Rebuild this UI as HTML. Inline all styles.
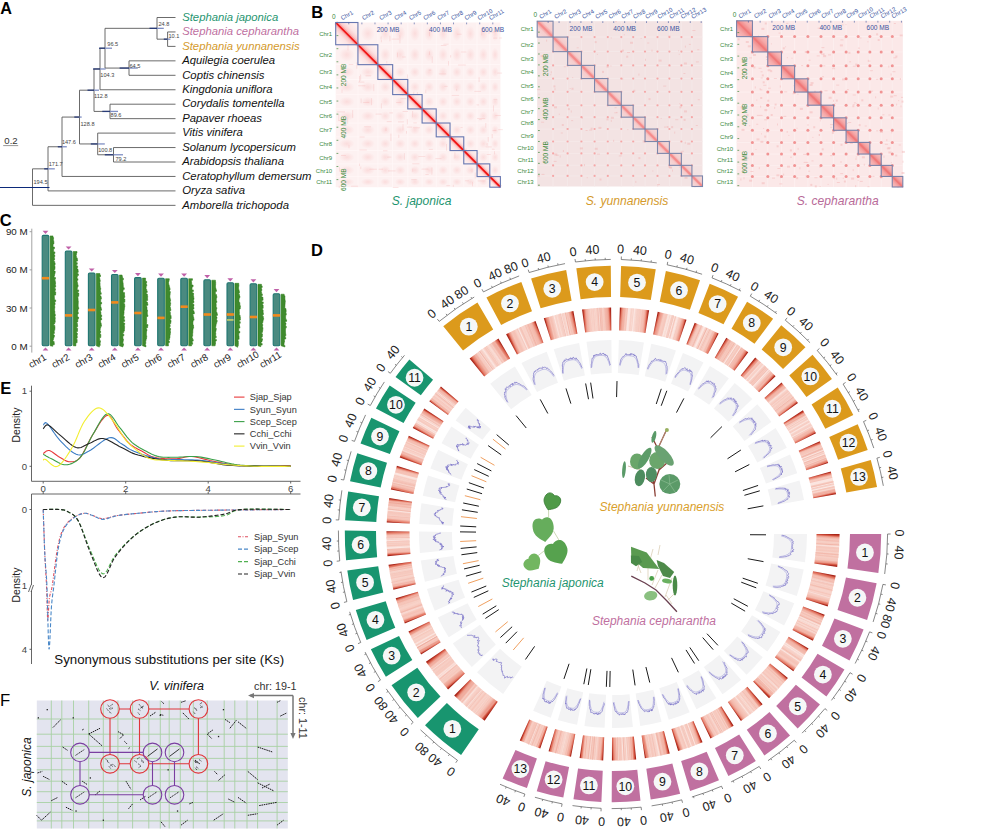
<!DOCTYPE html>
<html><head><meta charset="utf-8"><style>
html,body{margin:0;padding:0;background:#fff;}
body{width:1000px;height:830px;overflow:hidden;}
svg{display:block;font-family:"Liberation Sans", sans-serif;}
</style></head><body>
<svg width="1000" height="830" viewBox="0 0 1000 830">
<line x1="167.6" y1="31.95" x2="167.6" y2="46.40" stroke="#5a5a5a" stroke-width="0.9"/>
<line x1="167.6" y1="31.95" x2="175.5" y2="31.95" stroke="#5a5a5a" stroke-width="0.9"/>
<line x1="167.6" y1="46.40" x2="175.5" y2="46.40" stroke="#5a5a5a" stroke-width="0.9"/>
<line x1="157.0" y1="17.50" x2="157.0" y2="39.17" stroke="#5a5a5a" stroke-width="0.9"/>
<line x1="157.0" y1="17.50" x2="175.5" y2="17.50" stroke="#5a5a5a" stroke-width="0.9"/>
<line x1="157.0" y1="39.17" x2="167.6" y2="39.17" stroke="#5a5a5a" stroke-width="0.9"/>
<line x1="129.0" y1="60.85" x2="129.0" y2="75.30" stroke="#5a5a5a" stroke-width="0.9"/>
<line x1="129.0" y1="60.85" x2="175.5" y2="60.85" stroke="#5a5a5a" stroke-width="0.9"/>
<line x1="129.0" y1="75.30" x2="175.5" y2="75.30" stroke="#5a5a5a" stroke-width="0.9"/>
<line x1="105.0" y1="28.34" x2="105.0" y2="68.07" stroke="#5a5a5a" stroke-width="0.9"/>
<line x1="105.0" y1="28.34" x2="157.0" y2="28.34" stroke="#5a5a5a" stroke-width="0.9"/>
<line x1="105.0" y1="68.07" x2="129.0" y2="68.07" stroke="#5a5a5a" stroke-width="0.9"/>
<line x1="100.0" y1="48.21" x2="100.0" y2="89.75" stroke="#5a5a5a" stroke-width="0.9"/>
<line x1="100.0" y1="48.21" x2="105.0" y2="48.21" stroke="#5a5a5a" stroke-width="0.9"/>
<line x1="100.0" y1="89.75" x2="175.5" y2="89.75" stroke="#5a5a5a" stroke-width="0.9"/>
<line x1="110.0" y1="104.20" x2="110.0" y2="118.65" stroke="#5a5a5a" stroke-width="0.9"/>
<line x1="110.0" y1="104.20" x2="175.5" y2="104.20" stroke="#5a5a5a" stroke-width="0.9"/>
<line x1="110.0" y1="118.65" x2="175.5" y2="118.65" stroke="#5a5a5a" stroke-width="0.9"/>
<line x1="94.0" y1="68.98" x2="94.0" y2="111.42" stroke="#5a5a5a" stroke-width="0.9"/>
<line x1="94.0" y1="68.98" x2="100.0" y2="68.98" stroke="#5a5a5a" stroke-width="0.9"/>
<line x1="94.0" y1="111.42" x2="110.0" y2="111.42" stroke="#5a5a5a" stroke-width="0.9"/>
<line x1="113.5" y1="147.55" x2="113.5" y2="162.00" stroke="#5a5a5a" stroke-width="0.9"/>
<line x1="113.5" y1="147.55" x2="175.5" y2="147.55" stroke="#5a5a5a" stroke-width="0.9"/>
<line x1="113.5" y1="162.00" x2="175.5" y2="162.00" stroke="#5a5a5a" stroke-width="0.9"/>
<line x1="97.7" y1="133.10" x2="97.7" y2="154.77" stroke="#5a5a5a" stroke-width="0.9"/>
<line x1="97.7" y1="133.10" x2="175.5" y2="133.10" stroke="#5a5a5a" stroke-width="0.9"/>
<line x1="97.7" y1="154.77" x2="113.5" y2="154.77" stroke="#5a5a5a" stroke-width="0.9"/>
<line x1="79.5" y1="90.20" x2="79.5" y2="143.94" stroke="#5a5a5a" stroke-width="0.9"/>
<line x1="79.5" y1="90.20" x2="94.0" y2="90.20" stroke="#5a5a5a" stroke-width="0.9"/>
<line x1="79.5" y1="143.94" x2="97.7" y2="143.94" stroke="#5a5a5a" stroke-width="0.9"/>
<line x1="62.0" y1="117.07" x2="62.0" y2="176.45" stroke="#5a5a5a" stroke-width="0.9"/>
<line x1="62.0" y1="117.07" x2="79.5" y2="117.07" stroke="#5a5a5a" stroke-width="0.9"/>
<line x1="62.0" y1="176.45" x2="175.5" y2="176.45" stroke="#5a5a5a" stroke-width="0.9"/>
<line x1="48.0" y1="146.76" x2="48.0" y2="190.90" stroke="#5a5a5a" stroke-width="0.9"/>
<line x1="48.0" y1="146.76" x2="62.0" y2="146.76" stroke="#5a5a5a" stroke-width="0.9"/>
<line x1="48.0" y1="190.90" x2="175.5" y2="190.90" stroke="#5a5a5a" stroke-width="0.9"/>
<line x1="32.5" y1="168.83" x2="32.5" y2="205.35" stroke="#5a5a5a" stroke-width="0.9"/>
<line x1="32.5" y1="168.83" x2="48.0" y2="168.83" stroke="#5a5a5a" stroke-width="0.9"/>
<line x1="32.5" y1="205.35" x2="175.5" y2="205.35" stroke="#5a5a5a" stroke-width="0.9"/>
<line x1="149.5" y1="28.34" x2="157.0" y2="28.34" stroke="#2a3c78" stroke-width="1.3"/>
<line x1="157.0" y1="28.34" x2="163.8" y2="28.34" stroke="#7f8fc4" stroke-width="1.3"/>
<line x1="163.8" y1="39.17" x2="167.6" y2="39.17" stroke="#2a3c78" stroke-width="1.3"/>
<line x1="167.6" y1="39.17" x2="170.4" y2="39.17" stroke="#7f8fc4" stroke-width="1.3"/>
<line x1="99" y1="48.21" x2="105.0" y2="48.21" stroke="#2a3c78" stroke-width="1.3"/>
<line x1="105.0" y1="48.21" x2="112" y2="48.21" stroke="#7f8fc4" stroke-width="1.3"/>
<line x1="93" y1="68.98" x2="100.0" y2="68.98" stroke="#2a3c78" stroke-width="1.3"/>
<line x1="100.0" y1="68.98" x2="105.6" y2="68.98" stroke="#7f8fc4" stroke-width="1.3"/>
<line x1="119.6" y1="68.07" x2="129.0" y2="68.07" stroke="#2a3c78" stroke-width="1.3"/>
<line x1="129.0" y1="68.07" x2="137.8" y2="68.07" stroke="#7f8fc4" stroke-width="1.3"/>
<line x1="87.5" y1="90.20" x2="94.0" y2="90.20" stroke="#2a3c78" stroke-width="1.3"/>
<line x1="94.0" y1="90.20" x2="99" y2="90.20" stroke="#7f8fc4" stroke-width="1.3"/>
<line x1="102.3" y1="111.42" x2="110.0" y2="111.42" stroke="#2a3c78" stroke-width="1.3"/>
<line x1="110.0" y1="111.42" x2="118" y2="111.42" stroke="#7f8fc4" stroke-width="1.3"/>
<line x1="74.3" y1="117.07" x2="79.5" y2="117.07" stroke="#2a3c78" stroke-width="1.3"/>
<line x1="79.5" y1="117.07" x2="81.7" y2="117.07" stroke="#7f8fc4" stroke-width="1.3"/>
<line x1="90.8" y1="143.94" x2="97.7" y2="143.94" stroke="#2a3c78" stroke-width="1.3"/>
<line x1="97.7" y1="143.94" x2="104.8" y2="143.94" stroke="#7f8fc4" stroke-width="1.3"/>
<line x1="104.8" y1="154.77" x2="113.5" y2="154.77" stroke="#2a3c78" stroke-width="1.3"/>
<line x1="113.5" y1="154.77" x2="123" y2="154.77" stroke="#7f8fc4" stroke-width="1.3"/>
<line x1="57.8" y1="146.76" x2="62.0" y2="146.76" stroke="#2a3c78" stroke-width="1.3"/>
<line x1="62.0" y1="146.76" x2="66.8" y2="146.76" stroke="#7f8fc4" stroke-width="1.3"/>
<line x1="44.2" y1="168.83" x2="48.0" y2="168.83" stroke="#2a3c78" stroke-width="1.3"/>
<line x1="48.0" y1="168.83" x2="54.8" y2="168.83" stroke="#7f8fc4" stroke-width="1.3"/>
<line x1="0" y1="187.49" x2="49.5" y2="187.49" stroke="#0c2a7a" stroke-width="1.2"/>
<text x="158.4" y="25.5" font-size="5.6" fill="#444">24.8</text>
<text x="168.5" y="38.0" font-size="5.6" fill="#444">10.1</text>
<text x="107.3" y="46.0" font-size="5.6" fill="#444">96.5</text>
<text x="129.5" y="67.5" font-size="5.6" fill="#444">64.5</text>
<text x="100.3" y="77.3" font-size="5.6" fill="#444">104.3</text>
<text x="94" y="98.0" font-size="5.6" fill="#444">112.8</text>
<text x="110.6" y="117.2" font-size="5.6" fill="#444">89.6</text>
<text x="80.5" y="126.3" font-size="5.6" fill="#444">128.8</text>
<text x="61.9" y="143.9" font-size="5.6" fill="#444">147.6</text>
<text x="98.2" y="152.3" font-size="5.6" fill="#444">100.8</text>
<text x="115.5" y="160.9" font-size="5.6" fill="#444">79.2</text>
<text x="48.7" y="165.8" font-size="5.6" fill="#444">171.7</text>
<text x="33.5" y="184.0" font-size="5.6" fill="#444">194.5</text>
<text x="182.2" y="20.70" font-size="11.3" font-style="italic" fill="#1f9570">Stephania japonica</text>
<text x="182.2" y="35.15" font-size="11.3" font-style="italic" fill="#c0709f">Stephania cepharantha</text>
<text x="182.2" y="49.60" font-size="11.3" font-style="italic" fill="#d49a2c">Stephania yunnanensis</text>
<text x="182.2" y="64.05" font-size="11.3" font-style="italic" fill="#111">Aquilegia coerulea</text>
<text x="182.2" y="78.50" font-size="11.3" font-style="italic" fill="#111">Coptis chinensis</text>
<text x="182.2" y="92.95" font-size="11.3" font-style="italic" fill="#111">Kingdonia uniflora</text>
<text x="182.2" y="107.40" font-size="11.3" font-style="italic" fill="#111">Corydalis tomentella</text>
<text x="182.2" y="121.85" font-size="11.3" font-style="italic" fill="#111">Papaver rhoeas</text>
<text x="182.2" y="136.30" font-size="11.3" font-style="italic" fill="#111">Vitis vinifera</text>
<text x="182.2" y="150.75" font-size="11.3" font-style="italic" fill="#111">Solanum lycopersicum</text>
<text x="182.2" y="165.20" font-size="11.3" font-style="italic" fill="#111">Arabidopsis thaliana</text>
<text x="182.2" y="179.65" font-size="11.3" font-style="italic" fill="#111">Ceratophyllum demersum</text>
<text x="182.2" y="194.10" font-size="11.3" font-style="italic" fill="#111">Oryza sativa</text>
<text x="182.2" y="208.55" font-size="11.3" font-style="italic" fill="#111">Amborella trichopoda</text>
<text x="4.3" y="144" font-size="9.6" fill="#333">0.2</text>
<line x1="3.2" y1="145.6" x2="18.2" y2="145.6" stroke="#999" stroke-width="1"/>
<text x="0.2" y="14.4" font-size="16.2" font-weight="bold" fill="#000">A</text>
<text x="311.2" y="17.8" font-size="16.5" font-weight="bold" fill="#000">B</text>
<linearGradient id="hg_jap" x1="1" y1="0" x2="0" y2="1"><stop offset="0.1" stop-color="#fdf1f1"/><stop offset="0.3" stop-color="#fce4e4"/><stop offset="0.42" stop-color="#fac8c8"/><stop offset="0.5" stop-color="#f8a0a0"/><stop offset="0.58" stop-color="#fac8c8"/><stop offset="0.7" stop-color="#fce4e4"/><stop offset="0.9" stop-color="#fdf1f1"/></linearGradient>
<rect x="335.70" y="22.50" width="164.70" height="164.70" fill="#fdf1f1"/>
<line x1="357.93" y1="22.50" x2="357.93" y2="187.20" stroke="#fff8f8" stroke-width="0.8"/>
<line x1="335.70" y1="44.73" x2="500.40" y2="44.73" stroke="#fff8f8" stroke-width="0.8"/>
<line x1="377.85" y1="22.50" x2="377.85" y2="187.20" stroke="#fff8f8" stroke-width="0.8"/>
<line x1="335.70" y1="64.65" x2="500.40" y2="64.65" stroke="#fff8f8" stroke-width="0.8"/>
<line x1="392.67" y1="22.50" x2="392.67" y2="187.20" stroke="#fff8f8" stroke-width="0.8"/>
<line x1="335.70" y1="79.47" x2="500.40" y2="79.47" stroke="#fff8f8" stroke-width="0.8"/>
<line x1="407.79" y1="22.50" x2="407.79" y2="187.20" stroke="#fff8f8" stroke-width="0.8"/>
<line x1="335.70" y1="94.59" x2="500.40" y2="94.59" stroke="#fff8f8" stroke-width="0.8"/>
<line x1="422.10" y1="22.50" x2="422.10" y2="187.20" stroke="#fff8f8" stroke-width="0.8"/>
<line x1="335.70" y1="108.90" x2="500.40" y2="108.90" stroke="#fff8f8" stroke-width="0.8"/>
<line x1="436.22" y1="22.50" x2="436.22" y2="187.20" stroke="#fff8f8" stroke-width="0.8"/>
<line x1="335.70" y1="123.02" x2="500.40" y2="123.02" stroke="#fff8f8" stroke-width="0.8"/>
<line x1="450.04" y1="22.50" x2="450.04" y2="187.20" stroke="#fff8f8" stroke-width="0.8"/>
<line x1="335.70" y1="136.84" x2="500.40" y2="136.84" stroke="#fff8f8" stroke-width="0.8"/>
<line x1="463.76" y1="22.50" x2="463.76" y2="187.20" stroke="#fff8f8" stroke-width="0.8"/>
<line x1="335.70" y1="150.56" x2="500.40" y2="150.56" stroke="#fff8f8" stroke-width="0.8"/>
<line x1="477.07" y1="22.50" x2="477.07" y2="187.20" stroke="#fff8f8" stroke-width="0.8"/>
<line x1="335.70" y1="163.87" x2="500.40" y2="163.87" stroke="#fff8f8" stroke-width="0.8"/>
<line x1="489.79" y1="22.50" x2="489.79" y2="187.20" stroke="#fff8f8" stroke-width="0.8"/>
<line x1="335.70" y1="176.59" x2="500.40" y2="176.59" stroke="#fff8f8" stroke-width="0.8"/>
<radialGradient id="blob"><stop offset="0" stop-color="#f7b0b0" stop-opacity="0.32"/><stop offset="1" stop-color="#f7b0b0" stop-opacity="0"/></radialGradient>
<ellipse cx="346.8" cy="54.7" rx="7.8" ry="7.0" fill="url(#blob)"/>
<ellipse cx="346.8" cy="72.1" rx="7.8" ry="5.2" fill="url(#blob)"/>
<ellipse cx="346.8" cy="87.0" rx="7.8" ry="5.3" fill="url(#blob)"/>
<ellipse cx="346.8" cy="101.7" rx="7.8" ry="5.0" fill="url(#blob)"/>
<ellipse cx="346.8" cy="116.0" rx="7.8" ry="4.9" fill="url(#blob)"/>
<ellipse cx="346.8" cy="129.9" rx="7.8" ry="4.8" fill="url(#blob)"/>
<ellipse cx="346.8" cy="143.7" rx="7.8" ry="4.8" fill="url(#blob)"/>
<ellipse cx="346.8" cy="157.2" rx="7.8" ry="4.7" fill="url(#blob)"/>
<ellipse cx="346.8" cy="170.2" rx="7.8" ry="4.5" fill="url(#blob)"/>
<ellipse cx="346.8" cy="181.9" rx="7.8" ry="3.7" fill="url(#blob)"/>
<ellipse cx="367.9" cy="33.6" rx="7.0" ry="7.8" fill="url(#blob)"/>
<ellipse cx="367.9" cy="72.1" rx="7.0" ry="5.2" fill="url(#blob)"/>
<ellipse cx="367.9" cy="87.0" rx="7.0" ry="5.3" fill="url(#blob)"/>
<ellipse cx="367.9" cy="101.7" rx="7.0" ry="5.0" fill="url(#blob)"/>
<ellipse cx="367.9" cy="116.0" rx="7.0" ry="4.9" fill="url(#blob)"/>
<ellipse cx="367.9" cy="129.9" rx="7.0" ry="4.8" fill="url(#blob)"/>
<ellipse cx="367.9" cy="143.7" rx="7.0" ry="4.8" fill="url(#blob)"/>
<ellipse cx="367.9" cy="157.2" rx="7.0" ry="4.7" fill="url(#blob)"/>
<ellipse cx="367.9" cy="170.2" rx="7.0" ry="4.5" fill="url(#blob)"/>
<ellipse cx="367.9" cy="181.9" rx="7.0" ry="3.7" fill="url(#blob)"/>
<ellipse cx="385.3" cy="33.6" rx="5.2" ry="7.8" fill="url(#blob)"/>
<ellipse cx="385.3" cy="54.7" rx="5.2" ry="7.0" fill="url(#blob)"/>
<ellipse cx="385.3" cy="87.0" rx="5.2" ry="5.3" fill="url(#blob)"/>
<ellipse cx="385.3" cy="101.7" rx="5.2" ry="5.0" fill="url(#blob)"/>
<ellipse cx="385.3" cy="116.0" rx="5.2" ry="4.9" fill="url(#blob)"/>
<ellipse cx="385.3" cy="129.9" rx="5.2" ry="4.8" fill="url(#blob)"/>
<ellipse cx="385.3" cy="143.7" rx="5.2" ry="4.8" fill="url(#blob)"/>
<ellipse cx="385.3" cy="157.2" rx="5.2" ry="4.7" fill="url(#blob)"/>
<ellipse cx="385.3" cy="170.2" rx="5.2" ry="4.5" fill="url(#blob)"/>
<ellipse cx="385.3" cy="181.9" rx="5.2" ry="3.7" fill="url(#blob)"/>
<ellipse cx="400.2" cy="33.6" rx="5.3" ry="7.8" fill="url(#blob)"/>
<ellipse cx="400.2" cy="54.7" rx="5.3" ry="7.0" fill="url(#blob)"/>
<ellipse cx="400.2" cy="72.1" rx="5.3" ry="5.2" fill="url(#blob)"/>
<ellipse cx="400.2" cy="101.7" rx="5.3" ry="5.0" fill="url(#blob)"/>
<ellipse cx="400.2" cy="116.0" rx="5.3" ry="4.9" fill="url(#blob)"/>
<ellipse cx="400.2" cy="129.9" rx="5.3" ry="4.8" fill="url(#blob)"/>
<ellipse cx="400.2" cy="143.7" rx="5.3" ry="4.8" fill="url(#blob)"/>
<ellipse cx="400.2" cy="157.2" rx="5.3" ry="4.7" fill="url(#blob)"/>
<ellipse cx="400.2" cy="170.2" rx="5.3" ry="4.5" fill="url(#blob)"/>
<ellipse cx="400.2" cy="181.9" rx="5.3" ry="3.7" fill="url(#blob)"/>
<ellipse cx="414.9" cy="33.6" rx="5.0" ry="7.8" fill="url(#blob)"/>
<ellipse cx="414.9" cy="54.7" rx="5.0" ry="7.0" fill="url(#blob)"/>
<ellipse cx="414.9" cy="72.1" rx="5.0" ry="5.2" fill="url(#blob)"/>
<ellipse cx="414.9" cy="87.0" rx="5.0" ry="5.3" fill="url(#blob)"/>
<ellipse cx="414.9" cy="116.0" rx="5.0" ry="4.9" fill="url(#blob)"/>
<ellipse cx="414.9" cy="129.9" rx="5.0" ry="4.8" fill="url(#blob)"/>
<ellipse cx="414.9" cy="143.7" rx="5.0" ry="4.8" fill="url(#blob)"/>
<ellipse cx="414.9" cy="157.2" rx="5.0" ry="4.7" fill="url(#blob)"/>
<ellipse cx="414.9" cy="170.2" rx="5.0" ry="4.5" fill="url(#blob)"/>
<ellipse cx="414.9" cy="181.9" rx="5.0" ry="3.7" fill="url(#blob)"/>
<ellipse cx="429.2" cy="33.6" rx="4.9" ry="7.8" fill="url(#blob)"/>
<ellipse cx="429.2" cy="54.7" rx="4.9" ry="7.0" fill="url(#blob)"/>
<ellipse cx="429.2" cy="72.1" rx="4.9" ry="5.2" fill="url(#blob)"/>
<ellipse cx="429.2" cy="87.0" rx="4.9" ry="5.3" fill="url(#blob)"/>
<ellipse cx="429.2" cy="101.7" rx="4.9" ry="5.0" fill="url(#blob)"/>
<ellipse cx="429.2" cy="129.9" rx="4.9" ry="4.8" fill="url(#blob)"/>
<ellipse cx="429.2" cy="143.7" rx="4.9" ry="4.8" fill="url(#blob)"/>
<ellipse cx="429.2" cy="157.2" rx="4.9" ry="4.7" fill="url(#blob)"/>
<ellipse cx="429.2" cy="170.2" rx="4.9" ry="4.5" fill="url(#blob)"/>
<ellipse cx="429.2" cy="181.9" rx="4.9" ry="3.7" fill="url(#blob)"/>
<ellipse cx="443.1" cy="33.6" rx="4.8" ry="7.8" fill="url(#blob)"/>
<ellipse cx="443.1" cy="54.7" rx="4.8" ry="7.0" fill="url(#blob)"/>
<ellipse cx="443.1" cy="72.1" rx="4.8" ry="5.2" fill="url(#blob)"/>
<ellipse cx="443.1" cy="87.0" rx="4.8" ry="5.3" fill="url(#blob)"/>
<ellipse cx="443.1" cy="101.7" rx="4.8" ry="5.0" fill="url(#blob)"/>
<ellipse cx="443.1" cy="116.0" rx="4.8" ry="4.9" fill="url(#blob)"/>
<ellipse cx="443.1" cy="143.7" rx="4.8" ry="4.8" fill="url(#blob)"/>
<ellipse cx="443.1" cy="157.2" rx="4.8" ry="4.7" fill="url(#blob)"/>
<ellipse cx="443.1" cy="170.2" rx="4.8" ry="4.5" fill="url(#blob)"/>
<ellipse cx="443.1" cy="181.9" rx="4.8" ry="3.7" fill="url(#blob)"/>
<ellipse cx="456.9" cy="33.6" rx="4.8" ry="7.8" fill="url(#blob)"/>
<ellipse cx="456.9" cy="54.7" rx="4.8" ry="7.0" fill="url(#blob)"/>
<ellipse cx="456.9" cy="72.1" rx="4.8" ry="5.2" fill="url(#blob)"/>
<ellipse cx="456.9" cy="87.0" rx="4.8" ry="5.3" fill="url(#blob)"/>
<ellipse cx="456.9" cy="101.7" rx="4.8" ry="5.0" fill="url(#blob)"/>
<ellipse cx="456.9" cy="116.0" rx="4.8" ry="4.9" fill="url(#blob)"/>
<ellipse cx="456.9" cy="129.9" rx="4.8" ry="4.8" fill="url(#blob)"/>
<ellipse cx="456.9" cy="157.2" rx="4.8" ry="4.7" fill="url(#blob)"/>
<ellipse cx="456.9" cy="170.2" rx="4.8" ry="4.5" fill="url(#blob)"/>
<ellipse cx="456.9" cy="181.9" rx="4.8" ry="3.7" fill="url(#blob)"/>
<ellipse cx="470.4" cy="33.6" rx="4.7" ry="7.8" fill="url(#blob)"/>
<ellipse cx="470.4" cy="54.7" rx="4.7" ry="7.0" fill="url(#blob)"/>
<ellipse cx="470.4" cy="72.1" rx="4.7" ry="5.2" fill="url(#blob)"/>
<ellipse cx="470.4" cy="87.0" rx="4.7" ry="5.3" fill="url(#blob)"/>
<ellipse cx="470.4" cy="101.7" rx="4.7" ry="5.0" fill="url(#blob)"/>
<ellipse cx="470.4" cy="116.0" rx="4.7" ry="4.9" fill="url(#blob)"/>
<ellipse cx="470.4" cy="129.9" rx="4.7" ry="4.8" fill="url(#blob)"/>
<ellipse cx="470.4" cy="143.7" rx="4.7" ry="4.8" fill="url(#blob)"/>
<ellipse cx="470.4" cy="170.2" rx="4.7" ry="4.5" fill="url(#blob)"/>
<ellipse cx="470.4" cy="181.9" rx="4.7" ry="3.7" fill="url(#blob)"/>
<ellipse cx="483.4" cy="33.6" rx="4.5" ry="7.8" fill="url(#blob)"/>
<ellipse cx="483.4" cy="54.7" rx="4.5" ry="7.0" fill="url(#blob)"/>
<ellipse cx="483.4" cy="72.1" rx="4.5" ry="5.2" fill="url(#blob)"/>
<ellipse cx="483.4" cy="87.0" rx="4.5" ry="5.3" fill="url(#blob)"/>
<ellipse cx="483.4" cy="101.7" rx="4.5" ry="5.0" fill="url(#blob)"/>
<ellipse cx="483.4" cy="116.0" rx="4.5" ry="4.9" fill="url(#blob)"/>
<ellipse cx="483.4" cy="129.9" rx="4.5" ry="4.8" fill="url(#blob)"/>
<ellipse cx="483.4" cy="143.7" rx="4.5" ry="4.8" fill="url(#blob)"/>
<ellipse cx="483.4" cy="157.2" rx="4.5" ry="4.7" fill="url(#blob)"/>
<ellipse cx="483.4" cy="181.9" rx="4.5" ry="3.7" fill="url(#blob)"/>
<ellipse cx="495.1" cy="33.6" rx="3.7" ry="7.8" fill="url(#blob)"/>
<ellipse cx="495.1" cy="54.7" rx="3.7" ry="7.0" fill="url(#blob)"/>
<ellipse cx="495.1" cy="72.1" rx="3.7" ry="5.2" fill="url(#blob)"/>
<ellipse cx="495.1" cy="87.0" rx="3.7" ry="5.3" fill="url(#blob)"/>
<ellipse cx="495.1" cy="101.7" rx="3.7" ry="5.0" fill="url(#blob)"/>
<ellipse cx="495.1" cy="116.0" rx="3.7" ry="4.9" fill="url(#blob)"/>
<ellipse cx="495.1" cy="129.9" rx="3.7" ry="4.8" fill="url(#blob)"/>
<ellipse cx="495.1" cy="143.7" rx="3.7" ry="4.8" fill="url(#blob)"/>
<ellipse cx="495.1" cy="157.2" rx="3.7" ry="4.7" fill="url(#blob)"/>
<ellipse cx="495.1" cy="170.2" rx="3.7" ry="4.5" fill="url(#blob)"/>
<rect x="359.5" y="149.6" width="7.2" height="0.8" fill="#f4a8a8" opacity="0.35"/>
<rect x="460.5" y="127.0" width="2.1" height="0.8" fill="#f4a8a8" opacity="0.35"/>
<rect x="416.9" y="92.0" width="0.8" height="4.1" fill="#f4a8a8" opacity="0.35"/>
<rect x="413.4" y="122.5" width="3.4" height="0.8" fill="#f4a8a8" opacity="0.35"/>
<rect x="360.7" y="98.5" width="0.8" height="4.7" fill="#f4a8a8" opacity="0.35"/>
<rect x="380.9" y="39.8" width="0.8" height="2.5" fill="#f4a8a8" opacity="0.35"/>
<rect x="390.5" y="133.7" width="0.8" height="7.4" fill="#f4a8a8" opacity="0.35"/>
<rect x="360.3" y="74.5" width="0.8" height="6.2" fill="#f4a8a8" opacity="0.35"/>
<rect x="380.9" y="103.3" width="0.8" height="5.2" fill="#f4a8a8" opacity="0.35"/>
<rect x="411.2" y="179.3" width="5.5" height="0.8" fill="#f4a8a8" opacity="0.35"/>
<rect x="358.3" y="81.7" width="6.1" height="0.8" fill="#f4a8a8" opacity="0.35"/>
<rect x="498.2" y="129.3" width="4.6" height="0.8" fill="#f4a8a8" opacity="0.35"/>
<rect x="402.2" y="56.6" width="3.5" height="0.8" fill="#f4a8a8" opacity="0.35"/>
<rect x="431.5" y="167.5" width="0.8" height="7.2" fill="#f4a8a8" opacity="0.35"/>
<rect x="392.0" y="81.5" width="0.8" height="5.4" fill="#f4a8a8" opacity="0.35"/>
<rect x="351.1" y="185.8" width="7.1" height="0.8" fill="#f4a8a8" opacity="0.35"/>
<rect x="339.0" y="167.3" width="0.8" height="4.4" fill="#f4a8a8" opacity="0.35"/>
<rect x="446.3" y="185.3" width="3.9" height="0.8" fill="#f4a8a8" opacity="0.35"/>
<rect x="399.9" y="94.8" width="8.0" height="0.8" fill="#f4a8a8" opacity="0.35"/>
<rect x="413.4" y="91.7" width="0.8" height="7.4" fill="#f4a8a8" opacity="0.35"/>
<rect x="371.1" y="98.2" width="0.8" height="6.9" fill="#f4a8a8" opacity="0.35"/>
<rect x="428.8" y="148.9" width="4.0" height="0.8" fill="#f4a8a8" opacity="0.35"/>
<rect x="359.6" y="136.6" width="4.9" height="0.8" fill="#f4a8a8" opacity="0.35"/>
<rect x="457.2" y="33.8" width="4.4" height="0.8" fill="#f4a8a8" opacity="0.35"/>
<rect x="472.2" y="181.9" width="0.8" height="4.4" fill="#f4a8a8" opacity="0.35"/>
<rect x="386.4" y="61.0" width="0.8" height="2.3" fill="#f4a8a8" opacity="0.35"/>
<rect x="341.0" y="155.0" width="4.9" height="0.8" fill="#f4a8a8" opacity="0.35"/>
<rect x="387.1" y="156.7" width="4.2" height="0.8" fill="#f4a8a8" opacity="0.35"/>
<rect x="380.7" y="36.3" width="0.8" height="3.0" fill="#f4a8a8" opacity="0.35"/>
<rect x="485.6" y="146.5" width="6.0" height="0.8" fill="#f4a8a8" opacity="0.35"/>
<rect x="477.1" y="118.2" width="8.0" height="0.8" fill="#f4a8a8" opacity="0.35"/>
<rect x="493.2" y="105.4" width="0.8" height="6.1" fill="#f4a8a8" opacity="0.35"/>
<rect x="441.4" y="138.6" width="4.4" height="0.8" fill="#f4a8a8" opacity="0.35"/>
<rect x="425.4" y="89.6" width="0.8" height="3.6" fill="#f4a8a8" opacity="0.35"/>
<rect x="359.0" y="76.0" width="0.8" height="5.9" fill="#f4a8a8" opacity="0.35"/>
<rect x="347.6" y="42.5" width="0.8" height="7.9" fill="#f4a8a8" opacity="0.35"/>
<rect x="460.9" y="51.6" width="5.4" height="0.8" fill="#f4a8a8" opacity="0.35"/>
<rect x="402.6" y="111.0" width="5.4" height="0.8" fill="#f4a8a8" opacity="0.35"/>
<rect x="343.1" y="41.6" width="7.5" height="0.8" fill="#f4a8a8" opacity="0.35"/>
<rect x="418.5" y="156.1" width="6.8" height="0.8" fill="#f4a8a8" opacity="0.35"/>
<rect x="378.7" y="168.8" width="4.5" height="0.8" fill="#f4a8a8" opacity="0.35"/>
<rect x="382.1" y="73.1" width="5.6" height="0.8" fill="#f4a8a8" opacity="0.35"/>
<rect x="487.8" y="137.0" width="0.8" height="4.7" fill="#f4a8a8" opacity="0.35"/>
<rect x="429.2" y="31.8" width="0.8" height="4.3" fill="#f4a8a8" opacity="0.35"/>
<rect x="488.6" y="31.3" width="0.8" height="2.8" fill="#f4a8a8" opacity="0.35"/>
<rect x="398.4" y="134.7" width="0.8" height="3.2" fill="#f4a8a8" opacity="0.35"/>
<rect x="486.7" y="154.0" width="4.0" height="0.8" fill="#f4a8a8" opacity="0.35"/>
<rect x="452.9" y="184.7" width="0.8" height="2.1" fill="#f4a8a8" opacity="0.35"/>
<rect x="388.0" y="170.5" width="7.5" height="0.8" fill="#f4a8a8" opacity="0.35"/>
<rect x="491.8" y="134.0" width="0.8" height="4.2" fill="#f4a8a8" opacity="0.35"/>
<rect x="478.9" y="119.3" width="3.0" height="0.8" fill="#f4a8a8" opacity="0.35"/>
<rect x="406.2" y="131.0" width="0.8" height="2.6" fill="#f4a8a8" opacity="0.35"/>
<rect x="413.1" y="127.4" width="6.8" height="0.8" fill="#f4a8a8" opacity="0.35"/>
<rect x="454.5" y="152.4" width="0.8" height="6.0" fill="#f4a8a8" opacity="0.35"/>
<rect x="478.7" y="77.2" width="0.8" height="4.8" fill="#f4a8a8" opacity="0.35"/>
<rect x="345.2" y="81.5" width="2.4" height="0.8" fill="#f4a8a8" opacity="0.35"/>
<rect x="383.0" y="150.4" width="4.4" height="0.8" fill="#f4a8a8" opacity="0.35"/>
<rect x="392.2" y="29.2" width="4.5" height="0.8" fill="#f4a8a8" opacity="0.35"/>
<rect x="426.3" y="116.6" width="2.7" height="0.8" fill="#f4a8a8" opacity="0.35"/>
<rect x="398.0" y="121.5" width="5.9" height="0.8" fill="#f4a8a8" opacity="0.35"/>
<rect x="480.1" y="167.1" width="5.7" height="0.8" fill="#f4a8a8" opacity="0.35"/>
<rect x="371.9" y="56.7" width="0.8" height="6.2" fill="#f4a8a8" opacity="0.35"/>
<rect x="400.4" y="98.3" width="5.9" height="0.8" fill="#f4a8a8" opacity="0.35"/>
<rect x="358.1" y="85.4" width="7.2" height="0.8" fill="#f4a8a8" opacity="0.35"/>
<rect x="470.5" y="152.8" width="7.9" height="0.8" fill="#f4a8a8" opacity="0.35"/>
<rect x="485.2" y="178.6" width="5.9" height="0.8" fill="#f4a8a8" opacity="0.35"/>
<rect x="389.5" y="35.8" width="0.8" height="5.4" fill="#f4a8a8" opacity="0.35"/>
<rect x="402.3" y="88.4" width="0.8" height="7.3" fill="#f4a8a8" opacity="0.35"/>
<rect x="397.0" y="52.5" width="0.8" height="4.8" fill="#f4a8a8" opacity="0.35"/>
<rect x="360.4" y="166.6" width="0.8" height="2.6" fill="#f4a8a8" opacity="0.35"/>
<rect x="338.7" y="120.2" width="6.4" height="0.8" fill="#f4a8a8" opacity="0.35"/>
<rect x="465.7" y="148.5" width="0.8" height="5.4" fill="#f4a8a8" opacity="0.35"/>
<rect x="407.1" y="74.5" width="0.8" height="3.7" fill="#f4a8a8" opacity="0.35"/>
<rect x="459.8" y="138.0" width="0.8" height="3.2" fill="#f4a8a8" opacity="0.35"/>
<rect x="451.7" y="94.9" width="7.4" height="0.8" fill="#f4a8a8" opacity="0.35"/>
<rect x="474.8" y="172.6" width="0.8" height="5.8" fill="#f4a8a8" opacity="0.35"/>
<rect x="485.4" y="123.0" width="0.8" height="4.5" fill="#f4a8a8" opacity="0.35"/>
<rect x="450.3" y="55.1" width="0.8" height="2.4" fill="#f4a8a8" opacity="0.35"/>
<rect x="406.9" y="119.1" width="0.8" height="5.3" fill="#f4a8a8" opacity="0.35"/>
<rect x="464.9" y="180.4" width="3.9" height="0.8" fill="#f4a8a8" opacity="0.35"/>
<rect x="352.3" y="110.2" width="0.8" height="7.6" fill="#f4a8a8" opacity="0.35"/>
<rect x="458.0" y="64.6" width="7.8" height="0.8" fill="#f4a8a8" opacity="0.35"/>
<rect x="412.4" y="168.6" width="0.8" height="3.1" fill="#f4a8a8" opacity="0.35"/>
<rect x="492.0" y="148.8" width="2.6" height="0.8" fill="#f4a8a8" opacity="0.35"/>
<rect x="363.2" y="102.2" width="6.1" height="0.8" fill="#f4a8a8" opacity="0.35"/>
<rect x="495.4" y="115.0" width="5.5" height="0.8" fill="#f4a8a8" opacity="0.35"/>
<rect x="373.4" y="84.0" width="0.8" height="7.2" fill="#f4a8a8" opacity="0.35"/>
<rect x="338.4" y="114.0" width="0.8" height="6.9" fill="#f4a8a8" opacity="0.35"/>
<rect x="493.2" y="37.7" width="4.1" height="0.8" fill="#f4a8a8" opacity="0.35"/>
<rect x="448.1" y="61.1" width="0.8" height="4.4" fill="#f4a8a8" opacity="0.35"/>
<rect x="471.6" y="168.8" width="0.8" height="3.6" fill="#f4a8a8" opacity="0.35"/>
<rect x="386.7" y="121.3" width="5.0" height="0.8" fill="#f4a8a8" opacity="0.35"/>
<rect x="421.6" y="168.7" width="6.8" height="0.8" fill="#f4a8a8" opacity="0.35"/>
<rect x="444.4" y="85.9" width="3.3" height="0.8" fill="#f4a8a8" opacity="0.35"/>
<rect x="481.4" y="27.9" width="0.8" height="7.5" fill="#f4a8a8" opacity="0.35"/>
<rect x="338.8" y="185.8" width="0.8" height="2.3" fill="#f4a8a8" opacity="0.35"/>
<rect x="499.2" y="37.6" width="2.9" height="0.8" fill="#f4a8a8" opacity="0.35"/>
<rect x="425.4" y="174.2" width="3.3" height="0.8" fill="#f4a8a8" opacity="0.35"/>
<rect x="389.2" y="112.5" width="3.8" height="0.8" fill="#f4a8a8" opacity="0.35"/>
<rect x="464.1" y="157.3" width="0.8" height="3.4" fill="#f4a8a8" opacity="0.35"/>
<rect x="456.3" y="88.8" width="0.8" height="2.0" fill="#f4a8a8" opacity="0.35"/>
<rect x="399.5" y="35.3" width="0.8" height="8.0" fill="#f4a8a8" opacity="0.35"/>
<rect x="347.3" y="117.6" width="0.8" height="6.2" fill="#f4a8a8" opacity="0.35"/>
<rect x="446.0" y="144.0" width="0.8" height="6.6" fill="#f4a8a8" opacity="0.35"/>
<rect x="497.3" y="72.7" width="4.8" height="0.8" fill="#f4a8a8" opacity="0.35"/>
<rect x="337.0" y="111.5" width="8.0" height="0.8" fill="#f4a8a8" opacity="0.35"/>
<rect x="494.2" y="151.2" width="0.8" height="3.1" fill="#f4a8a8" opacity="0.35"/>
<rect x="396.1" y="102.2" width="5.2" height="0.8" fill="#f4a8a8" opacity="0.35"/>
<rect x="435.4" y="158.3" width="6.1" height="0.8" fill="#f4a8a8" opacity="0.35"/>
<rect x="412.3" y="111.0" width="0.8" height="6.3" fill="#f4a8a8" opacity="0.35"/>
<rect x="492.6" y="130.2" width="3.8" height="0.8" fill="#f4a8a8" opacity="0.35"/>
<rect x="375.6" y="113.7" width="6.0" height="0.8" fill="#f4a8a8" opacity="0.35"/>
<rect x="438.8" y="73.5" width="7.3" height="0.8" fill="#f4a8a8" opacity="0.35"/>
<rect x="493.6" y="99.3" width="3.6" height="0.8" fill="#f4a8a8" opacity="0.35"/>
<rect x="429.2" y="51.4" width="0.8" height="3.4" fill="#f4a8a8" opacity="0.35"/>
<rect x="348.6" y="144.7" width="0.8" height="3.5" fill="#f4a8a8" opacity="0.35"/>
<rect x="440.9" y="45.0" width="5.6" height="0.8" fill="#f4a8a8" opacity="0.35"/>
<rect x="412.3" y="163.4" width="7.1" height="0.8" fill="#f4a8a8" opacity="0.35"/>
<rect x="476.6" y="104.5" width="2.5" height="0.8" fill="#f4a8a8" opacity="0.35"/>
<rect x="391.8" y="38.7" width="7.2" height="0.8" fill="#f4a8a8" opacity="0.35"/>
<rect x="443.4" y="43.8" width="5.1" height="0.8" fill="#f4a8a8" opacity="0.35"/>
<rect x="402.6" y="124.3" width="0.8" height="6.1" fill="#f4a8a8" opacity="0.35"/>
<rect x="341.6" y="89.6" width="0.8" height="3.3" fill="#f4a8a8" opacity="0.35"/>
<rect x="486.7" y="143.1" width="0.8" height="2.8" fill="#f4a8a8" opacity="0.35"/>
<rect x="428.7" y="69.7" width="2.5" height="0.8" fill="#f4a8a8" opacity="0.35"/>
<rect x="356.4" y="62.4" width="0.8" height="6.3" fill="#f4a8a8" opacity="0.35"/>
<rect x="406.9" y="126.7" width="5.2" height="0.8" fill="#f4a8a8" opacity="0.35"/>
<rect x="494.7" y="184.1" width="0.8" height="3.7" fill="#f4a8a8" opacity="0.35"/>
<rect x="385.6" y="127.6" width="0.8" height="3.4" fill="#f4a8a8" opacity="0.35"/>
<rect x="348.7" y="64.0" width="4.6" height="0.8" fill="#f4a8a8" opacity="0.35"/>
<rect x="431.8" y="56.5" width="0.8" height="6.3" fill="#f4a8a8" opacity="0.35"/>
<rect x="403.9" y="153.2" width="0.8" height="6.5" fill="#f4a8a8" opacity="0.35"/>
<rect x="364.2" y="126.4" width="6.8" height="0.8" fill="#f4a8a8" opacity="0.35"/>
<rect x="489.9" y="31.5" width="5.9" height="0.8" fill="#f4a8a8" opacity="0.35"/>
<rect x="365.6" y="75.4" width="5.6" height="0.8" fill="#f4a8a8" opacity="0.35"/>
<rect x="392.9" y="187.2" width="5.6" height="0.8" fill="#f4a8a8" opacity="0.35"/>
<rect x="477.7" y="180.5" width="7.8" height="0.8" fill="#f4a8a8" opacity="0.35"/>
<rect x="359.1" y="163.6" width="0.8" height="2.4" fill="#f4a8a8" opacity="0.35"/>
<rect x="369.3" y="168.8" width="7.5" height="0.8" fill="#f4a8a8" opacity="0.35"/>
<rect x="474.3" y="90.9" width="6.8" height="0.8" fill="#f4a8a8" opacity="0.35"/>
<rect x="335.70" y="22.50" width="22.23" height="22.23" fill="url(#hg_jap)"/>
<line x1="335.70" y1="22.50" x2="357.93" y2="44.73" stroke="#f66" stroke-width="4" opacity="0.25"/>
<line x1="335.70" y1="22.50" x2="357.93" y2="44.73" stroke="#f01010" stroke-width="1.7"/>
<rect x="357.93" y="44.73" width="19.92" height="19.92" fill="url(#hg_jap)"/>
<line x1="357.93" y1="44.73" x2="377.85" y2="64.65" stroke="#f66" stroke-width="4" opacity="0.25"/>
<line x1="357.93" y1="44.73" x2="377.85" y2="64.65" stroke="#f01010" stroke-width="1.7"/>
<rect x="377.85" y="64.65" width="14.82" height="14.82" fill="url(#hg_jap)"/>
<line x1="377.85" y1="64.65" x2="392.67" y2="79.47" stroke="#f66" stroke-width="4" opacity="0.25"/>
<line x1="377.85" y1="64.65" x2="392.67" y2="79.47" stroke="#f01010" stroke-width="1.7"/>
<rect x="392.67" y="79.47" width="15.12" height="15.12" fill="url(#hg_jap)"/>
<line x1="392.67" y1="79.47" x2="407.79" y2="94.59" stroke="#f66" stroke-width="4" opacity="0.25"/>
<line x1="392.67" y1="79.47" x2="407.79" y2="94.59" stroke="#f01010" stroke-width="1.7"/>
<rect x="407.79" y="94.59" width="14.32" height="14.32" fill="url(#hg_jap)"/>
<line x1="407.79" y1="94.59" x2="422.10" y2="108.90" stroke="#f66" stroke-width="4" opacity="0.25"/>
<line x1="407.79" y1="94.59" x2="422.10" y2="108.90" stroke="#f01010" stroke-width="1.7"/>
<rect x="422.10" y="108.90" width="14.12" height="14.12" fill="url(#hg_jap)"/>
<line x1="422.10" y1="108.90" x2="436.22" y2="123.02" stroke="#f66" stroke-width="4" opacity="0.25"/>
<line x1="422.10" y1="108.90" x2="436.22" y2="123.02" stroke="#f01010" stroke-width="1.7"/>
<rect x="436.22" y="123.02" width="13.82" height="13.82" fill="url(#hg_jap)"/>
<line x1="436.22" y1="123.02" x2="450.04" y2="136.84" stroke="#f66" stroke-width="4" opacity="0.25"/>
<line x1="436.22" y1="123.02" x2="450.04" y2="136.84" stroke="#f01010" stroke-width="1.7"/>
<rect x="450.04" y="136.84" width="13.72" height="13.72" fill="url(#hg_jap)"/>
<line x1="450.04" y1="136.84" x2="463.76" y2="150.56" stroke="#f66" stroke-width="4" opacity="0.25"/>
<line x1="450.04" y1="136.84" x2="463.76" y2="150.56" stroke="#f01010" stroke-width="1.7"/>
<rect x="463.76" y="150.56" width="13.32" height="13.32" fill="url(#hg_jap)"/>
<line x1="463.76" y1="150.56" x2="477.07" y2="163.87" stroke="#f66" stroke-width="4" opacity="0.25"/>
<line x1="463.76" y1="150.56" x2="477.07" y2="163.87" stroke="#f01010" stroke-width="1.7"/>
<rect x="477.07" y="163.87" width="12.72" height="12.72" fill="url(#hg_jap)"/>
<line x1="477.07" y1="163.87" x2="489.79" y2="176.59" stroke="#f66" stroke-width="4" opacity="0.25"/>
<line x1="477.07" y1="163.87" x2="489.79" y2="176.59" stroke="#f01010" stroke-width="1.7"/>
<rect x="489.79" y="176.59" width="10.61" height="10.61" fill="url(#hg_jap)"/>
<line x1="489.79" y1="176.59" x2="500.40" y2="187.20" stroke="#f66" stroke-width="4" opacity="0.25"/>
<line x1="489.79" y1="176.59" x2="500.40" y2="187.20" stroke="#f01010" stroke-width="1.7"/>
<rect x="335.70" y="22.50" width="22.23" height="22.23" fill="none" stroke="#6676b0" stroke-width="1.1"/>
<rect x="357.93" y="44.73" width="19.92" height="19.92" fill="none" stroke="#6676b0" stroke-width="1.1"/>
<rect x="377.85" y="64.65" width="14.82" height="14.82" fill="none" stroke="#6676b0" stroke-width="1.1"/>
<rect x="392.67" y="79.47" width="15.12" height="15.12" fill="none" stroke="#6676b0" stroke-width="1.1"/>
<rect x="407.79" y="94.59" width="14.32" height="14.32" fill="none" stroke="#6676b0" stroke-width="1.1"/>
<rect x="422.10" y="108.90" width="14.12" height="14.12" fill="none" stroke="#6676b0" stroke-width="1.1"/>
<rect x="436.22" y="123.02" width="13.82" height="13.82" fill="none" stroke="#6676b0" stroke-width="1.1"/>
<rect x="450.04" y="136.84" width="13.72" height="13.72" fill="none" stroke="#6676b0" stroke-width="1.1"/>
<rect x="463.76" y="150.56" width="13.32" height="13.32" fill="none" stroke="#6676b0" stroke-width="1.1"/>
<rect x="477.07" y="163.87" width="12.72" height="12.72" fill="none" stroke="#6676b0" stroke-width="1.1"/>
<rect x="489.79" y="176.59" width="10.61" height="10.61" fill="none" stroke="#6676b0" stroke-width="1.1"/>
<line x1="348.79" y1="22.50" x2="348.79" y2="24.30" stroke="#3b55a0" stroke-width="0.6"/>
<line x1="336.50" y1="35.59" x2="338.30" y2="35.59" stroke="#3a8a3a" stroke-width="0.7"/>
<line x1="361.88" y1="22.50" x2="361.88" y2="24.30" stroke="#3b55a0" stroke-width="0.6"/>
<line x1="336.50" y1="48.68" x2="338.30" y2="48.68" stroke="#3a8a3a" stroke-width="0.7"/>
<line x1="374.97" y1="22.50" x2="374.97" y2="24.30" stroke="#3b55a0" stroke-width="0.6"/>
<line x1="336.50" y1="61.77" x2="338.30" y2="61.77" stroke="#3a8a3a" stroke-width="0.7"/>
<line x1="388.07" y1="22.50" x2="388.07" y2="24.30" stroke="#3b55a0" stroke-width="0.6"/>
<line x1="336.50" y1="74.87" x2="338.30" y2="74.87" stroke="#3a8a3a" stroke-width="0.7"/>
<line x1="401.16" y1="22.50" x2="401.16" y2="24.30" stroke="#3b55a0" stroke-width="0.6"/>
<line x1="336.50" y1="87.96" x2="338.30" y2="87.96" stroke="#3a8a3a" stroke-width="0.7"/>
<line x1="414.25" y1="22.50" x2="414.25" y2="24.30" stroke="#3b55a0" stroke-width="0.6"/>
<line x1="336.50" y1="101.05" x2="338.30" y2="101.05" stroke="#3a8a3a" stroke-width="0.7"/>
<line x1="427.34" y1="22.50" x2="427.34" y2="24.30" stroke="#3b55a0" stroke-width="0.6"/>
<line x1="336.50" y1="114.14" x2="338.30" y2="114.14" stroke="#3a8a3a" stroke-width="0.7"/>
<line x1="440.43" y1="22.50" x2="440.43" y2="24.30" stroke="#3b55a0" stroke-width="0.6"/>
<line x1="336.50" y1="127.23" x2="338.30" y2="127.23" stroke="#3a8a3a" stroke-width="0.7"/>
<line x1="453.52" y1="22.50" x2="453.52" y2="24.30" stroke="#3b55a0" stroke-width="0.6"/>
<line x1="336.50" y1="140.32" x2="338.30" y2="140.32" stroke="#3a8a3a" stroke-width="0.7"/>
<line x1="466.62" y1="22.50" x2="466.62" y2="24.30" stroke="#3b55a0" stroke-width="0.6"/>
<line x1="336.50" y1="153.42" x2="338.30" y2="153.42" stroke="#3a8a3a" stroke-width="0.7"/>
<line x1="479.71" y1="22.50" x2="479.71" y2="24.30" stroke="#3b55a0" stroke-width="0.6"/>
<line x1="336.50" y1="166.51" x2="338.30" y2="166.51" stroke="#3a8a3a" stroke-width="0.7"/>
<line x1="492.80" y1="22.50" x2="492.80" y2="24.30" stroke="#3b55a0" stroke-width="0.6"/>
<line x1="336.50" y1="179.60" x2="338.30" y2="179.60" stroke="#3a8a3a" stroke-width="0.7"/>
<text x="388.07" y="32.00" font-size="6.6" fill="#3b55a0" text-anchor="middle">200 MB</text>
<text transform="translate(346.20,74.87) rotate(-90)" font-size="6.6" fill="#3a8a3a" text-anchor="middle">200 MB</text>
<text x="440.43" y="32.00" font-size="6.6" fill="#3b55a0" text-anchor="middle">400 MB</text>
<text transform="translate(346.20,127.23) rotate(-90)" font-size="6.6" fill="#3a8a3a" text-anchor="middle">400 MB</text>
<text x="492.80" y="32.00" font-size="6.6" fill="#3b55a0" text-anchor="middle">600 MB</text>
<text transform="translate(346.20,179.60) rotate(-90)" font-size="6.6" fill="#3a8a3a" text-anchor="middle">600 MB</text>
<text x="333.70" y="18.50" font-size="6.5" fill="#3a8a3a" text-anchor="middle">0</text>
<text transform="translate(342.31,20.30) rotate(-30)" font-size="6.0" fill="#3b55a0">Chr1</text>
<text x="332.20" y="35.91" font-size="6.0" fill="#3a8a3a" text-anchor="end">Chr1</text>
<text transform="translate(363.39,20.30) rotate(-30)" font-size="6.0" fill="#3b55a0">Chr2</text>
<text x="332.20" y="56.99" font-size="6.0" fill="#3a8a3a" text-anchor="end">Chr2</text>
<text transform="translate(380.76,20.30) rotate(-30)" font-size="6.0" fill="#3b55a0">Chr3</text>
<text x="332.20" y="74.36" font-size="6.0" fill="#3a8a3a" text-anchor="end">Chr3</text>
<text transform="translate(395.73,20.30) rotate(-30)" font-size="6.0" fill="#3b55a0">Chr4</text>
<text x="332.20" y="89.33" font-size="6.0" fill="#3a8a3a" text-anchor="end">Chr4</text>
<text transform="translate(410.45,20.30) rotate(-30)" font-size="6.0" fill="#3b55a0">Chr5</text>
<text x="332.20" y="104.05" font-size="6.0" fill="#3a8a3a" text-anchor="end">Chr5</text>
<text transform="translate(424.66,20.30) rotate(-30)" font-size="6.0" fill="#3b55a0">Chr6</text>
<text x="332.20" y="118.26" font-size="6.0" fill="#3a8a3a" text-anchor="end">Chr6</text>
<text transform="translate(438.63,20.30) rotate(-30)" font-size="6.0" fill="#3b55a0">Chr7</text>
<text x="332.20" y="132.23" font-size="6.0" fill="#3a8a3a" text-anchor="end">Chr7</text>
<text transform="translate(452.40,20.30) rotate(-30)" font-size="6.0" fill="#3b55a0">Chr8</text>
<text x="332.20" y="146.00" font-size="6.0" fill="#3a8a3a" text-anchor="end">Chr8</text>
<text transform="translate(465.91,20.30) rotate(-30)" font-size="6.0" fill="#3b55a0">Chr9</text>
<text x="332.20" y="159.51" font-size="6.0" fill="#3a8a3a" text-anchor="end">Chr9</text>
<text transform="translate(478.93,20.30) rotate(-30)" font-size="6.0" fill="#3b55a0">Chr10</text>
<text x="332.20" y="172.53" font-size="6.0" fill="#3a8a3a" text-anchor="end">Chr10</text>
<text transform="translate(490.59,20.30) rotate(-30)" font-size="6.0" fill="#3b55a0">Chr11</text>
<text x="332.20" y="184.19" font-size="6.0" fill="#3a8a3a" text-anchor="end">Chr11</text>
<text x="421.6" y="204.5" font-size="12.1" font-style="italic" fill="#1f9570" text-anchor="middle">S. japonica</text>
<linearGradient id="hg_yun" x1="1" y1="0" x2="0" y2="1"><stop offset="0" stop-color="#f4dcdc"/><stop offset="0.35" stop-color="#f5cccc"/><stop offset="0.5" stop-color="#f59090"/><stop offset="0.65" stop-color="#f5cccc"/><stop offset="1" stop-color="#f4dcdc"/></linearGradient>
<rect x="537.20" y="21.20" width="165.30" height="165.30" fill="#f3e3e3"/>
<line x1="553.06" y1="21.20" x2="553.06" y2="186.50" stroke="#f5eaea" stroke-width="0.8"/>
<line x1="537.20" y1="37.06" x2="702.50" y2="37.06" stroke="#f5eaea" stroke-width="0.8"/>
<line x1="567.63" y1="21.20" x2="567.63" y2="186.50" stroke="#f5eaea" stroke-width="0.8"/>
<line x1="537.20" y1="51.63" x2="702.50" y2="51.63" stroke="#f5eaea" stroke-width="0.8"/>
<line x1="581.39" y1="21.20" x2="581.39" y2="186.50" stroke="#f5eaea" stroke-width="0.8"/>
<line x1="537.20" y1="65.39" x2="702.50" y2="65.39" stroke="#f5eaea" stroke-width="0.8"/>
<line x1="594.56" y1="21.20" x2="594.56" y2="186.50" stroke="#f5eaea" stroke-width="0.8"/>
<line x1="537.20" y1="78.56" x2="702.50" y2="78.56" stroke="#f5eaea" stroke-width="0.8"/>
<line x1="607.83" y1="21.20" x2="607.83" y2="186.50" stroke="#f5eaea" stroke-width="0.8"/>
<line x1="537.20" y1="91.83" x2="702.50" y2="91.83" stroke="#f5eaea" stroke-width="0.8"/>
<line x1="621.30" y1="21.20" x2="621.30" y2="186.50" stroke="#f5eaea" stroke-width="0.8"/>
<line x1="537.20" y1="105.30" x2="702.50" y2="105.30" stroke="#f5eaea" stroke-width="0.8"/>
<line x1="633.17" y1="21.20" x2="633.17" y2="186.50" stroke="#f5eaea" stroke-width="0.8"/>
<line x1="537.20" y1="117.17" x2="702.50" y2="117.17" stroke="#f5eaea" stroke-width="0.8"/>
<line x1="645.04" y1="21.20" x2="645.04" y2="186.50" stroke="#f5eaea" stroke-width="0.8"/>
<line x1="537.20" y1="129.04" x2="702.50" y2="129.04" stroke="#f5eaea" stroke-width="0.8"/>
<line x1="657.51" y1="21.20" x2="657.51" y2="186.50" stroke="#f5eaea" stroke-width="0.8"/>
<line x1="537.20" y1="141.51" x2="702.50" y2="141.51" stroke="#f5eaea" stroke-width="0.8"/>
<line x1="669.38" y1="21.20" x2="669.38" y2="186.50" stroke="#f5eaea" stroke-width="0.8"/>
<line x1="537.20" y1="153.38" x2="702.50" y2="153.38" stroke="#f5eaea" stroke-width="0.8"/>
<line x1="681.35" y1="21.20" x2="681.35" y2="186.50" stroke="#f5eaea" stroke-width="0.8"/>
<line x1="537.20" y1="165.35" x2="702.50" y2="165.35" stroke="#f5eaea" stroke-width="0.8"/>
<line x1="691.93" y1="21.20" x2="691.93" y2="186.50" stroke="#f5eaea" stroke-width="0.8"/>
<line x1="537.20" y1="175.93" x2="702.50" y2="175.93" stroke="#f5eaea" stroke-width="0.8"/>
<circle cx="553.1" cy="51.6" r="1.1" fill="#f5a0a0" opacity="0.9"/>
<circle cx="553.1" cy="65.4" r="1.1" fill="#f5a0a0" opacity="0.9"/>
<circle cx="553.1" cy="78.6" r="1.1" fill="#f5a0a0" opacity="0.9"/>
<circle cx="553.1" cy="91.8" r="1.1" fill="#f5a0a0" opacity="0.9"/>
<circle cx="553.1" cy="105.3" r="1.1" fill="#f5a0a0" opacity="0.9"/>
<circle cx="553.1" cy="117.2" r="1.1" fill="#f5a0a0" opacity="0.9"/>
<circle cx="553.1" cy="129.0" r="1.1" fill="#f5a0a0" opacity="0.9"/>
<circle cx="553.1" cy="141.5" r="1.1" fill="#f5a0a0" opacity="0.9"/>
<circle cx="553.1" cy="153.4" r="1.1" fill="#f5a0a0" opacity="0.9"/>
<circle cx="553.1" cy="165.4" r="1.1" fill="#f5a0a0" opacity="0.9"/>
<circle cx="553.1" cy="175.9" r="1.1" fill="#f5a0a0" opacity="0.9"/>
<circle cx="567.6" cy="37.1" r="1.1" fill="#f5a0a0" opacity="0.9"/>
<circle cx="567.6" cy="65.4" r="1.1" fill="#f5a0a0" opacity="0.9"/>
<circle cx="567.6" cy="78.6" r="1.1" fill="#f5a0a0" opacity="0.9"/>
<circle cx="567.6" cy="91.8" r="1.1" fill="#f5a0a0" opacity="0.9"/>
<circle cx="567.6" cy="105.3" r="1.1" fill="#f5a0a0" opacity="0.9"/>
<circle cx="567.6" cy="117.2" r="1.1" fill="#f5a0a0" opacity="0.9"/>
<circle cx="567.6" cy="129.0" r="1.1" fill="#f5a0a0" opacity="0.9"/>
<circle cx="567.6" cy="141.5" r="1.1" fill="#f5a0a0" opacity="0.9"/>
<circle cx="567.6" cy="153.4" r="1.1" fill="#f5a0a0" opacity="0.9"/>
<circle cx="567.6" cy="165.4" r="1.1" fill="#f5a0a0" opacity="0.9"/>
<circle cx="567.6" cy="175.9" r="1.1" fill="#f5a0a0" opacity="0.9"/>
<circle cx="581.4" cy="37.1" r="1.1" fill="#f5a0a0" opacity="0.9"/>
<circle cx="581.4" cy="51.6" r="1.1" fill="#f5a0a0" opacity="0.9"/>
<circle cx="581.4" cy="78.6" r="1.1" fill="#f5a0a0" opacity="0.9"/>
<circle cx="581.4" cy="91.8" r="1.1" fill="#f5a0a0" opacity="0.9"/>
<circle cx="581.4" cy="105.3" r="1.1" fill="#f5a0a0" opacity="0.9"/>
<circle cx="581.4" cy="117.2" r="1.1" fill="#f5a0a0" opacity="0.9"/>
<circle cx="581.4" cy="129.0" r="1.1" fill="#f5a0a0" opacity="0.9"/>
<circle cx="581.4" cy="141.5" r="1.1" fill="#f5a0a0" opacity="0.9"/>
<circle cx="581.4" cy="153.4" r="1.1" fill="#f5a0a0" opacity="0.9"/>
<circle cx="581.4" cy="165.4" r="1.1" fill="#f5a0a0" opacity="0.9"/>
<circle cx="581.4" cy="175.9" r="1.1" fill="#f5a0a0" opacity="0.9"/>
<circle cx="594.6" cy="37.1" r="1.1" fill="#f5a0a0" opacity="0.9"/>
<circle cx="594.6" cy="51.6" r="1.1" fill="#f5a0a0" opacity="0.9"/>
<circle cx="594.6" cy="65.4" r="1.1" fill="#f5a0a0" opacity="0.9"/>
<circle cx="594.6" cy="91.8" r="1.1" fill="#f5a0a0" opacity="0.9"/>
<circle cx="594.6" cy="105.3" r="1.1" fill="#f5a0a0" opacity="0.9"/>
<circle cx="594.6" cy="117.2" r="1.1" fill="#f5a0a0" opacity="0.9"/>
<circle cx="594.6" cy="129.0" r="1.1" fill="#f5a0a0" opacity="0.9"/>
<circle cx="594.6" cy="141.5" r="1.1" fill="#f5a0a0" opacity="0.9"/>
<circle cx="594.6" cy="153.4" r="1.1" fill="#f5a0a0" opacity="0.9"/>
<circle cx="594.6" cy="165.4" r="1.1" fill="#f5a0a0" opacity="0.9"/>
<circle cx="594.6" cy="175.9" r="1.1" fill="#f5a0a0" opacity="0.9"/>
<circle cx="607.8" cy="37.1" r="1.1" fill="#f5a0a0" opacity="0.9"/>
<circle cx="607.8" cy="51.6" r="1.1" fill="#f5a0a0" opacity="0.9"/>
<circle cx="607.8" cy="65.4" r="1.1" fill="#f5a0a0" opacity="0.9"/>
<circle cx="607.8" cy="78.6" r="1.1" fill="#f5a0a0" opacity="0.9"/>
<circle cx="607.8" cy="105.3" r="1.1" fill="#f5a0a0" opacity="0.9"/>
<circle cx="607.8" cy="117.2" r="1.1" fill="#f5a0a0" opacity="0.9"/>
<circle cx="607.8" cy="129.0" r="1.1" fill="#f5a0a0" opacity="0.9"/>
<circle cx="607.8" cy="141.5" r="1.1" fill="#f5a0a0" opacity="0.9"/>
<circle cx="607.8" cy="153.4" r="1.1" fill="#f5a0a0" opacity="0.9"/>
<circle cx="607.8" cy="165.4" r="1.1" fill="#f5a0a0" opacity="0.9"/>
<circle cx="607.8" cy="175.9" r="1.1" fill="#f5a0a0" opacity="0.9"/>
<circle cx="621.3" cy="37.1" r="1.1" fill="#f5a0a0" opacity="0.9"/>
<circle cx="621.3" cy="51.6" r="1.1" fill="#f5a0a0" opacity="0.9"/>
<circle cx="621.3" cy="65.4" r="1.1" fill="#f5a0a0" opacity="0.9"/>
<circle cx="621.3" cy="78.6" r="1.1" fill="#f5a0a0" opacity="0.9"/>
<circle cx="621.3" cy="91.8" r="1.1" fill="#f5a0a0" opacity="0.9"/>
<circle cx="621.3" cy="117.2" r="1.1" fill="#f5a0a0" opacity="0.9"/>
<circle cx="621.3" cy="129.0" r="1.1" fill="#f5a0a0" opacity="0.9"/>
<circle cx="621.3" cy="141.5" r="1.1" fill="#f5a0a0" opacity="0.9"/>
<circle cx="621.3" cy="153.4" r="1.1" fill="#f5a0a0" opacity="0.9"/>
<circle cx="621.3" cy="165.4" r="1.1" fill="#f5a0a0" opacity="0.9"/>
<circle cx="621.3" cy="175.9" r="1.1" fill="#f5a0a0" opacity="0.9"/>
<circle cx="633.2" cy="37.1" r="1.1" fill="#f5a0a0" opacity="0.9"/>
<circle cx="633.2" cy="51.6" r="1.1" fill="#f5a0a0" opacity="0.9"/>
<circle cx="633.2" cy="65.4" r="1.1" fill="#f5a0a0" opacity="0.9"/>
<circle cx="633.2" cy="78.6" r="1.1" fill="#f5a0a0" opacity="0.9"/>
<circle cx="633.2" cy="91.8" r="1.1" fill="#f5a0a0" opacity="0.9"/>
<circle cx="633.2" cy="105.3" r="1.1" fill="#f5a0a0" opacity="0.9"/>
<circle cx="633.2" cy="129.0" r="1.1" fill="#f5a0a0" opacity="0.9"/>
<circle cx="633.2" cy="141.5" r="1.1" fill="#f5a0a0" opacity="0.9"/>
<circle cx="633.2" cy="153.4" r="1.1" fill="#f5a0a0" opacity="0.9"/>
<circle cx="633.2" cy="165.4" r="1.1" fill="#f5a0a0" opacity="0.9"/>
<circle cx="633.2" cy="175.9" r="1.1" fill="#f5a0a0" opacity="0.9"/>
<circle cx="645.0" cy="37.1" r="1.1" fill="#f5a0a0" opacity="0.9"/>
<circle cx="645.0" cy="51.6" r="1.1" fill="#f5a0a0" opacity="0.9"/>
<circle cx="645.0" cy="65.4" r="1.1" fill="#f5a0a0" opacity="0.9"/>
<circle cx="645.0" cy="78.6" r="1.1" fill="#f5a0a0" opacity="0.9"/>
<circle cx="645.0" cy="91.8" r="1.1" fill="#f5a0a0" opacity="0.9"/>
<circle cx="645.0" cy="105.3" r="1.1" fill="#f5a0a0" opacity="0.9"/>
<circle cx="645.0" cy="117.2" r="1.1" fill="#f5a0a0" opacity="0.9"/>
<circle cx="645.0" cy="141.5" r="1.1" fill="#f5a0a0" opacity="0.9"/>
<circle cx="645.0" cy="153.4" r="1.1" fill="#f5a0a0" opacity="0.9"/>
<circle cx="645.0" cy="165.4" r="1.1" fill="#f5a0a0" opacity="0.9"/>
<circle cx="645.0" cy="175.9" r="1.1" fill="#f5a0a0" opacity="0.9"/>
<circle cx="657.5" cy="37.1" r="1.1" fill="#f5a0a0" opacity="0.9"/>
<circle cx="657.5" cy="51.6" r="1.1" fill="#f5a0a0" opacity="0.9"/>
<circle cx="657.5" cy="65.4" r="1.1" fill="#f5a0a0" opacity="0.9"/>
<circle cx="657.5" cy="78.6" r="1.1" fill="#f5a0a0" opacity="0.9"/>
<circle cx="657.5" cy="91.8" r="1.1" fill="#f5a0a0" opacity="0.9"/>
<circle cx="657.5" cy="105.3" r="1.1" fill="#f5a0a0" opacity="0.9"/>
<circle cx="657.5" cy="117.2" r="1.1" fill="#f5a0a0" opacity="0.9"/>
<circle cx="657.5" cy="129.0" r="1.1" fill="#f5a0a0" opacity="0.9"/>
<circle cx="657.5" cy="153.4" r="1.1" fill="#f5a0a0" opacity="0.9"/>
<circle cx="657.5" cy="165.4" r="1.1" fill="#f5a0a0" opacity="0.9"/>
<circle cx="657.5" cy="175.9" r="1.1" fill="#f5a0a0" opacity="0.9"/>
<circle cx="669.4" cy="37.1" r="1.1" fill="#f5a0a0" opacity="0.9"/>
<circle cx="669.4" cy="51.6" r="1.1" fill="#f5a0a0" opacity="0.9"/>
<circle cx="669.4" cy="65.4" r="1.1" fill="#f5a0a0" opacity="0.9"/>
<circle cx="669.4" cy="78.6" r="1.1" fill="#f5a0a0" opacity="0.9"/>
<circle cx="669.4" cy="91.8" r="1.1" fill="#f5a0a0" opacity="0.9"/>
<circle cx="669.4" cy="105.3" r="1.1" fill="#f5a0a0" opacity="0.9"/>
<circle cx="669.4" cy="117.2" r="1.1" fill="#f5a0a0" opacity="0.9"/>
<circle cx="669.4" cy="129.0" r="1.1" fill="#f5a0a0" opacity="0.9"/>
<circle cx="669.4" cy="141.5" r="1.1" fill="#f5a0a0" opacity="0.9"/>
<circle cx="669.4" cy="165.4" r="1.1" fill="#f5a0a0" opacity="0.9"/>
<circle cx="669.4" cy="175.9" r="1.1" fill="#f5a0a0" opacity="0.9"/>
<circle cx="681.4" cy="37.1" r="1.1" fill="#f5a0a0" opacity="0.9"/>
<circle cx="681.4" cy="51.6" r="1.1" fill="#f5a0a0" opacity="0.9"/>
<circle cx="681.4" cy="65.4" r="1.1" fill="#f5a0a0" opacity="0.9"/>
<circle cx="681.4" cy="78.6" r="1.1" fill="#f5a0a0" opacity="0.9"/>
<circle cx="681.4" cy="91.8" r="1.1" fill="#f5a0a0" opacity="0.9"/>
<circle cx="681.4" cy="105.3" r="1.1" fill="#f5a0a0" opacity="0.9"/>
<circle cx="681.4" cy="117.2" r="1.1" fill="#f5a0a0" opacity="0.9"/>
<circle cx="681.4" cy="129.0" r="1.1" fill="#f5a0a0" opacity="0.9"/>
<circle cx="681.4" cy="141.5" r="1.1" fill="#f5a0a0" opacity="0.9"/>
<circle cx="681.4" cy="153.4" r="1.1" fill="#f5a0a0" opacity="0.9"/>
<circle cx="681.4" cy="175.9" r="1.1" fill="#f5a0a0" opacity="0.9"/>
<circle cx="691.9" cy="37.1" r="1.1" fill="#f5a0a0" opacity="0.9"/>
<circle cx="691.9" cy="51.6" r="1.1" fill="#f5a0a0" opacity="0.9"/>
<circle cx="691.9" cy="65.4" r="1.1" fill="#f5a0a0" opacity="0.9"/>
<circle cx="691.9" cy="78.6" r="1.1" fill="#f5a0a0" opacity="0.9"/>
<circle cx="691.9" cy="91.8" r="1.1" fill="#f5a0a0" opacity="0.9"/>
<circle cx="691.9" cy="105.3" r="1.1" fill="#f5a0a0" opacity="0.9"/>
<circle cx="691.9" cy="117.2" r="1.1" fill="#f5a0a0" opacity="0.9"/>
<circle cx="691.9" cy="129.0" r="1.1" fill="#f5a0a0" opacity="0.9"/>
<circle cx="691.9" cy="141.5" r="1.1" fill="#f5a0a0" opacity="0.9"/>
<circle cx="691.9" cy="153.4" r="1.1" fill="#f5a0a0" opacity="0.9"/>
<circle cx="691.9" cy="165.4" r="1.1" fill="#f5a0a0" opacity="0.9"/>
<rect x="657.3" y="185.2" width="1" height="1" fill="#f0a0a0" opacity="0.35"/>
<rect x="613.1" y="139.9" width="1" height="2" fill="#f0a0a0" opacity="0.35"/>
<rect x="589.2" y="129.6" width="3" height="1" fill="#f0a0a0" opacity="0.35"/>
<rect x="633.3" y="89.8" width="2" height="2" fill="#f0a0a0" opacity="0.35"/>
<rect x="640.6" y="37.9" width="1" height="1" fill="#f0a0a0" opacity="0.35"/>
<rect x="560.8" y="132.5" width="2" height="1" fill="#f0a0a0" opacity="0.35"/>
<rect x="571.5" y="87.8" width="2" height="2" fill="#f0a0a0" opacity="0.35"/>
<rect x="572.2" y="77.1" width="1" height="1" fill="#f0a0a0" opacity="0.35"/>
<rect x="585.6" y="130.0" width="2" height="1" fill="#f0a0a0" opacity="0.35"/>
<rect x="544.2" y="149.3" width="2" height="1" fill="#f0a0a0" opacity="0.35"/>
<rect x="597.0" y="153.6" width="3" height="1" fill="#f0a0a0" opacity="0.35"/>
<rect x="555.7" y="154.8" width="3" height="1" fill="#f0a0a0" opacity="0.35"/>
<rect x="675.3" y="119.2" width="3" height="1" fill="#f0a0a0" opacity="0.35"/>
<rect x="645.0" y="58.8" width="1" height="2" fill="#f0a0a0" opacity="0.35"/>
<rect x="541.1" y="121.7" width="3" height="1" fill="#f0a0a0" opacity="0.35"/>
<rect x="581.9" y="116.8" width="1" height="2" fill="#f0a0a0" opacity="0.35"/>
<rect x="576.7" y="47.3" width="2" height="1" fill="#f0a0a0" opacity="0.35"/>
<rect x="628.5" y="115.9" width="2" height="1" fill="#f0a0a0" opacity="0.35"/>
<rect x="540.6" y="55.1" width="3" height="2" fill="#f0a0a0" opacity="0.35"/>
<rect x="658.6" y="59.6" width="3" height="2" fill="#f0a0a0" opacity="0.35"/>
<rect x="652.3" y="170.5" width="1" height="1" fill="#f0a0a0" opacity="0.35"/>
<rect x="557.8" y="37.8" width="3" height="2" fill="#f0a0a0" opacity="0.35"/>
<rect x="668.5" y="166.8" width="3" height="1" fill="#f0a0a0" opacity="0.35"/>
<rect x="599.5" y="178.5" width="2" height="2" fill="#f0a0a0" opacity="0.35"/>
<rect x="538.6" y="93.8" width="1" height="1" fill="#f0a0a0" opacity="0.35"/>
<rect x="679.5" y="106.3" width="2" height="2" fill="#f0a0a0" opacity="0.35"/>
<rect x="680.8" y="150.8" width="3" height="1" fill="#f0a0a0" opacity="0.35"/>
<rect x="683.9" y="62.5" width="3" height="2" fill="#f0a0a0" opacity="0.35"/>
<rect x="627.3" y="129.1" width="1" height="1" fill="#f0a0a0" opacity="0.35"/>
<rect x="657.0" y="184.0" width="3" height="1" fill="#f0a0a0" opacity="0.35"/>
<rect x="610.9" y="116.8" width="3" height="2" fill="#f0a0a0" opacity="0.35"/>
<rect x="684.5" y="176.8" width="3" height="2" fill="#f0a0a0" opacity="0.35"/>
<rect x="594.5" y="89.3" width="2" height="2" fill="#f0a0a0" opacity="0.35"/>
<rect x="669.1" y="166.7" width="3" height="2" fill="#f0a0a0" opacity="0.35"/>
<rect x="638.4" y="73.6" width="1" height="2" fill="#f0a0a0" opacity="0.35"/>
<rect x="692.4" y="30.0" width="3" height="1" fill="#f0a0a0" opacity="0.35"/>
<rect x="571.1" y="120.1" width="2" height="1" fill="#f0a0a0" opacity="0.35"/>
<rect x="649.0" y="129.1" width="3" height="2" fill="#f0a0a0" opacity="0.35"/>
<rect x="683.6" y="118.9" width="2" height="2" fill="#f0a0a0" opacity="0.35"/>
<rect x="694.4" y="185.4" width="1" height="2" fill="#f0a0a0" opacity="0.35"/>
<rect x="545.8" y="56.2" width="1" height="1" fill="#f0a0a0" opacity="0.35"/>
<rect x="596.9" y="53.9" width="1" height="1" fill="#f0a0a0" opacity="0.35"/>
<rect x="630.0" y="41.8" width="3" height="2" fill="#f0a0a0" opacity="0.35"/>
<rect x="614.6" y="107.2" width="2" height="1" fill="#f0a0a0" opacity="0.35"/>
<rect x="638.4" y="157.1" width="2" height="2" fill="#f0a0a0" opacity="0.35"/>
<rect x="554.0" y="106.3" width="3" height="2" fill="#f0a0a0" opacity="0.35"/>
<rect x="579.9" y="147.4" width="3" height="2" fill="#f0a0a0" opacity="0.35"/>
<rect x="668.4" y="35.5" width="2" height="1" fill="#f0a0a0" opacity="0.35"/>
<rect x="651.5" y="49.7" width="1" height="2" fill="#f0a0a0" opacity="0.35"/>
<rect x="679.3" y="103.2" width="1" height="1" fill="#f0a0a0" opacity="0.35"/>
<rect x="563.8" y="66.2" width="2" height="1" fill="#f0a0a0" opacity="0.35"/>
<rect x="554.5" y="88.2" width="1" height="2" fill="#f0a0a0" opacity="0.35"/>
<rect x="562.9" y="150.0" width="1" height="2" fill="#f0a0a0" opacity="0.35"/>
<rect x="622.1" y="77.8" width="1" height="2" fill="#f0a0a0" opacity="0.35"/>
<rect x="647.2" y="42.5" width="2" height="1" fill="#f0a0a0" opacity="0.35"/>
<rect x="606.9" y="90.0" width="2" height="2" fill="#f0a0a0" opacity="0.35"/>
<rect x="541.5" y="173.9" width="3" height="1" fill="#f0a0a0" opacity="0.35"/>
<rect x="610.4" y="65.4" width="1" height="1" fill="#f0a0a0" opacity="0.35"/>
<rect x="610.7" y="37.4" width="1" height="1" fill="#f0a0a0" opacity="0.35"/>
<rect x="537.9" y="174.9" width="2" height="2" fill="#f0a0a0" opacity="0.35"/>
<rect x="553.6" y="160.9" width="3" height="1" fill="#f0a0a0" opacity="0.35"/>
<rect x="616.4" y="111.9" width="1" height="1" fill="#f0a0a0" opacity="0.35"/>
<rect x="671.1" y="126.1" width="2" height="2" fill="#f0a0a0" opacity="0.35"/>
<rect x="546.1" y="39.6" width="1" height="2" fill="#f0a0a0" opacity="0.35"/>
<rect x="594.7" y="41.1" width="2" height="2" fill="#f0a0a0" opacity="0.35"/>
<rect x="594.7" y="147.8" width="3" height="2" fill="#f0a0a0" opacity="0.35"/>
<rect x="558.8" y="113.7" width="1" height="1" fill="#f0a0a0" opacity="0.35"/>
<rect x="684.8" y="141.7" width="1" height="2" fill="#f0a0a0" opacity="0.35"/>
<rect x="586.7" y="177.2" width="1" height="1" fill="#f0a0a0" opacity="0.35"/>
<rect x="626.2" y="55.7" width="2" height="2" fill="#f0a0a0" opacity="0.35"/>
<rect x="606.5" y="118.4" width="2" height="2" fill="#f0a0a0" opacity="0.35"/>
<rect x="601.7" y="77.6" width="1" height="1" fill="#f0a0a0" opacity="0.35"/>
<rect x="684.0" y="110.4" width="3" height="2" fill="#f0a0a0" opacity="0.35"/>
<rect x="569.7" y="88.0" width="1" height="1" fill="#f0a0a0" opacity="0.35"/>
<rect x="615.0" y="21.2" width="2" height="1" fill="#f0a0a0" opacity="0.35"/>
<rect x="666.5" y="126.0" width="2" height="2" fill="#f0a0a0" opacity="0.35"/>
<rect x="567.9" y="108.1" width="2" height="2" fill="#f0a0a0" opacity="0.35"/>
<rect x="697.8" y="99.2" width="2" height="1" fill="#f0a0a0" opacity="0.35"/>
<rect x="590.6" y="127.7" width="2" height="2" fill="#f0a0a0" opacity="0.35"/>
<rect x="550.2" y="74.2" width="1" height="1" fill="#f0a0a0" opacity="0.35"/>
<rect x="570.8" y="110.5" width="1" height="2" fill="#f0a0a0" opacity="0.35"/>
<rect x="687.3" y="142.8" width="3" height="2" fill="#f0a0a0" opacity="0.35"/>
<rect x="651.2" y="130.0" width="1" height="2" fill="#f0a0a0" opacity="0.35"/>
<rect x="669.7" y="65.4" width="1" height="1" fill="#f0a0a0" opacity="0.35"/>
<rect x="610.4" y="95.4" width="1" height="2" fill="#f0a0a0" opacity="0.35"/>
<rect x="664.0" y="126.6" width="2" height="1" fill="#f0a0a0" opacity="0.35"/>
<rect x="561.8" y="124.0" width="2" height="2" fill="#f0a0a0" opacity="0.35"/>
<rect x="614.3" y="112.3" width="3" height="1" fill="#f0a0a0" opacity="0.35"/>
<rect x="621.9" y="49.6" width="2" height="2" fill="#f0a0a0" opacity="0.35"/>
<rect x="683.4" y="73.0" width="2" height="1" fill="#f0a0a0" opacity="0.35"/>
<rect x="663.2" y="85.6" width="3" height="1" fill="#f0a0a0" opacity="0.35"/>
<rect x="648.5" y="98.1" width="2" height="2" fill="#f0a0a0" opacity="0.35"/>
<rect x="602.0" y="70.9" width="2" height="2" fill="#f0a0a0" opacity="0.35"/>
<rect x="678.9" y="166.5" width="3" height="1" fill="#f0a0a0" opacity="0.35"/>
<rect x="554.3" y="153.4" width="3" height="2" fill="#f0a0a0" opacity="0.35"/>
<rect x="627.0" y="52.0" width="3" height="1" fill="#f0a0a0" opacity="0.35"/>
<rect x="618.8" y="155.4" width="3" height="1" fill="#f0a0a0" opacity="0.35"/>
<rect x="688.9" y="43.9" width="2" height="1" fill="#f0a0a0" opacity="0.35"/>
<rect x="584.0" y="164.1" width="1" height="2" fill="#f0a0a0" opacity="0.35"/>
<rect x="672.0" y="169.6" width="1" height="2" fill="#f0a0a0" opacity="0.35"/>
<rect x="559.7" y="155.5" width="1" height="2" fill="#f0a0a0" opacity="0.35"/>
<rect x="586.9" y="70.5" width="3" height="1" fill="#f0a0a0" opacity="0.35"/>
<rect x="678.7" y="53.8" width="1" height="1" fill="#f0a0a0" opacity="0.35"/>
<rect x="566.7" y="128.3" width="2" height="1" fill="#f0a0a0" opacity="0.35"/>
<rect x="537.2" y="89.1" width="3" height="1" fill="#f0a0a0" opacity="0.35"/>
<rect x="606.6" y="65.8" width="2" height="2" fill="#f0a0a0" opacity="0.35"/>
<rect x="697.3" y="49.2" width="2" height="1" fill="#f0a0a0" opacity="0.35"/>
<rect x="610.8" y="119.9" width="1" height="2" fill="#f0a0a0" opacity="0.35"/>
<rect x="553.4" y="85.4" width="2" height="2" fill="#f0a0a0" opacity="0.35"/>
<rect x="660.7" y="117.9" width="1" height="1" fill="#f0a0a0" opacity="0.35"/>
<rect x="550.8" y="71.3" width="1" height="2" fill="#f0a0a0" opacity="0.35"/>
<rect x="635.3" y="180.9" width="1" height="2" fill="#f0a0a0" opacity="0.35"/>
<rect x="598.4" y="126.9" width="3" height="2" fill="#f0a0a0" opacity="0.35"/>
<rect x="678.1" y="50.4" width="1" height="1" fill="#f0a0a0" opacity="0.35"/>
<rect x="674.2" y="131.6" width="1" height="2" fill="#f0a0a0" opacity="0.35"/>
<rect x="623.8" y="34.3" width="1" height="1" fill="#f0a0a0" opacity="0.35"/>
<rect x="684.9" y="45.6" width="1" height="2" fill="#f0a0a0" opacity="0.35"/>
<rect x="695.9" y="61.4" width="3" height="1" fill="#f0a0a0" opacity="0.35"/>
<rect x="642.6" y="140.4" width="2" height="2" fill="#f0a0a0" opacity="0.35"/>
<rect x="695.8" y="125.0" width="2" height="1" fill="#f0a0a0" opacity="0.35"/>
<rect x="537.20" y="21.20" width="15.86" height="15.86" fill="url(#hg_yun)"/>
<line x1="537.20" y1="21.20" x2="553.06" y2="37.06" stroke="#f58a8a" stroke-width="1.6"/>
<rect x="553.06" y="37.06" width="14.56" height="14.56" fill="url(#hg_yun)"/>
<line x1="553.06" y1="37.06" x2="567.63" y2="51.63" stroke="#f58a8a" stroke-width="1.6"/>
<rect x="567.63" y="51.63" width="13.77" height="13.77" fill="url(#hg_yun)"/>
<line x1="567.63" y1="51.63" x2="581.39" y2="65.39" stroke="#f58a8a" stroke-width="1.6"/>
<rect x="581.39" y="65.39" width="13.17" height="13.17" fill="url(#hg_yun)"/>
<line x1="581.39" y1="65.39" x2="594.56" y2="78.56" stroke="#f58a8a" stroke-width="1.6"/>
<rect x="594.56" y="78.56" width="13.27" height="13.27" fill="url(#hg_yun)"/>
<line x1="594.56" y1="78.56" x2="607.83" y2="91.83" stroke="#f58a8a" stroke-width="1.6"/>
<rect x="607.83" y="91.83" width="13.47" height="13.47" fill="url(#hg_yun)"/>
<line x1="607.83" y1="91.83" x2="621.30" y2="105.30" stroke="#f58a8a" stroke-width="1.6"/>
<rect x="621.30" y="105.30" width="11.87" height="11.87" fill="url(#hg_yun)"/>
<line x1="621.30" y1="105.30" x2="633.17" y2="117.17" stroke="#f58a8a" stroke-width="1.6"/>
<rect x="633.17" y="117.17" width="11.87" height="11.87" fill="url(#hg_yun)"/>
<line x1="633.17" y1="117.17" x2="645.04" y2="129.04" stroke="#f58a8a" stroke-width="1.6"/>
<rect x="645.04" y="129.04" width="12.47" height="12.47" fill="url(#hg_yun)"/>
<line x1="645.04" y1="129.04" x2="657.51" y2="141.51" stroke="#f58a8a" stroke-width="1.6"/>
<rect x="657.51" y="141.51" width="11.87" height="11.87" fill="url(#hg_yun)"/>
<line x1="657.51" y1="141.51" x2="669.38" y2="153.38" stroke="#f58a8a" stroke-width="1.6"/>
<rect x="669.38" y="153.38" width="11.97" height="11.97" fill="url(#hg_yun)"/>
<line x1="669.38" y1="153.38" x2="681.35" y2="165.35" stroke="#f58a8a" stroke-width="1.6"/>
<rect x="681.35" y="165.35" width="10.57" height="10.57" fill="url(#hg_yun)"/>
<line x1="681.35" y1="165.35" x2="691.93" y2="175.93" stroke="#f58a8a" stroke-width="1.6"/>
<rect x="691.93" y="175.93" width="10.57" height="10.57" fill="url(#hg_yun)"/>
<line x1="691.93" y1="175.93" x2="702.50" y2="186.50" stroke="#f58a8a" stroke-width="1.6"/>
<rect x="537.20" y="21.20" width="15.86" height="15.86" fill="none" stroke="#7d86aa" stroke-width="1.1"/>
<rect x="553.06" y="37.06" width="14.56" height="14.56" fill="none" stroke="#7d86aa" stroke-width="1.1"/>
<rect x="567.63" y="51.63" width="13.77" height="13.77" fill="none" stroke="#7d86aa" stroke-width="1.1"/>
<rect x="581.39" y="65.39" width="13.17" height="13.17" fill="none" stroke="#7d86aa" stroke-width="1.1"/>
<rect x="594.56" y="78.56" width="13.27" height="13.27" fill="none" stroke="#7d86aa" stroke-width="1.1"/>
<rect x="607.83" y="91.83" width="13.47" height="13.47" fill="none" stroke="#7d86aa" stroke-width="1.1"/>
<rect x="621.30" y="105.30" width="11.87" height="11.87" fill="none" stroke="#7d86aa" stroke-width="1.1"/>
<rect x="633.17" y="117.17" width="11.87" height="11.87" fill="none" stroke="#7d86aa" stroke-width="1.1"/>
<rect x="645.04" y="129.04" width="12.47" height="12.47" fill="none" stroke="#7d86aa" stroke-width="1.1"/>
<rect x="657.51" y="141.51" width="11.87" height="11.87" fill="none" stroke="#7d86aa" stroke-width="1.1"/>
<rect x="669.38" y="153.38" width="11.97" height="11.97" fill="none" stroke="#7d86aa" stroke-width="1.1"/>
<rect x="681.35" y="165.35" width="10.57" height="10.57" fill="none" stroke="#7d86aa" stroke-width="1.1"/>
<rect x="691.93" y="175.93" width="10.57" height="10.57" fill="none" stroke="#7d86aa" stroke-width="1.1"/>
<line x1="548.13" y1="21.20" x2="548.13" y2="23.00" stroke="#3b55a0" stroke-width="0.6"/>
<line x1="538.00" y1="32.13" x2="539.80" y2="32.13" stroke="#3a8a3a" stroke-width="0.7"/>
<line x1="559.07" y1="21.20" x2="559.07" y2="23.00" stroke="#3b55a0" stroke-width="0.6"/>
<line x1="538.00" y1="43.07" x2="539.80" y2="43.07" stroke="#3a8a3a" stroke-width="0.7"/>
<line x1="570.00" y1="21.20" x2="570.00" y2="23.00" stroke="#3b55a0" stroke-width="0.6"/>
<line x1="538.00" y1="54.00" x2="539.80" y2="54.00" stroke="#3a8a3a" stroke-width="0.7"/>
<line x1="580.93" y1="21.20" x2="580.93" y2="23.00" stroke="#3b55a0" stroke-width="0.6"/>
<line x1="538.00" y1="64.93" x2="539.80" y2="64.93" stroke="#3a8a3a" stroke-width="0.7"/>
<line x1="591.87" y1="21.20" x2="591.87" y2="23.00" stroke="#3b55a0" stroke-width="0.6"/>
<line x1="538.00" y1="75.87" x2="539.80" y2="75.87" stroke="#3a8a3a" stroke-width="0.7"/>
<line x1="602.80" y1="21.20" x2="602.80" y2="23.00" stroke="#3b55a0" stroke-width="0.6"/>
<line x1="538.00" y1="86.80" x2="539.80" y2="86.80" stroke="#3a8a3a" stroke-width="0.7"/>
<line x1="613.73" y1="21.20" x2="613.73" y2="23.00" stroke="#3b55a0" stroke-width="0.6"/>
<line x1="538.00" y1="97.73" x2="539.80" y2="97.73" stroke="#3a8a3a" stroke-width="0.7"/>
<line x1="624.67" y1="21.20" x2="624.67" y2="23.00" stroke="#3b55a0" stroke-width="0.6"/>
<line x1="538.00" y1="108.67" x2="539.80" y2="108.67" stroke="#3a8a3a" stroke-width="0.7"/>
<line x1="635.60" y1="21.20" x2="635.60" y2="23.00" stroke="#3b55a0" stroke-width="0.6"/>
<line x1="538.00" y1="119.60" x2="539.80" y2="119.60" stroke="#3a8a3a" stroke-width="0.7"/>
<line x1="646.53" y1="21.20" x2="646.53" y2="23.00" stroke="#3b55a0" stroke-width="0.6"/>
<line x1="538.00" y1="130.53" x2="539.80" y2="130.53" stroke="#3a8a3a" stroke-width="0.7"/>
<line x1="657.47" y1="21.20" x2="657.47" y2="23.00" stroke="#3b55a0" stroke-width="0.6"/>
<line x1="538.00" y1="141.47" x2="539.80" y2="141.47" stroke="#3a8a3a" stroke-width="0.7"/>
<line x1="668.40" y1="21.20" x2="668.40" y2="23.00" stroke="#3b55a0" stroke-width="0.6"/>
<line x1="538.00" y1="152.40" x2="539.80" y2="152.40" stroke="#3a8a3a" stroke-width="0.7"/>
<line x1="679.33" y1="21.20" x2="679.33" y2="23.00" stroke="#3b55a0" stroke-width="0.6"/>
<line x1="538.00" y1="163.33" x2="539.80" y2="163.33" stroke="#3a8a3a" stroke-width="0.7"/>
<line x1="690.27" y1="21.20" x2="690.27" y2="23.00" stroke="#3b55a0" stroke-width="0.6"/>
<line x1="538.00" y1="174.27" x2="539.80" y2="174.27" stroke="#3a8a3a" stroke-width="0.7"/>
<line x1="701.20" y1="21.20" x2="701.20" y2="23.00" stroke="#3b55a0" stroke-width="0.6"/>
<line x1="538.00" y1="185.20" x2="539.80" y2="185.20" stroke="#3a8a3a" stroke-width="0.7"/>
<text x="580.93" y="30.70" font-size="6.6" fill="#3b55a0" text-anchor="middle">200 MB</text>
<text transform="translate(547.70,64.93) rotate(-90)" font-size="6.6" fill="#3a8a3a" text-anchor="middle">200 MB</text>
<text x="624.67" y="30.70" font-size="6.6" fill="#3b55a0" text-anchor="middle">400 MB</text>
<text transform="translate(547.70,108.67) rotate(-90)" font-size="6.6" fill="#3a8a3a" text-anchor="middle">400 MB</text>
<text x="668.40" y="30.70" font-size="6.6" fill="#3b55a0" text-anchor="middle">600 MB</text>
<text transform="translate(547.70,152.40) rotate(-90)" font-size="6.6" fill="#3a8a3a" text-anchor="middle">600 MB</text>
<text x="535.20" y="17.20" font-size="6.5" fill="#3a8a3a" text-anchor="middle">0</text>
<text transform="translate(540.63,19.00) rotate(-30)" font-size="6.0" fill="#3b55a0">Chr1</text>
<text x="533.70" y="31.43" font-size="6.0" fill="#3a8a3a" text-anchor="end">Chr1</text>
<text transform="translate(555.84,19.00) rotate(-30)" font-size="6.0" fill="#3b55a0">Chr2</text>
<text x="533.70" y="46.64" font-size="6.0" fill="#3a8a3a" text-anchor="end">Chr2</text>
<text transform="translate(570.01,19.00) rotate(-30)" font-size="6.0" fill="#3b55a0">Chr3</text>
<text x="533.70" y="60.81" font-size="6.0" fill="#3a8a3a" text-anchor="end">Chr3</text>
<text transform="translate(583.48,19.00) rotate(-30)" font-size="6.0" fill="#3b55a0">Chr4</text>
<text x="533.70" y="74.28" font-size="6.0" fill="#3a8a3a" text-anchor="end">Chr4</text>
<text transform="translate(596.70,19.00) rotate(-30)" font-size="6.0" fill="#3b55a0">Chr5</text>
<text x="533.70" y="87.50" font-size="6.0" fill="#3a8a3a" text-anchor="end">Chr5</text>
<text transform="translate(610.06,19.00) rotate(-30)" font-size="6.0" fill="#3b55a0">Chr6</text>
<text x="533.70" y="100.86" font-size="6.0" fill="#3a8a3a" text-anchor="end">Chr6</text>
<text transform="translate(622.73,19.00) rotate(-30)" font-size="6.0" fill="#3b55a0">Chr7</text>
<text x="533.70" y="113.53" font-size="6.0" fill="#3a8a3a" text-anchor="end">Chr7</text>
<text transform="translate(634.60,19.00) rotate(-30)" font-size="6.0" fill="#3b55a0">Chr8</text>
<text x="533.70" y="125.40" font-size="6.0" fill="#3a8a3a" text-anchor="end">Chr8</text>
<text transform="translate(646.77,19.00) rotate(-30)" font-size="6.0" fill="#3b55a0">Chr9</text>
<text x="533.70" y="137.57" font-size="6.0" fill="#3a8a3a" text-anchor="end">Chr9</text>
<text transform="translate(658.94,19.00) rotate(-30)" font-size="6.0" fill="#3b55a0">Chr10</text>
<text x="533.70" y="149.74" font-size="6.0" fill="#3a8a3a" text-anchor="end">Chr10</text>
<text transform="translate(670.87,19.00) rotate(-30)" font-size="6.0" fill="#3b55a0">Chr11</text>
<text x="533.70" y="161.67" font-size="6.0" fill="#3a8a3a" text-anchor="end">Chr11</text>
<text transform="translate(682.14,19.00) rotate(-30)" font-size="6.0" fill="#3b55a0">Chr12</text>
<text x="533.70" y="172.94" font-size="6.0" fill="#3a8a3a" text-anchor="end">Chr12</text>
<text transform="translate(692.71,19.00) rotate(-30)" font-size="6.0" fill="#3b55a0">Chr13</text>
<text x="533.70" y="183.51" font-size="6.0" fill="#3a8a3a" text-anchor="end">Chr13</text>
<text x="627.0" y="204.5" font-size="12.1" font-style="italic" fill="#d49a2c" text-anchor="middle">S. yunnanensis</text>
<linearGradient id="hg_cep" x1="1" y1="0" x2="0" y2="1"><stop offset="0" stop-color="#f8c4c4"/><stop offset="0.3" stop-color="#f5a8a8"/><stop offset="0.5" stop-color="#f08080"/><stop offset="0.7" stop-color="#f5a8a8"/><stop offset="1" stop-color="#f8c4c4"/></linearGradient>
<rect x="736.60" y="20.80" width="166.20" height="166.20" fill="#fbe8e8"/>
<line x1="752.42" y1="20.80" x2="752.42" y2="187.00" stroke="#fdf0f0" stroke-width="0.8"/>
<line x1="736.60" y1="36.62" x2="902.80" y2="36.62" stroke="#fdf0f0" stroke-width="0.8"/>
<line x1="767.75" y1="20.80" x2="767.75" y2="187.00" stroke="#fdf0f0" stroke-width="0.8"/>
<line x1="736.60" y1="51.95" x2="902.80" y2="51.95" stroke="#fdf0f0" stroke-width="0.8"/>
<line x1="781.48" y1="20.80" x2="781.48" y2="187.00" stroke="#fdf0f0" stroke-width="0.8"/>
<line x1="736.60" y1="65.68" x2="902.80" y2="65.68" stroke="#fdf0f0" stroke-width="0.8"/>
<line x1="794.62" y1="20.80" x2="794.62" y2="187.00" stroke="#fdf0f0" stroke-width="0.8"/>
<line x1="736.60" y1="78.82" x2="902.80" y2="78.82" stroke="#fdf0f0" stroke-width="0.8"/>
<line x1="807.86" y1="20.80" x2="807.86" y2="187.00" stroke="#fdf0f0" stroke-width="0.8"/>
<line x1="736.60" y1="92.06" x2="902.80" y2="92.06" stroke="#fdf0f0" stroke-width="0.8"/>
<line x1="820.99" y1="20.80" x2="820.99" y2="187.00" stroke="#fdf0f0" stroke-width="0.8"/>
<line x1="736.60" y1="105.19" x2="902.80" y2="105.19" stroke="#fdf0f0" stroke-width="0.8"/>
<line x1="833.63" y1="20.80" x2="833.63" y2="187.00" stroke="#fdf0f0" stroke-width="0.8"/>
<line x1="736.60" y1="117.83" x2="902.80" y2="117.83" stroke="#fdf0f0" stroke-width="0.8"/>
<line x1="846.07" y1="20.80" x2="846.07" y2="187.00" stroke="#fdf0f0" stroke-width="0.8"/>
<line x1="736.60" y1="130.27" x2="902.80" y2="130.27" stroke="#fdf0f0" stroke-width="0.8"/>
<line x1="858.21" y1="20.80" x2="858.21" y2="187.00" stroke="#fdf0f0" stroke-width="0.8"/>
<line x1="736.60" y1="142.41" x2="902.80" y2="142.41" stroke="#fdf0f0" stroke-width="0.8"/>
<line x1="869.86" y1="20.80" x2="869.86" y2="187.00" stroke="#fdf0f0" stroke-width="0.8"/>
<line x1="736.60" y1="154.06" x2="902.80" y2="154.06" stroke="#fdf0f0" stroke-width="0.8"/>
<line x1="881.20" y1="20.80" x2="881.20" y2="187.00" stroke="#fdf0f0" stroke-width="0.8"/>
<line x1="736.60" y1="165.40" x2="902.80" y2="165.40" stroke="#fdf0f0" stroke-width="0.8"/>
<line x1="892.25" y1="20.80" x2="892.25" y2="187.00" stroke="#fdf0f0" stroke-width="0.8"/>
<line x1="736.60" y1="176.45" x2="902.80" y2="176.45" stroke="#fdf0f0" stroke-width="0.8"/>
<circle cx="752.4" cy="52.0" r="1.5" fill="#f08a8a" opacity="0.9"/>
<circle cx="752.4" cy="65.7" r="1.5" fill="#f08a8a" opacity="0.9"/>
<circle cx="752.4" cy="78.8" r="1.5" fill="#f08a8a" opacity="0.9"/>
<circle cx="752.4" cy="92.1" r="1.5" fill="#f08a8a" opacity="0.9"/>
<circle cx="752.4" cy="105.2" r="1.5" fill="#f08a8a" opacity="0.9"/>
<circle cx="752.4" cy="117.8" r="1.5" fill="#f08a8a" opacity="0.9"/>
<circle cx="752.4" cy="130.3" r="1.5" fill="#f08a8a" opacity="0.9"/>
<circle cx="752.4" cy="142.4" r="1.5" fill="#f08a8a" opacity="0.9"/>
<circle cx="752.4" cy="154.1" r="1.5" fill="#f08a8a" opacity="0.9"/>
<circle cx="752.4" cy="165.4" r="1.5" fill="#f08a8a" opacity="0.9"/>
<circle cx="752.4" cy="176.5" r="1.5" fill="#f08a8a" opacity="0.9"/>
<circle cx="767.8" cy="36.6" r="1.5" fill="#f08a8a" opacity="0.9"/>
<circle cx="767.8" cy="65.7" r="1.5" fill="#f08a8a" opacity="0.9"/>
<circle cx="767.8" cy="78.8" r="1.5" fill="#f08a8a" opacity="0.9"/>
<circle cx="767.8" cy="92.1" r="1.5" fill="#f08a8a" opacity="0.9"/>
<circle cx="767.8" cy="105.2" r="1.5" fill="#f08a8a" opacity="0.9"/>
<circle cx="767.8" cy="117.8" r="1.5" fill="#f08a8a" opacity="0.9"/>
<circle cx="767.8" cy="130.3" r="1.5" fill="#f08a8a" opacity="0.9"/>
<circle cx="767.8" cy="142.4" r="1.5" fill="#f08a8a" opacity="0.9"/>
<circle cx="767.8" cy="154.1" r="1.5" fill="#f08a8a" opacity="0.9"/>
<circle cx="767.8" cy="165.4" r="1.5" fill="#f08a8a" opacity="0.9"/>
<circle cx="767.8" cy="176.5" r="1.5" fill="#f08a8a" opacity="0.9"/>
<circle cx="781.5" cy="36.6" r="1.5" fill="#f08a8a" opacity="0.9"/>
<circle cx="781.5" cy="52.0" r="1.5" fill="#f08a8a" opacity="0.9"/>
<circle cx="781.5" cy="78.8" r="1.5" fill="#f08a8a" opacity="0.9"/>
<circle cx="781.5" cy="92.1" r="1.5" fill="#f08a8a" opacity="0.9"/>
<circle cx="781.5" cy="105.2" r="1.5" fill="#f08a8a" opacity="0.9"/>
<circle cx="781.5" cy="117.8" r="1.5" fill="#f08a8a" opacity="0.9"/>
<circle cx="781.5" cy="130.3" r="1.5" fill="#f08a8a" opacity="0.9"/>
<circle cx="781.5" cy="142.4" r="1.5" fill="#f08a8a" opacity="0.9"/>
<circle cx="781.5" cy="154.1" r="1.5" fill="#f08a8a" opacity="0.9"/>
<circle cx="781.5" cy="165.4" r="1.5" fill="#f08a8a" opacity="0.9"/>
<circle cx="781.5" cy="176.5" r="1.5" fill="#f08a8a" opacity="0.9"/>
<circle cx="794.6" cy="36.6" r="1.5" fill="#f08a8a" opacity="0.9"/>
<circle cx="794.6" cy="52.0" r="1.5" fill="#f08a8a" opacity="0.9"/>
<circle cx="794.6" cy="65.7" r="1.5" fill="#f08a8a" opacity="0.9"/>
<circle cx="794.6" cy="92.1" r="1.5" fill="#f08a8a" opacity="0.9"/>
<circle cx="794.6" cy="105.2" r="1.5" fill="#f08a8a" opacity="0.9"/>
<circle cx="794.6" cy="117.8" r="1.5" fill="#f08a8a" opacity="0.9"/>
<circle cx="794.6" cy="130.3" r="1.5" fill="#f08a8a" opacity="0.9"/>
<circle cx="794.6" cy="142.4" r="1.5" fill="#f08a8a" opacity="0.9"/>
<circle cx="794.6" cy="154.1" r="1.5" fill="#f08a8a" opacity="0.9"/>
<circle cx="794.6" cy="165.4" r="1.5" fill="#f08a8a" opacity="0.9"/>
<circle cx="794.6" cy="176.5" r="1.5" fill="#f08a8a" opacity="0.9"/>
<circle cx="807.9" cy="36.6" r="1.5" fill="#f08a8a" opacity="0.9"/>
<circle cx="807.9" cy="52.0" r="1.5" fill="#f08a8a" opacity="0.9"/>
<circle cx="807.9" cy="65.7" r="1.5" fill="#f08a8a" opacity="0.9"/>
<circle cx="807.9" cy="78.8" r="1.5" fill="#f08a8a" opacity="0.9"/>
<circle cx="807.9" cy="105.2" r="1.5" fill="#f08a8a" opacity="0.9"/>
<circle cx="807.9" cy="117.8" r="1.5" fill="#f08a8a" opacity="0.9"/>
<circle cx="807.9" cy="130.3" r="1.5" fill="#f08a8a" opacity="0.9"/>
<circle cx="807.9" cy="142.4" r="1.5" fill="#f08a8a" opacity="0.9"/>
<circle cx="807.9" cy="154.1" r="1.5" fill="#f08a8a" opacity="0.9"/>
<circle cx="807.9" cy="165.4" r="1.5" fill="#f08a8a" opacity="0.9"/>
<circle cx="807.9" cy="176.5" r="1.5" fill="#f08a8a" opacity="0.9"/>
<circle cx="821.0" cy="36.6" r="1.5" fill="#f08a8a" opacity="0.9"/>
<circle cx="821.0" cy="52.0" r="1.5" fill="#f08a8a" opacity="0.9"/>
<circle cx="821.0" cy="65.7" r="1.5" fill="#f08a8a" opacity="0.9"/>
<circle cx="821.0" cy="78.8" r="1.5" fill="#f08a8a" opacity="0.9"/>
<circle cx="821.0" cy="92.1" r="1.5" fill="#f08a8a" opacity="0.9"/>
<circle cx="821.0" cy="117.8" r="1.5" fill="#f08a8a" opacity="0.9"/>
<circle cx="821.0" cy="130.3" r="1.5" fill="#f08a8a" opacity="0.9"/>
<circle cx="821.0" cy="142.4" r="1.5" fill="#f08a8a" opacity="0.9"/>
<circle cx="821.0" cy="154.1" r="1.5" fill="#f08a8a" opacity="0.9"/>
<circle cx="821.0" cy="165.4" r="1.5" fill="#f08a8a" opacity="0.9"/>
<circle cx="821.0" cy="176.5" r="1.5" fill="#f08a8a" opacity="0.9"/>
<circle cx="833.6" cy="36.6" r="1.5" fill="#f08a8a" opacity="0.9"/>
<circle cx="833.6" cy="52.0" r="1.5" fill="#f08a8a" opacity="0.9"/>
<circle cx="833.6" cy="65.7" r="1.5" fill="#f08a8a" opacity="0.9"/>
<circle cx="833.6" cy="78.8" r="1.5" fill="#f08a8a" opacity="0.9"/>
<circle cx="833.6" cy="92.1" r="1.5" fill="#f08a8a" opacity="0.9"/>
<circle cx="833.6" cy="105.2" r="1.5" fill="#f08a8a" opacity="0.9"/>
<circle cx="833.6" cy="130.3" r="1.5" fill="#f08a8a" opacity="0.9"/>
<circle cx="833.6" cy="142.4" r="1.5" fill="#f08a8a" opacity="0.9"/>
<circle cx="833.6" cy="154.1" r="1.5" fill="#f08a8a" opacity="0.9"/>
<circle cx="833.6" cy="165.4" r="1.5" fill="#f08a8a" opacity="0.9"/>
<circle cx="833.6" cy="176.5" r="1.5" fill="#f08a8a" opacity="0.9"/>
<circle cx="846.1" cy="36.6" r="1.5" fill="#f08a8a" opacity="0.9"/>
<circle cx="846.1" cy="52.0" r="1.5" fill="#f08a8a" opacity="0.9"/>
<circle cx="846.1" cy="65.7" r="1.5" fill="#f08a8a" opacity="0.9"/>
<circle cx="846.1" cy="78.8" r="1.5" fill="#f08a8a" opacity="0.9"/>
<circle cx="846.1" cy="92.1" r="1.5" fill="#f08a8a" opacity="0.9"/>
<circle cx="846.1" cy="105.2" r="1.5" fill="#f08a8a" opacity="0.9"/>
<circle cx="846.1" cy="117.8" r="1.5" fill="#f08a8a" opacity="0.9"/>
<circle cx="846.1" cy="142.4" r="1.5" fill="#f08a8a" opacity="0.9"/>
<circle cx="846.1" cy="154.1" r="1.5" fill="#f08a8a" opacity="0.9"/>
<circle cx="846.1" cy="165.4" r="1.5" fill="#f08a8a" opacity="0.9"/>
<circle cx="846.1" cy="176.5" r="1.5" fill="#f08a8a" opacity="0.9"/>
<circle cx="858.2" cy="36.6" r="1.5" fill="#f08a8a" opacity="0.9"/>
<circle cx="858.2" cy="52.0" r="1.5" fill="#f08a8a" opacity="0.9"/>
<circle cx="858.2" cy="65.7" r="1.5" fill="#f08a8a" opacity="0.9"/>
<circle cx="858.2" cy="78.8" r="1.5" fill="#f08a8a" opacity="0.9"/>
<circle cx="858.2" cy="92.1" r="1.5" fill="#f08a8a" opacity="0.9"/>
<circle cx="858.2" cy="105.2" r="1.5" fill="#f08a8a" opacity="0.9"/>
<circle cx="858.2" cy="117.8" r="1.5" fill="#f08a8a" opacity="0.9"/>
<circle cx="858.2" cy="130.3" r="1.5" fill="#f08a8a" opacity="0.9"/>
<circle cx="858.2" cy="154.1" r="1.5" fill="#f08a8a" opacity="0.9"/>
<circle cx="858.2" cy="165.4" r="1.5" fill="#f08a8a" opacity="0.9"/>
<circle cx="858.2" cy="176.5" r="1.5" fill="#f08a8a" opacity="0.9"/>
<circle cx="869.9" cy="36.6" r="1.5" fill="#f08a8a" opacity="0.9"/>
<circle cx="869.9" cy="52.0" r="1.5" fill="#f08a8a" opacity="0.9"/>
<circle cx="869.9" cy="65.7" r="1.5" fill="#f08a8a" opacity="0.9"/>
<circle cx="869.9" cy="78.8" r="1.5" fill="#f08a8a" opacity="0.9"/>
<circle cx="869.9" cy="92.1" r="1.5" fill="#f08a8a" opacity="0.9"/>
<circle cx="869.9" cy="105.2" r="1.5" fill="#f08a8a" opacity="0.9"/>
<circle cx="869.9" cy="117.8" r="1.5" fill="#f08a8a" opacity="0.9"/>
<circle cx="869.9" cy="130.3" r="1.5" fill="#f08a8a" opacity="0.9"/>
<circle cx="869.9" cy="142.4" r="1.5" fill="#f08a8a" opacity="0.9"/>
<circle cx="869.9" cy="165.4" r="1.5" fill="#f08a8a" opacity="0.9"/>
<circle cx="869.9" cy="176.5" r="1.5" fill="#f08a8a" opacity="0.9"/>
<circle cx="881.2" cy="36.6" r="1.5" fill="#f08a8a" opacity="0.9"/>
<circle cx="881.2" cy="52.0" r="1.5" fill="#f08a8a" opacity="0.9"/>
<circle cx="881.2" cy="65.7" r="1.5" fill="#f08a8a" opacity="0.9"/>
<circle cx="881.2" cy="78.8" r="1.5" fill="#f08a8a" opacity="0.9"/>
<circle cx="881.2" cy="92.1" r="1.5" fill="#f08a8a" opacity="0.9"/>
<circle cx="881.2" cy="105.2" r="1.5" fill="#f08a8a" opacity="0.9"/>
<circle cx="881.2" cy="117.8" r="1.5" fill="#f08a8a" opacity="0.9"/>
<circle cx="881.2" cy="130.3" r="1.5" fill="#f08a8a" opacity="0.9"/>
<circle cx="881.2" cy="142.4" r="1.5" fill="#f08a8a" opacity="0.9"/>
<circle cx="881.2" cy="154.1" r="1.5" fill="#f08a8a" opacity="0.9"/>
<circle cx="881.2" cy="176.5" r="1.5" fill="#f08a8a" opacity="0.9"/>
<circle cx="892.3" cy="36.6" r="1.5" fill="#f08a8a" opacity="0.9"/>
<circle cx="892.3" cy="52.0" r="1.5" fill="#f08a8a" opacity="0.9"/>
<circle cx="892.3" cy="65.7" r="1.5" fill="#f08a8a" opacity="0.9"/>
<circle cx="892.3" cy="78.8" r="1.5" fill="#f08a8a" opacity="0.9"/>
<circle cx="892.3" cy="92.1" r="1.5" fill="#f08a8a" opacity="0.9"/>
<circle cx="892.3" cy="105.2" r="1.5" fill="#f08a8a" opacity="0.9"/>
<circle cx="892.3" cy="117.8" r="1.5" fill="#f08a8a" opacity="0.9"/>
<circle cx="892.3" cy="130.3" r="1.5" fill="#f08a8a" opacity="0.9"/>
<circle cx="892.3" cy="142.4" r="1.5" fill="#f08a8a" opacity="0.9"/>
<circle cx="892.3" cy="154.1" r="1.5" fill="#f08a8a" opacity="0.9"/>
<circle cx="892.3" cy="165.4" r="1.5" fill="#f08a8a" opacity="0.9"/>
<rect x="778.6" y="32.6" width="2" height="1" fill="#f0a0a0" opacity="0.35"/>
<rect x="799.9" y="107.9" width="3" height="2" fill="#f0a0a0" opacity="0.35"/>
<rect x="760.6" y="71.3" width="2" height="1" fill="#f0a0a0" opacity="0.35"/>
<rect x="852.8" y="94.5" width="3" height="1" fill="#f0a0a0" opacity="0.35"/>
<rect x="819.9" y="120.3" width="1" height="1" fill="#f0a0a0" opacity="0.35"/>
<rect x="818.6" y="134.4" width="1" height="1" fill="#f0a0a0" opacity="0.35"/>
<rect x="818.9" y="134.0" width="1" height="2" fill="#f0a0a0" opacity="0.35"/>
<rect x="891.2" y="132.3" width="1" height="1" fill="#f0a0a0" opacity="0.35"/>
<rect x="788.3" y="26.4" width="2" height="1" fill="#f0a0a0" opacity="0.35"/>
<rect x="852.8" y="65.7" width="3" height="1" fill="#f0a0a0" opacity="0.35"/>
<rect x="788.4" y="134.9" width="1" height="1" fill="#f0a0a0" opacity="0.35"/>
<rect x="767.5" y="69.2" width="3" height="2" fill="#f0a0a0" opacity="0.35"/>
<rect x="857.7" y="179.8" width="1" height="1" fill="#f0a0a0" opacity="0.35"/>
<rect x="760.3" y="89.3" width="2" height="1" fill="#f0a0a0" opacity="0.35"/>
<rect x="876.1" y="78.8" width="2" height="1" fill="#f0a0a0" opacity="0.35"/>
<rect x="755.5" y="149.0" width="1" height="1" fill="#f0a0a0" opacity="0.35"/>
<rect x="809.6" y="84.0" width="3" height="2" fill="#f0a0a0" opacity="0.35"/>
<rect x="852.7" y="104.2" width="2" height="1" fill="#f0a0a0" opacity="0.35"/>
<rect x="741.5" y="128.9" width="3" height="2" fill="#f0a0a0" opacity="0.35"/>
<rect x="858.6" y="124.1" width="2" height="2" fill="#f0a0a0" opacity="0.35"/>
<rect x="767.9" y="87.7" width="3" height="1" fill="#f0a0a0" opacity="0.35"/>
<rect x="868.5" y="60.6" width="2" height="1" fill="#f0a0a0" opacity="0.35"/>
<rect x="806.9" y="124.5" width="2" height="1" fill="#f0a0a0" opacity="0.35"/>
<rect x="876.1" y="25.1" width="1" height="2" fill="#f0a0a0" opacity="0.35"/>
<rect x="789.3" y="72.3" width="1" height="1" fill="#f0a0a0" opacity="0.35"/>
<rect x="761.4" y="27.9" width="3" height="2" fill="#f0a0a0" opacity="0.35"/>
<rect x="840.2" y="173.1" width="3" height="1" fill="#f0a0a0" opacity="0.35"/>
<rect x="770.2" y="70.1" width="2" height="2" fill="#f0a0a0" opacity="0.35"/>
<rect x="749.2" y="125.2" width="1" height="1" fill="#f0a0a0" opacity="0.35"/>
<rect x="895.4" y="55.5" width="2" height="2" fill="#f0a0a0" opacity="0.35"/>
<rect x="797.4" y="93.7" width="1" height="1" fill="#f0a0a0" opacity="0.35"/>
<rect x="859.5" y="37.5" width="2" height="1" fill="#f0a0a0" opacity="0.35"/>
<rect x="819.6" y="186.0" width="1" height="1" fill="#f0a0a0" opacity="0.35"/>
<rect x="746.5" y="114.2" width="2" height="2" fill="#f0a0a0" opacity="0.35"/>
<rect x="739.3" y="28.3" width="2" height="2" fill="#f0a0a0" opacity="0.35"/>
<rect x="770.9" y="43.4" width="1" height="1" fill="#f0a0a0" opacity="0.35"/>
<rect x="834.9" y="125.2" width="1" height="1" fill="#f0a0a0" opacity="0.35"/>
<rect x="757.9" y="35.5" width="1" height="1" fill="#f0a0a0" opacity="0.35"/>
<rect x="864.8" y="125.5" width="2" height="1" fill="#f0a0a0" opacity="0.35"/>
<rect x="836.8" y="182.0" width="3" height="1" fill="#f0a0a0" opacity="0.35"/>
<rect x="817.7" y="27.7" width="2" height="1" fill="#f0a0a0" opacity="0.35"/>
<rect x="749.1" y="179.7" width="3" height="2" fill="#f0a0a0" opacity="0.35"/>
<rect x="883.5" y="155.8" width="1" height="2" fill="#f0a0a0" opacity="0.35"/>
<rect x="750.4" y="171.0" width="3" height="1" fill="#f0a0a0" opacity="0.35"/>
<rect x="901.9" y="150.9" width="3" height="2" fill="#f0a0a0" opacity="0.35"/>
<rect x="857.9" y="47.6" width="2" height="1" fill="#f0a0a0" opacity="0.35"/>
<rect x="811.5" y="160.4" width="2" height="1" fill="#f0a0a0" opacity="0.35"/>
<rect x="756.2" y="123.8" width="2" height="1" fill="#f0a0a0" opacity="0.35"/>
<rect x="741.7" y="158.2" width="3" height="2" fill="#f0a0a0" opacity="0.35"/>
<rect x="888.0" y="165.3" width="3" height="1" fill="#f0a0a0" opacity="0.35"/>
<rect x="876.1" y="33.3" width="2" height="2" fill="#f0a0a0" opacity="0.35"/>
<rect x="899.9" y="78.0" width="1" height="2" fill="#f0a0a0" opacity="0.35"/>
<rect x="760.4" y="140.9" width="3" height="2" fill="#f0a0a0" opacity="0.35"/>
<rect x="840.5" y="143.8" width="2" height="2" fill="#f0a0a0" opacity="0.35"/>
<rect x="827.6" y="183.9" width="1" height="1" fill="#f0a0a0" opacity="0.35"/>
<rect x="897.0" y="185.6" width="2" height="2" fill="#f0a0a0" opacity="0.35"/>
<rect x="766.0" y="59.0" width="2" height="1" fill="#f0a0a0" opacity="0.35"/>
<rect x="833.0" y="92.5" width="3" height="1" fill="#f0a0a0" opacity="0.35"/>
<rect x="742.3" y="103.7" width="1" height="1" fill="#f0a0a0" opacity="0.35"/>
<rect x="774.6" y="103.6" width="2" height="2" fill="#f0a0a0" opacity="0.35"/>
<rect x="877.7" y="107.5" width="1" height="2" fill="#f0a0a0" opacity="0.35"/>
<rect x="867.5" y="186.2" width="2" height="1" fill="#f0a0a0" opacity="0.35"/>
<rect x="783.4" y="27.5" width="1" height="2" fill="#f0a0a0" opacity="0.35"/>
<rect x="888.4" y="151.5" width="3" height="2" fill="#f0a0a0" opacity="0.35"/>
<rect x="834.8" y="129.4" width="2" height="2" fill="#f0a0a0" opacity="0.35"/>
<rect x="764.8" y="22.5" width="2" height="2" fill="#f0a0a0" opacity="0.35"/>
<rect x="880.7" y="23.3" width="1" height="1" fill="#f0a0a0" opacity="0.35"/>
<rect x="740.4" y="178.5" width="1" height="2" fill="#f0a0a0" opacity="0.35"/>
<rect x="770.7" y="114.0" width="2" height="2" fill="#f0a0a0" opacity="0.35"/>
<rect x="758.8" y="167.1" width="1" height="2" fill="#f0a0a0" opacity="0.35"/>
<rect x="833.0" y="99.8" width="1" height="2" fill="#f0a0a0" opacity="0.35"/>
<rect x="877.7" y="39.0" width="2" height="2" fill="#f0a0a0" opacity="0.35"/>
<rect x="849.0" y="140.6" width="2" height="1" fill="#f0a0a0" opacity="0.35"/>
<rect x="806.3" y="161.9" width="2" height="1" fill="#f0a0a0" opacity="0.35"/>
<rect x="901.5" y="100.6" width="2" height="2" fill="#f0a0a0" opacity="0.35"/>
<rect x="808.1" y="170.7" width="2" height="1" fill="#f0a0a0" opacity="0.35"/>
<rect x="882.4" y="114.3" width="2" height="1" fill="#f0a0a0" opacity="0.35"/>
<rect x="814.4" y="177.2" width="3" height="1" fill="#f0a0a0" opacity="0.35"/>
<rect x="843.9" y="180.5" width="2" height="2" fill="#f0a0a0" opacity="0.35"/>
<rect x="840.4" y="39.4" width="3" height="1" fill="#f0a0a0" opacity="0.35"/>
<rect x="760.1" y="105.7" width="1" height="2" fill="#f0a0a0" opacity="0.35"/>
<rect x="749.1" y="57.4" width="3" height="1" fill="#f0a0a0" opacity="0.35"/>
<rect x="759.7" y="114.9" width="3" height="1" fill="#f0a0a0" opacity="0.35"/>
<rect x="893.9" y="23.0" width="2" height="1" fill="#f0a0a0" opacity="0.35"/>
<rect x="880.2" y="162.6" width="2" height="1" fill="#f0a0a0" opacity="0.35"/>
<rect x="849.9" y="143.0" width="3" height="1" fill="#f0a0a0" opacity="0.35"/>
<rect x="858.3" y="65.3" width="1" height="1" fill="#f0a0a0" opacity="0.35"/>
<rect x="881.5" y="165.5" width="1" height="2" fill="#f0a0a0" opacity="0.35"/>
<rect x="849.1" y="61.3" width="2" height="1" fill="#f0a0a0" opacity="0.35"/>
<rect x="797.6" y="147.9" width="1" height="2" fill="#f0a0a0" opacity="0.35"/>
<rect x="758.6" y="67.8" width="3" height="1" fill="#f0a0a0" opacity="0.35"/>
<rect x="809.6" y="111.3" width="3" height="2" fill="#f0a0a0" opacity="0.35"/>
<rect x="760.7" y="77.5" width="2" height="1" fill="#f0a0a0" opacity="0.35"/>
<rect x="752.9" y="54.0" width="3" height="2" fill="#f0a0a0" opacity="0.35"/>
<rect x="880.1" y="176.4" width="2" height="2" fill="#f0a0a0" opacity="0.35"/>
<rect x="898.8" y="144.5" width="2" height="1" fill="#f0a0a0" opacity="0.35"/>
<rect x="831.9" y="131.9" width="2" height="2" fill="#f0a0a0" opacity="0.35"/>
<rect x="816.7" y="55.4" width="3" height="1" fill="#f0a0a0" opacity="0.35"/>
<rect x="891.6" y="128.6" width="1" height="1" fill="#f0a0a0" opacity="0.35"/>
<rect x="792.5" y="93.2" width="2" height="1" fill="#f0a0a0" opacity="0.35"/>
<rect x="832.1" y="68.2" width="3" height="1" fill="#f0a0a0" opacity="0.35"/>
<rect x="786.9" y="57.2" width="1" height="1" fill="#f0a0a0" opacity="0.35"/>
<rect x="790.0" y="156.7" width="2" height="1" fill="#f0a0a0" opacity="0.35"/>
<rect x="823.1" y="55.1" width="3" height="2" fill="#f0a0a0" opacity="0.35"/>
<rect x="816.9" y="92.6" width="3" height="1" fill="#f0a0a0" opacity="0.35"/>
<rect x="763.3" y="84.8" width="3" height="1" fill="#f0a0a0" opacity="0.35"/>
<rect x="859.8" y="180.9" width="3" height="1" fill="#f0a0a0" opacity="0.35"/>
<rect x="754.8" y="86.4" width="1" height="2" fill="#f0a0a0" opacity="0.35"/>
<rect x="828.6" y="96.8" width="3" height="2" fill="#f0a0a0" opacity="0.35"/>
<rect x="749.8" y="35.8" width="2" height="2" fill="#f0a0a0" opacity="0.35"/>
<rect x="899.7" y="34.5" width="3" height="2" fill="#f0a0a0" opacity="0.35"/>
<rect x="870.1" y="90.7" width="3" height="1" fill="#f0a0a0" opacity="0.35"/>
<rect x="776.4" y="174.4" width="3" height="2" fill="#f0a0a0" opacity="0.35"/>
<rect x="779.8" y="85.5" width="1" height="2" fill="#f0a0a0" opacity="0.35"/>
<rect x="821.7" y="148.3" width="2" height="2" fill="#f0a0a0" opacity="0.35"/>
<rect x="762.7" y="81.3" width="2" height="2" fill="#f0a0a0" opacity="0.35"/>
<rect x="822.0" y="76.2" width="2" height="1" fill="#f0a0a0" opacity="0.35"/>
<rect x="890.6" y="73.5" width="1" height="2" fill="#f0a0a0" opacity="0.35"/>
<rect x="900.5" y="105.3" width="1" height="2" fill="#f0a0a0" opacity="0.35"/>
<rect x="777.0" y="123.5" width="1" height="2" fill="#f0a0a0" opacity="0.35"/>
<rect x="796.1" y="177.1" width="2" height="2" fill="#f0a0a0" opacity="0.35"/>
<rect x="759.6" y="88.1" width="1" height="2" fill="#f0a0a0" opacity="0.35"/>
<rect x="756.8" y="114.9" width="3" height="1" fill="#f0a0a0" opacity="0.35"/>
<rect x="887.4" y="171.7" width="3" height="2" fill="#f0a0a0" opacity="0.35"/>
<rect x="830.2" y="126.8" width="2" height="1" fill="#f0a0a0" opacity="0.35"/>
<rect x="855.1" y="185.1" width="1" height="2" fill="#f0a0a0" opacity="0.35"/>
<rect x="823.5" y="53.4" width="1" height="2" fill="#f0a0a0" opacity="0.35"/>
<rect x="805.7" y="175.3" width="3" height="2" fill="#f0a0a0" opacity="0.35"/>
<rect x="901.5" y="172.0" width="3" height="2" fill="#f0a0a0" opacity="0.35"/>
<rect x="765.9" y="56.0" width="3" height="2" fill="#f0a0a0" opacity="0.35"/>
<rect x="808.5" y="59.7" width="2" height="1" fill="#f0a0a0" opacity="0.35"/>
<rect x="842.8" y="177.8" width="1" height="1" fill="#f0a0a0" opacity="0.35"/>
<rect x="863.8" y="163.8" width="1" height="2" fill="#f0a0a0" opacity="0.35"/>
<rect x="867.4" y="41.3" width="1" height="1" fill="#f0a0a0" opacity="0.35"/>
<rect x="869.9" y="70.2" width="3" height="1" fill="#f0a0a0" opacity="0.35"/>
<rect x="769.4" y="51.5" width="2" height="2" fill="#f0a0a0" opacity="0.35"/>
<rect x="830.0" y="124.1" width="3" height="1" fill="#f0a0a0" opacity="0.35"/>
<rect x="784.2" y="91.4" width="3" height="1" fill="#f0a0a0" opacity="0.35"/>
<rect x="777.4" y="168.0" width="3" height="1" fill="#f0a0a0" opacity="0.35"/>
<rect x="743.5" y="177.3" width="1" height="2" fill="#f0a0a0" opacity="0.35"/>
<rect x="873.2" y="156.1" width="1" height="2" fill="#f0a0a0" opacity="0.35"/>
<rect x="766.1" y="104.0" width="3" height="2" fill="#f0a0a0" opacity="0.35"/>
<rect x="890.2" y="95.6" width="3" height="2" fill="#f0a0a0" opacity="0.35"/>
<rect x="875.1" y="96.3" width="1" height="2" fill="#f0a0a0" opacity="0.35"/>
<rect x="861.9" y="156.3" width="3" height="2" fill="#f0a0a0" opacity="0.35"/>
<rect x="810.3" y="183.9" width="2" height="2" fill="#f0a0a0" opacity="0.35"/>
<rect x="852.3" y="105.2" width="2" height="2" fill="#f0a0a0" opacity="0.35"/>
<rect x="833.2" y="178.1" width="2" height="1" fill="#f0a0a0" opacity="0.35"/>
<rect x="779.3" y="183.4" width="3" height="1" fill="#f0a0a0" opacity="0.35"/>
<rect x="828.0" y="54.4" width="3" height="1" fill="#f0a0a0" opacity="0.35"/>
<rect x="841.5" y="24.4" width="2" height="1" fill="#f0a0a0" opacity="0.35"/>
<rect x="840.5" y="161.0" width="1" height="2" fill="#f0a0a0" opacity="0.35"/>
<rect x="740.7" y="106.4" width="3" height="2" fill="#f0a0a0" opacity="0.35"/>
<rect x="855.8" y="156.5" width="1" height="1" fill="#f0a0a0" opacity="0.35"/>
<rect x="764.4" y="109.1" width="3" height="2" fill="#f0a0a0" opacity="0.35"/>
<rect x="737.6" y="38.3" width="2" height="2" fill="#f0a0a0" opacity="0.35"/>
<rect x="822.4" y="26.7" width="2" height="1" fill="#f0a0a0" opacity="0.35"/>
<rect x="824.5" y="90.3" width="3" height="1" fill="#f0a0a0" opacity="0.35"/>
<rect x="835.8" y="99.6" width="2" height="2" fill="#f0a0a0" opacity="0.35"/>
<rect x="836.2" y="84.6" width="3" height="1" fill="#f0a0a0" opacity="0.35"/>
<rect x="785.1" y="46.3" width="1" height="1" fill="#f0a0a0" opacity="0.35"/>
<rect x="792.5" y="74.5" width="1" height="1" fill="#f0a0a0" opacity="0.35"/>
<rect x="793.4" y="85.2" width="1" height="1" fill="#f0a0a0" opacity="0.35"/>
<rect x="801.1" y="65.1" width="2" height="1" fill="#f0a0a0" opacity="0.35"/>
<rect x="836.2" y="177.7" width="1" height="2" fill="#f0a0a0" opacity="0.35"/>
<rect x="867.8" y="105.5" width="1" height="1" fill="#f0a0a0" opacity="0.35"/>
<rect x="812.6" y="98.7" width="1" height="2" fill="#f0a0a0" opacity="0.35"/>
<rect x="761.0" y="133.4" width="1" height="1" fill="#f0a0a0" opacity="0.35"/>
<rect x="856.2" y="103.3" width="1" height="1" fill="#f0a0a0" opacity="0.35"/>
<rect x="893.4" y="57.3" width="3" height="1" fill="#f0a0a0" opacity="0.35"/>
<rect x="888.3" y="65.5" width="1" height="2" fill="#f0a0a0" opacity="0.35"/>
<rect x="844.5" y="37.3" width="2" height="1" fill="#f0a0a0" opacity="0.35"/>
<rect x="764.2" y="135.6" width="2" height="2" fill="#f0a0a0" opacity="0.35"/>
<rect x="821.4" y="47.1" width="3" height="1" fill="#f0a0a0" opacity="0.35"/>
<rect x="893.8" y="95.2" width="3" height="1" fill="#f0a0a0" opacity="0.35"/>
<rect x="887.7" y="27.8" width="1" height="2" fill="#f0a0a0" opacity="0.35"/>
<rect x="803.6" y="161.9" width="3" height="1" fill="#f0a0a0" opacity="0.35"/>
<rect x="846.9" y="122.9" width="1" height="1" fill="#f0a0a0" opacity="0.35"/>
<rect x="791.5" y="57.7" width="1" height="1" fill="#f0a0a0" opacity="0.35"/>
<rect x="867.8" y="59.8" width="1" height="2" fill="#f0a0a0" opacity="0.35"/>
<rect x="884.9" y="143.8" width="3" height="1" fill="#f0a0a0" opacity="0.35"/>
<rect x="764.2" y="119.3" width="3" height="1" fill="#f0a0a0" opacity="0.35"/>
<rect x="830.1" y="155.1" width="2" height="1" fill="#f0a0a0" opacity="0.35"/>
<rect x="861.3" y="99.3" width="2" height="2" fill="#f0a0a0" opacity="0.35"/>
<rect x="767.2" y="99.7" width="2" height="2" fill="#f0a0a0" opacity="0.35"/>
<rect x="776.6" y="145.3" width="2" height="2" fill="#f0a0a0" opacity="0.35"/>
<rect x="872.5" y="175.9" width="2" height="1" fill="#f0a0a0" opacity="0.35"/>
<rect x="772.0" y="177.6" width="3" height="1" fill="#f0a0a0" opacity="0.35"/>
<rect x="744.2" y="167.3" width="2" height="2" fill="#f0a0a0" opacity="0.35"/>
<rect x="812.4" y="136.9" width="1" height="1" fill="#f0a0a0" opacity="0.35"/>
<rect x="773.9" y="78.0" width="3" height="1" fill="#f0a0a0" opacity="0.35"/>
<rect x="799.4" y="167.2" width="1" height="2" fill="#f0a0a0" opacity="0.35"/>
<rect x="761.7" y="182.2" width="3" height="2" fill="#f0a0a0" opacity="0.35"/>
<rect x="879.9" y="130.9" width="3" height="2" fill="#f0a0a0" opacity="0.35"/>
<rect x="855.3" y="63.6" width="2" height="2" fill="#f0a0a0" opacity="0.35"/>
<rect x="848.2" y="122.0" width="3" height="1" fill="#f0a0a0" opacity="0.35"/>
<rect x="839.9" y="44.4" width="3" height="2" fill="#f0a0a0" opacity="0.35"/>
<rect x="783.1" y="173.6" width="1" height="2" fill="#f0a0a0" opacity="0.35"/>
<rect x="898.2" y="100.1" width="1" height="1" fill="#f0a0a0" opacity="0.35"/>
<rect x="810.5" y="82.1" width="3" height="2" fill="#f0a0a0" opacity="0.35"/>
<rect x="814.8" y="185.4" width="2" height="2" fill="#f0a0a0" opacity="0.35"/>
<rect x="887.9" y="147.5" width="3" height="1" fill="#f0a0a0" opacity="0.35"/>
<rect x="753.4" y="66.4" width="2" height="2" fill="#f0a0a0" opacity="0.35"/>
<rect x="803.1" y="153.9" width="3" height="1" fill="#f0a0a0" opacity="0.35"/>
<rect x="756.3" y="99.6" width="1" height="1" fill="#f0a0a0" opacity="0.35"/>
<rect x="876.2" y="130.3" width="2" height="1" fill="#f0a0a0" opacity="0.35"/>
<rect x="745.7" y="157.7" width="3" height="1" fill="#f0a0a0" opacity="0.35"/>
<rect x="855.5" y="158.0" width="1" height="2" fill="#f0a0a0" opacity="0.35"/>
<rect x="886.9" y="147.4" width="3" height="2" fill="#f0a0a0" opacity="0.35"/>
<rect x="821.1" y="53.7" width="3" height="1" fill="#f0a0a0" opacity="0.35"/>
<rect x="796.5" y="127.8" width="1" height="1" fill="#f0a0a0" opacity="0.35"/>
<rect x="787.0" y="165.6" width="3" height="2" fill="#f0a0a0" opacity="0.35"/>
<rect x="789.9" y="149.4" width="2" height="2" fill="#f0a0a0" opacity="0.35"/>
<rect x="892.4" y="71.2" width="3" height="1" fill="#f0a0a0" opacity="0.35"/>
<rect x="901.0" y="96.9" width="2" height="1" fill="#f0a0a0" opacity="0.35"/>
<rect x="761.8" y="74.4" width="2" height="2" fill="#f0a0a0" opacity="0.35"/>
<rect x="756.5" y="138.4" width="3" height="2" fill="#f0a0a0" opacity="0.35"/>
<rect x="766.1" y="131.4" width="3" height="1" fill="#f0a0a0" opacity="0.35"/>
<rect x="886.3" y="139.1" width="1" height="2" fill="#f0a0a0" opacity="0.35"/>
<rect x="760.2" y="97.0" width="2" height="2" fill="#f0a0a0" opacity="0.35"/>
<rect x="747.8" y="45.3" width="3" height="2" fill="#f0a0a0" opacity="0.35"/>
<rect x="895.2" y="154.5" width="2" height="2" fill="#f0a0a0" opacity="0.35"/>
<rect x="814.0" y="90.8" width="2" height="2" fill="#f0a0a0" opacity="0.35"/>
<rect x="888.4" y="114.5" width="2" height="1" fill="#f0a0a0" opacity="0.35"/>
<rect x="774.2" y="106.9" width="1" height="2" fill="#f0a0a0" opacity="0.35"/>
<rect x="852.7" y="169.1" width="1" height="2" fill="#f0a0a0" opacity="0.35"/>
<rect x="745.8" y="41.0" width="3" height="2" fill="#f0a0a0" opacity="0.35"/>
<rect x="782.8" y="47.3" width="2" height="2" fill="#f0a0a0" opacity="0.35"/>
<rect x="851.1" y="177.6" width="3" height="2" fill="#f0a0a0" opacity="0.35"/>
<rect x="777.2" y="63.2" width="1" height="2" fill="#f0a0a0" opacity="0.35"/>
<rect x="763.1" y="128.0" width="1" height="1" fill="#f0a0a0" opacity="0.35"/>
<rect x="853.9" y="102.4" width="2" height="1" fill="#f0a0a0" opacity="0.35"/>
<rect x="804.8" y="51.0" width="2" height="2" fill="#f0a0a0" opacity="0.35"/>
<rect x="823.3" y="65.3" width="2" height="1" fill="#f0a0a0" opacity="0.35"/>
<rect x="896.1" y="103.7" width="1" height="2" fill="#f0a0a0" opacity="0.35"/>
<rect x="902.5" y="160.7" width="1" height="2" fill="#f0a0a0" opacity="0.35"/>
<rect x="813.2" y="126.2" width="2" height="2" fill="#f0a0a0" opacity="0.35"/>
<rect x="786.7" y="130.9" width="1" height="2" fill="#f0a0a0" opacity="0.35"/>
<rect x="786.3" y="22.9" width="2" height="1" fill="#f0a0a0" opacity="0.35"/>
<rect x="739.6" y="20.9" width="1" height="1" fill="#f0a0a0" opacity="0.35"/>
<rect x="783.3" y="115.9" width="3" height="1" fill="#f0a0a0" opacity="0.35"/>
<rect x="890.8" y="162.1" width="1" height="1" fill="#f0a0a0" opacity="0.35"/>
<rect x="846.8" y="89.1" width="2" height="1" fill="#f0a0a0" opacity="0.35"/>
<rect x="745.0" y="69.6" width="2" height="2" fill="#f0a0a0" opacity="0.35"/>
<rect x="842.0" y="78.4" width="3" height="2" fill="#f0a0a0" opacity="0.35"/>
<rect x="819.5" y="166.0" width="1" height="2" fill="#f0a0a0" opacity="0.35"/>
<rect x="834.6" y="103.1" width="1" height="1" fill="#f0a0a0" opacity="0.35"/>
<rect x="845.5" y="24.1" width="1" height="1" fill="#f0a0a0" opacity="0.35"/>
<rect x="780.1" y="176.1" width="1" height="2" fill="#f0a0a0" opacity="0.35"/>
<rect x="848.4" y="51.8" width="2" height="2" fill="#f0a0a0" opacity="0.35"/>
<rect x="736.60" y="20.80" width="15.82" height="15.82" fill="url(#hg_cep)"/>
<line x1="736.60" y1="20.80" x2="752.42" y2="36.62" stroke="#f07878" stroke-width="1.6"/>
<rect x="752.42" y="36.62" width="15.33" height="15.33" fill="url(#hg_cep)"/>
<line x1="752.42" y1="36.62" x2="767.75" y2="51.95" stroke="#f07878" stroke-width="1.6"/>
<rect x="767.75" y="51.95" width="13.73" height="13.73" fill="url(#hg_cep)"/>
<line x1="767.75" y1="51.95" x2="781.48" y2="65.68" stroke="#f07878" stroke-width="1.6"/>
<rect x="781.48" y="65.68" width="13.14" height="13.14" fill="url(#hg_cep)"/>
<line x1="781.48" y1="65.68" x2="794.62" y2="78.82" stroke="#f07878" stroke-width="1.6"/>
<rect x="794.62" y="78.82" width="13.24" height="13.24" fill="url(#hg_cep)"/>
<line x1="794.62" y1="78.82" x2="807.86" y2="92.06" stroke="#f07878" stroke-width="1.6"/>
<rect x="807.86" y="92.06" width="13.14" height="13.14" fill="url(#hg_cep)"/>
<line x1="807.86" y1="92.06" x2="820.99" y2="105.19" stroke="#f07878" stroke-width="1.6"/>
<rect x="820.99" y="105.19" width="12.64" height="12.64" fill="url(#hg_cep)"/>
<line x1="820.99" y1="105.19" x2="833.63" y2="117.83" stroke="#f07878" stroke-width="1.6"/>
<rect x="833.63" y="117.83" width="12.44" height="12.44" fill="url(#hg_cep)"/>
<line x1="833.63" y1="117.83" x2="846.07" y2="130.27" stroke="#f07878" stroke-width="1.6"/>
<rect x="846.07" y="130.27" width="12.14" height="12.14" fill="url(#hg_cep)"/>
<line x1="846.07" y1="130.27" x2="858.21" y2="142.41" stroke="#f07878" stroke-width="1.6"/>
<rect x="858.21" y="142.41" width="11.64" height="11.64" fill="url(#hg_cep)"/>
<line x1="858.21" y1="142.41" x2="869.86" y2="154.06" stroke="#f07878" stroke-width="1.6"/>
<rect x="869.86" y="154.06" width="11.35" height="11.35" fill="url(#hg_cep)"/>
<line x1="869.86" y1="154.06" x2="881.20" y2="165.40" stroke="#f07878" stroke-width="1.6"/>
<rect x="881.20" y="165.40" width="11.05" height="11.05" fill="url(#hg_cep)"/>
<line x1="881.20" y1="165.40" x2="892.25" y2="176.45" stroke="#f07878" stroke-width="1.6"/>
<rect x="892.25" y="176.45" width="10.55" height="10.55" fill="url(#hg_cep)"/>
<line x1="892.25" y1="176.45" x2="902.80" y2="187.00" stroke="#f07878" stroke-width="1.6"/>
<rect x="736.60" y="20.80" width="15.82" height="15.82" fill="none" stroke="#7a80a8" stroke-width="1.1"/>
<rect x="752.42" y="36.62" width="15.33" height="15.33" fill="none" stroke="#7a80a8" stroke-width="1.1"/>
<rect x="767.75" y="51.95" width="13.73" height="13.73" fill="none" stroke="#7a80a8" stroke-width="1.1"/>
<rect x="781.48" y="65.68" width="13.14" height="13.14" fill="none" stroke="#7a80a8" stroke-width="1.1"/>
<rect x="794.62" y="78.82" width="13.24" height="13.24" fill="none" stroke="#7a80a8" stroke-width="1.1"/>
<rect x="807.86" y="92.06" width="13.14" height="13.14" fill="none" stroke="#7a80a8" stroke-width="1.1"/>
<rect x="820.99" y="105.19" width="12.64" height="12.64" fill="none" stroke="#7a80a8" stroke-width="1.1"/>
<rect x="833.63" y="117.83" width="12.44" height="12.44" fill="none" stroke="#7a80a8" stroke-width="1.1"/>
<rect x="846.07" y="130.27" width="12.14" height="12.14" fill="none" stroke="#7a80a8" stroke-width="1.1"/>
<rect x="858.21" y="142.41" width="11.64" height="11.64" fill="none" stroke="#7a80a8" stroke-width="1.1"/>
<rect x="869.86" y="154.06" width="11.35" height="11.35" fill="none" stroke="#7a80a8" stroke-width="1.1"/>
<rect x="881.20" y="165.40" width="11.05" height="11.05" fill="none" stroke="#7a80a8" stroke-width="1.1"/>
<rect x="892.25" y="176.45" width="10.55" height="10.55" fill="none" stroke="#7a80a8" stroke-width="1.1"/>
<line x1="748.38" y1="20.80" x2="748.38" y2="22.60" stroke="#3b55a0" stroke-width="0.6"/>
<line x1="737.40" y1="32.58" x2="739.20" y2="32.58" stroke="#3a8a3a" stroke-width="0.7"/>
<line x1="760.15" y1="20.80" x2="760.15" y2="22.60" stroke="#3b55a0" stroke-width="0.6"/>
<line x1="737.40" y1="44.35" x2="739.20" y2="44.35" stroke="#3a8a3a" stroke-width="0.7"/>
<line x1="771.93" y1="20.80" x2="771.93" y2="22.60" stroke="#3b55a0" stroke-width="0.6"/>
<line x1="737.40" y1="56.12" x2="739.20" y2="56.12" stroke="#3a8a3a" stroke-width="0.7"/>
<line x1="783.70" y1="20.80" x2="783.70" y2="22.60" stroke="#3b55a0" stroke-width="0.6"/>
<line x1="737.40" y1="67.90" x2="739.20" y2="67.90" stroke="#3a8a3a" stroke-width="0.7"/>
<line x1="795.48" y1="20.80" x2="795.48" y2="22.60" stroke="#3b55a0" stroke-width="0.6"/>
<line x1="737.40" y1="79.67" x2="739.20" y2="79.67" stroke="#3a8a3a" stroke-width="0.7"/>
<line x1="807.25" y1="20.80" x2="807.25" y2="22.60" stroke="#3b55a0" stroke-width="0.6"/>
<line x1="737.40" y1="91.45" x2="739.20" y2="91.45" stroke="#3a8a3a" stroke-width="0.7"/>
<line x1="819.02" y1="20.80" x2="819.02" y2="22.60" stroke="#3b55a0" stroke-width="0.6"/>
<line x1="737.40" y1="103.22" x2="739.20" y2="103.22" stroke="#3a8a3a" stroke-width="0.7"/>
<line x1="830.80" y1="20.80" x2="830.80" y2="22.60" stroke="#3b55a0" stroke-width="0.6"/>
<line x1="737.40" y1="115.00" x2="739.20" y2="115.00" stroke="#3a8a3a" stroke-width="0.7"/>
<line x1="842.58" y1="20.80" x2="842.58" y2="22.60" stroke="#3b55a0" stroke-width="0.6"/>
<line x1="737.40" y1="126.78" x2="739.20" y2="126.78" stroke="#3a8a3a" stroke-width="0.7"/>
<line x1="854.35" y1="20.80" x2="854.35" y2="22.60" stroke="#3b55a0" stroke-width="0.6"/>
<line x1="737.40" y1="138.55" x2="739.20" y2="138.55" stroke="#3a8a3a" stroke-width="0.7"/>
<line x1="866.12" y1="20.80" x2="866.12" y2="22.60" stroke="#3b55a0" stroke-width="0.6"/>
<line x1="737.40" y1="150.33" x2="739.20" y2="150.33" stroke="#3a8a3a" stroke-width="0.7"/>
<line x1="877.90" y1="20.80" x2="877.90" y2="22.60" stroke="#3b55a0" stroke-width="0.6"/>
<line x1="737.40" y1="162.10" x2="739.20" y2="162.10" stroke="#3a8a3a" stroke-width="0.7"/>
<line x1="889.68" y1="20.80" x2="889.68" y2="22.60" stroke="#3b55a0" stroke-width="0.6"/>
<line x1="737.40" y1="173.88" x2="739.20" y2="173.88" stroke="#3a8a3a" stroke-width="0.7"/>
<line x1="901.45" y1="20.80" x2="901.45" y2="22.60" stroke="#3b55a0" stroke-width="0.6"/>
<line x1="737.40" y1="185.65" x2="739.20" y2="185.65" stroke="#3a8a3a" stroke-width="0.7"/>
<text x="783.70" y="30.30" font-size="6.6" fill="#3b55a0" text-anchor="middle">200 MB</text>
<text transform="translate(747.10,67.90) rotate(-90)" font-size="6.6" fill="#3a8a3a" text-anchor="middle">200 MB</text>
<text x="830.80" y="30.30" font-size="6.6" fill="#3b55a0" text-anchor="middle">400 MB</text>
<text transform="translate(747.10,115.00) rotate(-90)" font-size="6.6" fill="#3a8a3a" text-anchor="middle">400 MB</text>
<text x="877.90" y="30.30" font-size="6.6" fill="#3b55a0" text-anchor="middle">600 MB</text>
<text transform="translate(747.10,162.10) rotate(-90)" font-size="6.6" fill="#3a8a3a" text-anchor="middle">600 MB</text>
<text x="734.60" y="16.80" font-size="6.5" fill="#3a8a3a" text-anchor="middle">0</text>
<text transform="translate(740.01,18.60) rotate(-30)" font-size="6.0" fill="#3b55a0">Chr1</text>
<text x="733.10" y="31.01" font-size="6.0" fill="#3a8a3a" text-anchor="end">Chr1</text>
<text transform="translate(755.59,18.60) rotate(-30)" font-size="6.0" fill="#3b55a0">Chr2</text>
<text x="733.10" y="46.59" font-size="6.0" fill="#3a8a3a" text-anchor="end">Chr2</text>
<text transform="translate(770.12,18.60) rotate(-30)" font-size="6.0" fill="#3b55a0">Chr3</text>
<text x="733.10" y="61.12" font-size="6.0" fill="#3a8a3a" text-anchor="end">Chr3</text>
<text transform="translate(783.55,18.60) rotate(-30)" font-size="6.0" fill="#3b55a0">Chr4</text>
<text x="733.10" y="74.55" font-size="6.0" fill="#3a8a3a" text-anchor="end">Chr4</text>
<text transform="translate(796.74,18.60) rotate(-30)" font-size="6.0" fill="#3b55a0">Chr5</text>
<text x="733.10" y="87.74" font-size="6.0" fill="#3a8a3a" text-anchor="end">Chr5</text>
<text transform="translate(809.93,18.60) rotate(-30)" font-size="6.0" fill="#3b55a0">Chr6</text>
<text x="733.10" y="100.93" font-size="6.0" fill="#3a8a3a" text-anchor="end">Chr6</text>
<text transform="translate(822.81,18.60) rotate(-30)" font-size="6.0" fill="#3b55a0">Chr7</text>
<text x="733.10" y="113.81" font-size="6.0" fill="#3a8a3a" text-anchor="end">Chr7</text>
<text transform="translate(835.35,18.60) rotate(-30)" font-size="6.0" fill="#3b55a0">Chr8</text>
<text x="733.10" y="126.35" font-size="6.0" fill="#3a8a3a" text-anchor="end">Chr8</text>
<text transform="translate(847.64,18.60) rotate(-30)" font-size="6.0" fill="#3b55a0">Chr9</text>
<text x="733.10" y="138.64" font-size="6.0" fill="#3a8a3a" text-anchor="end">Chr9</text>
<text transform="translate(859.54,18.60) rotate(-30)" font-size="6.0" fill="#3b55a0">Chr10</text>
<text x="733.10" y="150.54" font-size="6.0" fill="#3a8a3a" text-anchor="end">Chr10</text>
<text transform="translate(871.03,18.60) rotate(-30)" font-size="6.0" fill="#3b55a0">Chr11</text>
<text x="733.10" y="162.03" font-size="6.0" fill="#3a8a3a" text-anchor="end">Chr11</text>
<text transform="translate(882.23,18.60) rotate(-30)" font-size="6.0" fill="#3b55a0">Chr12</text>
<text x="733.10" y="173.23" font-size="6.0" fill="#3a8a3a" text-anchor="end">Chr12</text>
<text transform="translate(893.03,18.60) rotate(-30)" font-size="6.0" fill="#3b55a0">Chr13</text>
<text x="733.10" y="184.03" font-size="6.0" fill="#3a8a3a" text-anchor="end">Chr13</text>
<text x="837.8" y="204.5" font-size="12.1" font-style="italic" fill="#b86a98" text-anchor="middle">S. cepharantha</text>
<text x="-0.2" y="225.8" font-size="16.5" font-weight="bold" fill="#000">C</text>
<line x1="31.8" y1="228.7" x2="31.8" y2="352.6" stroke="#999" stroke-width="0.9"/>
<line x1="29.6" y1="346.20" x2="31.8" y2="346.20" stroke="#999" stroke-width="0.9"/>
<text x="27.7" y="349.70" font-size="9.8" fill="#222" text-anchor="end">0 M</text>
<line x1="29.6" y1="308.03" x2="31.8" y2="308.03" stroke="#999" stroke-width="0.9"/>
<text x="27.7" y="311.53" font-size="9.8" fill="#222" text-anchor="end">30 M</text>
<line x1="29.6" y1="269.86" x2="31.8" y2="269.86" stroke="#999" stroke-width="0.9"/>
<text x="27.7" y="273.36" font-size="9.8" fill="#222" text-anchor="end">60 M</text>
<line x1="29.6" y1="231.69" x2="31.8" y2="231.69" stroke="#999" stroke-width="0.9"/>
<text x="27.7" y="235.19" font-size="9.8" fill="#222" text-anchor="end">90 M</text>
<rect x="42.20" y="235.40" width="6.6" height="110.40" rx="1.2" fill="#4a8a80" stroke="#1f7570" stroke-width="1.1"/>
<rect x="41.90" y="276.90" width="7.2" height="2.6" fill="#f28a1c"/>
<path d="M50.10,235.90 L53.00,235.90 L53.00,237.50 L53.57,237.50 L53.57,239.10 L53.36,239.10 L53.36,240.70 L53.81,240.70 L53.81,242.30 L53.91,242.30 L53.91,243.90 L53.09,243.90 L53.09,245.50 L53.07,245.50 L53.07,247.10 L54.46,247.10 L54.46,248.70 L53.61,248.70 L53.61,250.30 L53.63,250.30 L53.63,251.90 L54.92,251.90 L54.92,253.50 L54.14,253.50 L54.14,255.10 L54.79,255.10 L54.79,256.70 L54.27,256.70 L54.27,258.30 L54.59,258.30 L54.59,259.90 L53.87,259.90 L53.87,261.50 L54.70,261.50 L54.70,263.10 L55.12,263.10 L55.12,264.70 L54.62,264.70 L54.62,266.30 L55.02,266.30 L55.02,267.90 L54.95,267.90 L54.95,269.50 L54.02,269.50 L54.02,271.10 L55.17,271.10 L55.17,272.70 L54.94,272.70 L54.94,274.30 L54.51,274.30 L54.51,275.90 L54.11,275.90 L54.11,277.50 L55.47,277.50 L55.47,279.10 L54.87,279.10 L54.87,280.70 L55.29,280.70 L55.29,282.30 L55.56,282.30 L55.56,283.90 L55.31,283.90 L55.31,285.50 L55.66,285.50 L55.66,287.10 L54.82,287.10 L54.82,288.70 L55.48,288.70 L55.48,290.30 L54.91,290.30 L54.91,291.90 L55.70,291.90 L55.70,293.50 L55.60,293.50 L55.60,295.10 L54.34,295.10 L54.34,296.70 L54.39,296.70 L54.39,298.30 L54.51,298.30 L54.51,299.90 L55.69,299.90 L55.69,301.50 L54.82,301.50 L54.82,303.10 L55.10,303.10 L55.10,304.70 L54.55,304.70 L54.55,306.30 L54.85,306.30 L54.85,307.90 L54.63,307.90 L54.63,309.50 L54.54,309.50 L54.54,311.10 L54.87,311.10 L54.87,312.70 L54.83,312.70 L54.83,314.30 L55.30,314.30 L55.30,315.90 L54.89,315.90 L54.89,317.50 L55.24,317.50 L55.24,319.10 L55.07,319.10 L55.07,320.70 L55.23,320.70 L55.23,322.30 L54.67,322.30 L54.67,323.90 L53.79,323.90 L53.79,325.50 L54.85,325.50 L54.85,327.10 L54.96,327.10 L54.96,328.70 L54.80,328.70 L54.80,330.30 L54.19,330.30 L54.19,331.90 L54.36,331.90 L54.36,333.50 L53.49,333.50 L53.49,335.10 L54.41,335.10 L54.41,336.70 L53.93,336.70 L53.93,338.30 L53.39,338.30 L53.39,339.90 L52.97,339.90 L52.97,341.50 L54.16,341.50 L54.16,343.10 L54.31,343.10 L54.31,344.70 L52.79,344.70 L52.79,346.30 L50.10,345.80Z" fill="#3f8a2e" stroke="#2a7a15" stroke-width="0.5"/>
<path d="M42.60,230.80 L48.40,230.80 L45.50,234.00Z" fill="#c060a8"/>
<path d="M42.60,350.60 L48.40,350.60 L45.50,347.40Z" fill="#c060a8"/>
<text transform="translate(31.00,368.30) rotate(-30)" font-size="9.6" fill="#222">chr1</text>
<rect x="65.30" y="251.00" width="6.6" height="94.80" rx="1.2" fill="#4a8a80" stroke="#1f7570" stroke-width="1.1"/>
<rect x="65.00" y="314.10" width="7.2" height="2.6" fill="#f28a1c"/>
<path d="M73.20,251.50 L77.01,251.50 L77.01,253.10 L76.47,253.10 L76.47,254.70 L76.14,254.70 L76.14,256.30 L76.45,256.30 L76.45,257.90 L77.29,257.90 L77.29,259.50 L77.54,259.50 L77.54,261.10 L76.30,261.10 L76.30,262.70 L77.29,262.70 L77.29,264.30 L76.45,264.30 L76.45,265.90 L77.61,265.90 L77.61,267.50 L77.06,267.50 L77.06,269.10 L78.01,269.10 L78.01,270.70 L78.24,270.70 L78.24,272.30 L77.55,272.30 L77.55,273.90 L78.40,273.90 L78.40,275.50 L77.36,275.50 L77.36,277.10 L77.04,277.10 L77.04,278.70 L77.93,278.70 L77.93,280.30 L77.07,280.30 L77.07,281.90 L77.38,281.90 L77.38,283.50 L77.76,283.50 L77.76,285.10 L78.12,285.10 L78.12,286.70 L77.43,286.70 L77.43,288.30 L77.28,288.30 L77.28,289.90 L78.63,289.90 L78.63,291.50 L77.76,291.50 L77.76,293.10 L78.81,293.10 L78.81,294.70 L78.72,294.70 L78.72,296.30 L77.90,296.30 L77.90,297.90 L78.04,297.90 L78.04,299.50 L78.13,299.50 L78.13,301.10 L78.32,301.10 L78.32,302.70 L78.24,302.70 L78.24,304.30 L78.16,304.30 L78.16,305.90 L78.24,305.90 L78.24,307.50 L78.73,307.50 L78.73,309.10 L78.01,309.10 L78.01,310.70 L77.86,310.70 L77.86,312.30 L78.29,312.30 L78.29,313.90 L77.47,313.90 L77.47,315.50 L77.53,315.50 L77.53,317.10 L78.57,317.10 L78.57,318.70 L77.79,318.70 L77.79,320.30 L77.77,320.30 L77.77,321.90 L76.86,321.90 L76.86,323.50 L77.44,323.50 L77.44,325.10 L77.64,325.10 L77.64,326.70 L76.68,326.70 L76.68,328.30 L77.56,328.30 L77.56,329.90 L77.52,329.90 L77.52,331.50 L76.53,331.50 L76.53,333.10 L77.36,333.10 L77.36,334.70 L77.02,334.70 L77.02,336.30 L77.28,336.30 L77.28,337.90 L76.68,337.90 L76.68,339.50 L77.16,339.50 L77.16,341.10 L77.13,341.10 L77.13,342.70 L75.90,342.70 L75.90,344.30 L75.88,344.30 L75.88,345.90 L73.20,345.80Z" fill="#3f8a2e" stroke="#2a7a15" stroke-width="0.5"/>
<path d="M65.70,246.40 L71.50,246.40 L68.60,249.60Z" fill="#c060a8"/>
<path d="M65.70,350.60 L71.50,350.60 L68.60,347.40Z" fill="#c060a8"/>
<text transform="translate(54.10,368.30) rotate(-30)" font-size="9.6" fill="#222">chr2</text>
<rect x="88.40" y="273.00" width="6.6" height="72.80" rx="1.2" fill="#4a8a80" stroke="#1f7570" stroke-width="1.1"/>
<rect x="88.10" y="308.70" width="7.2" height="2.6" fill="#f28a1c"/>
<path d="M96.30,273.50 L99.92,273.50 L99.92,275.10 L100.49,275.10 L100.49,276.70 L99.46,276.70 L99.46,278.30 L99.89,278.30 L99.89,279.90 L100.22,279.90 L100.22,281.50 L99.89,281.50 L99.89,283.10 L100.06,283.10 L100.06,284.70 L100.07,284.70 L100.07,286.30 L100.26,286.30 L100.26,287.90 L100.71,287.90 L100.71,289.50 L100.33,289.50 L100.33,291.10 L100.53,291.10 L100.53,292.70 L101.24,292.70 L101.24,294.30 L100.12,294.30 L100.12,295.90 L101.05,295.90 L101.05,297.50 L101.37,297.50 L101.37,299.10 L100.74,299.10 L100.74,300.70 L100.64,300.70 L100.64,302.30 L101.61,302.30 L101.61,303.90 L100.74,303.90 L100.74,305.50 L100.68,305.50 L100.68,307.10 L101.09,307.10 L101.09,308.70 L101.52,308.70 L101.52,310.30 L100.56,310.30 L100.56,311.90 L100.91,311.90 L100.91,313.50 L100.91,313.50 L100.91,315.10 L101.69,315.10 L101.69,316.70 L101.02,316.70 L101.02,318.30 L101.65,318.30 L101.65,319.90 L100.51,319.90 L100.51,321.50 L100.73,321.50 L100.73,323.10 L101.17,323.10 L101.17,324.70 L101.48,324.70 L101.48,326.30 L100.71,326.30 L100.71,327.90 L100.28,327.90 L100.28,329.50 L100.03,329.50 L100.03,331.10 L100.60,331.10 L100.60,332.70 L99.96,332.70 L99.96,334.30 L100.85,334.30 L100.85,335.90 L100.80,335.90 L100.80,337.50 L99.65,337.50 L99.65,339.10 L99.70,339.10 L99.70,340.70 L100.44,340.70 L100.44,342.30 L100.07,342.30 L100.07,343.90 L100.22,343.90 L100.22,345.50 L99.37,345.50 L99.37,347.10 L96.30,345.80Z" fill="#3f8a2e" stroke="#2a7a15" stroke-width="0.5"/>
<path d="M88.80,268.40 L94.60,268.40 L91.70,271.60Z" fill="#c060a8"/>
<path d="M88.80,350.60 L94.60,350.60 L91.70,347.40Z" fill="#c060a8"/>
<text transform="translate(77.20,368.30) rotate(-30)" font-size="9.6" fill="#222">chr3</text>
<rect x="111.50" y="274.50" width="6.6" height="71.30" rx="1.2" fill="#4a8a80" stroke="#1f7570" stroke-width="1.1"/>
<rect x="111.20" y="301.10" width="7.2" height="2.6" fill="#f28a1c"/>
<path d="M119.40,275.00 L122.14,275.00 L122.14,276.60 L122.51,276.60 L122.51,278.20 L123.43,278.20 L123.43,279.80 L122.70,279.80 L122.70,281.40 L122.93,281.40 L122.93,283.00 L123.15,283.00 L123.15,284.60 L123.26,284.60 L123.26,286.20 L123.34,286.20 L123.34,287.80 L124.26,287.80 L124.26,289.40 L123.13,289.40 L123.13,291.00 L122.97,291.00 L122.97,292.60 L124.55,292.60 L124.55,294.20 L124.53,294.20 L124.53,295.80 L124.77,295.80 L124.77,297.40 L123.95,297.40 L123.95,299.00 L124.83,299.00 L124.83,300.60 L124.84,300.60 L124.84,302.20 L123.76,302.20 L123.76,303.80 L124.63,303.80 L124.63,305.40 L124.80,305.40 L124.80,307.00 L124.55,307.00 L124.55,308.60 L124.33,308.60 L124.33,310.20 L123.96,310.20 L123.96,311.80 L124.04,311.80 L124.04,313.40 L123.85,313.40 L123.85,315.00 L123.57,315.00 L123.57,316.60 L124.38,316.60 L124.38,318.20 L123.86,318.20 L123.86,319.80 L124.65,319.80 L124.65,321.40 L123.38,321.40 L123.38,323.00 L124.70,323.00 L124.70,324.60 L124.30,324.60 L124.30,326.20 L124.59,326.20 L124.59,327.80 L124.47,327.80 L124.47,329.40 L124.40,329.40 L124.40,331.00 L123.79,331.00 L123.79,332.60 L122.80,332.60 L122.80,334.20 L123.88,334.20 L123.88,335.80 L122.86,335.80 L122.86,337.40 L122.96,337.40 L122.96,339.00 L123.43,339.00 L123.43,340.60 L123.10,340.60 L123.10,342.20 L122.81,342.20 L122.81,343.80 L123.54,343.80 L123.54,345.40 L122.91,345.40 L122.91,347.00 L119.40,345.80Z" fill="#3f8a2e" stroke="#2a7a15" stroke-width="0.5"/>
<path d="M111.90,269.90 L117.70,269.90 L114.80,273.10Z" fill="#c060a8"/>
<path d="M111.90,350.60 L117.70,350.60 L114.80,347.40Z" fill="#c060a8"/>
<text transform="translate(100.30,368.30) rotate(-30)" font-size="9.6" fill="#222">chr4</text>
<rect x="134.60" y="277.60" width="6.6" height="68.20" rx="1.2" fill="#4a8a80" stroke="#1f7570" stroke-width="1.1"/>
<rect x="134.30" y="311.70" width="7.2" height="2.6" fill="#f28a1c"/>
<path d="M142.50,278.10 L145.58,278.10 L145.58,279.70 L145.56,279.70 L145.56,281.30 L146.65,281.30 L146.65,282.90 L146.15,282.90 L146.15,284.50 L146.75,284.50 L146.75,286.10 L146.17,286.10 L146.17,287.70 L146.03,287.70 L146.03,289.30 L146.68,289.30 L146.68,290.90 L147.23,290.90 L147.23,292.50 L146.29,292.50 L146.29,294.10 L147.37,294.10 L147.37,295.70 L147.66,295.70 L147.66,297.30 L147.55,297.30 L147.55,298.90 L147.65,298.90 L147.65,300.50 L146.40,300.50 L146.40,302.10 L147.45,302.10 L147.45,303.70 L147.87,303.70 L147.87,305.30 L146.61,305.30 L146.61,306.90 L147.00,306.90 L147.00,308.50 L147.01,308.50 L147.01,310.10 L147.44,310.10 L147.44,311.70 L147.28,311.70 L147.28,313.30 L147.35,313.30 L147.35,314.90 L147.83,314.90 L147.83,316.50 L146.56,316.50 L146.56,318.10 L146.62,318.10 L146.62,319.70 L146.70,319.70 L146.70,321.30 L146.65,321.30 L146.65,322.90 L146.50,322.90 L146.50,324.50 L147.89,324.50 L147.89,326.10 L147.63,326.10 L147.63,327.70 L146.32,327.70 L146.32,329.30 L146.91,329.30 L146.91,330.90 L146.52,330.90 L146.52,332.50 L146.42,332.50 L146.42,334.10 L146.38,334.10 L146.38,335.70 L146.75,335.70 L146.75,337.30 L146.55,337.30 L146.55,338.90 L146.08,338.90 L146.08,340.50 L145.69,340.50 L145.69,342.10 L145.80,342.10 L145.80,343.70 L145.35,343.70 L145.35,345.30 L145.93,345.30 L145.93,346.90 L142.50,345.80Z" fill="#3f8a2e" stroke="#2a7a15" stroke-width="0.5"/>
<path d="M135.00,273.00 L140.80,273.00 L137.90,276.20Z" fill="#c060a8"/>
<path d="M135.00,350.60 L140.80,350.60 L137.90,347.40Z" fill="#c060a8"/>
<text transform="translate(123.40,368.30) rotate(-30)" font-size="9.6" fill="#222">chr5</text>
<rect x="157.70" y="278.20" width="6.6" height="67.60" rx="1.2" fill="#4a8a80" stroke="#1f7570" stroke-width="1.1"/>
<rect x="157.40" y="316.60" width="7.2" height="2.6" fill="#f28a1c"/>
<path d="M165.60,278.70 L169.28,278.70 L169.28,280.30 L168.86,280.30 L168.86,281.90 L168.50,281.90 L168.50,283.50 L168.78,283.50 L168.78,285.10 L169.20,285.10 L169.20,286.70 L169.68,286.70 L169.68,288.30 L170.08,288.30 L170.08,289.90 L169.54,289.90 L169.54,291.50 L170.31,291.50 L170.31,293.10 L170.12,293.10 L170.12,294.70 L169.90,294.70 L169.90,296.30 L169.89,296.30 L169.89,297.90 L170.16,297.90 L170.16,299.50 L170.56,299.50 L170.56,301.10 L170.17,301.10 L170.17,302.70 L170.66,302.70 L170.66,304.30 L170.34,304.30 L170.34,305.90 L170.03,305.90 L170.03,307.50 L170.52,307.50 L170.52,309.10 L170.80,309.10 L170.80,310.70 L169.81,310.70 L169.81,312.30 L170.38,312.30 L170.38,313.90 L170.38,313.90 L170.38,315.50 L171.09,315.50 L171.09,317.10 L171.15,317.10 L171.15,318.70 L170.22,318.70 L170.22,320.30 L171.02,320.30 L171.02,321.90 L170.80,321.90 L170.80,323.50 L169.90,323.50 L169.90,325.10 L170.16,325.10 L170.16,326.70 L169.54,326.70 L169.54,328.30 L170.56,328.30 L170.56,329.90 L170.24,329.90 L170.24,331.50 L170.51,331.50 L170.51,333.10 L170.26,333.10 L170.26,334.70 L169.96,334.70 L169.96,336.30 L169.96,336.30 L169.96,337.90 L169.58,337.90 L169.58,339.50 L168.73,339.50 L168.73,341.10 L169.39,341.10 L169.39,342.70 L168.34,342.70 L168.34,344.30 L168.44,344.30 L168.44,345.90 L165.60,345.80Z" fill="#3f8a2e" stroke="#2a7a15" stroke-width="0.5"/>
<path d="M158.10,273.60 L163.90,273.60 L161.00,276.80Z" fill="#c060a8"/>
<path d="M158.10,350.60 L163.90,350.60 L161.00,347.40Z" fill="#c060a8"/>
<text transform="translate(146.50,368.30) rotate(-30)" font-size="9.6" fill="#222">chr6</text>
<rect x="180.80" y="278.20" width="6.6" height="67.60" rx="1.2" fill="#4a8a80" stroke="#1f7570" stroke-width="1.1"/>
<rect x="180.50" y="305.40" width="7.2" height="2.6" fill="#f28a1c"/>
<path d="M188.70,278.70 L192.48,278.70 L192.48,280.30 L191.43,280.30 L191.43,281.90 L191.62,281.90 L191.62,283.50 L191.75,283.50 L191.75,285.10 L193.11,285.10 L193.11,286.70 L192.10,286.70 L192.10,288.30 L191.96,288.30 L191.96,289.90 L193.37,289.90 L193.37,291.50 L192.32,291.50 L192.32,293.10 L193.57,293.10 L193.57,294.70 L193.39,294.70 L193.39,296.30 L193.73,296.30 L193.73,297.90 L193.99,297.90 L193.99,299.50 L193.46,299.50 L193.46,301.10 L193.88,301.10 L193.88,302.70 L192.71,302.70 L192.71,304.30 L193.93,304.30 L193.93,305.90 L193.55,305.90 L193.55,307.50 L193.91,307.50 L193.91,309.10 L192.96,309.10 L192.96,310.70 L194.00,310.70 L194.00,312.30 L194.30,312.30 L194.30,313.90 L192.89,313.90 L192.89,315.50 L193.30,315.50 L193.30,317.10 L193.66,317.10 L193.66,318.70 L194.05,318.70 L194.05,320.30 L193.07,320.30 L193.07,321.90 L192.92,321.90 L192.92,323.50 L192.98,323.50 L192.98,325.10 L193.50,325.10 L193.50,326.70 L193.65,326.70 L193.65,328.30 L192.99,328.30 L192.99,329.90 L192.87,329.90 L192.87,331.50 L192.82,331.50 L192.82,333.10 L192.65,333.10 L192.65,334.70 L192.66,334.70 L192.66,336.30 L192.02,336.30 L192.02,337.90 L192.57,337.90 L192.57,339.50 L193.22,339.50 L193.22,341.10 L192.21,341.10 L192.21,342.70 L192.63,342.70 L192.63,344.30 L191.57,344.30 L191.57,345.90 L188.70,345.80Z" fill="#3f8a2e" stroke="#2a7a15" stroke-width="0.5"/>
<path d="M181.20,273.60 L187.00,273.60 L184.10,276.80Z" fill="#c060a8"/>
<path d="M181.20,350.60 L187.00,350.60 L184.10,347.40Z" fill="#c060a8"/>
<text transform="translate(169.60,368.30) rotate(-30)" font-size="9.6" fill="#222">chr7</text>
<rect x="203.90" y="279.70" width="6.6" height="66.10" rx="1.2" fill="#4a8a80" stroke="#1f7570" stroke-width="1.1"/>
<rect x="203.60" y="313.20" width="7.2" height="2.6" fill="#f28a1c"/>
<path d="M211.80,280.20 L215.44,280.20 L215.44,281.80 L215.67,281.80 L215.67,283.40 L215.66,283.40 L215.66,285.00 L215.53,285.00 L215.53,286.60 L215.59,286.60 L215.59,288.20 L215.96,288.20 L215.96,289.80 L216.47,289.80 L216.47,291.40 L215.38,291.40 L215.38,293.00 L215.40,293.00 L215.40,294.60 L216.54,294.60 L216.54,296.20 L216.90,296.20 L216.90,297.80 L216.34,297.80 L216.34,299.40 L216.30,299.40 L216.30,301.00 L216.81,301.00 L216.81,302.60 L216.02,302.60 L216.02,304.20 L216.20,304.20 L216.20,305.80 L216.13,305.80 L216.13,307.40 L216.79,307.40 L216.79,309.00 L216.38,309.00 L216.38,310.60 L216.26,310.60 L216.26,312.20 L217.01,312.20 L217.01,313.80 L217.42,313.80 L217.42,315.40 L216.36,315.40 L216.36,317.00 L217.00,317.00 L217.00,318.60 L216.50,318.60 L216.50,320.20 L217.17,320.20 L217.17,321.80 L216.69,321.80 L216.69,323.40 L216.13,323.40 L216.13,325.00 L215.98,325.00 L215.98,326.60 L215.60,326.60 L215.60,328.20 L216.25,328.20 L216.25,329.80 L216.02,329.80 L216.02,331.40 L215.59,331.40 L215.59,333.00 L215.79,333.00 L215.79,334.60 L215.63,334.60 L215.63,336.20 L216.24,336.20 L216.24,337.80 L215.12,337.80 L215.12,339.40 L216.37,339.40 L216.37,341.00 L215.43,341.00 L215.43,342.60 L215.50,342.60 L215.50,344.20 L215.17,344.20 L215.17,345.80 L211.80,345.80Z" fill="#3f8a2e" stroke="#2a7a15" stroke-width="0.5"/>
<path d="M204.30,275.10 L210.10,275.10 L207.20,278.30Z" fill="#c060a8"/>
<path d="M204.30,350.60 L210.10,350.60 L207.20,347.40Z" fill="#c060a8"/>
<text transform="translate(192.70,368.30) rotate(-30)" font-size="9.6" fill="#222">chr8</text>
<rect x="227.00" y="282.80" width="6.6" height="63.00" rx="1.2" fill="#4a8a80" stroke="#1f7570" stroke-width="1.1"/>
<rect x="226.70" y="313.20" width="7.2" height="2.6" fill="#f28a1c"/>
<rect x="227.00" y="319.30" width="6.6" height="1.3" fill="#e8e060"/>
<path d="M234.90,283.30 L238.78,283.30 L238.78,284.90 L238.88,284.90 L238.88,286.50 L238.58,286.50 L238.58,288.10 L238.59,288.10 L238.59,289.70 L239.09,289.70 L239.09,291.30 L239.43,291.30 L239.43,292.90 L238.81,292.90 L238.81,294.50 L239.46,294.50 L239.46,296.10 L239.92,296.10 L239.92,297.70 L239.23,297.70 L239.23,299.30 L238.94,299.30 L238.94,300.90 L239.03,300.90 L239.03,302.50 L239.88,302.50 L239.88,304.10 L239.88,304.10 L239.88,305.70 L240.39,305.70 L240.39,307.30 L240.27,307.30 L240.27,308.90 L239.33,308.90 L239.33,310.50 L239.27,310.50 L239.27,312.10 L239.40,312.10 L239.40,313.70 L239.30,313.70 L239.30,315.30 L240.13,315.30 L240.13,316.90 L240.36,316.90 L240.36,318.50 L240.40,318.50 L240.40,320.10 L239.34,320.10 L239.34,321.70 L240.28,321.70 L240.28,323.30 L239.34,323.30 L239.34,324.90 L239.46,324.90 L239.46,326.50 L239.88,326.50 L239.88,328.10 L238.77,328.10 L238.77,329.70 L238.70,329.70 L238.70,331.30 L239.79,331.30 L239.79,332.90 L238.83,332.90 L238.83,334.50 L238.83,334.50 L238.83,336.10 L239.07,336.10 L239.07,337.70 L239.11,337.70 L239.11,339.30 L237.92,339.30 L237.92,340.90 L238.32,340.90 L238.32,342.50 L238.36,342.50 L238.36,344.10 L238.31,344.10 L238.31,345.70 L237.74,345.70 L237.74,347.30 L234.90,345.80Z" fill="#3f8a2e" stroke="#2a7a15" stroke-width="0.5"/>
<path d="M227.40,278.20 L233.20,278.20 L230.30,281.40Z" fill="#c060a8"/>
<path d="M227.40,350.60 L233.20,350.60 L230.30,347.40Z" fill="#c060a8"/>
<text transform="translate(215.80,368.30) rotate(-30)" font-size="9.6" fill="#222">chr9</text>
<rect x="250.10" y="283.80" width="6.6" height="62.00" rx="1.2" fill="#4a8a80" stroke="#1f7570" stroke-width="1.1"/>
<rect x="249.80" y="315.70" width="7.2" height="2.6" fill="#f28a1c"/>
<path d="M258.00,284.30 L261.48,284.30 L261.48,285.90 L262.20,285.90 L262.20,287.50 L261.42,287.50 L261.42,289.10 L261.80,289.10 L261.80,290.70 L261.24,290.70 L261.24,292.30 L261.61,292.30 L261.61,293.90 L262.35,293.90 L262.35,295.50 L261.57,295.50 L261.57,297.10 L262.92,297.10 L262.92,298.70 L263.05,298.70 L263.05,300.30 L261.84,300.30 L261.84,301.90 L263.28,301.90 L263.28,303.50 L262.44,303.50 L262.44,305.10 L263.15,305.10 L263.15,306.70 L263.18,306.70 L263.18,308.30 L262.49,308.30 L262.49,309.90 L263.13,309.90 L263.13,311.50 L263.12,311.50 L263.12,313.10 L263.38,313.10 L263.38,314.70 L262.52,314.70 L262.52,316.30 L263.30,316.30 L263.30,317.90 L263.62,317.90 L263.62,319.50 L263.13,319.50 L263.13,321.10 L262.88,321.10 L262.88,322.70 L262.15,322.70 L262.15,324.30 L262.71,324.30 L262.71,325.90 L262.42,325.90 L262.42,327.50 L262.93,327.50 L262.93,329.10 L262.78,329.10 L262.78,330.70 L262.51,330.70 L262.51,332.30 L261.80,332.30 L261.80,333.90 L262.44,333.90 L262.44,335.50 L262.31,335.50 L262.31,337.10 L261.47,337.10 L261.47,338.70 L262.49,338.70 L262.49,340.30 L261.99,340.30 L261.99,341.90 L261.01,341.90 L261.01,343.50 L262.18,343.50 L262.18,345.10 L260.78,345.10 L260.78,346.70 L258.00,345.80Z" fill="#3f8a2e" stroke="#2a7a15" stroke-width="0.5"/>
<path d="M250.50,279.20 L256.30,279.20 L253.40,282.40Z" fill="#c060a8"/>
<path d="M250.50,350.60 L256.30,350.60 L253.40,347.40Z" fill="#c060a8"/>
<text transform="translate(238.90,368.30) rotate(-30)" font-size="9.6" fill="#222">chr10</text>
<rect x="273.20" y="293.70" width="6.6" height="52.10" rx="1.2" fill="#4a8a80" stroke="#1f7570" stroke-width="1.1"/>
<rect x="272.90" y="314.10" width="7.2" height="2.6" fill="#f28a1c"/>
<path d="M281.10,294.20 L284.18,294.20 L284.18,295.80 L284.95,295.80 L284.95,297.40 L284.91,297.40 L284.91,299.00 L284.99,299.00 L284.99,300.60 L285.28,300.60 L285.28,302.20 L285.12,302.20 L285.12,303.80 L285.02,303.80 L285.02,305.40 L284.92,305.40 L284.92,307.00 L284.86,307.00 L284.86,308.60 L286.00,308.60 L286.00,310.20 L286.15,310.20 L286.15,311.80 L285.89,311.80 L285.89,313.40 L286.27,313.40 L286.27,315.00 L285.71,315.00 L285.71,316.60 L285.60,316.60 L285.60,318.20 L285.81,318.20 L285.81,319.80 L286.60,319.80 L286.60,321.40 L285.26,321.40 L285.26,323.00 L285.98,323.00 L285.98,324.60 L285.53,324.60 L285.53,326.20 L286.31,326.20 L286.31,327.80 L285.58,327.80 L285.58,329.40 L285.47,329.40 L285.47,331.00 L285.49,331.00 L285.49,332.60 L285.61,332.60 L285.61,334.20 L285.86,334.20 L285.86,335.80 L285.07,335.80 L285.07,337.40 L285.73,337.40 L285.73,339.00 L284.42,339.00 L284.42,340.60 L284.53,340.60 L284.53,342.20 L284.10,342.20 L284.10,343.80 L283.97,343.80 L283.97,345.40 L284.88,345.40 L284.88,347.00 L281.10,345.80Z" fill="#3f8a2e" stroke="#2a7a15" stroke-width="0.5"/>
<path d="M273.60,289.10 L279.40,289.10 L276.50,292.30Z" fill="#c060a8"/>
<path d="M273.60,350.60 L279.40,350.60 L276.50,347.40Z" fill="#c060a8"/>
<text transform="translate(262.00,368.30) rotate(-30)" font-size="9.6" fill="#222">chr11</text>
<text x="0.3" y="393.8" font-size="16.5" font-weight="bold" fill="#000">E</text>
<line x1="31.5" y1="385.7" x2="31.5" y2="481.3" stroke="#555" stroke-width="0.9"/>
<line x1="31.5" y1="481.3" x2="300.5" y2="481.3" stroke="#555" stroke-width="0.9"/>
<line x1="29.5" y1="391.2" x2="31.5" y2="391.2" stroke="#555" stroke-width="0.9"/>
<text x="27" y="394.4" font-size="9.6" fill="#444" text-anchor="end">1</text>
<line x1="29.5" y1="466.3" x2="31.5" y2="466.3" stroke="#555" stroke-width="0.9"/>
<text x="27" y="469.5" font-size="9.6" fill="#444" text-anchor="end">0</text>
<line x1="43.2" y1="481.3" x2="43.2" y2="483.5" stroke="#555" stroke-width="0.9"/>
<text x="43.2" y="491.5" font-size="9.6" fill="#444" text-anchor="middle">0</text>
<line x1="125.7" y1="481.3" x2="125.7" y2="483.5" stroke="#555" stroke-width="0.9"/>
<text x="125.7" y="491.5" font-size="9.6" fill="#444" text-anchor="middle">2</text>
<line x1="208.2" y1="481.3" x2="208.2" y2="483.5" stroke="#555" stroke-width="0.9"/>
<text x="208.2" y="491.5" font-size="9.6" fill="#444" text-anchor="middle">4</text>
<line x1="290.7" y1="481.3" x2="290.7" y2="483.5" stroke="#555" stroke-width="0.9"/>
<text x="290.7" y="491.5" font-size="9.6" fill="#444" text-anchor="middle">6</text>
<text transform="translate(20,425) rotate(-90)" font-size="10.5" fill="#222" text-anchor="middle">Density</text>
<path d="M43.20,453.55 L43.65,453.25 L44.22,452.78 L44.89,452.22 L45.65,451.63 L46.49,451.09 L47.41,450.68 L48.37,450.48 L49.39,450.55 L50.48,450.94 L51.68,451.60 L52.95,452.47 L54.29,453.46 L55.65,454.51 L57.03,455.54 L58.38,456.50 L59.70,457.30 L60.99,458.03 L62.28,458.79 L63.57,459.55 L64.86,460.25 L66.15,460.87 L67.43,461.36 L68.72,461.68 L70.01,461.80 L71.29,461.79 L72.54,461.73 L73.79,461.56 L75.04,461.24 L76.31,460.70 L77.60,459.90 L78.94,458.79 L80.33,457.30 L81.76,455.33 L83.23,452.87 L84.72,450.05 L86.25,446.99 L87.82,443.81 L89.41,440.64 L91.04,437.59 L92.70,434.80 L94.43,431.99 L96.26,428.94 L98.14,425.82 L100.05,422.80 L101.93,420.06 L103.77,417.78 L105.52,416.14 L107.14,415.30 L108.61,415.40 L109.96,416.32 L111.22,417.88 L112.42,419.89 L113.61,422.18 L114.82,424.55 L116.09,426.82 L117.45,428.80 L118.90,430.65 L120.40,432.62 L121.94,434.64 L123.51,436.68 L125.09,438.66 L126.68,440.54 L128.26,442.27 L129.82,443.80 L131.37,445.11 L132.92,446.24 L134.47,447.23 L136.01,448.11 L137.56,448.93 L139.11,449.71 L140.65,450.49 L142.20,451.30 L143.69,452.15 L145.10,453.01 L146.48,453.86 L147.87,454.68 L149.33,455.45 L150.90,456.15 L152.63,456.78 L154.57,457.30 L156.79,457.73 L159.25,458.08 L161.89,458.36 L164.63,458.57 L167.41,458.71 L170.14,458.79 L172.76,458.82 L175.20,458.80 L177.43,458.65 L179.52,458.34 L181.51,457.93 L183.45,457.49 L185.39,457.06 L187.38,456.73 L189.47,456.53 L191.70,456.55 L194.08,456.79 L196.57,457.22 L199.13,457.78 L201.75,458.43 L204.41,459.12 L207.07,459.82 L209.72,460.48 L212.32,461.05 L214.87,461.57 L217.38,462.10 L219.88,462.63 L222.38,463.14 L224.91,463.62 L227.50,464.06 L230.17,464.46 L232.95,464.80 L235.79,465.08 L238.65,465.30 L241.57,465.48 L244.55,465.62 L247.63,465.73 L250.84,465.81 L254.18,465.87 L257.70,465.92 L261.66,465.95 L266.14,465.93 L270.92,465.88 L275.75,465.81 L280.38,465.73 L284.58,465.65 L288.10,465.59 L290.70,465.55" fill="none" stroke="#e8383a" stroke-width="1.1"/>
<path d="M43.20,425.05 L43.46,424.81 L43.75,424.36 L44.08,423.81 L44.49,423.27 L44.99,422.86 L45.62,422.69 L46.39,422.89 L47.33,423.55 L48.45,424.77 L49.74,426.46 L51.18,428.52 L52.74,430.82 L54.39,433.24 L56.12,435.66 L57.90,437.97 L59.70,440.05 L61.59,442.06 L63.63,444.18 L65.77,446.32 L67.95,448.39 L70.13,450.32 L72.27,452.00 L74.31,453.36 L76.20,454.30 L77.89,454.82 L79.39,455.01 L80.78,454.90 L82.13,454.53 L83.51,453.95 L85.00,453.19 L86.66,452.30 L88.58,451.30 L90.81,449.98 L93.34,448.21 L96.07,446.15 L98.89,443.99 L101.71,441.90 L104.43,440.05 L106.96,438.63 L109.20,437.80 L111.14,437.61 L112.87,437.89 L114.44,438.56 L115.90,439.49 L117.30,440.58 L118.67,441.74 L120.08,442.84 L121.58,443.80 L123.04,444.67 L124.38,445.57 L125.67,446.50 L126.99,447.46 L128.40,448.42 L129.99,449.39 L131.81,450.35 L133.95,451.30 L136.48,452.28 L139.36,453.33 L142.51,454.41 L145.81,455.47 L149.18,456.48 L152.51,457.40 L155.72,458.19 L158.70,458.80 L161.48,459.22 L164.15,459.46 L166.74,459.58 L169.27,459.60 L171.77,459.57 L174.27,459.52 L176.78,459.50 L179.33,459.55 L181.90,459.63 L184.48,459.68 L187.06,459.73 L189.64,459.78 L192.22,459.85 L194.79,459.95 L197.37,460.10 L199.95,460.30 L202.53,460.57 L205.11,460.91 L207.68,461.29 L210.26,461.71 L212.84,462.13 L215.42,462.55 L218.00,462.95 L220.57,463.30 L222.96,463.63 L225.05,463.95 L227.04,464.26 L229.08,464.57 L231.35,464.85 L234.01,465.11 L237.24,465.35 L241.20,465.55 L246.34,465.72 L252.70,465.86 L259.82,465.97 L267.24,466.07 L274.49,466.14 L281.13,466.20 L286.68,466.25 L290.70,466.30" fill="none" stroke="#3a7cc4" stroke-width="1.1"/>
<path d="M43.20,454.30 L43.79,454.64 L44.54,455.07 L45.42,455.59 L46.42,456.18 L47.54,456.80 L48.76,457.46 L50.07,458.13 L51.45,458.80 L52.96,459.57 L54.62,460.51 L56.41,461.53 L58.28,462.55 L60.20,463.47 L62.13,464.21 L64.04,464.69 L65.89,464.80 L67.71,464.61 L69.55,464.23 L71.39,463.64 L73.24,462.83 L75.06,461.80 L76.86,460.55 L78.62,459.05 L80.33,457.30 L81.96,455.20 L83.52,452.69 L85.03,449.90 L86.51,446.89 L88.00,443.79 L89.51,440.67 L91.07,437.64 L92.70,434.80 L94.42,431.87 L96.21,428.64 L98.05,425.30 L99.92,422.05 L101.78,419.08 L103.62,416.59 L105.42,414.76 L107.14,413.80 L108.78,413.83 L110.38,414.71 L111.93,416.27 L113.45,418.30 L114.96,420.61 L116.47,423.01 L117.98,425.30 L119.51,427.30 L121.05,429.14 L122.56,431.09 L124.06,433.08 L125.57,435.08 L127.10,437.05 L128.65,438.94 L130.24,440.70 L131.89,442.30 L133.61,443.74 L135.40,445.06 L137.24,446.28 L139.11,447.41 L140.97,448.46 L142.81,449.45 L144.60,450.40 L146.32,451.30 L147.94,452.17 L149.47,452.98 L150.94,453.74 L152.38,454.44 L153.85,455.08 L155.36,455.64 L156.97,456.13 L158.70,456.55 L160.54,456.87 L162.44,457.09 L164.40,457.23 L166.43,457.30 L168.53,457.33 L170.69,457.32 L172.91,457.31 L175.20,457.30 L177.58,457.25 L180.07,457.11 L182.63,456.93 L185.25,456.74 L187.91,456.57 L190.57,456.46 L193.22,456.44 L195.82,456.55 L198.40,456.80 L200.98,457.15 L203.56,457.59 L206.14,458.10 L208.72,458.64 L211.29,459.20 L213.87,459.76 L216.45,460.30 L219.00,460.85 L221.51,461.44 L224.00,462.06 L226.50,462.69 L229.04,463.30 L231.63,463.87 L234.30,464.38 L237.07,464.80 L239.94,465.14 L242.88,465.42 L245.87,465.65 L248.93,465.83 L252.06,465.98 L255.25,466.10 L258.51,466.20 L261.82,466.30 L265.43,466.37 L269.43,466.41 L273.62,466.41 L277.81,466.39 L281.81,466.37 L285.41,466.34 L288.44,466.31 L290.70,466.30" fill="none" stroke="#3aa048" stroke-width="1.1"/>
<path d="M43.20,428.80 L43.54,428.42 L43.93,427.81 L44.40,427.08 L44.95,426.32 L45.59,425.63 L46.33,425.13 L47.18,424.90 L48.15,425.05 L49.24,425.60 L50.46,426.47 L51.78,427.59 L53.20,428.89 L54.72,430.33 L56.31,431.84 L57.97,433.35 L59.70,434.80 L61.55,436.36 L63.57,438.16 L65.71,440.09 L67.90,442.02 L70.10,443.85 L72.25,445.45 L74.30,446.73 L76.20,447.55 L77.93,447.88 L79.54,447.81 L81.05,447.42 L82.52,446.80 L83.96,446.04 L85.43,445.23 L86.96,444.45 L88.58,443.80 L90.25,443.12 L91.94,442.26 L93.66,441.31 L95.41,440.38 L97.21,439.54 L99.06,438.90 L101.00,438.53 L103.01,438.55 L105.15,439.00 L107.41,439.83 L109.76,440.95 L112.16,442.25 L114.58,443.66 L116.98,445.07 L119.33,446.40 L121.58,447.55 L123.65,448.57 L125.55,449.58 L127.37,450.57 L129.18,451.53 L131.07,452.47 L133.13,453.37 L135.43,454.23 L138.07,455.05 L141.06,455.84 L144.33,456.63 L147.82,457.38 L151.48,458.10 L155.28,458.76 L159.15,459.36 L163.06,459.87 L166.95,460.30 L170.88,460.58 L174.91,460.72 L179.02,460.75 L183.19,460.72 L187.39,460.69 L191.60,460.70 L195.80,460.81 L199.95,461.05 L203.91,461.46 L207.62,462.00 L211.24,462.63 L214.90,463.30 L218.76,463.97 L222.96,464.60 L227.64,465.14 L232.95,465.55 L239.38,465.83 L247.00,466.02 L255.33,466.14 L263.89,466.21 L272.19,466.24 L279.74,466.25 L286.08,466.27 L290.70,466.30" fill="none" stroke="#222222" stroke-width="1.1"/>
<path d="M43.20,460.30 L43.33,460.19 L43.42,459.99 L43.53,459.74 L43.69,459.50 L43.94,459.31 L44.33,459.23 L44.89,459.29 L45.68,459.55 L46.70,460.21 L47.94,461.31 L49.36,462.65 L50.91,464.05 L52.55,465.31 L54.25,466.23 L55.96,466.63 L57.64,466.30 L59.34,465.23 L61.12,463.58 L62.96,461.47 L64.83,458.99 L66.70,456.25 L68.55,453.36 L70.35,450.43 L72.08,447.55 L73.71,444.54 L75.27,441.22 L76.78,437.70 L78.26,434.10 L79.75,430.54 L81.26,427.14 L82.82,424.02 L84.45,421.30 L86.16,418.82 L87.91,416.40 L89.71,414.12 L91.54,412.07 L93.38,410.32 L95.23,408.98 L97.07,408.11 L98.89,407.80 L100.71,408.16 L102.55,409.15 L104.39,410.65 L106.24,412.53 L108.06,414.67 L109.86,416.92 L111.62,419.18 L113.32,421.30 L114.97,423.44 L116.56,425.79 L118.12,428.28 L119.64,430.82 L121.15,433.34 L122.65,435.77 L124.17,438.03 L125.70,440.05 L127.25,441.84 L128.79,443.48 L130.34,444.98 L131.89,446.38 L133.43,447.69 L134.98,448.93 L136.53,450.12 L138.07,451.30 L139.59,452.46 L141.07,453.58 L142.53,454.65 L144.00,455.66 L145.51,456.59 L147.07,457.43 L148.71,458.18 L150.45,458.80 L152.29,459.28 L154.19,459.61 L156.15,459.83 L158.18,459.97 L160.28,460.06 L162.44,460.12 L164.66,460.19 L166.95,460.30 L169.33,460.42 L171.82,460.52 L174.38,460.60 L177.00,460.68 L179.66,460.75 L182.32,460.83 L184.97,460.93 L187.57,461.05 L190.15,461.20 L192.73,461.35 L195.31,461.52 L197.89,461.71 L200.47,461.90 L203.04,462.10 L205.62,462.32 L208.20,462.55 L210.72,462.80 L213.16,463.08 L215.57,463.37 L218.00,463.68 L220.49,463.98 L223.09,464.27 L225.85,464.55 L228.82,464.80 L232.01,465.03 L235.37,465.26 L238.87,465.48 L242.49,465.69 L246.21,465.88 L250.00,466.05 L253.84,466.19 L257.70,466.30 L261.85,466.37 L266.43,466.41 L271.22,466.41 L276.00,466.39 L280.56,466.37 L284.67,466.34 L288.13,466.31 L290.70,466.30" fill="none" stroke="#f2ee30" stroke-width="1.1"/>
<line x1="234" y1="397.10" x2="244.5" y2="397.10" stroke="#e8383a" stroke-width="1.1"/>
<text x="249.8" y="400.30" font-size="9.2" fill="#333">Sjap_Sjap</text>
<line x1="234" y1="409.35" x2="244.5" y2="409.35" stroke="#3a7cc4" stroke-width="1.1"/>
<text x="249.8" y="412.55" font-size="9.2" fill="#333">Syun_Syun</text>
<line x1="234" y1="421.60" x2="244.5" y2="421.60" stroke="#3aa048" stroke-width="1.1"/>
<text x="249.8" y="424.80" font-size="9.2" fill="#333">Scep_Scep</text>
<line x1="234" y1="433.85" x2="244.5" y2="433.85" stroke="#222222" stroke-width="1.1"/>
<text x="249.8" y="437.05" font-size="9.2" fill="#333">Cchi_Cchi</text>
<line x1="234" y1="446.10" x2="244.5" y2="446.10" stroke="#f2ee30" stroke-width="1.1"/>
<text x="249.8" y="449.30" font-size="9.2" fill="#333">Vvin_Vvin</text>
<line x1="31.5" y1="494" x2="300.5" y2="494" stroke="#555" stroke-width="0.9"/>
<line x1="31.5" y1="494" x2="31.5" y2="664" stroke="#555" stroke-width="0.9"/>
<line x1="43.2" y1="494" x2="43.2" y2="491.8" stroke="#555" stroke-width="0.9"/>
<line x1="125.7" y1="494" x2="125.7" y2="491.8" stroke="#555" stroke-width="0.9"/>
<line x1="208.2" y1="494" x2="208.2" y2="491.8" stroke="#555" stroke-width="0.9"/>
<line x1="290.7" y1="494" x2="290.7" y2="491.8" stroke="#555" stroke-width="0.9"/>
<line x1="29.5" y1="509.5" x2="31.5" y2="509.5" stroke="#555" stroke-width="0.9"/>
<text x="27" y="512.7" font-size="9.6" fill="#444" text-anchor="end">0</text>
<line x1="29.5" y1="585.4" x2="31.5" y2="585.4" stroke="#555" stroke-width="0.9"/>
<text x="27" y="588.6" font-size="9.6" fill="#444" text-anchor="end">1</text>
<line x1="29.5" y1="649.3" x2="31.5" y2="649.3" stroke="#555" stroke-width="0.9"/>
<text x="27" y="652.5" font-size="9.6" fill="#444" text-anchor="end">4</text>
<rect x="28" y="585" width="7" height="6" fill="#fff"/>
<line x1="28.5" y1="592" x2="31" y2="585" stroke="#444" stroke-width="0.8"/><line x1="31" y1="592" x2="33.5" y2="585" stroke="#444" stroke-width="0.8"/>
<text transform="translate(20,585) rotate(-90)" font-size="10.5" fill="#222" text-anchor="middle">Density</text>
<path d="M43.20,509.50 L43.38,514.63 L43.63,521.87 L43.92,530.37 L44.24,539.30 L44.56,547.80 L44.85,555.04 L45.13,560.94 L45.42,566.15 L45.70,570.94 L45.98,575.57 L46.25,580.30 L46.50,585.40 L46.73,591.51 L46.93,598.54 L47.12,605.67 L47.31,612.08 L47.51,616.96 L47.74,619.48 L47.97,619.04 L48.21,616.17 L48.46,611.76 L48.73,606.70 L49.04,601.88 L49.39,598.18 L49.77,595.85 L50.17,594.22 L50.60,592.83 L51.08,591.21 L51.64,588.89 L52.28,585.40 L53.02,580.32 L53.85,573.94 L54.75,566.86 L55.70,559.68 L56.67,553.01 L57.64,547.45 L58.57,543.00 L59.49,539.19 L60.42,535.88 L61.43,532.94 L62.55,530.27 L63.83,527.72 L65.31,525.34 L66.96,523.25 L68.72,521.41 L70.55,519.79 L72.37,518.36 L74.14,517.09 L75.88,515.99 L77.65,515.09 L79.42,514.39 L81.17,513.86 L82.85,513.50 L84.45,513.29 L85.92,513.31 L87.28,513.58 L88.58,514.01 L89.87,514.53 L91.23,515.08 L92.70,515.57 L94.25,516.10 L95.83,516.75 L97.47,517.42 L99.19,518.02 L101.03,518.44 L103.01,518.61 L105.11,518.44 L107.29,518.02 L109.59,517.42 L112.03,516.75 L114.64,516.10 L117.45,515.57 L120.43,515.15 L123.56,514.76 L126.86,514.39 L130.36,514.03 L134.09,513.67 L138.07,513.29 L142.27,512.90 L146.63,512.48 L151.22,512.06 L156.10,511.66 L161.33,511.31 L166.95,511.02 L172.63,510.80 L178.26,510.65 L184.22,510.54 L190.94,510.46 L198.79,510.37 L208.20,510.26 L220.52,510.12 L235.70,509.98 L252.03,509.83 L267.78,509.70 L281.25,509.58 L290.70,509.50" fill="none" stroke="#e05060" stroke-width="1.1" stroke-dasharray="3,1.5,1,1.5"/>
<path d="M43.20,509.50 L43.37,514.63 L43.61,521.87 L43.90,530.37 L44.21,539.30 L44.53,547.80 L44.85,555.04 L45.17,560.59 L45.51,565.04 L45.86,569.07 L46.21,573.36 L46.56,578.57 L46.91,585.40 L47.25,595.34 L47.58,608.16 L47.92,621.91 L48.26,634.65 L48.61,644.42 L48.98,649.30 L49.36,648.12 L49.77,642.20 L50.19,633.32 L50.61,623.27 L51.03,613.80 L51.45,606.70 L51.84,602.11 L52.20,598.64 L52.56,595.76 L52.95,592.94 L53.39,589.67 L53.93,585.40 L54.54,579.83 L55.22,573.31 L55.96,566.33 L56.75,559.37 L57.59,552.91 L58.46,547.45 L59.35,543.00 L60.25,539.19 L61.20,535.88 L62.22,532.94 L63.36,530.27 L64.65,527.72 L66.14,525.34 L67.81,523.25 L69.60,521.41 L71.43,519.79 L73.24,518.36 L74.96,517.09 L76.61,515.99 L78.23,515.09 L79.84,514.39 L81.41,513.86 L82.95,513.50 L84.45,513.29 L85.87,513.31 L87.22,513.55 L88.52,513.96 L89.84,514.48 L91.22,515.03 L92.70,515.57 L94.25,516.20 L95.83,517.01 L97.47,517.85 L99.19,518.61 L101.03,519.16 L103.01,519.37 L105.11,519.16 L107.29,518.61 L109.59,517.85 L112.03,517.01 L114.64,516.20 L117.45,515.57 L120.43,515.10 L123.56,514.70 L126.86,514.34 L130.36,514.00 L134.09,513.66 L138.07,513.29 L142.27,512.90 L146.63,512.48 L151.22,512.06 L156.10,511.66 L161.33,511.31 L166.95,511.02 L172.63,510.80 L178.26,510.65 L184.22,510.54 L190.94,510.46 L198.79,510.37 L208.20,510.26 L220.52,510.12 L235.70,509.98 L252.03,509.83 L267.78,509.70 L281.25,509.58 L290.70,509.50" fill="none" stroke="#4a88c8" stroke-width="1.1" stroke-dasharray="4,2"/>
<path d="M43.20,509.50 L45.09,509.47 L47.78,509.42 L50.93,509.36 L54.20,509.33 L57.24,509.37 L59.70,509.50 L61.53,509.67 L62.98,509.84 L64.21,510.07 L65.35,510.43 L66.55,510.98 L67.95,511.78 L69.53,512.65 L71.16,513.52 L72.85,514.58 L74.60,516.02 L76.40,518.06 L78.26,520.88 L80.21,524.80 L82.23,529.71 L84.32,535.21 L86.44,540.90 L88.55,546.38 L90.64,551.24 L92.70,555.96 L94.76,560.94 L96.83,565.71 L98.89,569.80 L100.95,572.72 L103.01,574.01 L105.00,573.27 L106.91,570.78 L108.81,567.14 L110.80,562.91 L112.97,558.69 L115.39,555.04 L118.10,551.81 L121.04,548.49 L124.15,545.17 L127.38,541.94 L130.67,538.88 L133.95,536.07 L137.27,533.48 L140.67,531.06 L144.13,528.81 L147.62,526.73 L151.11,524.85 L154.57,523.16 L157.96,521.68 L161.30,520.41 L164.63,519.32 L168.02,518.41 L171.52,517.67 L175.20,517.09 L179.09,516.76 L183.14,516.70 L187.32,516.81 L191.55,516.98 L195.78,517.11 L199.95,517.09 L204.17,516.98 L208.51,516.87 L212.84,516.71 L217.06,516.47 L221.05,516.11 L224.70,515.57 L227.55,514.75 L229.59,513.66 L231.40,512.44 L233.56,511.24 L236.64,510.21 L241.20,509.50 L248.11,509.15 L257.09,509.05 L266.98,509.12 L276.64,509.28 L284.93,509.43 L290.70,509.50" fill="none" stroke="#50b050" stroke-width="1.1" stroke-dasharray="4,2"/>
<path d="M43.20,509.50 L45.09,509.47 L47.78,509.42 L50.93,509.36 L54.20,509.33 L57.24,509.37 L59.70,509.50 L61.53,509.67 L62.98,509.84 L64.21,510.07 L65.35,510.43 L66.55,510.98 L67.95,511.78 L69.53,512.63 L71.16,513.44 L72.85,514.43 L74.60,515.85 L76.40,517.93 L78.26,520.88 L80.21,525.06 L82.23,530.33 L84.32,536.25 L86.44,542.39 L88.55,548.29 L90.64,553.52 L92.70,558.58 L94.76,563.92 L96.83,569.03 L98.89,573.40 L100.95,576.49 L103.01,577.81 L105.00,576.89 L106.91,574.07 L108.81,569.98 L110.80,565.27 L112.97,560.58 L115.39,556.56 L118.10,553.01 L121.04,549.39 L124.15,545.79 L127.38,542.31 L130.67,539.03 L133.95,536.07 L137.27,533.40 L140.67,530.95 L144.13,528.71 L147.62,526.68 L151.11,524.83 L154.57,523.16 L157.96,521.68 L161.30,520.41 L164.63,519.32 L168.02,518.41 L171.52,517.67 L175.20,517.09 L179.09,516.77 L183.14,516.75 L187.32,516.90 L191.55,517.09 L195.78,517.20 L199.95,517.09 L204.17,516.78 L208.51,516.36 L212.84,515.86 L217.06,515.29 L221.05,514.68 L224.70,514.05 L227.55,513.33 L229.59,512.48 L231.40,511.59 L233.56,510.74 L236.64,510.01 L241.20,509.50 L248.11,509.24 L257.09,509.16 L266.98,509.22 L276.64,509.33 L284.93,509.45 L290.70,509.50" fill="none" stroke="#222222" stroke-width="1.1" stroke-dasharray="4,2"/>
<line x1="238" y1="536.70" x2="249" y2="536.70" stroke="#e05060" stroke-width="1.1" stroke-dasharray="3,1.5,1,1.5"/>
<text x="254" y="539.90" font-size="9.2" fill="#333">Sjap_Syun</text>
<line x1="238" y1="549.15" x2="249" y2="549.15" stroke="#4a88c8" stroke-width="1.1" stroke-dasharray="4,2"/>
<text x="254" y="552.35" font-size="9.2" fill="#333">Sjap_Scep</text>
<line x1="238" y1="561.60" x2="249" y2="561.60" stroke="#50b050" stroke-width="1.1" stroke-dasharray="4,2"/>
<text x="254" y="564.80" font-size="9.2" fill="#333">Sjap_Cchi</text>
<line x1="238" y1="574.05" x2="249" y2="574.05" stroke="#222222" stroke-width="1.1" stroke-dasharray="4,2"/>
<text x="254" y="577.25" font-size="9.2" fill="#333">Sjap_Vvin</text>
<text x="169.2" y="664" font-size="13.3" fill="#111" text-anchor="middle">Synonymous substitutions per site (Ks)</text>
<text x="0" y="705.8" font-size="16.7" fill="#000">F</text>
<rect x="36.8" y="700.5" width="251.0" height="128.0" fill="#e3e4ef"/>
<line x1="51.30" y1="700.5" x2="51.30" y2="828.5" stroke="#a8d0a4" stroke-width="0.9"/>
<line x1="61.80" y1="700.5" x2="61.80" y2="828.5" stroke="#a8d0a4" stroke-width="0.9"/>
<line x1="73.50" y1="700.5" x2="73.50" y2="828.5" stroke="#a8d0a4" stroke-width="0.9"/>
<line x1="88.70" y1="700.5" x2="88.70" y2="828.5" stroke="#a8d0a4" stroke-width="0.9"/>
<line x1="103.30" y1="700.5" x2="103.30" y2="828.5" stroke="#a8d0a4" stroke-width="0.9"/>
<line x1="117.90" y1="700.5" x2="117.90" y2="828.5" stroke="#a8d0a4" stroke-width="0.9"/>
<line x1="132.60" y1="700.5" x2="132.60" y2="828.5" stroke="#a8d0a4" stroke-width="0.9"/>
<line x1="148.80" y1="700.5" x2="148.80" y2="828.5" stroke="#a8d0a4" stroke-width="0.9"/>
<line x1="160.30" y1="700.5" x2="160.30" y2="828.5" stroke="#a8d0a4" stroke-width="0.9"/>
<line x1="169.20" y1="700.5" x2="169.20" y2="828.5" stroke="#a8d0a4" stroke-width="0.9"/>
<line x1="180.30" y1="700.5" x2="180.30" y2="828.5" stroke="#a8d0a4" stroke-width="0.9"/>
<line x1="193.30" y1="700.5" x2="193.30" y2="828.5" stroke="#a8d0a4" stroke-width="0.9"/>
<line x1="207.20" y1="700.5" x2="207.20" y2="828.5" stroke="#a8d0a4" stroke-width="0.9"/>
<line x1="224.20" y1="700.5" x2="224.20" y2="828.5" stroke="#a8d0a4" stroke-width="0.9"/>
<line x1="234.80" y1="700.5" x2="234.80" y2="828.5" stroke="#a8d0a4" stroke-width="0.9"/>
<line x1="247.00" y1="700.5" x2="247.00" y2="828.5" stroke="#a8d0a4" stroke-width="0.9"/>
<line x1="257.60" y1="700.5" x2="257.60" y2="828.5" stroke="#a8d0a4" stroke-width="0.9"/>
<line x1="277.10" y1="700.5" x2="277.10" y2="828.5" stroke="#a8d0a4" stroke-width="0.9"/>
<line x1="36.8" y1="719.00" x2="287.8" y2="719.00" stroke="#a8d0a4" stroke-width="0.9"/>
<line x1="36.8" y1="734.20" x2="287.8" y2="734.20" stroke="#a8d0a4" stroke-width="0.9"/>
<line x1="36.8" y1="746.40" x2="287.8" y2="746.40" stroke="#a8d0a4" stroke-width="0.9"/>
<line x1="36.8" y1="758.40" x2="287.8" y2="758.40" stroke="#a8d0a4" stroke-width="0.9"/>
<line x1="36.8" y1="769.80" x2="287.8" y2="769.80" stroke="#a8d0a4" stroke-width="0.9"/>
<line x1="36.8" y1="781.20" x2="287.8" y2="781.20" stroke="#a8d0a4" stroke-width="0.9"/>
<line x1="36.8" y1="791.70" x2="287.8" y2="791.70" stroke="#a8d0a4" stroke-width="0.9"/>
<line x1="36.8" y1="802.50" x2="287.8" y2="802.50" stroke="#a8d0a4" stroke-width="0.9"/>
<line x1="36.8" y1="812.30" x2="287.8" y2="812.30" stroke="#a8d0a4" stroke-width="0.9"/>
<line x1="36.8" y1="820.90" x2="287.8" y2="820.90" stroke="#a8d0a4" stroke-width="0.9"/>
<path d="M52.9,727.5 L61,719.4" fill="none" stroke="#1a1a1a" stroke-width="1.0" stroke-dasharray="1.6,0.7"/>
<path d="M88.7,734 L100,728.3" fill="none" stroke="#1a1a1a" stroke-width="1.0" stroke-dasharray="1.6,0.7"/>
<path d="M88.7,734 L102.5,746.2" fill="none" stroke="#1a1a1a" stroke-width="1.0" stroke-dasharray="1.6,0.7"/>
<path d="M82.2,730 L84,729" fill="none" stroke="#1a1a1a" stroke-width="1.0" stroke-dasharray="1.6,0.7"/>
<path d="M118,731.6 L123.6,734.8 L119.6,738.9" fill="none" stroke="#1a1a1a" stroke-width="1.0" stroke-dasharray="1.6,0.7"/>
<path d="M124.4,741.3 L126.9,743.8" fill="none" stroke="#1a1a1a" stroke-width="1.0" stroke-dasharray="1.6,0.7"/>
<path d="M128.5,748.7 L130,747.5" fill="none" stroke="#1a1a1a" stroke-width="1.0" stroke-dasharray="1.6,0.7"/>
<path d="M62.6,747 L67.5,750.3" fill="none" stroke="#1a1a1a" stroke-width="1.0" stroke-dasharray="1.6,0.7"/>
<path d="M37.4,773 L42.3,771.4" fill="none" stroke="#1a1a1a" stroke-width="1.0" stroke-dasharray="1.6,0.7"/>
<path d="M43.1,776.3 L49.6,779.6" fill="none" stroke="#1a1a1a" stroke-width="1.0" stroke-dasharray="1.6,0.7"/>
<path d="M61.8,781.2 L67.5,785.2" fill="none" stroke="#1a1a1a" stroke-width="1.0" stroke-dasharray="1.6,0.7"/>
<path d="M82.2,781.2 L87,784.4" fill="none" stroke="#1a1a1a" stroke-width="1.0" stroke-dasharray="1.6,0.7"/>
<path d="M126,781.2 L131,789.3" fill="none" stroke="#1a1a1a" stroke-width="1.0" stroke-dasharray="1.6,0.7"/>
<path d="M51.3,800.7 L57.8,797.4" fill="none" stroke="#1a1a1a" stroke-width="1.0" stroke-dasharray="1.6,0.7"/>
<path d="M65.9,807.2 L72.4,810.4" fill="none" stroke="#1a1a1a" stroke-width="1.0" stroke-dasharray="1.6,0.7"/>
<path d="M128.5,808.8 L132.6,803.9" fill="none" stroke="#1a1a1a" stroke-width="1.0" stroke-dasharray="1.6,0.7"/>
<path d="M36.6,815.3 L41.5,820.2 L50.4,812.1" fill="none" stroke="#1a1a1a" stroke-width="1.0" stroke-dasharray="1.6,0.7"/>
<path d="M161,821.8 L165,826.7" fill="none" stroke="#1a1a1a" stroke-width="1.0" stroke-dasharray="1.6,0.7"/>
<path d="M181.1,702.3 L186,700.7" fill="none" stroke="#1a1a1a" stroke-width="1.0" stroke-dasharray="1.6,0.7"/>
<path d="M161.6,701.5 L164,703.9" fill="none" stroke="#1a1a1a" stroke-width="1.0" stroke-dasharray="1.6,0.7"/>
<path d="M182.8,712.9 L189.3,719.4" fill="none" stroke="#1a1a1a" stroke-width="1.0" stroke-dasharray="1.6,0.7"/>
<path d="M160,714.5 L163.3,715.3" fill="none" stroke="#1a1a1a" stroke-width="1.0" stroke-dasharray="1.6,0.7"/>
<path d="M212.8,730 L207.2,734 L212,738.9" fill="none" stroke="#1a1a1a" stroke-width="1.0" stroke-dasharray="1.6,0.7"/>
<path d="M225,719.4 L229.9,722.6" fill="none" stroke="#1a1a1a" stroke-width="1.0" stroke-dasharray="1.6,0.7"/>
<path d="M229.9,728.3 L236.4,720.2" fill="none" stroke="#1a1a1a" stroke-width="1.0" stroke-dasharray="1.6,0.7"/>
<path d="M238,721.8 L246.2,728.3" fill="none" stroke="#1a1a1a" stroke-width="1.0" stroke-dasharray="1.6,0.7"/>
<path d="M277.1,702.3 L280.3,700.7" fill="none" stroke="#1a1a1a" stroke-width="1.0" stroke-dasharray="1.6,0.7"/>
<path d="M280.3,716.1 L286.8,712.9" fill="none" stroke="#1a1a1a" stroke-width="1.0" stroke-dasharray="1.6,0.7"/>
<path d="M257.6,747 L272.2,751.9" fill="none" stroke="#1a1a1a" stroke-width="1.0" stroke-dasharray="1.6,0.7"/>
<path d="M214.5,771.4 L217.7,774.7" fill="none" stroke="#1a1a1a" stroke-width="1.0" stroke-dasharray="1.6,0.7"/>
<path d="M218.5,780.4 L225,774.7" fill="none" stroke="#1a1a1a" stroke-width="1.0" stroke-dasharray="1.6,0.7"/>
<path d="M247.8,771.4 L257.6,779.6" fill="none" stroke="#1a1a1a" stroke-width="1.0" stroke-dasharray="1.6,0.7"/>
<path d="M257.6,782.8 L273.8,790.9" fill="none" stroke="#1a1a1a" stroke-width="1.0" stroke-dasharray="1.6,0.7"/>
<path d="M262,788 L270,784" fill="none" stroke="#1a1a1a" stroke-width="1.0" stroke-dasharray="1.6,0.7"/>
<path d="M189.3,803.9 L193.3,802.3" fill="none" stroke="#1a1a1a" stroke-width="1.0" stroke-dasharray="1.6,0.7"/>
<path d="M228.3,799 L234.8,802.3" fill="none" stroke="#1a1a1a" stroke-width="1.0" stroke-dasharray="1.6,0.7"/>
<path d="M238,797.4 L246.2,803.1" fill="none" stroke="#1a1a1a" stroke-width="1.0" stroke-dasharray="1.6,0.7"/>
<path d="M259.2,805.6 L277.1,802.3" fill="none" stroke="#1a1a1a" stroke-width="1.0" stroke-dasharray="1.6,0.7"/>
<path d="M213.7,820.2 L223.4,813.7" fill="none" stroke="#1a1a1a" stroke-width="1.0" stroke-dasharray="1.6,0.7"/>
<path d="M247.8,815.3 L257.6,813.7" fill="none" stroke="#1a1a1a" stroke-width="1.0" stroke-dasharray="1.6,0.7"/>
<path d="M181.1,825.1 L187.6,820.2" fill="none" stroke="#1a1a1a" stroke-width="1.0" stroke-dasharray="1.6,0.7"/>
<path d="M277.1,825.1 L283.6,820.2" fill="none" stroke="#1a1a1a" stroke-width="1.0" stroke-dasharray="1.6,0.7"/>
<path d="M150,716 L156,712" fill="none" stroke="#1a1a1a" stroke-width="1.0" stroke-dasharray="1.6,0.7"/>
<path d="M140,800 L146,796" fill="none" stroke="#1a1a1a" stroke-width="1.0" stroke-dasharray="1.6,0.7"/>
<path d="M95,795 L100,791" fill="none" stroke="#1a1a1a" stroke-width="1.0" stroke-dasharray="1.6,0.7"/>
<path d="M195,760 L200,764" fill="none" stroke="#1a1a1a" stroke-width="1.0" stroke-dasharray="1.6,0.7"/>
<rect x="46.6" y="709.0" width="1.3" height="1.3" fill="#222"/>
<rect x="37.699999999999996" y="717.1999999999999" width="1.3" height="1.3" fill="#222"/>
<rect x="72.60000000000001" y="717.1999999999999" width="1.3" height="1.3" fill="#222"/>
<rect x="89.7" y="777.3" width="1.3" height="1.3" fill="#222"/>
<rect x="102.7" y="819.6" width="1.3" height="1.3" fill="#222"/>
<rect x="159.6" y="714.6999999999999" width="1.3" height="1.3" fill="#222"/>
<rect x="222.8" y="709.0" width="1.3" height="1.3" fill="#222"/>
<rect x="217.9" y="735.9" width="1.3" height="1.3" fill="#222"/>
<rect x="167.5" y="769.1999999999999" width="1.3" height="1.3" fill="#222"/>
<rect x="176.9" y="810.4" width="1.3" height="1.3" fill="#222"/>
<rect x="75.4" y="810.4" width="1.3" height="1.3" fill="#222"/>
<path d="M119.3,709 H130.2 M148.8,709 H189.1 M119.3,763.8 H130.2 M148.8,763.8 H189.1 M110,718.3 V754.5 M139.5,718.3 V754.5 M198.4,718.3 V754.5" fill="none" stroke="#e0353a" stroke-width="1.1"/>
<circle cx="110" cy="709" r="9.3" fill="none" stroke="#e0353a" stroke-width="1.1"/>
<line x1="109.1" y1="709.0" x2="111.5" y2="707.3" stroke="#222" stroke-width="0.9" stroke-dasharray="1,0.6"/>
<line x1="109.1" y1="711.7" x2="111.5" y2="713.4" stroke="#222" stroke-width="0.9" stroke-dasharray="1,0.6"/>
<line x1="106.7" y1="708.6" x2="108.5" y2="711.0" stroke="#222" stroke-width="0.9" stroke-dasharray="1,0.6"/>
<line x1="110.5" y1="705.7" x2="113.0" y2="704.0" stroke="#222" stroke-width="0.9" stroke-dasharray="1,0.6"/>
<line x1="107.7" y1="704.8" x2="109.6" y2="707.2" stroke="#222" stroke-width="0.9" stroke-dasharray="1,0.6"/>
<line x1="110.7" y1="709.4" x2="113.2" y2="707.7" stroke="#222" stroke-width="0.9" stroke-dasharray="1,0.6"/>
<circle cx="110" cy="763.8" r="9.3" fill="none" stroke="#e0353a" stroke-width="1.1"/>
<line x1="113.7" y1="764.7" x2="115.5" y2="767.0" stroke="#222" stroke-width="0.9" stroke-dasharray="1,0.6"/>
<line x1="110.9" y1="764.4" x2="112.7" y2="766.8" stroke="#222" stroke-width="0.9" stroke-dasharray="1,0.6"/>
<line x1="105.6" y1="759.1" x2="108.0" y2="760.8" stroke="#222" stroke-width="0.9" stroke-dasharray="1,0.6"/>
<line x1="110.4" y1="765.8" x2="112.9" y2="764.1" stroke="#222" stroke-width="0.9" stroke-dasharray="1,0.6"/>
<line x1="109.0" y1="766.4" x2="110.8" y2="768.7" stroke="#222" stroke-width="0.9" stroke-dasharray="1,0.6"/>
<line x1="107.1" y1="761.4" x2="109.6" y2="763.1" stroke="#222" stroke-width="0.9" stroke-dasharray="1,0.6"/>
<circle cx="139.5" cy="709" r="9.3" fill="none" stroke="#e0353a" stroke-width="1.1"/>
<line x1="140.5" y1="708.1" x2="142.9" y2="706.4" stroke="#222" stroke-width="0.9" stroke-dasharray="1,0.6"/>
<line x1="138.2" y1="709.0" x2="140.6" y2="710.7" stroke="#222" stroke-width="0.9" stroke-dasharray="1,0.6"/>
<line x1="140.9" y1="706.8" x2="143.3" y2="708.5" stroke="#222" stroke-width="0.9" stroke-dasharray="1,0.6"/>
<line x1="139.1" y1="704.3" x2="141.0" y2="706.6" stroke="#222" stroke-width="0.9" stroke-dasharray="1,0.6"/>
<line x1="141.4" y1="707.6" x2="143.9" y2="705.9" stroke="#222" stroke-width="0.9" stroke-dasharray="1,0.6"/>
<line x1="138.0" y1="712.6" x2="139.8" y2="715.0" stroke="#222" stroke-width="0.9" stroke-dasharray="1,0.6"/>
<circle cx="139.5" cy="763.8" r="9.3" fill="none" stroke="#e0353a" stroke-width="1.1"/>
<line x1="134.5" y1="760.7" x2="137.0" y2="762.4" stroke="#222" stroke-width="0.9" stroke-dasharray="1,0.6"/>
<line x1="138.7" y1="767.6" x2="141.2" y2="765.9" stroke="#222" stroke-width="0.9" stroke-dasharray="1,0.6"/>
<line x1="138.3" y1="763.9" x2="140.8" y2="765.6" stroke="#222" stroke-width="0.9" stroke-dasharray="1,0.6"/>
<line x1="141.5" y1="761.2" x2="144.0" y2="762.9" stroke="#222" stroke-width="0.9" stroke-dasharray="1,0.6"/>
<line x1="137.3" y1="758.9" x2="139.8" y2="757.2" stroke="#222" stroke-width="0.9" stroke-dasharray="1,0.6"/>
<line x1="141.3" y1="759.9" x2="143.8" y2="761.6" stroke="#222" stroke-width="0.9" stroke-dasharray="1,0.6"/>
<circle cx="198.4" cy="709" r="9.3" fill="none" stroke="#e0353a" stroke-width="1.1"/>
<line x1="199.8" y1="704.1" x2="202.2" y2="702.4" stroke="#222" stroke-width="0.9" stroke-dasharray="1,0.6"/>
<line x1="200.6" y1="705.6" x2="202.4" y2="707.9" stroke="#222" stroke-width="0.9" stroke-dasharray="1,0.6"/>
<line x1="195.1" y1="708.6" x2="197.0" y2="710.9" stroke="#222" stroke-width="0.9" stroke-dasharray="1,0.6"/>
<line x1="200.3" y1="707.8" x2="202.8" y2="706.1" stroke="#222" stroke-width="0.9" stroke-dasharray="1,0.6"/>
<line x1="194.4" y1="707.8" x2="196.9" y2="709.5" stroke="#222" stroke-width="0.9" stroke-dasharray="1,0.6"/>
<line x1="193.4" y1="711.8" x2="195.3" y2="714.1" stroke="#222" stroke-width="0.9" stroke-dasharray="1,0.6"/>
<circle cx="198.4" cy="763.8" r="9.3" fill="none" stroke="#e0353a" stroke-width="1.1"/>
<line x1="196.1" y1="766.8" x2="198.6" y2="768.5" stroke="#222" stroke-width="0.9" stroke-dasharray="1,0.6"/>
<line x1="195.1" y1="767.8" x2="197.0" y2="770.1" stroke="#222" stroke-width="0.9" stroke-dasharray="1,0.6"/>
<line x1="199.2" y1="759.7" x2="201.7" y2="761.4" stroke="#222" stroke-width="0.9" stroke-dasharray="1,0.6"/>
<line x1="195.3" y1="761.1" x2="197.2" y2="763.5" stroke="#222" stroke-width="0.9" stroke-dasharray="1,0.6"/>
<line x1="196.4" y1="761.5" x2="198.8" y2="763.2" stroke="#222" stroke-width="0.9" stroke-dasharray="1,0.6"/>
<line x1="194.1" y1="760.7" x2="195.9" y2="763.0" stroke="#222" stroke-width="0.9" stroke-dasharray="1,0.6"/>
<path d="M89.3,752.4 H143.2 M89.3,794.8 H143.2 M80,761.6999999999999 V785.5 M152.5,761.6999999999999 V785.5 M174.5,761.6999999999999 V785.5" fill="none" stroke="#7a3ea0" stroke-width="1.1"/>
<circle cx="80" cy="752.4" r="9.3" fill="none" stroke="#7a3ea0" stroke-width="1.1"/>
<line x1="75.5" y1="755.4" x2="84.5" y2="749.4" stroke="#222" stroke-width="0.9" stroke-dasharray="1.5,0.6"/>
<circle cx="80" cy="794.8" r="9.3" fill="none" stroke="#7a3ea0" stroke-width="1.1"/>
<line x1="75.5" y1="797.8" x2="84.5" y2="791.8" stroke="#222" stroke-width="0.9" stroke-dasharray="1.5,0.6"/>
<circle cx="152.5" cy="752.4" r="9.3" fill="none" stroke="#7a3ea0" stroke-width="1.1"/>
<line x1="147.5" y1="756.4" x2="157.5" y2="748.9" stroke="#222" stroke-width="0.9"/>
<circle cx="152.5" cy="794.8" r="9.3" fill="none" stroke="#7a3ea0" stroke-width="1.1"/>
<line x1="148.0" y1="797.8" x2="157.0" y2="791.8" stroke="#222" stroke-width="0.9" stroke-dasharray="1.5,0.6"/>
<circle cx="174.5" cy="752.4" r="9.3" fill="none" stroke="#7a3ea0" stroke-width="1.1"/>
<line x1="169.5" y1="756.4" x2="179.5" y2="748.9" stroke="#222" stroke-width="0.9"/>
<circle cx="174.5" cy="794.8" r="9.3" fill="none" stroke="#7a3ea0" stroke-width="1.1"/>
<line x1="170.0" y1="797.8" x2="179.0" y2="791.8" stroke="#222" stroke-width="0.9" stroke-dasharray="1.5,0.6"/>
<text x="176.7" y="690" font-size="12.5" font-style="italic" fill="#111" text-anchor="middle">V. vinifera</text>
<text x="254" y="689.5" font-size="10.8" fill="#333">chr: 19-1</text>
<path d="M293,695.6 H250 M293,695.6 V736" fill="none" stroke="#777" stroke-width="1.5"/>
<path d="M248,695.6 L254,693 L254,698.2Z M293,739 L290.4,733 L295.6,733Z" fill="#777"/>
<text transform="translate(298.8,697) rotate(90)" font-size="10.8" fill="#333">chr: 1-11</text>
<text transform="translate(30.5,767) rotate(-90)" font-size="12" font-style="italic" fill="#111" text-anchor="middle">S. japonica</text>
<text x="311" y="256.4" font-size="16.5" font-weight="bold" fill="#000">D</text>
<path d="M443.27,326.34 A268.2,268.2 0 0 1 477.45,302.58 L493.22,329.50 A237.0,237.0 0 0 0 463.02,350.50Z" fill="#dc9a1c"/>
<path d="M437.32,319.06 L439.22,321.38 A274.6,274.6 0 0 1 474.21,297.05 M447.05,315.21 L446.03,313.86 M455.10,309.34 L454.13,307.95 M463.36,303.75 L462.44,302.33 M471.82,298.47 L470.94,297.02" fill="none" stroke="#555" stroke-width="0.7"/>
<text transform="translate(613.0,534.0) rotate(320.54) translate(0,-281.04)" font-size="12.5" fill="#222" text-anchor="middle">0</text>
<text transform="translate(613.0,534.0) rotate(324.45) translate(0,-280.98)" font-size="12.5" fill="#222" text-anchor="middle">40</text>
<text transform="translate(613.0,534.0) rotate(327.91) translate(0,-280.93)" font-size="12.5" fill="#222" text-anchor="middle">80</text>
<circle cx="468.80" cy="326.60" r="8.9" fill="#f5f7f7"/>
<text x="468.80" y="331.00" font-size="12.3" fill="#111" text-anchor="middle">1</text>
<linearGradient id="rg0_0" gradientUnits="userSpaceOnUse" x1="476.94" y1="367.53" x2="504.34" y2="348.48"><stop offset="0" stop-color="#a82418"/><stop offset="0.042" stop-color="#d55743"/><stop offset="0.083" stop-color="#e78572"/><stop offset="0.125" stop-color="#ec9b8a"/><stop offset="0.167" stop-color="#f2b3a5"/><stop offset="0.208" stop-color="#f2b7a9"/><stop offset="0.250" stop-color="#f8d0c7"/><stop offset="0.292" stop-color="#f7cbc0"/><stop offset="0.333" stop-color="#f6c9be"/><stop offset="0.375" stop-color="#f8d3ca"/><stop offset="0.417" stop-color="#f8d1c8"/><stop offset="0.458" stop-color="#fbe5e0"/><stop offset="0.500" stop-color="#f8d2c9"/><stop offset="0.542" stop-color="#f6c6ba"/><stop offset="0.583" stop-color="#f8d3c9"/><stop offset="0.625" stop-color="#f8d3c9"/><stop offset="0.667" stop-color="#fbe5e0"/><stop offset="0.708" stop-color="#f5c3b7"/><stop offset="0.750" stop-color="#f7cdc3"/><stop offset="0.792" stop-color="#f2b5a7"/><stop offset="0.833" stop-color="#f0aea0"/><stop offset="0.875" stop-color="#f1b2a4"/><stop offset="0.917" stop-color="#e57f6c"/><stop offset="0.958" stop-color="#d8604c"/><stop offset="1" stop-color="#a82418"/></linearGradient>
<path d="M469.60,358.55 A226.6,226.6 0 0 1 498.47,338.47 L510.15,358.40 A203.5,203.5 0 0 0 484.22,376.43Z" fill="url(#rg0_0)"/>
<line x1="493.03" y1="369.62" x2="479.41" y2="350.96" stroke="#eea596" stroke-width="0.6" opacity="0.8"/>
<line x1="499.32" y1="365.21" x2="486.41" y2="346.05" stroke="#eea292" stroke-width="0.6" opacity="0.8"/>
<line x1="502.00" y1="363.44" x2="489.40" y2="344.08" stroke="#faddd5" stroke-width="0.6" opacity="0.8"/>
<line x1="495.04" y1="368.18" x2="481.65" y2="349.35" stroke="#fbe5df" stroke-width="0.6" opacity="0.8"/>
<line x1="492.28" y1="370.18" x2="478.57" y2="351.58" stroke="#fcebe7" stroke-width="0.6" opacity="0.8"/>
<line x1="494.27" y1="368.73" x2="480.79" y2="349.97" stroke="#f6cabf" stroke-width="0.6" opacity="0.8"/>
<line x1="490.47" y1="371.52" x2="476.57" y2="353.08" stroke="#f6c5b9" stroke-width="0.6" opacity="0.8"/>
<line x1="494.74" y1="368.39" x2="481.31" y2="349.59" stroke="#f9dcd4" stroke-width="0.6" opacity="0.8"/>
<line x1="501.00" y1="364.09" x2="488.29" y2="344.81" stroke="#f8d1c8" stroke-width="0.6" opacity="0.8"/>
<line x1="494.45" y1="368.59" x2="481.00" y2="349.82" stroke="#f8d1c8" stroke-width="0.6" opacity="0.8"/>
<line x1="499.50" y1="365.09" x2="486.62" y2="345.92" stroke="#fcece7" stroke-width="0.6" opacity="0.8"/>
<path d="M490.23,383.79 A194.0,194.0 0 0 1 514.95,366.60 L531.63,395.08 A161.0,161.0 0 0 0 511.11,409.34Z" fill="#f3f3f4"/>
<path d="M506.62,401.98 L507.01,401.50 L505.30,398.39 L504.66,396.58 L505.43,396.57 L504.19,393.97 L504.70,393.59 L504.46,392.25 L505.36,392.40 L505.54,391.59 L505.66,390.70 L505.00,388.74 L506.39,389.56 L506.10,388.09 L506.34,387.33 L506.82,386.89 L508.09,387.57 L508.58,387.17 L508.89,386.49 L509.09,385.67 L510.45,386.51 L510.18,384.99 L510.64,384.54 L511.10,384.07 L512.65,385.22 L512.08,383.23 L513.68,384.48 L513.95,383.74 L514.23,383.00 L514.49,382.24 L515.86,383.18 L515.89,382.05 L517.12,382.79 L518.24,383.39 L519.16,383.67 L520.33,384.38 L521.56,385.19 L522.71,385.89 L523.45,385.93 L524.61,386.66 L527.21,389.84" fill="none" stroke="#7068c4" stroke-width="0.65"/>
<path d="M508.05,402.81 L506.83,399.45 L506.16,396.71 L505.94,394.50 L506.09,392.74 L506.52,391.33 L507.17,390.19 L507.97,389.25 L508.87,388.45 L509.83,387.72 L510.82,387.03 L511.81,386.35 L512.82,385.70 L513.89,385.14 L515.05,384.71 L516.34,384.50 L517.81,384.58 L519.52,385.06 L521.51,386.04 L523.85,387.62 L526.58,389.93" fill="none" stroke="#8f8ad6" stroke-width="0.5"/>
<path d="M486.43,297.54 A268.2,268.2 0 0 1 521.33,281.95 L532.00,311.27 A237.0,237.0 0 0 0 501.15,325.05Z" fill="#dc9a1c"/>
<path d="M481.99,289.26 L483.41,291.90 A274.6,274.6 0 0 1 519.14,275.94 M492.28,287.36 L491.54,285.83 M501.31,283.14 L500.62,281.59 M510.49,279.25 L509.86,277.67" fill="none" stroke="#555" stroke-width="0.7"/>
<text transform="translate(613.0,534.0) rotate(331.64) translate(0,-280.88)" font-size="12.5" fill="#222" text-anchor="middle">0</text>
<text transform="translate(613.0,534.0) rotate(335.55) translate(0,-280.83)" font-size="12.5" fill="#222" text-anchor="middle">40</text>
<text transform="translate(613.0,534.0) rotate(339.01) translate(0,-280.80)" font-size="12.5" fill="#222" text-anchor="middle">80</text>
<circle cx="509.97" cy="303.37" r="8.9" fill="#f5f7f7"/>
<text x="509.97" y="307.77" font-size="12.3" fill="#111" text-anchor="middle">2</text>
<linearGradient id="rg0_1" gradientUnits="userSpaceOnUse" x1="511.54" y1="344.45" x2="539.52" y2="331.95"><stop offset="0" stop-color="#a82418"/><stop offset="0.042" stop-color="#d04d39"/><stop offset="0.083" stop-color="#e98e7d"/><stop offset="0.125" stop-color="#f0ae9f"/><stop offset="0.167" stop-color="#f6c4b8"/><stop offset="0.208" stop-color="#f5c2b6"/><stop offset="0.250" stop-color="#f5c1b5"/><stop offset="0.292" stop-color="#f7cbc0"/><stop offset="0.333" stop-color="#f8d3ca"/><stop offset="0.375" stop-color="#f8d4cb"/><stop offset="0.417" stop-color="#fbe5e0"/><stop offset="0.458" stop-color="#f6c9be"/><stop offset="0.500" stop-color="#f7cbc0"/><stop offset="0.542" stop-color="#f8d4cb"/><stop offset="0.583" stop-color="#f8d3ca"/><stop offset="0.625" stop-color="#f7d0c6"/><stop offset="0.667" stop-color="#f5c2b5"/><stop offset="0.708" stop-color="#f5c0b3"/><stop offset="0.750" stop-color="#f6c8bd"/><stop offset="0.792" stop-color="#f4beb1"/><stop offset="0.833" stop-color="#f4bcaf"/><stop offset="0.875" stop-color="#f1b2a4"/><stop offset="0.917" stop-color="#ea9382"/><stop offset="0.958" stop-color="#e0705c"/><stop offset="1" stop-color="#a82418"/></linearGradient>
<path d="M506.06,334.22 A226.6,226.6 0 0 1 535.55,321.05 L543.45,342.76 A203.5,203.5 0 0 0 516.96,354.59Z" fill="url(#rg0_1)"/>
<line x1="536.52" y1="345.42" x2="527.83" y2="324.01" stroke="#eea393" stroke-width="0.6" opacity="0.8"/>
<line x1="531.68" y1="347.45" x2="522.45" y2="326.28" stroke="#f8d0c6" stroke-width="0.6" opacity="0.8"/>
<line x1="527.86" y1="349.17" x2="518.19" y2="328.19" stroke="#fceae5" stroke-width="0.6" opacity="0.8"/>
<line x1="526.99" y1="349.57" x2="517.22" y2="328.64" stroke="#f3b9ac" stroke-width="0.6" opacity="0.8"/>
<line x1="534.89" y1="346.09" x2="526.02" y2="324.76" stroke="#f9d9d1" stroke-width="0.6" opacity="0.8"/>
<line x1="533.80" y1="346.54" x2="524.81" y2="325.26" stroke="#f3baad" stroke-width="0.6" opacity="0.8"/>
<line x1="532.58" y1="347.06" x2="523.45" y2="325.84" stroke="#f6c6ba" stroke-width="0.6" opacity="0.8"/>
<line x1="533.45" y1="346.69" x2="524.42" y2="325.43" stroke="#f9d9d1" stroke-width="0.6" opacity="0.8"/>
<line x1="532.71" y1="347.01" x2="523.60" y2="325.78" stroke="#faded7" stroke-width="0.6" opacity="0.8"/>
<line x1="529.80" y1="348.28" x2="520.36" y2="327.20" stroke="#f3bbae" stroke-width="0.6" opacity="0.8"/>
<path d="M521.45,362.96 A194.0,194.0 0 0 1 546.69,351.68 L557.97,382.70 A161.0,161.0 0 0 0 537.02,392.06Z" fill="#f3f3f4"/>
<path d="M534.32,384.52 L534.18,383.07 L533.13,379.86 L533.19,378.75 L533.15,377.42 L533.71,377.29 L533.28,375.16 L533.75,374.83 L533.59,373.22 L534.11,372.97 L534.14,371.70 L534.71,371.55 L535.01,370.83 L535.90,371.36 L536.11,370.45 L536.53,369.97 L536.97,369.52 L537.93,370.22 L538.01,368.99 L538.51,368.69 L539.21,368.82 L539.48,368.00 L540.03,367.81 L540.96,368.46 L541.48,368.22 L542.34,368.75 L542.32,367.22 L542.80,366.86 L543.78,367.69 L544.20,367.20 L544.82,367.16 L545.47,367.24 L546.64,368.59 L546.89,367.68 L547.86,368.57 L548.66,369.04 L549.79,370.38 L550.64,371.02 L551.61,372.01 L552.91,373.88 L554.14,375.60" fill="none" stroke="#7068c4" stroke-width="0.65"/>
<path d="M535.27,385.06 L534.63,381.57 L534.40,378.81 L534.50,376.65 L534.88,374.99 L535.47,373.74 L536.22,372.80 L537.09,372.07 L538.02,371.50 L539.00,371.02 L539.99,370.57 L540.98,370.13 L542.00,369.73 L543.05,369.41 L544.16,369.25 L545.36,369.32 L546.69,369.72 L548.18,370.54 L549.86,371.90 L551.76,373.92 L553.93,376.73" fill="none" stroke="#8f8ad6" stroke-width="0.5"/>
<path d="M531.08,278.62 A268.2,268.2 0 0 1 566.15,269.92 L571.60,300.64 A237.0,237.0 0 0 0 540.61,308.33Z" fill="#dc9a1c"/>
<path d="M528.20,269.67 L529.12,272.52 A274.6,274.6 0 0 1 565.03,263.62 M538.67,269.65 L538.21,268.02 M548.31,267.13 L547.91,265.48 M558.04,264.96 L557.70,263.29" fill="none" stroke="#555" stroke-width="0.7"/>
<text transform="translate(613.0,534.0) rotate(342.01) translate(0,-280.77)" font-size="12.5" fill="#222" text-anchor="middle">0</text>
<text transform="translate(613.0,534.0) rotate(345.92) translate(0,-280.75)" font-size="12.5" fill="#222" text-anchor="middle">40</text>
<circle cx="552.22" cy="288.82" r="8.9" fill="#f5f7f7"/>
<text x="552.22" y="293.22" font-size="12.3" fill="#111" text-anchor="middle">3</text>
<linearGradient id="rg0_2" gradientUnits="userSpaceOnUse" x1="547.33" y1="329.28" x2="575.44" y2="322.31"><stop offset="0" stop-color="#a82418"/><stop offset="0.042" stop-color="#e0705c"/><stop offset="0.083" stop-color="#ea9280"/><stop offset="0.125" stop-color="#eea596"/><stop offset="0.167" stop-color="#f6c4b8"/><stop offset="0.208" stop-color="#f4bfb3"/><stop offset="0.250" stop-color="#f6c6ba"/><stop offset="0.292" stop-color="#f8d2c9"/><stop offset="0.333" stop-color="#fbe5e0"/><stop offset="0.375" stop-color="#f8d3c9"/><stop offset="0.417" stop-color="#f8d2c9"/><stop offset="0.458" stop-color="#f8d5cc"/><stop offset="0.500" stop-color="#f7cfc5"/><stop offset="0.542" stop-color="#f7cbc1"/><stop offset="0.583" stop-color="#fbe5e0"/><stop offset="0.625" stop-color="#f7cec4"/><stop offset="0.667" stop-color="#fbe5e0"/><stop offset="0.708" stop-color="#f6c4b8"/><stop offset="0.750" stop-color="#f8d0c6"/><stop offset="0.792" stop-color="#f5c2b6"/><stop offset="0.833" stop-color="#f6c6bb"/><stop offset="0.875" stop-color="#efa99a"/><stop offset="0.917" stop-color="#eb9584"/><stop offset="0.958" stop-color="#d85e4a"/><stop offset="1" stop-color="#a82418"/></linearGradient>
<path d="M543.78,318.23 A226.6,226.6 0 0 1 573.42,310.88 L577.45,333.63 A203.5,203.5 0 0 0 550.84,340.23Z" fill="url(#rg0_2)"/>
<line x1="568.29" y1="335.47" x2="563.21" y2="312.94" stroke="#f8d5cc" stroke-width="0.6" opacity="0.8"/>
<line x1="568.21" y1="335.49" x2="563.13" y2="312.96" stroke="#f6c7bc" stroke-width="0.6" opacity="0.8"/>
<line x1="562.30" y1="336.92" x2="556.54" y2="314.55" stroke="#fbe7e1" stroke-width="0.6" opacity="0.8"/>
<line x1="565.31" y1="336.17" x2="559.90" y2="313.71" stroke="#f7ccc2" stroke-width="0.6" opacity="0.8"/>
<line x1="570.14" y1="335.06" x2="565.28" y2="312.48" stroke="#eda292" stroke-width="0.6" opacity="0.8"/>
<line x1="565.48" y1="336.13" x2="560.09" y2="313.66" stroke="#f9d9d1" stroke-width="0.6" opacity="0.8"/>
<line x1="569.29" y1="335.25" x2="564.33" y2="312.69" stroke="#fcefeb" stroke-width="0.6" opacity="0.8"/>
<line x1="558.83" y1="337.84" x2="552.68" y2="315.58" stroke="#f7ccc1" stroke-width="0.6" opacity="0.8"/>
<line x1="565.57" y1="336.10" x2="560.18" y2="313.64" stroke="#fbe7e1" stroke-width="0.6" opacity="0.8"/>
<line x1="565.76" y1="336.06" x2="560.40" y2="313.59" stroke="#f0ab9d" stroke-width="0.6" opacity="0.8"/>
<path d="M553.74,349.27 A194.0,194.0 0 0 1 579.11,342.98 L584.88,375.48 A161.0,161.0 0 0 0 563.82,380.70Z" fill="#f3f3f4"/>
<path d="M562.73,373.46 L562.52,371.06 L562.59,369.53 L562.58,367.70 L562.26,364.82 L562.83,364.84 L562.72,362.59 L563.06,361.83 L563.62,361.79 L564.21,361.91 L564.21,359.90 L564.95,360.53 L565.48,360.38 L566.02,360.32 L566.15,358.68 L566.94,359.54 L567.58,359.81 L568.00,359.26 L568.72,359.88 L568.97,358.68 L569.60,358.92 L570.21,359.12 L570.48,357.94 L570.99,357.72 L571.94,359.35 L572.21,358.14 L572.88,358.62 L573.11,357.17 L573.75,357.50 L574.57,358.71 L575.15,358.80 L575.80,359.27 L576.05,357.81 L577.01,359.78 L577.54,359.71 L578.31,360.79 L578.97,361.42 L579.77,362.73 L580.53,363.91 L581.65,367.03 L582.30,367.74" fill="none" stroke="#7068c4" stroke-width="0.65"/>
<path d="M563.36,373.50 L563.29,369.97 L563.49,367.23 L563.92,365.14 L564.52,363.60 L565.26,362.49 L566.10,361.71 L567.01,361.18 L567.96,360.80 L568.94,360.51 L569.93,360.26 L570.92,360.02 L571.92,359.82 L572.94,359.71 L573.99,359.76 L575.10,360.05 L576.27,360.69 L577.52,361.77 L578.87,363.42 L580.34,365.75 L581.92,368.90" fill="none" stroke="#8f8ad6" stroke-width="0.5"/>
<path d="M576.32,268.32 A268.2,268.2 0 0 1 610.79,265.81 L611.05,297.01 A237.0,237.0 0 0 0 580.59,299.23Z" fill="#dc9a1c"/>
<path d="M575.03,259.01 L575.44,261.98 A274.6,274.6 0 0 1 610.74,259.41 M585.34,260.80 L585.17,259.10 M595.28,259.97 L595.17,258.28 M605.23,259.51 L605.19,257.81" fill="none" stroke="#555" stroke-width="0.7"/>
<text transform="translate(613.0,534.0) rotate(351.94) translate(0,-280.71)" font-size="12.5" fill="#222" text-anchor="middle">0</text>
<text transform="translate(613.0,534.0) rotate(355.85) translate(0,-280.70)" font-size="12.5" fill="#222" text-anchor="middle">40</text>
<circle cx="594.65" cy="282.07" r="8.9" fill="#f5f7f7"/>
<text x="594.65" y="286.47" font-size="12.3" fill="#111" text-anchor="middle">4</text>
<linearGradient id="rg0_3" gradientUnits="userSpaceOnUse" x1="583.60" y1="321.02" x2="611.23" y2="319.01"><stop offset="0" stop-color="#a82418"/><stop offset="0.042" stop-color="#d9604c"/><stop offset="0.083" stop-color="#eb9584"/><stop offset="0.125" stop-color="#f1b1a4"/><stop offset="0.167" stop-color="#f3baad"/><stop offset="0.208" stop-color="#f6c5ba"/><stop offset="0.250" stop-color="#f7cac0"/><stop offset="0.292" stop-color="#f6c6ba"/><stop offset="0.333" stop-color="#f8d3ca"/><stop offset="0.375" stop-color="#f7cdc3"/><stop offset="0.417" stop-color="#f6c6ba"/><stop offset="0.458" stop-color="#f8d6cd"/><stop offset="0.500" stop-color="#f7cec4"/><stop offset="0.542" stop-color="#f6c9be"/><stop offset="0.583" stop-color="#f7cdc3"/><stop offset="0.625" stop-color="#f7cec4"/><stop offset="0.667" stop-color="#f6c5b9"/><stop offset="0.708" stop-color="#f7cec3"/><stop offset="0.750" stop-color="#f7d0c6"/><stop offset="0.792" stop-color="#f3baad"/><stop offset="0.833" stop-color="#f2b4a7"/><stop offset="0.875" stop-color="#f0ad9e"/><stop offset="0.917" stop-color="#eb9786"/><stop offset="0.958" stop-color="#d45642"/><stop offset="1" stop-color="#a82418"/></linearGradient>
<path d="M582.01,309.53 A226.6,226.6 0 0 1 611.14,307.41 L611.33,330.51 A203.5,203.5 0 0 0 585.17,332.41Z" fill="url(#rg0_3)"/>
<line x1="593.54" y1="331.43" x2="591.34" y2="308.44" stroke="#f8d1c8" stroke-width="0.6" opacity="0.8"/>
<line x1="598.86" y1="330.99" x2="597.25" y2="307.95" stroke="#f8d0c7" stroke-width="0.6" opacity="0.8"/>
<line x1="596.00" y1="331.21" x2="594.07" y2="308.19" stroke="#fbe6e0" stroke-width="0.6" opacity="0.8"/>
<line x1="599.34" y1="330.96" x2="597.79" y2="307.91" stroke="#f2b5a8" stroke-width="0.6" opacity="0.8"/>
<line x1="592.57" y1="331.53" x2="590.26" y2="308.54" stroke="#fae1da" stroke-width="0.6" opacity="0.8"/>
<line x1="602.40" y1="330.78" x2="601.20" y2="307.71" stroke="#f3b8ab" stroke-width="0.6" opacity="0.8"/>
<line x1="600.36" y1="330.89" x2="598.92" y2="307.84" stroke="#fceeea" stroke-width="0.6" opacity="0.8"/>
<line x1="601.13" y1="330.85" x2="599.78" y2="307.79" stroke="#eda090" stroke-width="0.6" opacity="0.8"/>
<line x1="604.75" y1="330.67" x2="603.81" y2="307.59" stroke="#f5c3b7" stroke-width="0.6" opacity="0.8"/>
<path d="M586.47,341.82 A194.0,194.0 0 0 1 611.40,340.01 L611.68,373.01 A161.0,161.0 0 0 0 590.98,374.51Z" fill="#f3f3f4"/>
<path d="M591.25,367.91 L591.22,363.91 L591.65,363.32 L591.83,360.73 L592.09,358.66 L592.52,358.02 L593.07,358.31 L593.46,357.18 L593.75,355.17 L594.40,356.34 L594.77,354.93 L595.30,355.05 L595.85,355.37 L596.26,354.19 L596.88,355.33 L597.38,355.09 L597.84,354.42 L598.41,355.04 L598.93,355.03 L599.36,353.85 L599.85,353.45 L600.35,353.11 L600.98,354.71 L601.45,354.03 L601.99,354.26 L602.47,353.63 L603.00,353.90 L603.47,352.97 L604.06,354.31 L604.62,355.17 L605.08,353.99 L605.66,355.52 L606.15,354.90 L606.70,355.74 L607.21,355.57 L607.77,357.25 L608.30,358.21 L608.86,360.33 L609.38,361.30 L609.92,363.84 L610.43,364.97" fill="none" stroke="#7068c4" stroke-width="0.65"/>
<path d="M591.77,367.35 L592.26,363.87 L592.88,361.20 L593.61,359.23 L594.41,357.82 L595.28,356.86 L596.18,356.24 L597.12,355.87 L598.07,355.66 L599.03,355.55 L600.00,355.47 L600.96,355.41 L601.93,355.38 L602.90,355.45 L603.88,355.68 L604.87,356.16 L605.86,356.98 L606.86,358.26 L607.87,360.11 L608.87,362.66 L609.86,366.03" fill="none" stroke="#8f8ad6" stroke-width="0.5"/>
<path d="M621.09,265.92 A268.2,268.2 0 0 1 655.76,269.23 L650.79,300.03 A237.0,237.0 0 0 0 620.15,297.11Z" fill="#dc9a1c"/>
<path d="M621.38,256.53 L621.28,259.53 A274.6,274.6 0 0 1 656.78,262.91 M631.24,260.01 L631.35,258.31 M641.17,260.85 L641.35,259.16 M651.07,262.05 L651.30,260.37" fill="none" stroke="#555" stroke-width="0.7"/>
<text transform="translate(613.0,534.0) rotate(361.53) translate(0,-280.70)" font-size="12.5" fill="#222" text-anchor="middle">0</text>
<text transform="translate(613.0,534.0) rotate(365.44) translate(0,-280.71)" font-size="12.5" fill="#222" text-anchor="middle">40</text>
<circle cx="637.00" cy="282.54" r="8.9" fill="#f5f7f7"/>
<text x="637.00" y="286.94" font-size="12.3" fill="#111" text-anchor="middle">5</text>
<linearGradient id="rg0_4" gradientUnits="userSpaceOnUse" x1="619.49" y1="319.10" x2="647.28" y2="321.75"><stop offset="0" stop-color="#a82418"/><stop offset="0.042" stop-color="#e0715d"/><stop offset="0.083" stop-color="#eb9988"/><stop offset="0.125" stop-color="#f1afa1"/><stop offset="0.167" stop-color="#f2b3a5"/><stop offset="0.208" stop-color="#f7cabf"/><stop offset="0.250" stop-color="#f6c4b8"/><stop offset="0.292" stop-color="#fbe5e0"/><stop offset="0.333" stop-color="#fbe5e0"/><stop offset="0.375" stop-color="#f8d3ca"/><stop offset="0.417" stop-color="#f8d1c8"/><stop offset="0.458" stop-color="#f7cdc3"/><stop offset="0.500" stop-color="#fbe5e0"/><stop offset="0.542" stop-color="#fbe5e0"/><stop offset="0.583" stop-color="#f8d3ca"/><stop offset="0.625" stop-color="#f6c9be"/><stop offset="0.667" stop-color="#f8d2c9"/><stop offset="0.708" stop-color="#f6c7bc"/><stop offset="0.750" stop-color="#f7cec4"/><stop offset="0.792" stop-color="#f5c1b5"/><stop offset="0.833" stop-color="#f5c0b4"/><stop offset="0.875" stop-color="#f2b4a6"/><stop offset="0.917" stop-color="#eb9585"/><stop offset="0.958" stop-color="#d75d49"/><stop offset="1" stop-color="#a82418"/></linearGradient>
<path d="M619.84,307.50 A226.6,226.6 0 0 1 649.13,310.30 L645.45,333.10 A203.5,203.5 0 0 0 619.14,330.59Z" fill="url(#rg0_4)"/>
<line x1="630.83" y1="331.28" x2="632.85" y2="308.27" stroke="#fbe7e1" stroke-width="0.6" opacity="0.8"/>
<line x1="636.69" y1="331.88" x2="639.38" y2="308.94" stroke="#f6c7bb" stroke-width="0.6" opacity="0.8"/>
<line x1="636.34" y1="331.84" x2="638.99" y2="308.90" stroke="#f8d4cb" stroke-width="0.6" opacity="0.8"/>
<line x1="636.96" y1="331.91" x2="639.67" y2="308.98" stroke="#f7cfc5" stroke-width="0.6" opacity="0.8"/>
<line x1="633.55" y1="331.54" x2="635.89" y2="308.56" stroke="#f7cbc1" stroke-width="0.6" opacity="0.8"/>
<line x1="635.49" y1="331.75" x2="638.05" y2="308.79" stroke="#f9d7ce" stroke-width="0.6" opacity="0.8"/>
<line x1="627.02" y1="330.98" x2="628.61" y2="307.94" stroke="#fcede9" stroke-width="0.6" opacity="0.8"/>
<line x1="628.41" y1="331.08" x2="630.16" y2="308.05" stroke="#fcede9" stroke-width="0.6" opacity="0.8"/>
<line x1="637.45" y1="331.97" x2="640.23" y2="309.04" stroke="#f8d1c8" stroke-width="0.6" opacity="0.8"/>
<path d="M618.85,340.09 A194.0,194.0 0 0 1 643.93,342.48 L638.67,375.06 A161.0,161.0 0 0 0 617.86,373.07Z" fill="#f3f3f4"/>
<path d="M619.28,365.04 L619.79,364.51 L620.41,361.60 L621.03,359.09 L621.57,358.36 L622.12,357.69 L622.68,356.72 L623.19,356.82 L623.75,356.14 L624.29,355.71 L624.86,354.92 L625.40,354.67 L626.01,353.44 L626.43,354.95 L626.97,354.68 L627.50,354.62 L628.00,354.89 L628.54,354.65 L629.05,354.80 L629.62,354.31 L630.05,355.34 L630.76,353.44 L631.16,354.71 L631.81,353.52 L632.27,354.14 L632.79,354.25 L633.25,354.80 L633.88,353.91 L634.18,355.90 L634.82,354.95 L635.20,356.09 L635.78,355.66 L636.25,356.06 L636.53,357.95 L636.95,358.67 L637.28,360.03 L637.69,360.76 L637.95,362.50 L638.31,363.46 L638.71,364.17 L638.66,367.77" fill="none" stroke="#7068c4" stroke-width="0.65"/>
<path d="M619.83,366.14 L620.90,362.79 L621.96,360.27 L623.02,358.44 L624.06,357.19 L625.08,356.38 L626.08,355.93 L627.08,355.72 L628.06,355.67 L629.03,355.72 L630.01,355.81 L630.98,355.91 L631.94,356.04 L632.90,356.27 L633.83,356.66 L634.74,357.30 L635.59,358.29 L636.37,359.72 L637.06,361.71 L637.63,364.39 L638.05,367.88" fill="none" stroke="#8f8ad6" stroke-width="0.5"/>
<path d="M665.89,271.07 A268.2,268.2 0 0 1 700.02,280.31 L689.89,309.82 A237.0,237.0 0 0 0 659.74,301.65Z" fill="#dc9a1c"/>
<path d="M667.75,261.85 L667.16,264.79 A274.6,274.6 0 0 1 702.09,274.25 M676.89,266.94 L677.29,265.28 M686.54,269.43 L687.00,267.79 M696.10,272.27 L696.61,270.65" fill="none" stroke="#555" stroke-width="0.7"/>
<text transform="translate(613.0,534.0) rotate(371.17) translate(0,-280.73)" font-size="12.5" fill="#222" text-anchor="middle">0</text>
<text transform="translate(613.0,534.0) rotate(375.08) translate(0,-280.75)" font-size="12.5" fill="#222" text-anchor="middle">40</text>
<circle cx="679.03" cy="290.18" r="8.9" fill="#f5f7f7"/>
<text x="679.03" y="294.58" font-size="12.3" fill="#111" text-anchor="middle">6</text>
<linearGradient id="rg0_5" gradientUnits="userSpaceOnUse" x1="655.40" y1="323.22" x2="682.75" y2="330.63"><stop offset="0" stop-color="#a82418"/><stop offset="0.042" stop-color="#da634f"/><stop offset="0.083" stop-color="#eb9787"/><stop offset="0.125" stop-color="#eea293"/><stop offset="0.167" stop-color="#f2b3a6"/><stop offset="0.208" stop-color="#f7cbc0"/><stop offset="0.250" stop-color="#f7ccc2"/><stop offset="0.292" stop-color="#f6c7bc"/><stop offset="0.333" stop-color="#f6c9be"/><stop offset="0.375" stop-color="#fbe5e0"/><stop offset="0.417" stop-color="#f8d4cb"/><stop offset="0.458" stop-color="#fbe5e0"/><stop offset="0.500" stop-color="#f7ccc2"/><stop offset="0.542" stop-color="#f7cdc2"/><stop offset="0.583" stop-color="#fbe5e0"/><stop offset="0.625" stop-color="#f6c5b9"/><stop offset="0.667" stop-color="#fbe5e0"/><stop offset="0.708" stop-color="#fbe5e0"/><stop offset="0.750" stop-color="#f6cabf"/><stop offset="0.792" stop-color="#f7ccc2"/><stop offset="0.833" stop-color="#f6c4b8"/><stop offset="0.875" stop-color="#f0ae9f"/><stop offset="0.917" stop-color="#eb9686"/><stop offset="0.958" stop-color="#e27460"/><stop offset="1" stop-color="#a82418"/></linearGradient>
<path d="M657.69,311.85 A226.6,226.6 0 0 1 686.52,319.66 L679.02,341.51 A203.5,203.5 0 0 0 653.13,334.50Z" fill="url(#rg0_5)"/>
<line x1="672.28" y1="339.32" x2="679.01" y2="317.23" stroke="#fbe4de" stroke-width="0.6" opacity="0.8"/>
<line x1="666.31" y1="337.61" x2="672.36" y2="315.31" stroke="#f8d6ce" stroke-width="0.6" opacity="0.8"/>
<line x1="666.60" y1="337.69" x2="672.68" y2="315.40" stroke="#fceae5" stroke-width="0.6" opacity="0.8"/>
<line x1="663.78" y1="336.94" x2="669.54" y2="314.57" stroke="#fbe9e3" stroke-width="0.6" opacity="0.8"/>
<line x1="666.74" y1="337.72" x2="672.84" y2="315.44" stroke="#efa799" stroke-width="0.6" opacity="0.8"/>
<line x1="667.47" y1="337.92" x2="673.65" y2="315.67" stroke="#f1b0a2" stroke-width="0.6" opacity="0.8"/>
<line x1="662.49" y1="336.61" x2="668.10" y2="314.20" stroke="#fceeea" stroke-width="0.6" opacity="0.8"/>
<line x1="666.71" y1="337.72" x2="672.80" y2="315.43" stroke="#f8d1c7" stroke-width="0.6" opacity="0.8"/>
<line x1="667.12" y1="337.83" x2="673.26" y2="315.56" stroke="#f9d8d0" stroke-width="0.6" opacity="0.8"/>
<path d="M651.26,343.81 A194.0,194.0 0 0 1 675.94,350.49 L665.24,381.71 A161.0,161.0 0 0 0 644.75,376.16Z" fill="#f3f3f4"/>
<path d="M647.44,368.78 L648.43,366.48 L649.41,364.33 L649.97,364.16 L650.83,362.65 L651.76,360.86 L652.18,361.38 L652.80,361.01 L653.54,360.13 L654.05,360.29 L654.99,358.61 L655.59,358.38 L655.89,359.41 L656.34,359.80 L656.84,359.95 L657.46,359.69 L657.89,360.14 L658.60,359.52 L659.20,359.34 L659.52,360.18 L659.93,360.71 L660.81,359.49 L660.94,361.02 L661.54,360.84 L662.10,360.82 L662.66,360.80 L662.98,361.58 L663.67,361.13 L664.07,361.62 L664.81,361.03 L665.12,361.84 L665.74,361.61 L665.96,362.72 L666.36,363.21 L666.51,364.46 L666.65,365.77 L667.05,366.21 L667.02,367.99 L667.21,369.05 L666.94,371.49 L666.69,373.82" fill="none" stroke="#7068c4" stroke-width="0.65"/>
<path d="M647.86,369.66 L649.49,366.54 L650.98,364.23 L652.34,362.61 L653.59,361.55 L654.75,360.94 L655.84,360.66 L656.87,360.63 L657.86,360.75 L658.83,360.97 L659.79,361.22 L660.75,361.49 L661.69,361.79 L662.61,362.18 L663.49,362.73 L664.28,363.52 L664.97,364.64 L665.52,366.18 L665.88,368.27 L666.00,371.01 L665.84,374.53" fill="none" stroke="#8f8ad6" stroke-width="0.5"/>
<path d="M709.69,283.84 A268.2,268.2 0 0 1 738.06,296.74 L723.51,324.34 A237.0,237.0 0 0 0 698.44,312.94Z" fill="#dc9a1c"/>
<path d="M713.08,275.07 L712.00,277.87 A274.6,274.6 0 0 1 741.04,291.08 M721.23,281.63 L721.90,280.07 M730.32,285.72 L731.04,284.18 M739.25,290.14 L740.03,288.63" fill="none" stroke="#555" stroke-width="0.7"/>
<text transform="translate(613.0,534.0) rotate(380.93) translate(0,-280.80)" font-size="12.5" fill="#222" text-anchor="middle">0</text>
<text transform="translate(613.0,534.0) rotate(384.84) translate(0,-280.84)" font-size="12.5" fill="#222" text-anchor="middle">40</text>
<circle cx="717.60" cy="304.08" r="8.9" fill="#f5f7f7"/>
<text x="717.60" y="308.48" font-size="12.3" fill="#111" text-anchor="middle">7</text>
<linearGradient id="rg0_6" gradientUnits="userSpaceOnUse" x1="690.51" y1="333.46" x2="713.25" y2="343.80"><stop offset="0" stop-color="#a82418"/><stop offset="0.042" stop-color="#d35440"/><stop offset="0.083" stop-color="#ea9483"/><stop offset="0.125" stop-color="#f3b7aa"/><stop offset="0.167" stop-color="#f6c7bc"/><stop offset="0.208" stop-color="#f7cac0"/><stop offset="0.250" stop-color="#f7ccc2"/><stop offset="0.292" stop-color="#f6c7bc"/><stop offset="0.333" stop-color="#f8d3ca"/><stop offset="0.375" stop-color="#fbe5e0"/><stop offset="0.417" stop-color="#fbe5e0"/><stop offset="0.458" stop-color="#f7d0c6"/><stop offset="0.500" stop-color="#f6c5ba"/><stop offset="0.542" stop-color="#f8d2c8"/><stop offset="0.583" stop-color="#f7cfc5"/><stop offset="0.625" stop-color="#f8d5cc"/><stop offset="0.667" stop-color="#f6c6ba"/><stop offset="0.708" stop-color="#f8d1c8"/><stop offset="0.750" stop-color="#f7cec4"/><stop offset="0.792" stop-color="#f4beb2"/><stop offset="0.833" stop-color="#f4bdb0"/><stop offset="0.875" stop-color="#ec9b8a"/><stop offset="0.917" stop-color="#e78572"/><stop offset="0.958" stop-color="#e1725e"/><stop offset="1" stop-color="#a82418"/></linearGradient>
<path d="M694.69,322.64 A226.6,226.6 0 0 1 718.66,333.54 L707.89,353.98 A203.5,203.5 0 0 0 686.36,344.18Z" fill="url(#rg0_6)"/>
<line x1="701.71" y1="350.85" x2="711.78" y2="330.07" stroke="#f8d3c9" stroke-width="0.6" opacity="0.8"/>
<line x1="696.56" y1="348.45" x2="706.04" y2="327.38" stroke="#f8d4cb" stroke-width="0.6" opacity="0.8"/>
<line x1="700.14" y1="350.10" x2="710.03" y2="329.23" stroke="#eea696" stroke-width="0.6" opacity="0.8"/>
<line x1="697.62" y1="348.93" x2="707.23" y2="327.92" stroke="#eda192" stroke-width="0.6" opacity="0.8"/>
<line x1="698.30" y1="349.24" x2="707.98" y2="328.27" stroke="#fbe9e4" stroke-width="0.6" opacity="0.8"/>
<line x1="700.64" y1="350.34" x2="710.59" y2="329.49" stroke="#f8d5cc" stroke-width="0.6" opacity="0.8"/>
<line x1="692.42" y1="346.64" x2="701.44" y2="325.37" stroke="#eda091" stroke-width="0.6" opacity="0.8"/>
<line x1="692.21" y1="346.55" x2="701.20" y2="325.27" stroke="#f7cbc1" stroke-width="0.6" opacity="0.8"/>
<path d="M682.94,353.05 A194.0,194.0 0 0 1 703.46,362.38 L688.07,391.57 A161.0,161.0 0 0 0 671.04,383.83Z" fill="#f3f3f4"/>
<path d="M674.83,377.30 L676.38,374.57 L677.09,373.97 L677.96,373.00 L678.93,371.79 L679.70,371.08 L680.77,369.67 L681.30,369.58 L682.28,368.41 L682.45,369.20 L683.10,368.84 L683.53,368.99 L684.67,367.52 L685.02,367.87 L685.48,367.96 L685.72,368.57 L685.96,369.16 L686.16,369.86 L687.20,368.66 L687.32,369.53 L687.32,370.63 L687.86,370.56 L688.21,370.89 L689.20,369.85 L689.79,369.70 L689.54,371.31 L690.50,370.37 L690.43,371.58 L691.13,371.18 L691.64,371.19 L691.71,372.10 L692.14,372.26 L691.94,373.71 L691.74,375.16 L692.30,375.04 L692.37,375.91 L691.87,377.90 L691.87,378.91 L691.46,380.68 L690.69,383.14 L690.34,384.76" fill="none" stroke="#7068c4" stroke-width="0.65"/>
<path d="M675.20,377.94 L677.22,375.09 L678.95,373.02 L680.44,371.60 L681.72,370.71 L682.84,370.24 L683.83,370.09 L684.72,370.17 L685.55,370.41 L686.34,370.72 L687.12,371.07 L687.90,371.43 L688.66,371.82 L689.38,372.29 L690.02,372.91 L690.56,373.76 L690.94,374.91 L691.12,376.46 L691.02,378.51 L690.60,381.18 L689.78,384.57" fill="none" stroke="#8f8ad6" stroke-width="0.5"/>
<path d="M747.07,301.72 A268.2,268.2 0 0 1 773.11,318.84 L754.49,343.87 A237.0,237.0 0 0 0 731.48,328.74Z" fill="#dc9a1c"/>
<path d="M751.77,293.58 L750.27,296.17 A274.6,274.6 0 0 1 776.94,313.70 M758.81,301.31 L759.72,299.87 M767.16,306.76 L768.12,305.35 M775.31,312.50 L776.31,311.13" fill="none" stroke="#555" stroke-width="0.7"/>
<text transform="translate(613.0,534.0) rotate(389.79) translate(0,-280.90)" font-size="12.5" fill="#222" text-anchor="middle">0</text>
<text transform="translate(613.0,534.0) rotate(393.70) translate(0,-280.95)" font-size="12.5" fill="#222" text-anchor="middle">40</text>
<circle cx="751.77" cy="322.93" r="8.9" fill="#f5f7f7"/>
<text x="751.77" y="327.33" font-size="12.3" fill="#111" text-anchor="middle">8</text>
<linearGradient id="rg0_7" gradientUnits="userSpaceOnUse" x1="720.48" y1="347.79" x2="741.35" y2="361.52"><stop offset="0" stop-color="#a82418"/><stop offset="0.042" stop-color="#da634f"/><stop offset="0.083" stop-color="#e78876"/><stop offset="0.125" stop-color="#f0aea0"/><stop offset="0.167" stop-color="#efaa9b"/><stop offset="0.208" stop-color="#f3bbae"/><stop offset="0.250" stop-color="#f4bdb1"/><stop offset="0.292" stop-color="#f6c7bb"/><stop offset="0.333" stop-color="#f7cbc0"/><stop offset="0.375" stop-color="#f7cfc5"/><stop offset="0.417" stop-color="#f6cabf"/><stop offset="0.458" stop-color="#fbe5e0"/><stop offset="0.500" stop-color="#f8d4cc"/><stop offset="0.542" stop-color="#f7ccc1"/><stop offset="0.583" stop-color="#f6c9be"/><stop offset="0.625" stop-color="#f6c5b9"/><stop offset="0.667" stop-color="#fbe5e0"/><stop offset="0.708" stop-color="#f6c6ba"/><stop offset="0.750" stop-color="#f4bcaf"/><stop offset="0.792" stop-color="#f3b8aa"/><stop offset="0.833" stop-color="#f2b4a7"/><stop offset="0.875" stop-color="#ed9e8e"/><stop offset="0.917" stop-color="#e78775"/><stop offset="0.958" stop-color="#d75d49"/><stop offset="1" stop-color="#a82418"/></linearGradient>
<path d="M726.28,337.75 A226.6,226.6 0 0 1 748.28,352.21 L734.49,370.74 A203.5,203.5 0 0 0 714.73,357.75Z" fill="url(#rg0_7)"/>
<line x1="724.96" y1="364.07" x2="737.67" y2="344.78" stroke="#f0ab9c" stroke-width="0.6" opacity="0.8"/>
<line x1="722.21" y1="362.28" x2="734.60" y2="342.79" stroke="#eda191" stroke-width="0.6" opacity="0.8"/>
<line x1="725.23" y1="364.25" x2="737.97" y2="344.98" stroke="#f9d7ce" stroke-width="0.6" opacity="0.8"/>
<line x1="719.84" y1="360.80" x2="731.97" y2="341.14" stroke="#f9d7cf" stroke-width="0.6" opacity="0.8"/>
<line x1="721.60" y1="361.90" x2="733.92" y2="342.36" stroke="#f6c6bb" stroke-width="0.6" opacity="0.8"/>
<line x1="728.72" y1="366.60" x2="741.85" y2="347.60" stroke="#efa99a" stroke-width="0.6" opacity="0.8"/>
<line x1="725.92" y1="364.70" x2="738.74" y2="345.48" stroke="#f9d7cf" stroke-width="0.6" opacity="0.8"/>
<line x1="720.90" y1="361.46" x2="733.15" y2="341.88" stroke="#f6c4b8" stroke-width="0.6" opacity="0.8"/>
<path d="M709.98,365.98 A194.0,194.0 0 0 1 728.82,378.36 L709.12,404.84 A161.0,161.0 0 0 0 693.48,394.56Z" fill="#f3f3f4"/>
<path d="M698.31,388.56 L699.99,386.55 L700.96,385.78 L702.74,383.66 L703.05,384.00 L704.12,383.10 L704.94,382.62 L706.12,381.56 L707.13,380.79 L706.92,382.01 L708.03,381.08 L708.71,380.86 L708.57,381.95 L708.84,382.39 L709.86,381.63 L710.59,381.35 L711.05,381.49 L711.27,382.01 L711.29,382.83 L711.69,383.06 L712.20,383.13 L713.04,382.69 L712.69,384.05 L713.05,384.35 L713.82,384.02 L714.63,383.65 L714.02,385.37 L714.16,385.98 L714.57,386.19 L715.41,385.79 L715.69,386.19 L715.34,387.50 L715.46,388.12 L716.01,388.14 L716.02,388.91 L715.91,389.84 L715.68,390.95 L714.39,393.49 L714.36,394.30 L714.05,395.48 L713.24,397.31" fill="none" stroke="#7068c4" stroke-width="0.65"/>
<path d="M698.50,389.39 L700.93,386.88 L702.96,385.10 L704.65,383.93 L706.05,383.25 L707.23,382.96 L708.23,382.96 L709.10,383.18 L709.89,383.53 L710.62,383.97 L711.34,384.43 L712.05,384.91 L712.74,385.41 L713.38,385.99 L713.92,386.70 L714.32,387.62 L714.52,388.81 L714.45,390.37 L714.04,392.39 L713.21,394.96 L711.88,398.18" fill="none" stroke="#8f8ad6" stroke-width="0.5"/>
<path d="M781.26,325.14 A268.2,268.2 0 0 1 805.45,347.20 L783.06,368.93 A237.0,237.0 0 0 0 761.68,349.44Z" fill="#dc9a1c"/>
<path d="M787.15,317.82 L785.27,320.16 A274.6,274.6 0 0 1 810.04,342.74 M792.92,326.55 L794.03,325.27 M800.33,333.22 L801.49,331.98 M807.49,340.15 L808.70,338.95" fill="none" stroke="#555" stroke-width="0.7"/>
<text transform="translate(613.0,534.0) rotate(398.66) translate(0,-281.03)" font-size="12.5" fill="#222" text-anchor="middle">0</text>
<text transform="translate(613.0,534.0) rotate(402.57) translate(0,-281.10)" font-size="12.5" fill="#222" text-anchor="middle">40</text>
<circle cx="783.18" cy="347.33" r="8.9" fill="#f5f7f7"/>
<text x="783.18" y="351.73" font-size="12.3" fill="#111" text-anchor="middle">9</text>
<linearGradient id="rg0_8" gradientUnits="userSpaceOnUse" x1="747.88" y1="366.57" x2="767.27" y2="384.25"><stop offset="0" stop-color="#a82418"/><stop offset="0.042" stop-color="#d2533f"/><stop offset="0.083" stop-color="#e88a78"/><stop offset="0.125" stop-color="#ec9b8b"/><stop offset="0.167" stop-color="#f6c4b8"/><stop offset="0.208" stop-color="#f4bfb2"/><stop offset="0.250" stop-color="#f5c0b4"/><stop offset="0.292" stop-color="#fbe5e0"/><stop offset="0.333" stop-color="#f8d1c7"/><stop offset="0.375" stop-color="#f8d3ca"/><stop offset="0.417" stop-color="#fbe5e0"/><stop offset="0.458" stop-color="#f6c8bd"/><stop offset="0.500" stop-color="#f6c8bc"/><stop offset="0.542" stop-color="#f6c9be"/><stop offset="0.583" stop-color="#f6c5b9"/><stop offset="0.625" stop-color="#fbe5e0"/><stop offset="0.667" stop-color="#fbe5e0"/><stop offset="0.708" stop-color="#f7cfc5"/><stop offset="0.750" stop-color="#f6c9be"/><stop offset="0.792" stop-color="#f5bfb3"/><stop offset="0.833" stop-color="#f1b3a5"/><stop offset="0.875" stop-color="#f3b9ac"/><stop offset="0.917" stop-color="#ea9382"/><stop offset="0.958" stop-color="#d8604c"/><stop offset="1" stop-color="#a82418"/></linearGradient>
<path d="M755.16,357.54 A226.6,226.6 0 0 1 775.60,376.17 L759.02,392.26 A203.5,203.5 0 0 0 740.67,375.53Z" fill="url(#rg0_8)"/>
<line x1="746.55" y1="380.45" x2="761.71" y2="363.02" stroke="#f7cabf" stroke-width="0.6" opacity="0.8"/>
<line x1="748.94" y1="382.57" x2="764.37" y2="365.38" stroke="#f6c5b9" stroke-width="0.6" opacity="0.8"/>
<line x1="750.06" y1="383.58" x2="765.62" y2="366.50" stroke="#eea293" stroke-width="0.6" opacity="0.8"/>
<line x1="754.14" y1="387.39" x2="770.16" y2="370.75" stroke="#fcebe6" stroke-width="0.6" opacity="0.8"/>
<line x1="752.47" y1="385.81" x2="768.30" y2="368.99" stroke="#f5c1b5" stroke-width="0.6" opacity="0.8"/>
<line x1="748.21" y1="381.92" x2="763.56" y2="364.65" stroke="#fbe8e3" stroke-width="0.6" opacity="0.8"/>
<line x1="749.91" y1="383.44" x2="765.45" y2="366.35" stroke="#f9d9d1" stroke-width="0.6" opacity="0.8"/>
<line x1="752.26" y1="385.62" x2="768.07" y2="368.77" stroke="#efa899" stroke-width="0.6" opacity="0.8"/>
<line x1="749.01" y1="382.63" x2="764.45" y2="365.45" stroke="#faddd6" stroke-width="0.6" opacity="0.8"/>
<path d="M734.71,382.93 A194.0,194.0 0 0 1 752.21,398.88 L728.53,421.86 A161.0,161.0 0 0 0 714.00,408.62Z" fill="#f3f3f4"/>
<path d="M719.62,403.53 L721.66,401.76 L723.36,400.43 L724.45,399.85 L725.28,399.59 L726.42,398.97 L728.10,397.72 L728.48,398.02 L728.56,398.67 L729.75,398.02 L730.09,398.38 L731.24,397.79 L730.87,398.95 L731.61,398.85 L731.77,399.39 L732.73,399.05 L733.85,398.52 L733.57,399.57 L733.71,400.14 L734.88,399.58 L734.00,401.27 L734.75,401.17 L735.79,400.77 L734.94,402.40 L736.43,401.52 L736.16,402.52 L735.96,403.45 L736.61,403.47 L737.19,403.56 L737.30,404.15 L737.67,404.46 L737.07,405.78 L737.35,406.19 L738.45,405.75 L737.46,407.45 L737.20,408.40 L736.15,410.13 L735.83,411.11 L736.08,411.53 L734.64,413.62 L733.10,415.79" fill="none" stroke="#7068c4" stroke-width="0.65"/>
<path d="M719.76,404.28 L722.58,402.22 L724.90,400.81 L726.79,399.94 L728.33,399.52 L729.57,399.45 L730.60,399.64 L731.46,400.03 L732.22,400.54 L732.92,401.11 L733.59,401.72 L734.26,402.33 L734.90,402.98 L735.48,403.68 L735.94,404.51 L736.23,405.51 L736.27,406.76 L735.99,408.33 L735.31,410.29 L734.11,412.73 L732.32,415.73" fill="none" stroke="#8f8ad6" stroke-width="0.5"/>
<path d="M812.48,354.72 A268.2,268.2 0 0 1 831.93,379.07 L806.46,397.10 A237.0,237.0 0 0 0 789.27,375.58Z" fill="#dc9a1c"/>
<path d="M819.47,348.44 L817.24,350.44 A274.6,274.6 0 0 1 837.15,375.38 M823.76,357.98 L825.07,356.89 M830.01,365.74 L831.36,364.70 M835.98,373.73 L837.36,372.74" fill="none" stroke="#555" stroke-width="0.7"/>
<text transform="translate(613.0,534.0) rotate(407.85) translate(0,-281.19)" font-size="12.5" fill="#222" text-anchor="middle">0</text>
<text transform="translate(613.0,534.0) rotate(411.76) translate(0,-281.27)" font-size="12.5" fill="#222" text-anchor="middle">40</text>
<circle cx="810.37" cy="376.35" r="8.9" fill="#f5f7f7"/>
<text x="810.37" y="380.75" font-size="12.3" fill="#111" text-anchor="middle">10</text>
<linearGradient id="rg0_9" gradientUnits="userSpaceOnUse" x1="772.91" y1="390.28" x2="788.50" y2="409.80"><stop offset="0" stop-color="#a82418"/><stop offset="0.042" stop-color="#db6652"/><stop offset="0.083" stop-color="#e78673"/><stop offset="0.125" stop-color="#f0ad9e"/><stop offset="0.167" stop-color="#f3b8ab"/><stop offset="0.208" stop-color="#f3b7aa"/><stop offset="0.250" stop-color="#f6c5ba"/><stop offset="0.292" stop-color="#fbe5e0"/><stop offset="0.333" stop-color="#f8d4cb"/><stop offset="0.375" stop-color="#f7cec4"/><stop offset="0.417" stop-color="#f6c7bc"/><stop offset="0.458" stop-color="#f7cfc5"/><stop offset="0.500" stop-color="#f6c9be"/><stop offset="0.542" stop-color="#f8d3ca"/><stop offset="0.583" stop-color="#f7cec4"/><stop offset="0.625" stop-color="#f5c3b7"/><stop offset="0.667" stop-color="#f7cdc2"/><stop offset="0.708" stop-color="#f7cbc0"/><stop offset="0.750" stop-color="#f6c5b9"/><stop offset="0.792" stop-color="#f7cbc1"/><stop offset="0.833" stop-color="#f6c5b9"/><stop offset="0.875" stop-color="#f0ac9d"/><stop offset="0.917" stop-color="#ed9f8f"/><stop offset="0.958" stop-color="#dc6753"/><stop offset="1" stop-color="#a82418"/></linearGradient>
<path d="M781.54,382.53 A226.6,226.6 0 0 1 797.97,403.10 L779.11,416.45 A203.5,203.5 0 0 0 764.36,397.97Z" fill="url(#rg0_9)"/>
<line x1="774.81" y1="410.59" x2="793.18" y2="396.58" stroke="#fbe3dd" stroke-width="0.6" opacity="0.8"/>
<line x1="768.39" y1="402.59" x2="786.02" y2="387.68" stroke="#f2b3a6" stroke-width="0.6" opacity="0.8"/>
<line x1="775.35" y1="411.30" x2="793.78" y2="397.37" stroke="#f7cabf" stroke-width="0.6" opacity="0.8"/>
<line x1="769.28" y1="403.66" x2="787.02" y2="388.87" stroke="#fae1da" stroke-width="0.6" opacity="0.8"/>
<line x1="775.06" y1="410.92" x2="793.45" y2="396.94" stroke="#eea596" stroke-width="0.6" opacity="0.8"/>
<line x1="768.48" y1="402.71" x2="786.13" y2="387.80" stroke="#fbe4de" stroke-width="0.6" opacity="0.8"/>
<line x1="771.48" y1="406.34" x2="789.47" y2="391.85" stroke="#fadfd8" stroke-width="0.6" opacity="0.8"/>
<line x1="773.86" y1="409.36" x2="792.12" y2="395.21" stroke="#f9d8d0" stroke-width="0.6" opacity="0.8"/>
<path d="M757.29,404.32 A194.0,194.0 0 0 1 771.36,421.94 L744.42,441.00 A161.0,161.0 0 0 0 732.75,426.38Z" fill="#f3f3f4"/>
<path d="M739.56,421.84 L740.49,421.60 L742.81,420.14 L745.07,418.76 L745.93,418.60 L746.05,419.09 L747.07,418.81 L748.82,417.91 L749.11,418.26 L749.75,418.32 L750.49,418.29 L751.16,418.33 L752.25,418.03 L751.42,419.32 L752.33,419.16 L752.14,419.92 L752.93,419.86 L753.55,419.95 L752.83,421.14 L753.71,421.01 L754.39,421.07 L753.47,422.38 L755.07,421.70 L754.75,422.55 L755.17,422.80 L755.62,423.04 L756.18,423.19 L755.11,424.60 L756.06,424.44 L755.39,425.54 L756.07,425.60 L756.00,426.23 L755.34,427.29 L755.63,427.65 L755.57,428.25 L755.47,428.89 L755.31,429.57 L753.51,431.45 L752.75,432.55 L751.79,433.78 L750.64,435.15" fill="none" stroke="#7068c4" stroke-width="0.65"/>
<path d="M739.12,423.02 L742.21,421.39 L744.69,420.33 L746.66,419.73 L748.20,419.52 L749.41,419.61 L750.36,419.92 L751.12,420.40 L751.76,420.98 L752.32,421.62 L752.86,422.29 L753.39,422.96 L753.89,423.65 L754.31,424.40 L754.61,425.24 L754.71,426.24 L754.53,427.44 L753.98,428.90 L752.96,430.69 L751.38,432.87 L749.11,435.52" fill="none" stroke="#8f8ad6" stroke-width="0.5"/>
<path d="M837.71,387.59 A268.2,268.2 0 0 1 853.30,414.88 L825.34,428.74 A237.0,237.0 0 0 0 811.57,404.62Z" fill="#dc9a1c"/>
<path d="M845.59,382.46 L843.08,384.10 A274.6,274.6 0 0 1 859.03,412.04 M848.36,392.55 L849.82,391.67 M853.34,401.18 L854.83,400.36 M858.01,409.99 L859.52,409.23" fill="none" stroke="#555" stroke-width="0.7"/>
<text transform="translate(613.0,534.0) rotate(416.71) translate(0,-281.38)" font-size="12.5" fill="#222" text-anchor="middle">0</text>
<text transform="translate(613.0,534.0) rotate(420.62) translate(0,-281.46)" font-size="12.5" fill="#222" text-anchor="middle">40</text>
<circle cx="832.36" cy="408.74" r="8.9" fill="#f5f7f7"/>
<text x="832.36" y="413.14" font-size="12.3" fill="#111" text-anchor="middle">11</text>
<linearGradient id="rg0_10" gradientUnits="userSpaceOnUse" x1="793.14" y1="416.63" x2="805.63" y2="438.51"><stop offset="0" stop-color="#a82418"/><stop offset="0.042" stop-color="#d04d39"/><stop offset="0.083" stop-color="#eb9786"/><stop offset="0.125" stop-color="#f2b6a9"/><stop offset="0.167" stop-color="#f0ac9d"/><stop offset="0.208" stop-color="#f7ccc2"/><stop offset="0.250" stop-color="#f6c9be"/><stop offset="0.292" stop-color="#f6c6ba"/><stop offset="0.333" stop-color="#f7cdc3"/><stop offset="0.375" stop-color="#f7d0c6"/><stop offset="0.417" stop-color="#fbe5e0"/><stop offset="0.458" stop-color="#f7d0c6"/><stop offset="0.500" stop-color="#f7ccc2"/><stop offset="0.542" stop-color="#fbe5e0"/><stop offset="0.583" stop-color="#f8d4cb"/><stop offset="0.625" stop-color="#f8d2c9"/><stop offset="0.667" stop-color="#f7cfc6"/><stop offset="0.708" stop-color="#f6c5b9"/><stop offset="0.750" stop-color="#f7ccc2"/><stop offset="0.792" stop-color="#f3baad"/><stop offset="0.833" stop-color="#f2b7a9"/><stop offset="0.875" stop-color="#f0aea0"/><stop offset="0.917" stop-color="#e88b79"/><stop offset="0.958" stop-color="#de6c58"/><stop offset="1" stop-color="#a82418"/></linearGradient>
<path d="M802.86,410.30 A226.6,226.6 0 0 1 816.02,433.36 L795.33,443.62 A203.5,203.5 0 0 0 783.50,422.91Z" fill="url(#rg0_10)"/>
<line x1="791.90" y1="437.02" x2="812.21" y2="426.01" stroke="#f8d4cb" stroke-width="0.6" opacity="0.8"/>
<line x1="792.02" y1="437.23" x2="812.34" y2="426.25" stroke="#fbe4de" stroke-width="0.6" opacity="0.8"/>
<line x1="787.53" y1="429.36" x2="807.35" y2="417.48" stroke="#fcece8" stroke-width="0.6" opacity="0.8"/>
<line x1="791.12" y1="435.59" x2="811.34" y2="424.41" stroke="#f7ccc2" stroke-width="0.6" opacity="0.8"/>
<line x1="786.75" y1="428.05" x2="806.47" y2="416.03" stroke="#fcede8" stroke-width="0.6" opacity="0.8"/>
<line x1="791.60" y1="436.47" x2="811.88" y2="425.40" stroke="#f8d0c7" stroke-width="0.6" opacity="0.8"/>
<line x1="791.87" y1="436.96" x2="812.18" y2="425.95" stroke="#fcede9" stroke-width="0.6" opacity="0.8"/>
<line x1="790.24" y1="434.01" x2="810.36" y2="422.66" stroke="#fbe8e3" stroke-width="0.6" opacity="0.8"/>
<path d="M775.54,428.10 A194.0,194.0 0 0 1 786.82,447.84 L757.25,462.49 A161.0,161.0 0 0 0 747.89,446.11Z" fill="#f3f3f4"/>
<path d="M755.23,442.74 L757.13,442.04 L758.98,441.40 L759.85,441.37 L762.59,440.19 L762.21,440.96 L763.15,440.91 L765.18,440.20 L764.81,440.96 L765.39,441.15 L766.67,440.91 L767.48,440.96 L768.34,440.99 L768.37,441.52 L767.44,442.61 L768.81,442.34 L769.45,442.51 L768.32,443.71 L769.77,443.41 L769.05,444.36 L769.36,444.72 L769.02,445.44 L770.70,445.03 L770.46,445.70 L771.42,445.70 L770.78,446.59 L770.36,447.35 L770.63,447.73 L770.83,448.15 L772.22,447.93 L770.77,449.24 L770.46,449.93 L770.78,450.28 L769.95,451.24 L770.18,451.63 L769.96,452.26 L769.24,453.15 L767.32,454.65 L766.02,455.82 L765.21,456.72 L763.81,457.93" fill="none" stroke="#7068c4" stroke-width="0.65"/>
<path d="M754.71,443.77 L758.02,442.64 L760.64,441.98 L762.68,441.71 L764.24,441.75 L765.43,442.03 L766.32,442.49 L767.01,443.09 L767.55,443.77 L768.01,444.49 L768.44,445.24 L768.87,445.99 L769.26,446.76 L769.57,447.57 L769.73,448.46 L769.68,449.47 L769.32,450.63 L768.55,452.00 L767.28,453.62 L765.38,455.54 L762.73,457.81" fill="none" stroke="#8f8ad6" stroke-width="0.5"/>
<path d="M857.69,424.20 A268.2,268.2 0 0 1 867.73,450.08 L838.10,459.84 A237.0,237.0 0 0 0 829.23,436.97Z" fill="#dc9a1c"/>
<path d="M866.27,420.35 L863.53,421.58 A274.6,274.6 0 0 1 873.81,448.08 M867.45,430.74 L869.02,430.10 M871.03,440.05 L872.62,439.46" fill="none" stroke="#555" stroke-width="0.7"/>
<text transform="translate(613.0,534.0) rotate(425.63) translate(0,-281.58)" font-size="12.5" fill="#222" text-anchor="middle">0</text>
<text transform="translate(613.0,534.0) rotate(429.54) translate(0,-281.68)" font-size="12.5" fill="#222" text-anchor="middle">40</text>
<circle cx="848.50" cy="442.65" r="8.9" fill="#f5f7f7"/>
<text x="848.50" y="447.05" font-size="12.3" fill="#111" text-anchor="middle">12</text>
<linearGradient id="rg0_11" gradientUnits="userSpaceOnUse" x1="809.16" y1="445.98" x2="817.20" y2="466.73"><stop offset="0" stop-color="#a82418"/><stop offset="0.042" stop-color="#d85e4a"/><stop offset="0.083" stop-color="#e6816e"/><stop offset="0.125" stop-color="#f3b7aa"/><stop offset="0.167" stop-color="#f5c3b7"/><stop offset="0.208" stop-color="#f6c5b9"/><stop offset="0.250" stop-color="#f6c7bc"/><stop offset="0.292" stop-color="#f5c2b6"/><stop offset="0.333" stop-color="#f6c8bd"/><stop offset="0.375" stop-color="#f6c7bc"/><stop offset="0.417" stop-color="#fbe5e0"/><stop offset="0.458" stop-color="#f8d1c8"/><stop offset="0.500" stop-color="#f6c6bb"/><stop offset="0.542" stop-color="#f7cbc0"/><stop offset="0.583" stop-color="#fbe5e0"/><stop offset="0.625" stop-color="#f6c7bc"/><stop offset="0.667" stop-color="#f8d2c9"/><stop offset="0.708" stop-color="#f6c4b8"/><stop offset="0.750" stop-color="#f7d0c6"/><stop offset="0.792" stop-color="#f2b5a7"/><stop offset="0.833" stop-color="#f4bfb3"/><stop offset="0.875" stop-color="#eea596"/><stop offset="0.917" stop-color="#e78875"/><stop offset="0.958" stop-color="#de6c58"/><stop offset="1" stop-color="#a82418"/></linearGradient>
<path d="M819.74,441.23 A226.6,226.6 0 0 1 828.22,463.10 L806.28,470.33 A203.5,203.5 0 0 0 798.66,450.68Z" fill="url(#rg0_11)"/>
<line x1="802.07" y1="458.73" x2="823.53" y2="450.19" stroke="#fce9e4" stroke-width="0.6" opacity="0.8"/>
<line x1="801.02" y1="456.15" x2="822.36" y2="447.31" stroke="#f5c1b5" stroke-width="0.6" opacity="0.8"/>
<line x1="802.38" y1="459.53" x2="823.88" y2="451.07" stroke="#f0aea0" stroke-width="0.6" opacity="0.8"/>
<line x1="801.01" y1="456.13" x2="822.35" y2="447.29" stroke="#f9ddd5" stroke-width="0.6" opacity="0.8"/>
<line x1="801.48" y1="457.27" x2="822.88" y2="448.56" stroke="#eea595" stroke-width="0.6" opacity="0.8"/>
<line x1="803.81" y1="463.27" x2="825.47" y2="455.24" stroke="#f0ab9c" stroke-width="0.6" opacity="0.8"/>
<line x1="802.75" y1="460.47" x2="824.29" y2="452.12" stroke="#fbe9e4" stroke-width="0.6" opacity="0.8"/>
<path d="M790.00,454.57 A194.0,194.0 0 0 1 797.26,473.30 L765.92,483.62 A161.0,161.0 0 0 0 759.89,468.08Z" fill="#f3f3f4"/>
<path d="M767.04,466.16 L768.85,465.78 L770.34,465.55 L773.06,464.79 L773.90,464.86 L774.71,464.94 L776.53,464.60 L778.22,464.31 L778.94,464.45 L778.54,465.05 L778.28,465.59 L780.02,465.31 L779.02,466.16 L780.15,466.13 L779.45,466.85 L781.49,466.46 L780.76,467.19 L780.71,467.65 L780.52,468.15 L781.24,468.31 L782.25,468.35 L781.28,469.16 L780.98,469.71 L781.74,469.85 L782.70,469.92 L781.72,470.72 L782.33,470.92 L782.98,471.11 L781.78,471.99 L782.75,472.06 L782.06,472.74 L781.06,473.53 L780.59,474.12 L782.00,474.04 L780.46,475.01 L779.68,475.71 L779.74,476.11 L777.88,477.17 L776.33,478.11 L774.20,479.24 L773.18,479.99" fill="none" stroke="#7068c4" stroke-width="0.65"/>
<path d="M766.99,466.83 L770.38,466.12 L773.02,465.76 L775.03,465.69 L776.53,465.86 L777.61,466.20 L778.38,466.69 L778.92,467.26 L779.31,467.90 L779.61,468.58 L779.88,469.27 L780.15,469.96 L780.38,470.66 L780.52,471.40 L780.51,472.19 L780.27,473.06 L779.71,474.05 L778.71,475.17 L777.18,476.48 L774.99,478.00 L772.00,479.77" fill="none" stroke="#8f8ad6" stroke-width="0.5"/>
<path d="M870.77,459.92 A268.2,268.2 0 0 1 877.04,486.97 L846.33,492.44 A237.0,237.0 0 0 0 840.78,468.54Z" fill="#dc9a1c"/>
<path d="M879.80,457.32 L876.92,458.15 A274.6,274.6 0 0 1 883.34,485.84 M879.50,467.78 L881.15,467.37 M881.72,477.50 L883.39,477.15" fill="none" stroke="#555" stroke-width="0.7"/>
<text transform="translate(613.0,534.0) rotate(433.77) translate(0,-281.78)" font-size="12.5" fill="#222" text-anchor="middle">0</text>
<text transform="translate(613.0,534.0) rotate(437.68) translate(0,-281.88)" font-size="12.5" fill="#222" text-anchor="middle">40</text>
<circle cx="859.06" cy="476.89" r="8.9" fill="#f5f7f7"/>
<text x="859.06" y="481.29" font-size="12.3" fill="#111" text-anchor="middle">13</text>
<linearGradient id="rg0_12" gradientUnits="userSpaceOnUse" x1="819.64" y1="474.62" x2="824.67" y2="496.30"><stop offset="0" stop-color="#a82418"/><stop offset="0.042" stop-color="#da634f"/><stop offset="0.083" stop-color="#e78674"/><stop offset="0.125" stop-color="#efa798"/><stop offset="0.167" stop-color="#f6c6ba"/><stop offset="0.208" stop-color="#f7cabf"/><stop offset="0.250" stop-color="#f6c4b9"/><stop offset="0.292" stop-color="#fbe5e0"/><stop offset="0.333" stop-color="#fbe5e0"/><stop offset="0.375" stop-color="#fbe5e0"/><stop offset="0.417" stop-color="#f7cec3"/><stop offset="0.458" stop-color="#f6c7bb"/><stop offset="0.500" stop-color="#fbe5e0"/><stop offset="0.542" stop-color="#f7ccc1"/><stop offset="0.583" stop-color="#fbe5e0"/><stop offset="0.625" stop-color="#fbe5e0"/><stop offset="0.667" stop-color="#f6c7bb"/><stop offset="0.708" stop-color="#f6c8bd"/><stop offset="0.750" stop-color="#f6c8bd"/><stop offset="0.792" stop-color="#f3b8ab"/><stop offset="0.833" stop-color="#f0ac9e"/><stop offset="0.875" stop-color="#f1b2a4"/><stop offset="0.917" stop-color="#eb9585"/><stop offset="0.958" stop-color="#d2523e"/><stop offset="1" stop-color="#a82418"/></linearGradient>
<path d="M830.78,471.41 A226.6,226.6 0 0 1 836.09,494.26 L813.35,498.31 A203.5,203.5 0 0 0 808.58,477.79Z" fill="url(#rg0_12)"/>
<line x1="811.04" y1="487.17" x2="833.52" y2="481.85" stroke="#f8d5cd" stroke-width="0.6" opacity="0.8"/>
<line x1="812.31" y1="492.89" x2="834.93" y2="488.23" stroke="#fbe7e2" stroke-width="0.6" opacity="0.8"/>
<line x1="811.59" y1="489.58" x2="834.14" y2="484.54" stroke="#f4bcb0" stroke-width="0.6" opacity="0.8"/>
<line x1="811.76" y1="490.34" x2="834.32" y2="485.38" stroke="#fcefeb" stroke-width="0.6" opacity="0.8"/>
<line x1="812.24" y1="492.56" x2="834.85" y2="487.85" stroke="#f9dcd4" stroke-width="0.6" opacity="0.8"/>
<line x1="812.04" y1="491.62" x2="834.63" y2="486.81" stroke="#f6c6ba" stroke-width="0.6" opacity="0.8"/>
<line x1="811.04" y1="487.18" x2="833.52" y2="481.86" stroke="#f1b2a4" stroke-width="0.6" opacity="0.8"/>
<path d="M799.45,480.42 A194.0,194.0 0 0 1 803.99,499.98 L771.51,505.77 A161.0,161.0 0 0 0 767.74,489.53Z" fill="#f3f3f4"/>
<path d="M775.64,488.49 L777.17,488.45 L779.94,488.09 L781.11,488.17 L782.96,488.08 L783.93,488.22 L785.30,488.27 L784.77,488.82 L786.15,488.87 L785.64,489.42 L787.76,489.29 L788.07,489.63 L788.49,489.94 L787.01,490.72 L788.24,490.84 L788.27,491.25 L787.62,491.82 L787.91,492.16 L789.66,492.16 L789.49,492.62 L788.27,493.32 L789.62,493.42 L789.33,493.91 L788.84,494.43 L789.48,494.70 L788.64,495.30 L788.78,495.68 L788.21,496.22 L789.57,496.34 L789.31,496.81 L789.49,497.18 L788.71,497.76 L788.20,498.27 L787.42,498.84 L787.70,499.19 L786.10,499.91 L785.56,500.42 L784.66,500.99 L782.47,501.80 L781.20,502.44 L777.73,503.47" fill="none" stroke="#7068c4" stroke-width="0.65"/>
<path d="M774.94,489.29 L778.40,489.07 L781.07,489.09 L783.07,489.31 L784.53,489.68 L785.55,490.18 L786.24,490.76 L786.69,491.41 L786.99,492.10 L787.19,492.81 L787.37,493.53 L787.53,494.25 L787.66,494.98 L787.69,495.73 L787.57,496.51 L787.21,497.34 L786.51,498.24 L785.37,499.21 L783.67,500.29 L781.28,501.48 L778.08,502.81" fill="none" stroke="#8f8ad6" stroke-width="0.5"/>
<path d="M881.20,534.00 A268.2,268.2 0 0 1 878.34,573.04 L847.48,568.49 A237.0,237.0 0 0 0 850.00,534.00Z" fill="#c070a0"/>
<path d="M890.60,534.00 L887.60,534.00 A274.6,274.6 0 0 1 884.68,573.97 M887.42,543.97 L889.12,544.03 M886.88,553.92 L888.57,554.04 M885.97,563.85 L887.66,564.03" fill="none" stroke="#555" stroke-width="0.7"/>
<text transform="translate(613.0,534.0) rotate(89.80) translate(0,-282.19)" font-size="12.5" fill="#222" text-anchor="middle">0</text>
<text transform="translate(613.0,534.0) rotate(93.71) translate(0,-282.30)" font-size="12.5" fill="#222" text-anchor="middle">40</text>
<circle cx="864.93" cy="552.43" r="8.9" fill="#f5f7f7"/>
<text x="864.93" y="556.83" font-size="12.3" fill="#111" text-anchor="middle">1</text>
<linearGradient id="rg1_0" gradientUnits="userSpaceOnUse" x1="828.00" y1="534.00" x2="825.71" y2="565.29"><stop offset="0" stop-color="#a82418"/><stop offset="0.042" stop-color="#d3533f"/><stop offset="0.083" stop-color="#ec9c8c"/><stop offset="0.125" stop-color="#f3baad"/><stop offset="0.167" stop-color="#f6c8bd"/><stop offset="0.208" stop-color="#f4bcb0"/><stop offset="0.250" stop-color="#f7cfc5"/><stop offset="0.292" stop-color="#f7cbc0"/><stop offset="0.333" stop-color="#f6c6ba"/><stop offset="0.375" stop-color="#fbe5e0"/><stop offset="0.417" stop-color="#f6c7bc"/><stop offset="0.458" stop-color="#f7cbc0"/><stop offset="0.500" stop-color="#f7cbc1"/><stop offset="0.542" stop-color="#f6c7bb"/><stop offset="0.583" stop-color="#f8d5cc"/><stop offset="0.625" stop-color="#f6c4b8"/><stop offset="0.667" stop-color="#f8d3ca"/><stop offset="0.708" stop-color="#f8d1c8"/><stop offset="0.750" stop-color="#f7cfc5"/><stop offset="0.792" stop-color="#f6cabf"/><stop offset="0.833" stop-color="#f6c8bd"/><stop offset="0.875" stop-color="#f0ad9e"/><stop offset="0.917" stop-color="#eb9786"/><stop offset="0.958" stop-color="#d55844"/><stop offset="1" stop-color="#a82418"/></linearGradient>
<path d="M839.60,534.00 A226.6,226.6 0 0 1 837.19,566.98 L814.33,563.62 A203.5,203.5 0 0 0 816.50,534.00Z" fill="url(#rg1_0)"/>
<line x1="816.26" y1="543.89" x2="839.33" y2="545.02" stroke="#eea394" stroke-width="0.6" opacity="0.8"/>
<line x1="815.45" y1="554.69" x2="838.43" y2="557.04" stroke="#f6c4b8" stroke-width="0.6" opacity="0.8"/>
<line x1="816.22" y1="544.65" x2="839.29" y2="545.86" stroke="#f8d6ce" stroke-width="0.6" opacity="0.8"/>
<line x1="816.01" y1="548.12" x2="839.05" y2="549.73" stroke="#f8d6cd" stroke-width="0.6" opacity="0.8"/>
<line x1="816.35" y1="541.82" x2="839.43" y2="542.71" stroke="#f8d3ca" stroke-width="0.6" opacity="0.8"/>
<line x1="815.63" y1="552.81" x2="838.63" y2="554.95" stroke="#f6c4b8" stroke-width="0.6" opacity="0.8"/>
<line x1="815.50" y1="554.18" x2="838.48" y2="556.47" stroke="#f6c5b9" stroke-width="0.6" opacity="0.8"/>
<line x1="815.64" y1="552.74" x2="838.64" y2="554.87" stroke="#f0aea0" stroke-width="0.6" opacity="0.8"/>
<line x1="815.41" y1="555.02" x2="838.39" y2="557.41" stroke="#f3b8aa" stroke-width="0.6" opacity="0.8"/>
<line x1="816.04" y1="547.60" x2="839.09" y2="549.15" stroke="#f6c6ba" stroke-width="0.6" opacity="0.8"/>
<path d="M807.00,534.00 A194.0,194.0 0 0 1 804.93,562.24 L772.29,557.43 A161.0,161.0 0 0 0 774.00,534.00Z" fill="#f3f3f4"/>
<path d="M781.84,535.18 L784.56,535.76 L786.08,536.35 L787.09,536.94 L787.87,537.53 L789.27,538.14 L790.01,538.74 L791.68,539.38 L792.44,540.00 L791.60,540.56 L792.68,541.19 L793.59,541.83 L792.70,542.38 L792.20,542.95 L793.38,543.61 L792.86,544.18 L792.38,544.74 L792.67,545.36 L792.02,545.91 L792.29,546.52 L792.86,547.16 L792.11,547.70 L791.84,548.27 L792.98,548.96 L793.81,549.63 L793.46,550.20 L792.24,550.69 L793.42,551.40 L791.38,551.80 L791.29,552.39 L790.66,552.91 L790.36,553.47 L791.03,554.14 L790.72,554.70 L789.31,555.13 L789.04,555.69 L787.09,556.03 L786.70,556.56 L784.35,556.83 L782.24,557.12 L779.16,557.26" fill="none" stroke="#7068c4" stroke-width="0.65"/>
<path d="M780.99,535.76 L784.37,536.87 L786.92,538.00 L788.77,539.14 L790.05,540.29 L790.87,541.43 L791.35,542.57 L791.57,543.70 L791.63,544.82 L791.60,545.94 L791.52,547.06 L791.43,548.18 L791.31,549.29 L791.08,550.39 L790.70,551.48 L790.06,552.54 L789.08,553.55 L787.64,554.50 L785.65,555.36 L782.96,556.11 L779.46,556.71" fill="none" stroke="#8f8ad6" stroke-width="0.5"/>
<path d="M876.65,583.19 A268.2,268.2 0 0 1 867.08,619.88 L837.52,609.89 A237.0,237.0 0 0 0 845.98,577.47Z" fill="#c070a0"/>
<path d="M885.89,584.92 L882.94,584.37 A274.6,274.6 0 0 1 873.14,621.93 M880.94,594.13 L882.59,594.50 M878.58,603.82 L880.22,604.25 M875.87,613.41 L877.49,613.90" fill="none" stroke="#555" stroke-width="0.7"/>
<text transform="translate(613.0,534.0) rotate(100.37) translate(0,-282.47)" font-size="12.5" fill="#222" text-anchor="middle">0</text>
<text transform="translate(613.0,534.0) rotate(104.28) translate(0,-282.57)" font-size="12.5" fill="#222" text-anchor="middle">40</text>
<text transform="translate(613.0,534.0) rotate(107.74) translate(0,-282.66)" font-size="12.5" fill="#222" text-anchor="middle">80</text>
<circle cx="857.42" cy="597.77" r="8.9" fill="#f5f7f7"/>
<text x="857.42" y="602.17" font-size="12.3" fill="#111" text-anchor="middle">2</text>
<linearGradient id="rg1_1" gradientUnits="userSpaceOnUse" x1="824.35" y1="573.43" x2="816.68" y2="602.84"><stop offset="0" stop-color="#a82418"/><stop offset="0.042" stop-color="#da6450"/><stop offset="0.083" stop-color="#e68471"/><stop offset="0.125" stop-color="#f2b4a6"/><stop offset="0.167" stop-color="#f5c2b6"/><stop offset="0.208" stop-color="#f3bbae"/><stop offset="0.250" stop-color="#f7cfc6"/><stop offset="0.292" stop-color="#f6c9be"/><stop offset="0.333" stop-color="#f6c8bd"/><stop offset="0.375" stop-color="#f8d3ca"/><stop offset="0.417" stop-color="#f7cec4"/><stop offset="0.458" stop-color="#f6c7bb"/><stop offset="0.500" stop-color="#f8d1c7"/><stop offset="0.542" stop-color="#f8d4cb"/><stop offset="0.583" stop-color="#f8d4cb"/><stop offset="0.625" stop-color="#f6c5b9"/><stop offset="0.667" stop-color="#f8d3ca"/><stop offset="0.708" stop-color="#f7cbc0"/><stop offset="0.750" stop-color="#f7cec4"/><stop offset="0.792" stop-color="#f6c9bd"/><stop offset="0.833" stop-color="#f4bdb0"/><stop offset="0.875" stop-color="#f3b9ac"/><stop offset="0.917" stop-color="#e88977"/><stop offset="0.958" stop-color="#de6c58"/><stop offset="1" stop-color="#a82418"/></linearGradient>
<path d="M835.76,575.56 A226.6,226.6 0 0 1 827.67,606.56 L805.79,599.16 A203.5,203.5 0 0 0 813.05,571.33Z" fill="url(#rg1_1)"/>
<line x1="811.31" y1="579.65" x2="833.82" y2="584.83" stroke="#f9dcd5" stroke-width="0.6" opacity="0.8"/>
<line x1="808.25" y1="591.35" x2="830.41" y2="597.86" stroke="#faddd6" stroke-width="0.6" opacity="0.8"/>
<line x1="811.30" y1="579.72" x2="833.81" y2="584.91" stroke="#f9dad2" stroke-width="0.6" opacity="0.8"/>
<line x1="808.19" y1="591.54" x2="830.35" y2="598.08" stroke="#fceae5" stroke-width="0.6" opacity="0.8"/>
<line x1="810.47" y1="583.17" x2="832.88" y2="588.76" stroke="#fae2dc" stroke-width="0.6" opacity="0.8"/>
<line x1="809.23" y1="587.90" x2="831.51" y2="594.02" stroke="#f8d2c9" stroke-width="0.6" opacity="0.8"/>
<line x1="811.29" y1="579.76" x2="833.80" y2="584.95" stroke="#f1afa1" stroke-width="0.6" opacity="0.8"/>
<line x1="810.52" y1="582.97" x2="832.94" y2="588.53" stroke="#f6c4b9" stroke-width="0.6" opacity="0.8"/>
<line x1="810.08" y1="584.71" x2="832.45" y2="590.47" stroke="#f0ae9f" stroke-width="0.6" opacity="0.8"/>
<line x1="811.42" y1="579.19" x2="833.94" y2="584.32" stroke="#fae1db" stroke-width="0.6" opacity="0.8"/>
<path d="M803.71,569.58 A194.0,194.0 0 0 1 796.79,596.12 L765.52,585.55 A161.0,161.0 0 0 0 771.27,563.53Z" fill="#f3f3f4"/>
<path d="M777.96,565.97 L779.99,566.92 L782.95,568.07 L783.73,568.79 L784.61,569.54 L785.93,570.39 L787.44,571.28 L787.45,571.87 L787.65,572.49 L788.41,573.25 L788.53,573.87 L788.21,574.38 L788.30,574.99 L787.66,575.43 L788.27,576.16 L789.12,576.96 L787.79,577.23 L787.79,577.82 L788.16,578.51 L787.99,579.06 L786.96,579.38 L787.39,580.09 L787.86,580.81 L786.23,580.97 L786.21,581.56 L787.40,582.48 L787.52,583.11 L785.51,583.14 L785.26,583.66 L786.07,584.50 L784.94,584.76 L785.23,585.44 L783.31,585.46 L783.48,586.11 L781.98,586.24 L781.30,586.62 L780.82,587.06 L778.98,587.06 L778.00,587.32 L776.00,587.25 L773.25,586.92" fill="none" stroke="#7068c4" stroke-width="0.65"/>
<path d="M777.82,566.54 L780.94,568.21 L783.25,569.75 L784.87,571.17 L785.93,572.50 L786.54,573.73 L786.81,574.90 L786.83,576.01 L786.70,577.09 L786.47,578.14 L786.20,579.19 L785.92,580.23 L785.61,581.26 L785.20,582.27 L784.64,583.23 L783.83,584.11 L782.69,584.89 L781.12,585.53 L779.02,585.98 L776.25,586.19 L772.71,586.12" fill="none" stroke="#8f8ad6" stroke-width="0.5"/>
<path d="M863.60,629.57 A268.2,268.2 0 0 1 849.50,660.48 L821.99,645.77 A237.0,237.0 0 0 0 834.44,618.45Z" fill="#c070a0"/>
<path d="M872.38,632.92 L869.58,631.85 A274.6,274.6 0 0 1 855.15,663.50 M865.86,641.09 L867.42,641.76 M861.80,650.20 L863.34,650.92 M857.42,659.16 L858.93,659.93" fill="none" stroke="#555" stroke-width="0.7"/>
<text transform="translate(613.0,534.0) rotate(110.67) translate(0,-282.73)" font-size="12.5" fill="#222" text-anchor="middle">0</text>
<text transform="translate(613.0,534.0) rotate(114.58) translate(0,-282.82)" font-size="12.5" fill="#222" text-anchor="middle">40</text>
<circle cx="842.84" cy="638.78" r="8.9" fill="#f5f7f7"/>
<text x="842.84" y="643.18" font-size="12.3" fill="#111" text-anchor="middle">3</text>
<linearGradient id="rg1_2" gradientUnits="userSpaceOnUse" x1="813.89" y1="610.61" x2="802.59" y2="635.39"><stop offset="0" stop-color="#a82418"/><stop offset="0.042" stop-color="#e06f5b"/><stop offset="0.083" stop-color="#e9907f"/><stop offset="0.125" stop-color="#f1b1a3"/><stop offset="0.167" stop-color="#f2b7a9"/><stop offset="0.208" stop-color="#f7cbc1"/><stop offset="0.250" stop-color="#f4bfb2"/><stop offset="0.292" stop-color="#f7ccc2"/><stop offset="0.333" stop-color="#f6c4b8"/><stop offset="0.375" stop-color="#f7cec4"/><stop offset="0.417" stop-color="#fbe5e0"/><stop offset="0.458" stop-color="#f6c9be"/><stop offset="0.500" stop-color="#f7cec4"/><stop offset="0.542" stop-color="#f8d3ca"/><stop offset="0.583" stop-color="#f6c5b9"/><stop offset="0.625" stop-color="#f8d0c7"/><stop offset="0.667" stop-color="#f7ccc2"/><stop offset="0.708" stop-color="#f7cbc0"/><stop offset="0.750" stop-color="#f8d0c6"/><stop offset="0.792" stop-color="#f3baae"/><stop offset="0.833" stop-color="#f2b6a8"/><stop offset="0.875" stop-color="#f2b3a6"/><stop offset="0.917" stop-color="#e9907e"/><stop offset="0.958" stop-color="#d85e4a"/><stop offset="1" stop-color="#a82418"/></linearGradient>
<path d="M824.73,614.74 A226.6,226.6 0 0 1 812.82,640.86 L792.45,629.97 A203.5,203.5 0 0 0 803.14,606.51Z" fill="url(#rg1_2)"/>
<line x1="795.96" y1="623.09" x2="816.73" y2="633.20" stroke="#f3baac" stroke-width="0.6" opacity="0.8"/>
<line x1="799.19" y1="616.13" x2="820.32" y2="625.46" stroke="#f9dad2" stroke-width="0.6" opacity="0.8"/>
<line x1="797.56" y1="619.72" x2="818.52" y2="629.45" stroke="#fbe5df" stroke-width="0.6" opacity="0.8"/>
<line x1="795.77" y1="623.47" x2="816.52" y2="633.63" stroke="#fcede8" stroke-width="0.6" opacity="0.8"/>
<line x1="798.17" y1="618.41" x2="819.19" y2="627.99" stroke="#faded7" stroke-width="0.6" opacity="0.8"/>
<line x1="798.03" y1="618.72" x2="819.03" y2="628.33" stroke="#fcede8" stroke-width="0.6" opacity="0.8"/>
<line x1="799.61" y1="615.16" x2="820.80" y2="624.37" stroke="#ed9f8f" stroke-width="0.6" opacity="0.8"/>
<line x1="796.60" y1="621.78" x2="817.44" y2="631.74" stroke="#fae2db" stroke-width="0.6" opacity="0.8"/>
<line x1="798.40" y1="617.89" x2="819.45" y2="627.42" stroke="#fcede9" stroke-width="0.6" opacity="0.8"/>
<path d="M794.27,603.13 A194.0,194.0 0 0 1 784.07,625.49 L754.97,609.93 A161.0,161.0 0 0 0 763.43,591.37Z" fill="#f3f3f4"/>
<path d="M769.24,594.84 L771.28,596.15 L774.50,597.93 L774.44,598.44 L775.37,599.34 L775.85,600.07 L776.61,600.91 L778.90,602.40 L778.73,602.88 L779.32,603.67 L779.27,604.21 L779.21,604.73 L778.11,604.81 L777.85,605.25 L777.93,605.84 L777.36,606.14 L777.40,606.72 L778.30,607.67 L777.64,607.93 L776.47,607.96 L776.85,608.69 L777.73,609.65 L777.51,610.12 L777.05,610.47 L776.83,610.93 L776.94,611.55 L775.97,611.65 L775.34,611.91 L775.38,612.49 L774.41,612.59 L773.47,612.69 L773.38,613.21 L773.14,613.65 L771.72,613.51 L770.76,613.58 L770.05,613.78 L769.06,613.83 L768.79,614.25 L766.21,613.47 L764.99,613.38 L762.61,612.68" fill="none" stroke="#7068c4" stroke-width="0.65"/>
<path d="M769.34,595.50 L772.16,597.59 L774.20,599.40 L775.59,600.96 L776.45,602.33 L776.89,603.53 L777.00,604.61 L776.88,605.59 L776.62,606.50 L776.26,607.38 L775.87,608.25 L775.48,609.11 L775.04,609.95 L774.53,610.75 L773.87,611.49 L772.98,612.10 L771.79,612.57 L770.19,612.81 L768.10,612.79 L765.39,612.44 L761.97,611.67" fill="none" stroke="#8f8ad6" stroke-width="0.5"/>
<path d="M844.47,669.47 A268.2,268.2 0 0 1 826.39,696.47 L801.56,677.57 A237.0,237.0 0 0 0 817.54,653.71Z" fill="#c070a0"/>
<path d="M852.59,674.22 L850.00,672.70 A274.6,274.6 0 0 1 831.48,700.35 M844.81,681.21 L846.24,682.12 M839.31,689.53 L840.71,690.49 M833.52,697.64 L834.88,698.65" fill="none" stroke="#555" stroke-width="0.7"/>
<text transform="translate(613.0,534.0) rotate(120.14) translate(0,-282.95)" font-size="12.5" fill="#222" text-anchor="middle">0</text>
<text transform="translate(613.0,534.0) rotate(124.05) translate(0,-283.04)" font-size="12.5" fill="#222" text-anchor="middle">40</text>
<circle cx="822.88" cy="674.56" r="8.9" fill="#f5f7f7"/>
<text x="822.88" y="678.96" font-size="12.3" fill="#111" text-anchor="middle">4</text>
<linearGradient id="rg1_3" gradientUnits="userSpaceOnUse" x1="798.56" y1="642.60" x2="784.06" y2="664.25"><stop offset="0" stop-color="#a82418"/><stop offset="0.042" stop-color="#dd6955"/><stop offset="0.083" stop-color="#ea9382"/><stop offset="0.125" stop-color="#f1b1a3"/><stop offset="0.167" stop-color="#f2b6a9"/><stop offset="0.208" stop-color="#f3b9ac"/><stop offset="0.250" stop-color="#f5c2b6"/><stop offset="0.292" stop-color="#fbe5e0"/><stop offset="0.333" stop-color="#f8d4cb"/><stop offset="0.375" stop-color="#fbe5e0"/><stop offset="0.417" stop-color="#f8d0c6"/><stop offset="0.458" stop-color="#f8d2c9"/><stop offset="0.500" stop-color="#f7ccc1"/><stop offset="0.542" stop-color="#f6c9be"/><stop offset="0.583" stop-color="#fbe5e0"/><stop offset="0.625" stop-color="#f7cbc0"/><stop offset="0.667" stop-color="#f6c7bc"/><stop offset="0.708" stop-color="#f5c3b7"/><stop offset="0.750" stop-color="#f6c5b9"/><stop offset="0.792" stop-color="#f7ccc2"/><stop offset="0.833" stop-color="#f6c5b9"/><stop offset="0.875" stop-color="#f0ab9d"/><stop offset="0.917" stop-color="#e98e7c"/><stop offset="0.958" stop-color="#e1735f"/><stop offset="1" stop-color="#a82418"/></linearGradient>
<path d="M808.57,648.46 A226.6,226.6 0 0 1 793.29,671.27 L774.91,657.28 A203.5,203.5 0 0 0 788.63,636.79Z" fill="url(#rg1_3)"/>
<line x1="783.13" y1="645.66" x2="802.44" y2="658.34" stroke="#f8d2c8" stroke-width="0.6" opacity="0.8"/>
<line x1="781.93" y1="647.47" x2="801.11" y2="660.35" stroke="#f1b2a4" stroke-width="0.6" opacity="0.8"/>
<line x1="783.43" y1="645.21" x2="802.77" y2="657.83" stroke="#f7ccc2" stroke-width="0.6" opacity="0.8"/>
<line x1="781.35" y1="648.32" x2="800.46" y2="661.30" stroke="#f6c6bb" stroke-width="0.6" opacity="0.8"/>
<line x1="783.36" y1="645.31" x2="802.70" y2="657.94" stroke="#faded7" stroke-width="0.6" opacity="0.8"/>
<line x1="782.28" y1="646.94" x2="801.50" y2="659.76" stroke="#f6cabf" stroke-width="0.6" opacity="0.8"/>
<line x1="781.08" y1="648.72" x2="800.16" y2="661.74" stroke="#fbe7e2" stroke-width="0.6" opacity="0.8"/>
<line x1="782.45" y1="646.69" x2="801.69" y2="659.48" stroke="#f7ccc2" stroke-width="0.6" opacity="0.8"/>
<line x1="784.15" y1="644.09" x2="803.58" y2="656.59" stroke="#fbe9e4" stroke-width="0.6" opacity="0.8"/>
<path d="M780.43,631.99 A194.0,194.0 0 0 1 767.35,651.52 L741.09,631.53 A161.0,161.0 0 0 0 751.95,615.32Z" fill="#f3f3f4"/>
<path d="M758.64,620.61 L758.60,621.11 L760.90,623.03 L761.65,624.02 L762.06,624.82 L763.22,626.08 L763.55,626.84 L764.38,627.91 L765.57,629.22 L764.16,628.90 L764.70,629.81 L765.30,630.76 L765.06,631.18 L763.79,630.94 L763.99,631.64 L763.86,632.13 L764.75,633.29 L763.66,633.16 L763.06,633.34 L763.20,634.02 L762.94,634.42 L762.06,634.41 L762.73,635.45 L762.55,635.92 L761.83,636.01 L761.64,636.47 L761.74,637.13 L761.73,637.71 L760.73,637.60 L759.28,637.17 L759.62,638.00 L759.34,638.39 L758.10,638.09 L757.97,638.59 L756.53,638.14 L755.95,638.31 L754.76,638.03 L753.50,637.68 L752.38,637.43 L750.19,636.38 L748.14,635.41" fill="none" stroke="#7068c4" stroke-width="0.65"/>
<path d="M757.10,620.37 L759.56,622.85 L761.31,624.93 L762.45,626.66 L763.10,628.11 L763.36,629.33 L763.32,630.36 L763.07,631.27 L762.68,632.09 L762.22,632.86 L761.73,633.61 L761.22,634.35 L760.69,635.07 L760.08,635.74 L759.33,636.32 L758.39,636.75 L757.16,636.97 L755.58,636.92 L753.54,636.53 L750.96,635.70 L747.72,634.37" fill="none" stroke="#8f8ad6" stroke-width="0.5"/>
<path d="M819.99,704.55 A268.2,268.2 0 0 1 797.66,728.50 L776.18,705.88 A237.0,237.0 0 0 0 795.91,684.71Z" fill="#c070a0"/>
<path d="M827.25,710.52 L824.93,708.62 A274.6,274.6 0 0 1 802.07,733.14 M818.45,716.19 L819.73,717.32 M811.71,723.53 L812.94,724.70 M804.70,730.62 L805.88,731.83" fill="none" stroke="#555" stroke-width="0.7"/>
<text transform="translate(613.0,534.0) rotate(129.29) translate(0,-283.15)" font-size="12.5" fill="#222" text-anchor="middle">0</text>
<text transform="translate(613.0,534.0) rotate(133.20) translate(0,-283.23)" font-size="12.5" fill="#222" text-anchor="middle">40</text>
<circle cx="797.78" cy="706.23" r="8.9" fill="#f5f7f7"/>
<text x="797.78" y="710.63" font-size="12.3" fill="#111" text-anchor="middle">5</text>
<linearGradient id="rg1_4" gradientUnits="userSpaceOnUse" x1="778.93" y1="670.72" x2="761.03" y2="689.92"><stop offset="0" stop-color="#a82418"/><stop offset="0.042" stop-color="#df6d59"/><stop offset="0.083" stop-color="#e88b7a"/><stop offset="0.125" stop-color="#efa697"/><stop offset="0.167" stop-color="#f6c7bc"/><stop offset="0.208" stop-color="#f4bdb0"/><stop offset="0.250" stop-color="#f7cdc2"/><stop offset="0.292" stop-color="#f7cabf"/><stop offset="0.333" stop-color="#f6c7bc"/><stop offset="0.375" stop-color="#f7cdc2"/><stop offset="0.417" stop-color="#f7cec4"/><stop offset="0.458" stop-color="#f6c4b9"/><stop offset="0.500" stop-color="#f6c9bf"/><stop offset="0.542" stop-color="#f8d4cb"/><stop offset="0.583" stop-color="#f7cabf"/><stop offset="0.625" stop-color="#f6c7bc"/><stop offset="0.667" stop-color="#f8d2c8"/><stop offset="0.708" stop-color="#f6c8bd"/><stop offset="0.750" stop-color="#f4bcaf"/><stop offset="0.792" stop-color="#f3bbae"/><stop offset="0.833" stop-color="#f1afa1"/><stop offset="0.875" stop-color="#f3baad"/><stop offset="0.917" stop-color="#ea9281"/><stop offset="0.958" stop-color="#d1503c"/><stop offset="1" stop-color="#a82418"/></linearGradient>
<path d="M787.89,678.09 A226.6,226.6 0 0 1 769.02,698.33 L753.12,681.58 A203.5,203.5 0 0 0 770.06,663.40Z" fill="url(#rg1_4)"/>
<line x1="759.68" y1="675.06" x2="776.32" y2="691.08" stroke="#f9dbd3" stroke-width="0.6" opacity="0.8"/>
<line x1="759.56" y1="675.19" x2="776.19" y2="691.21" stroke="#f7cec4" stroke-width="0.6" opacity="0.8"/>
<line x1="760.44" y1="674.27" x2="777.17" y2="690.19" stroke="#f6c7bc" stroke-width="0.6" opacity="0.8"/>
<line x1="758.73" y1="676.04" x2="775.27" y2="692.16" stroke="#f5c2b6" stroke-width="0.6" opacity="0.8"/>
<line x1="757.82" y1="676.97" x2="774.25" y2="693.20" stroke="#f8d0c7" stroke-width="0.6" opacity="0.8"/>
<line x1="761.92" y1="672.69" x2="778.82" y2="688.44" stroke="#f6c6bb" stroke-width="0.6" opacity="0.8"/>
<line x1="761.34" y1="673.31" x2="778.18" y2="689.13" stroke="#fcece8" stroke-width="0.6" opacity="0.8"/>
<line x1="757.91" y1="676.87" x2="774.36" y2="693.09" stroke="#f9dbd4" stroke-width="0.6" opacity="0.8"/>
<line x1="761.87" y1="672.75" x2="778.77" y2="688.50" stroke="#fcede8" stroke-width="0.6" opacity="0.8"/>
<path d="M762.73,657.36 A194.0,194.0 0 0 1 746.57,674.69 L723.85,650.76 A161.0,161.0 0 0 0 737.26,636.38Z" fill="#f3f3f4"/>
<path d="M741.77,641.62 L744.43,644.44 L744.49,645.10 L745.45,646.53 L747.03,648.49 L746.61,648.77 L747.70,650.34 L747.78,651.04 L748.45,652.27 L747.78,652.33 L747.47,652.71 L747.23,653.14 L747.22,653.78 L746.39,653.69 L746.33,654.28 L746.08,654.72 L746.05,655.35 L746.46,656.39 L746.42,657.01 L745.14,656.49 L744.64,656.69 L744.37,657.11 L744.58,657.98 L744.00,658.10 L743.08,657.90 L743.37,658.85 L742.59,658.78 L741.99,658.88 L742.57,660.12 L741.03,659.30 L741.03,659.98 L740.95,660.58 L739.94,660.26 L739.70,660.70 L737.97,659.65 L737.96,660.32 L735.44,658.45 L735.47,659.15 L733.28,657.59 L730.98,655.88 L729.50,655.00" fill="none" stroke="#7068c4" stroke-width="0.65"/>
<path d="M741.53,642.18 L743.57,645.03 L744.95,647.36 L745.80,649.26 L746.20,650.80 L746.26,652.05 L746.05,653.07 L745.66,653.93 L745.14,654.69 L744.56,655.38 L743.94,656.05 L743.32,656.71 L742.67,657.34 L741.96,657.91 L741.12,658.36 L740.12,658.64 L738.87,658.67 L737.30,658.38 L735.35,657.67 L732.92,656.45 L729.94,654.62" fill="none" stroke="#8f8ad6" stroke-width="0.5"/>
<path d="M790.06,735.45 A268.2,268.2 0 0 1 764.39,755.39 L746.78,729.63 A237.0,237.0 0 0 0 769.46,712.01Z" fill="#c070a0"/>
<path d="M796.27,742.51 L794.29,740.25 A274.6,274.6 0 0 1 768.00,760.67 M786.68,746.70 L787.75,748.01 M778.85,752.86 L779.87,754.22 M770.79,758.74 L771.77,760.13" fill="none" stroke="#555" stroke-width="0.7"/>
<text transform="translate(613.0,534.0) rotate(138.49) translate(0,-283.32)" font-size="12.5" fill="#222" text-anchor="middle">0</text>
<text transform="translate(613.0,534.0) rotate(142.40) translate(0,-283.39)" font-size="12.5" fill="#222" text-anchor="middle">40</text>
<circle cx="767.96" cy="733.49" r="8.9" fill="#f5f7f7"/>
<text x="767.96" y="737.89" font-size="12.3" fill="#111" text-anchor="middle">6</text>
<linearGradient id="rg1_5" gradientUnits="userSpaceOnUse" x1="754.94" y1="695.49" x2="734.36" y2="711.47"><stop offset="0" stop-color="#a82418"/><stop offset="0.042" stop-color="#d55844"/><stop offset="0.083" stop-color="#e78775"/><stop offset="0.125" stop-color="#ed9f8f"/><stop offset="0.167" stop-color="#f6c8bd"/><stop offset="0.208" stop-color="#f6c8bd"/><stop offset="0.250" stop-color="#f6c9bd"/><stop offset="0.292" stop-color="#f5c2b6"/><stop offset="0.333" stop-color="#f8d1c8"/><stop offset="0.375" stop-color="#f7cbc1"/><stop offset="0.417" stop-color="#f8d4cb"/><stop offset="0.458" stop-color="#f7cdc2"/><stop offset="0.500" stop-color="#f8d1c7"/><stop offset="0.542" stop-color="#f7cdc3"/><stop offset="0.583" stop-color="#f6c8bd"/><stop offset="0.625" stop-color="#fbe5e0"/><stop offset="0.667" stop-color="#f7d0c6"/><stop offset="0.708" stop-color="#f6c8bd"/><stop offset="0.750" stop-color="#f6c5b9"/><stop offset="0.792" stop-color="#f5c0b3"/><stop offset="0.833" stop-color="#f3baad"/><stop offset="0.875" stop-color="#f1afa1"/><stop offset="0.917" stop-color="#ec9c8c"/><stop offset="0.958" stop-color="#e27561"/><stop offset="1" stop-color="#a82418"/></linearGradient>
<path d="M762.60,704.20 A226.6,226.6 0 0 1 740.91,721.05 L727.87,701.98 A203.5,203.5 0 0 0 747.35,686.85Z" fill="url(#rg1_5)"/>
<line x1="738.76" y1="693.99" x2="753.03" y2="712.15" stroke="#fcefeb" stroke-width="0.6" opacity="0.8"/>
<line x1="736.13" y1="696.02" x2="750.11" y2="714.41" stroke="#f9dad2" stroke-width="0.6" opacity="0.8"/>
<line x1="740.42" y1="692.67" x2="754.88" y2="710.68" stroke="#f9dcd4" stroke-width="0.6" opacity="0.8"/>
<line x1="737.91" y1="694.66" x2="752.09" y2="712.89" stroke="#fae2dc" stroke-width="0.6" opacity="0.8"/>
<line x1="734.38" y1="697.34" x2="748.15" y2="715.88" stroke="#f8d1c8" stroke-width="0.6" opacity="0.8"/>
<line x1="742.00" y1="691.39" x2="756.64" y2="709.26" stroke="#fceae5" stroke-width="0.6" opacity="0.8"/>
<line x1="734.00" y1="697.62" x2="747.74" y2="716.19" stroke="#f7cbc1" stroke-width="0.6" opacity="0.8"/>
<line x1="739.86" y1="693.12" x2="754.26" y2="711.18" stroke="#f5c2b6" stroke-width="0.6" opacity="0.8"/>
<line x1="742.21" y1="691.21" x2="756.88" y2="709.06" stroke="#f0ac9d" stroke-width="0.6" opacity="0.8"/>
<path d="M741.07,679.71 A194.0,194.0 0 0 1 722.51,694.14 L703.88,666.90 A161.0,161.0 0 0 0 719.29,654.93Z" fill="#f3f3f4"/>
<path d="M723.98,662.06 L724.70,663.59 L724.71,664.31 L725.94,666.46 L727.04,668.48 L727.06,669.23 L726.74,669.59 L726.88,670.51 L726.65,670.97 L727.22,672.41 L726.59,672.40 L726.75,673.36 L727.12,674.57 L726.83,674.99 L725.94,674.66 L725.99,675.50 L724.74,674.70 L725.48,676.42 L724.99,676.58 L724.09,676.22 L724.25,677.22 L723.07,676.49 L723.61,677.98 L722.34,677.12 L722.75,678.45 L722.23,678.57 L721.94,679.00 L721.22,678.86 L719.90,677.89 L719.67,678.39 L719.62,679.14 L719.36,679.59 L718.40,679.10 L716.84,677.76 L716.42,677.99 L715.50,677.52 L714.25,676.57 L713.15,675.83 L712.22,675.31 L710.57,673.76 L708.79,672.00" fill="none" stroke="#7068c4" stroke-width="0.65"/>
<path d="M722.58,661.34 L724.14,664.47 L725.14,666.99 L725.68,669.00 L725.84,670.57 L725.70,671.81 L725.34,672.78 L724.82,673.57 L724.20,674.22 L723.51,674.81 L722.81,675.36 L722.10,675.91 L721.36,676.42 L720.57,676.87 L719.68,677.18 L718.65,677.29 L717.42,677.12 L715.93,676.57 L714.12,675.55 L711.93,673.96 L709.28,671.68" fill="none" stroke="#8f8ad6" stroke-width="0.5"/>
<path d="M755.78,761.03 A268.2,268.2 0 0 1 728.38,776.11 L714.96,747.95 A237.0,237.0 0 0 0 739.17,734.62Z" fill="#c070a0"/>
<path d="M760.79,768.99 L759.19,766.45 A274.6,274.6 0 0 1 731.14,781.89 M750.66,771.60 L751.51,773.08 M741.94,776.44 L742.74,777.95 M733.06,780.96 L733.80,782.49" fill="none" stroke="#555" stroke-width="0.7"/>
<text transform="translate(613.0,534.0) rotate(147.63) translate(0,-283.47)" font-size="12.5" fill="#222" text-anchor="middle">0</text>
<text transform="translate(613.0,534.0) rotate(151.54) translate(0,-283.52)" font-size="12.5" fill="#222" text-anchor="middle">40</text>
<circle cx="734.78" cy="755.31" r="8.9" fill="#f5f7f7"/>
<text x="734.78" y="759.71" font-size="12.3" fill="#111" text-anchor="middle">7</text>
<linearGradient id="rg1_6" gradientUnits="userSpaceOnUse" x1="727.46" y1="716.00" x2="705.50" y2="728.09"><stop offset="0" stop-color="#a82418"/><stop offset="0.042" stop-color="#d04f3b"/><stop offset="0.083" stop-color="#e88c7a"/><stop offset="0.125" stop-color="#eda192"/><stop offset="0.167" stop-color="#f0ac9d"/><stop offset="0.208" stop-color="#f7cdc3"/><stop offset="0.250" stop-color="#f4bfb2"/><stop offset="0.292" stop-color="#f8d1c8"/><stop offset="0.333" stop-color="#f6c7bc"/><stop offset="0.375" stop-color="#f7cabf"/><stop offset="0.417" stop-color="#f6c9be"/><stop offset="0.458" stop-color="#f8d2c9"/><stop offset="0.500" stop-color="#fbe5e0"/><stop offset="0.542" stop-color="#f6c5b9"/><stop offset="0.583" stop-color="#f7cfc5"/><stop offset="0.625" stop-color="#f7d0c6"/><stop offset="0.667" stop-color="#f7cbc1"/><stop offset="0.708" stop-color="#f5c3b7"/><stop offset="0.750" stop-color="#f7d0c6"/><stop offset="0.792" stop-color="#f6c5ba"/><stop offset="0.833" stop-color="#f6c4b8"/><stop offset="0.875" stop-color="#eea596"/><stop offset="0.917" stop-color="#ea9584"/><stop offset="0.958" stop-color="#dd6a56"/><stop offset="1" stop-color="#a82418"/></linearGradient>
<path d="M733.64,725.82 A226.6,226.6 0 0 1 710.49,738.56 L700.55,717.70 A203.5,203.5 0 0 0 721.34,706.27Z" fill="url(#rg1_6)"/>
<line x1="709.99" y1="712.90" x2="721.00" y2="733.21" stroke="#f7d0c6" stroke-width="0.6" opacity="0.8"/>
<line x1="711.24" y1="712.22" x2="722.39" y2="732.45" stroke="#f6c5b9" stroke-width="0.6" opacity="0.8"/>
<line x1="711.39" y1="712.14" x2="722.56" y2="732.36" stroke="#eea495" stroke-width="0.6" opacity="0.8"/>
<line x1="711.75" y1="711.94" x2="722.96" y2="732.13" stroke="#f3b8ab" stroke-width="0.6" opacity="0.8"/>
<line x1="706.60" y1="714.70" x2="717.23" y2="735.21" stroke="#f6c8bd" stroke-width="0.6" opacity="0.8"/>
<line x1="710.18" y1="712.80" x2="721.21" y2="733.09" stroke="#f3b8ab" stroke-width="0.6" opacity="0.8"/>
<line x1="708.90" y1="713.49" x2="719.78" y2="733.86" stroke="#fbe3dd" stroke-width="0.6" opacity="0.8"/>
<line x1="711.97" y1="711.81" x2="723.21" y2="731.99" stroke="#fbe6e0" stroke-width="0.6" opacity="0.8"/>
<path d="M716.28,698.22 A194.0,194.0 0 0 1 696.46,709.13 L682.26,679.34 A161.0,161.0 0 0 0 698.71,670.29Z" fill="#f3f3f4"/>
<path d="M701.15,676.36 L702.72,679.73 L702.93,680.91 L703.30,682.38 L703.36,683.33 L703.55,684.52 L704.36,686.76 L704.00,687.04 L703.99,687.92 L704.09,689.00 L704.13,689.98 L703.63,690.04 L702.79,689.52 L703.30,691.33 L702.05,690.09 L702.11,691.12 L701.79,691.49 L701.01,691.05 L701.25,692.44 L700.54,692.13 L700.24,692.54 L699.23,691.66 L699.56,693.22 L698.58,692.39 L698.51,693.24 L698.21,693.66 L697.35,693.03 L696.84,693.06 L696.44,693.29 L696.60,694.60 L695.75,693.96 L694.99,693.50 L694.46,693.48 L693.88,693.35 L692.75,692.12 L691.75,691.14 L690.88,690.41 L690.34,690.33 L689.24,689.12 L688.38,688.36 L686.67,685.84" fill="none" stroke="#7068c4" stroke-width="0.65"/>
<path d="M700.94,677.14 L702.02,680.46 L702.64,683.09 L702.89,685.13 L702.83,686.69 L702.54,687.87 L702.06,688.76 L701.46,689.43 L700.78,689.96 L700.05,690.41 L699.30,690.82 L698.54,691.23 L697.77,691.61 L696.96,691.90 L696.07,692.05 L695.07,691.98 L693.92,691.60 L692.57,690.81 L690.97,689.51 L689.09,687.58 L686.86,684.89" fill="none" stroke="#8f8ad6" stroke-width="0.5"/>
<path d="M719.00,780.36 A268.2,268.2 0 0 1 690.08,790.89 L681.11,761.00 A237.0,237.0 0 0 0 706.67,751.70Z" fill="#c070a0"/>
<path d="M722.72,789.00 L721.53,786.24 A274.6,274.6 0 0 1 691.92,797.02 M712.31,790.01 L712.92,791.60 M702.95,793.45 L703.51,795.06 M693.47,796.54 L693.97,798.17" fill="none" stroke="#555" stroke-width="0.7"/>
<text transform="translate(613.0,534.0) rotate(156.52) translate(0,-283.58)" font-size="12.5" fill="#222" text-anchor="middle">0</text>
<text transform="translate(613.0,534.0) rotate(160.43) translate(0,-283.61)" font-size="12.5" fill="#222" text-anchor="middle">40</text>
<circle cx="699.36" cy="771.38" r="8.9" fill="#f5f7f7"/>
<text x="699.36" y="775.78" font-size="12.3" fill="#111" text-anchor="middle">8</text>
<linearGradient id="rg1_7" gradientUnits="userSpaceOnUse" x1="697.98" y1="731.49" x2="674.79" y2="739.93"><stop offset="0" stop-color="#a82418"/><stop offset="0.042" stop-color="#d04d39"/><stop offset="0.083" stop-color="#e9907e"/><stop offset="0.125" stop-color="#f0ad9f"/><stop offset="0.167" stop-color="#f4bcaf"/><stop offset="0.208" stop-color="#f6c7bb"/><stop offset="0.250" stop-color="#f5c3b7"/><stop offset="0.292" stop-color="#fbe5e0"/><stop offset="0.333" stop-color="#f5c3b7"/><stop offset="0.375" stop-color="#f6c8bd"/><stop offset="0.417" stop-color="#f7cbc1"/><stop offset="0.458" stop-color="#fbe5e0"/><stop offset="0.500" stop-color="#f6c9be"/><stop offset="0.542" stop-color="#f8d4ca"/><stop offset="0.583" stop-color="#f6c8bd"/><stop offset="0.625" stop-color="#fbe5e0"/><stop offset="0.667" stop-color="#f6c7bb"/><stop offset="0.708" stop-color="#f6c7bc"/><stop offset="0.750" stop-color="#f7ccc1"/><stop offset="0.792" stop-color="#f7cdc3"/><stop offset="0.833" stop-color="#f3b8ab"/><stop offset="0.875" stop-color="#eda090"/><stop offset="0.917" stop-color="#e88c7b"/><stop offset="0.958" stop-color="#d04d39"/><stop offset="1" stop-color="#a82418"/></linearGradient>
<path d="M702.56,742.15 A226.6,226.6 0 0 1 678.12,751.04 L671.48,728.92 A203.5,203.5 0 0 0 693.43,720.93Z" fill="url(#rg1_7)"/>
<line x1="680.03" y1="726.14" x2="687.64" y2="747.95" stroke="#f8d4cb" stroke-width="0.6" opacity="0.8"/>
<line x1="681.69" y1="725.56" x2="689.49" y2="747.30" stroke="#f9ddd5" stroke-width="0.6" opacity="0.8"/>
<line x1="685.52" y1="724.14" x2="693.76" y2="745.72" stroke="#f7cdc3" stroke-width="0.6" opacity="0.8"/>
<line x1="681.39" y1="725.66" x2="689.15" y2="747.42" stroke="#efa99a" stroke-width="0.6" opacity="0.8"/>
<line x1="681.43" y1="725.65" x2="689.20" y2="747.40" stroke="#f8d0c6" stroke-width="0.6" opacity="0.8"/>
<line x1="680.91" y1="725.83" x2="688.62" y2="747.61" stroke="#f6c8bd" stroke-width="0.6" opacity="0.8"/>
<line x1="683.58" y1="724.87" x2="691.59" y2="746.53" stroke="#fadfd8" stroke-width="0.6" opacity="0.8"/>
<line x1="680.57" y1="725.96" x2="688.24" y2="747.75" stroke="#f9d7cf" stroke-width="0.6" opacity="0.8"/>
<path d="M689.68,712.20 A194.0,194.0 0 0 1 668.75,719.82 L659.27,688.21 A161.0,161.0 0 0 0 676.63,681.89Z" fill="#f3f3f4"/>
<path d="M678.12,688.30 L678.70,690.79 L679.20,693.09 L679.69,695.41 L679.77,696.77 L679.64,697.63 L679.84,699.31 L679.30,699.17 L679.12,699.93 L679.19,701.34 L678.84,701.68 L678.30,701.57 L678.32,702.86 L677.26,701.37 L677.26,702.65 L677.11,703.53 L676.70,703.76 L675.75,702.51 L675.80,703.94 L675.16,703.54 L675.04,704.52 L674.15,703.42 L673.97,704.27 L673.53,704.37 L673.35,705.24 L672.43,704.01 L672.02,704.22 L671.38,703.74 L671.31,704.93 L670.38,703.62 L670.42,705.14 L669.39,703.49 L668.85,703.29 L668.76,704.46 L667.79,702.95 L667.26,702.76 L666.22,700.97 L665.33,699.60 L664.51,698.46 L663.93,698.06 L662.35,694.40" fill="none" stroke="#7068c4" stroke-width="0.65"/>
<path d="M677.78,689.01 L678.35,692.45 L678.57,695.13 L678.51,697.18 L678.23,698.71 L677.77,699.83 L677.18,700.62 L676.50,701.18 L675.76,701.60 L674.98,701.92 L674.20,702.21 L673.41,702.50 L672.60,702.74 L671.77,702.91 L670.88,702.91 L669.92,702.68 L668.85,702.12 L667.66,701.13 L666.29,699.60 L664.74,697.40 L662.96,694.40" fill="none" stroke="#8f8ad6" stroke-width="0.5"/>
<path d="M680.16,793.66 A268.2,268.2 0 0 1 650.70,799.54 L646.31,768.65 A237.0,237.0 0 0 0 672.35,763.45Z" fill="#c070a0"/>
<path d="M682.51,802.76 L681.76,799.85 A274.6,274.6 0 0 1 651.60,805.87 M672.07,802.17 L672.43,803.83 M662.30,804.14 L662.60,805.81" fill="none" stroke="#555" stroke-width="0.7"/>
<text transform="translate(613.0,534.0) rotate(165.30) translate(0,-283.65)" font-size="12.5" fill="#222" text-anchor="middle">0</text>
<text transform="translate(613.0,534.0) rotate(169.21) translate(0,-283.67)" font-size="12.5" fill="#222" text-anchor="middle">40</text>
<circle cx="662.46" cy="781.71" r="8.9" fill="#f5f7f7"/>
<text x="662.46" y="786.11" font-size="12.3" fill="#111" text-anchor="middle">9</text>
<linearGradient id="rg1_8" gradientUnits="userSpaceOnUse" x1="666.84" y1="742.15" x2="643.22" y2="746.87"><stop offset="0" stop-color="#a82418"/><stop offset="0.042" stop-color="#d2513d"/><stop offset="0.083" stop-color="#e88977"/><stop offset="0.125" stop-color="#f1b3a5"/><stop offset="0.167" stop-color="#f2b3a5"/><stop offset="0.208" stop-color="#f3b7aa"/><stop offset="0.250" stop-color="#f6c6bb"/><stop offset="0.292" stop-color="#f7cfc5"/><stop offset="0.333" stop-color="#f5c3b7"/><stop offset="0.375" stop-color="#f8d2c9"/><stop offset="0.417" stop-color="#fbe5e0"/><stop offset="0.458" stop-color="#f8d6cd"/><stop offset="0.500" stop-color="#f8d1c8"/><stop offset="0.542" stop-color="#f8d5cc"/><stop offset="0.583" stop-color="#f6cabf"/><stop offset="0.625" stop-color="#f7cbc0"/><stop offset="0.667" stop-color="#f6c6bb"/><stop offset="0.708" stop-color="#f6c8bc"/><stop offset="0.750" stop-color="#f5c1b5"/><stop offset="0.792" stop-color="#f7ccc1"/><stop offset="0.833" stop-color="#f6c6bb"/><stop offset="0.875" stop-color="#ec9d8d"/><stop offset="0.917" stop-color="#e68471"/><stop offset="0.958" stop-color="#e37662"/><stop offset="1" stop-color="#a82418"/></linearGradient>
<path d="M669.74,753.38 A226.6,226.6 0 0 1 644.85,758.35 L641.60,735.48 A203.5,203.5 0 0 0 663.96,731.02Z" fill="url(#rg1_8)"/>
<line x1="651.62" y1="733.80" x2="656.01" y2="756.48" stroke="#f1b0a2" stroke-width="0.6" opacity="0.8"/>
<line x1="650.59" y1="734.00" x2="654.86" y2="756.70" stroke="#f9d8d0" stroke-width="0.6" opacity="0.8"/>
<line x1="657.15" y1="732.65" x2="662.16" y2="755.20" stroke="#f4bbae" stroke-width="0.6" opacity="0.8"/>
<line x1="650.49" y1="734.02" x2="654.75" y2="756.72" stroke="#f8d2c9" stroke-width="0.6" opacity="0.8"/>
<line x1="655.40" y1="733.03" x2="660.22" y2="755.63" stroke="#f9d9d0" stroke-width="0.6" opacity="0.8"/>
<line x1="647.96" y1="734.48" x2="651.93" y2="757.23" stroke="#f8d2c9" stroke-width="0.6" opacity="0.8"/>
<line x1="656.08" y1="732.89" x2="660.97" y2="755.46" stroke="#ed9f8f" stroke-width="0.6" opacity="0.8"/>
<line x1="647.48" y1="734.56" x2="651.40" y2="757.32" stroke="#fbe4de" stroke-width="0.6" opacity="0.8"/>
<path d="M661.58,721.82 A194.0,194.0 0 0 1 640.27,726.07 L635.63,693.40 A161.0,161.0 0 0 0 653.32,689.87Z" fill="#f3f3f4"/>
<path d="M653.89,696.78 L654.31,700.17 L654.18,701.39 L654.19,703.24 L654.20,705.10 L653.83,705.41 L653.78,707.09 L653.33,707.07 L653.05,707.78 L652.88,709.02 L652.47,709.20 L652.32,710.55 L651.57,709.21 L651.53,711.09 L650.81,709.86 L650.43,710.18 L649.89,709.78 L649.56,710.34 L649.42,711.87 L648.71,710.62 L648.49,711.73 L648.11,712.12 L647.55,711.60 L646.91,710.57 L646.57,711.18 L646.02,710.66 L645.61,710.87 L645.20,711.05 L644.68,710.64 L644.41,711.65 L643.87,711.13 L643.29,710.36 L642.77,709.90 L642.20,709.15 L641.64,708.44 L641.18,708.31 L640.45,706.48 L639.97,706.19 L639.21,704.08 L638.68,703.39 L637.77,700.15" fill="none" stroke="#7068c4" stroke-width="0.65"/>
<path d="M653.36,697.08 L653.42,700.56 L653.26,703.24 L652.91,705.25 L652.42,706.72 L651.82,707.74 L651.15,708.43 L650.41,708.88 L649.64,709.17 L648.85,709.37 L648.05,709.54 L647.25,709.69 L646.44,709.81 L645.61,709.84 L644.76,709.71 L643.87,709.33 L642.92,708.61 L641.91,707.45 L640.82,705.72 L639.64,703.31 L638.35,700.08" fill="none" stroke="#8f8ad6" stroke-width="0.5"/>
<path d="M640.48,800.79 A268.2,268.2 0 0 1 611.70,802.20 L611.85,771.00 A237.0,237.0 0 0 0 637.28,769.75Z" fill="#c070a0"/>
<path d="M641.44,810.14 L641.13,807.16 A274.6,274.6 0 0 1 611.67,808.60 M631.20,808.00 L631.31,809.69 M621.24,808.48 L621.29,810.18" fill="none" stroke="#555" stroke-width="0.7"/>
<text transform="translate(613.0,534.0) rotate(173.92) translate(0,-283.69)" font-size="12.5" fill="#222" text-anchor="middle">0</text>
<text transform="translate(613.0,534.0) rotate(177.83) translate(0,-283.70)" font-size="12.5" fill="#222" text-anchor="middle">40</text>
<circle cx="625.34" cy="786.30" r="8.9" fill="#f5f7f7"/>
<text x="625.34" y="790.70" font-size="12.3" fill="#111" text-anchor="middle">10</text>
<linearGradient id="rg1_9" gradientUnits="userSpaceOnUse" x1="635.03" y1="747.87" x2="611.96" y2="749.00"><stop offset="0" stop-color="#a82418"/><stop offset="0.042" stop-color="#d14f3b"/><stop offset="0.083" stop-color="#e6806d"/><stop offset="0.125" stop-color="#f2b4a6"/><stop offset="0.167" stop-color="#f0ac9d"/><stop offset="0.208" stop-color="#f6c5b9"/><stop offset="0.250" stop-color="#f4bfb2"/><stop offset="0.292" stop-color="#f7cbc0"/><stop offset="0.333" stop-color="#f7d0c6"/><stop offset="0.375" stop-color="#f7cec4"/><stop offset="0.417" stop-color="#f6c9be"/><stop offset="0.458" stop-color="#f8d5cc"/><stop offset="0.500" stop-color="#f7cfc5"/><stop offset="0.542" stop-color="#fbe5e0"/><stop offset="0.583" stop-color="#f7cdc3"/><stop offset="0.625" stop-color="#f6c4b8"/><stop offset="0.667" stop-color="#f6c8bd"/><stop offset="0.708" stop-color="#f4bfb2"/><stop offset="0.750" stop-color="#f6c9be"/><stop offset="0.792" stop-color="#f6c5b9"/><stop offset="0.833" stop-color="#f0ac9d"/><stop offset="0.875" stop-color="#efa89a"/><stop offset="0.917" stop-color="#e88c7a"/><stop offset="0.958" stop-color="#dd6a56"/><stop offset="1" stop-color="#a82418"/></linearGradient>
<path d="M636.22,759.41 A226.6,226.6 0 0 1 611.90,760.60 L612.01,737.50 A203.5,203.5 0 0 0 633.85,736.43Z" fill="url(#rg1_9)"/>
<line x1="623.07" y1="737.25" x2="624.21" y2="760.32" stroke="#eea595" stroke-width="0.6" opacity="0.8"/>
<line x1="617.48" y1="737.45" x2="617.99" y2="760.54" stroke="#ed9e8e" stroke-width="0.6" opacity="0.8"/>
<line x1="618.02" y1="737.44" x2="618.59" y2="760.53" stroke="#fcede8" stroke-width="0.6" opacity="0.8"/>
<line x1="627.61" y1="736.97" x2="629.27" y2="760.02" stroke="#f9dad2" stroke-width="0.6" opacity="0.8"/>
<line x1="619.37" y1="737.40" x2="620.10" y2="760.49" stroke="#f7ccc2" stroke-width="0.6" opacity="0.8"/>
<line x1="625.60" y1="737.11" x2="627.03" y2="760.17" stroke="#fbe9e4" stroke-width="0.6" opacity="0.8"/>
<line x1="625.67" y1="737.10" x2="627.11" y2="760.16" stroke="#fbe7e2" stroke-width="0.6" opacity="0.8"/>
<line x1="626.84" y1="737.03" x2="628.41" y2="760.08" stroke="#f4beb1" stroke-width="0.6" opacity="0.8"/>
<path d="M632.88,726.98 A194.0,194.0 0 0 1 612.06,728.00 L612.22,695.00 A161.0,161.0 0 0 0 629.49,694.15Z" fill="#f3f3f4"/>
<path d="M629.03,701.06 L628.84,703.25 L628.71,706.18 L628.35,706.74 L628.20,709.66 L627.85,710.41 L627.55,711.86 L627.17,712.29 L626.79,712.92 L626.33,712.39 L625.97,713.11 L625.56,713.30 L625.15,713.54 L624.82,714.84 L624.33,713.91 L623.97,714.78 L623.52,714.46 L623.03,713.30 L622.63,713.60 L622.25,714.43 L621.85,714.92 L621.37,713.72 L620.95,713.77 L620.54,714.07 L620.13,714.25 L619.70,714.15 L619.32,715.23 L618.87,714.46 L618.42,713.62 L618.00,713.60 L617.59,713.71 L617.14,712.61 L616.72,712.67 L616.28,711.37 L615.88,711.94 L615.45,711.49 L615.03,710.45 L614.60,708.44 L614.17,706.37 L613.76,704.86 L613.36,702.62" fill="none" stroke="#7068c4" stroke-width="0.65"/>
<path d="M628.46,701.29 L628.03,704.73 L627.51,707.36 L626.91,709.29 L626.25,710.66 L625.55,711.59 L624.81,712.16 L624.06,712.50 L623.29,712.66 L622.52,712.74 L621.75,712.79 L620.97,712.82 L620.20,712.82 L619.42,712.72 L618.64,712.47 L617.85,711.96 L617.06,711.11 L616.27,709.81 L615.48,707.94 L614.71,705.38 L613.94,702.00" fill="none" stroke="#8f8ad6" stroke-width="0.5"/>
<path d="M601.40,801.95 A268.2,268.2 0 0 1 573.46,799.27 L578.06,768.41 A237.0,237.0 0 0 0 602.75,770.78Z" fill="#c070a0"/>
<path d="M601.00,811.34 L601.13,808.34 A274.6,274.6 0 0 1 572.51,805.60 M591.18,807.73 L591.04,809.43 M581.26,806.76 L581.06,808.45" fill="none" stroke="#555" stroke-width="0.7"/>
<text transform="translate(613.0,534.0) rotate(182.28) translate(0,-283.70)" font-size="12.5" fill="#222" text-anchor="middle">0</text>
<text transform="translate(613.0,534.0) rotate(186.19) translate(0,-283.69)" font-size="12.5" fill="#222" text-anchor="middle">40</text>
<circle cx="588.89" cy="785.45" r="8.9" fill="#f5f7f7"/>
<text x="588.89" y="789.85" font-size="12.3" fill="#111" text-anchor="middle">11</text>
<linearGradient id="rg1_10" gradientUnits="userSpaceOnUse" x1="603.70" y1="748.80" x2="581.30" y2="746.65"><stop offset="0" stop-color="#a82418"/><stop offset="0.042" stop-color="#d8604c"/><stop offset="0.083" stop-color="#e9907e"/><stop offset="0.125" stop-color="#f2b5a7"/><stop offset="0.167" stop-color="#f4bdb1"/><stop offset="0.208" stop-color="#f3baad"/><stop offset="0.250" stop-color="#f6c5ba"/><stop offset="0.292" stop-color="#f7cdc3"/><stop offset="0.333" stop-color="#f6c9be"/><stop offset="0.375" stop-color="#f7d0c6"/><stop offset="0.417" stop-color="#f7cec4"/><stop offset="0.458" stop-color="#f6c6bb"/><stop offset="0.500" stop-color="#f7cdc2"/><stop offset="0.542" stop-color="#f7cabf"/><stop offset="0.583" stop-color="#f8d1c8"/><stop offset="0.625" stop-color="#f8d2c9"/><stop offset="0.667" stop-color="#f7d0c6"/><stop offset="0.708" stop-color="#f7cbc0"/><stop offset="0.750" stop-color="#f7cec3"/><stop offset="0.792" stop-color="#f2b6a8"/><stop offset="0.833" stop-color="#f6c7bc"/><stop offset="0.875" stop-color="#f3b7aa"/><stop offset="0.917" stop-color="#e78775"/><stop offset="0.958" stop-color="#dc6753"/><stop offset="1" stop-color="#a82418"/></linearGradient>
<path d="M603.20,760.39 A226.6,226.6 0 0 1 579.59,758.12 L583.00,735.28 A203.5,203.5 0 0 0 604.20,737.31Z" fill="url(#rg1_10)"/>
<line x1="590.64" y1="736.27" x2="588.11" y2="759.23" stroke="#eda090" stroke-width="0.6" opacity="0.8"/>
<line x1="596.68" y1="736.84" x2="594.82" y2="759.87" stroke="#f5c3b7" stroke-width="0.6" opacity="0.8"/>
<line x1="594.67" y1="736.67" x2="592.59" y2="759.68" stroke="#ed9e8e" stroke-width="0.6" opacity="0.8"/>
<line x1="592.55" y1="736.47" x2="590.23" y2="759.45" stroke="#f0ab9c" stroke-width="0.6" opacity="0.8"/>
<line x1="591.84" y1="736.40" x2="589.44" y2="759.37" stroke="#fbe7e2" stroke-width="0.6" opacity="0.8"/>
<line x1="594.19" y1="736.63" x2="592.06" y2="759.63" stroke="#f5c3b7" stroke-width="0.6" opacity="0.8"/>
<line x1="597.26" y1="736.89" x2="595.47" y2="759.92" stroke="#fceae5" stroke-width="0.6" opacity="0.8"/>
<path d="M604.61,727.82 A194.0,194.0 0 0 1 584.40,725.88 L589.26,693.24 A161.0,161.0 0 0 0 606.04,694.85Z" fill="#f3f3f4"/>
<path d="M604.49,703.37 L603.99,705.42 L603.53,706.70 L603.12,706.99 L602.57,709.72 L602.06,711.44 L601.63,711.88 L601.19,712.44 L600.78,712.39 L600.32,713.24 L599.84,714.21 L599.48,713.50 L599.13,712.72 L598.70,712.97 L598.14,714.79 L597.77,714.27 L597.32,714.76 L597.06,713.01 L596.66,712.89 L596.14,714.12 L595.78,713.52 L595.37,713.55 L595.01,713.01 L594.49,714.12 L594.08,714.11 L593.68,713.92 L593.35,713.17 L592.94,713.18 L592.57,712.80 L592.17,712.72 L591.83,712.11 L591.43,712.03 L590.95,712.61 L590.66,711.62 L590.54,709.38 L590.11,709.59 L589.81,708.76 L589.74,706.33 L589.40,705.87 L589.26,704.05 L589.45,699.89" fill="none" stroke="#7068c4" stroke-width="0.65"/>
<path d="M603.98,701.76 L603.08,705.11 L602.20,707.63 L601.35,709.46 L600.52,710.72 L599.72,711.53 L598.93,712.00 L598.17,712.22 L597.41,712.28 L596.66,712.25 L595.91,712.18 L595.17,712.11 L594.42,711.99 L593.69,711.79 L592.98,711.43 L592.30,710.82 L591.66,709.87 L591.09,708.47 L590.60,706.51 L590.22,703.87 L589.97,700.41" fill="none" stroke="#8f8ad6" stroke-width="0.5"/>
<path d="M563.30,797.56 A268.2,268.2 0 0 1 536.73,791.13 L545.61,761.22 A237.0,237.0 0 0 0 569.09,766.90Z" fill="#c070a0"/>
<path d="M561.56,806.79 L562.12,803.84 A274.6,274.6 0 0 1 534.91,797.26 M552.36,801.82 L551.98,803.48 M542.68,799.44 L542.24,801.09" fill="none" stroke="#555" stroke-width="0.7"/>
<text transform="translate(613.0,534.0) rotate(190.48) translate(0,-283.67)" font-size="12.5" fill="#222" text-anchor="middle">0</text>
<text transform="translate(613.0,534.0) rotate(194.39) translate(0,-283.65)" font-size="12.5" fill="#222" text-anchor="middle">40</text>
<circle cx="553.61" cy="779.52" r="8.9" fill="#f5f7f7"/>
<text x="553.61" y="783.92" font-size="12.3" fill="#111" text-anchor="middle">12</text>
<linearGradient id="rg1_11" gradientUnits="userSpaceOnUse" x1="573.16" y1="745.28" x2="551.86" y2="740.12"><stop offset="0" stop-color="#a82418"/><stop offset="0.042" stop-color="#dc6753"/><stop offset="0.083" stop-color="#e9917f"/><stop offset="0.125" stop-color="#efa99a"/><stop offset="0.167" stop-color="#f0aea0"/><stop offset="0.208" stop-color="#f5c1b5"/><stop offset="0.250" stop-color="#f4bfb2"/><stop offset="0.292" stop-color="#f7cec4"/><stop offset="0.333" stop-color="#f7cdc3"/><stop offset="0.375" stop-color="#f6c7bb"/><stop offset="0.417" stop-color="#f8d2c8"/><stop offset="0.458" stop-color="#f7cdc3"/><stop offset="0.500" stop-color="#f6c5b9"/><stop offset="0.542" stop-color="#f7ccc2"/><stop offset="0.583" stop-color="#f8d0c7"/><stop offset="0.625" stop-color="#f6c4b8"/><stop offset="0.667" stop-color="#f7cfc6"/><stop offset="0.708" stop-color="#f6c8bd"/><stop offset="0.750" stop-color="#f6c5b9"/><stop offset="0.792" stop-color="#f6c7bb"/><stop offset="0.833" stop-color="#f1b1a3"/><stop offset="0.875" stop-color="#f0aea0"/><stop offset="0.917" stop-color="#e68471"/><stop offset="0.958" stop-color="#dd6a56"/><stop offset="1" stop-color="#a82418"/></linearGradient>
<path d="M571.01,756.68 A226.6,226.6 0 0 1 548.56,751.25 L555.13,729.10 A203.5,203.5 0 0 0 575.29,733.98Z" fill="url(#rg1_11)"/>
<line x1="566.87" y1="732.20" x2="561.64" y2="754.70" stroke="#fbe8e2" stroke-width="0.6" opacity="0.8"/>
<line x1="561.38" y1="730.84" x2="555.52" y2="753.19" stroke="#ed9e8e" stroke-width="0.6" opacity="0.8"/>
<line x1="566.00" y1="732.00" x2="560.66" y2="754.47" stroke="#fae0da" stroke-width="0.6" opacity="0.8"/>
<line x1="561.31" y1="730.83" x2="555.44" y2="753.17" stroke="#f1b0a2" stroke-width="0.6" opacity="0.8"/>
<line x1="567.73" y1="732.40" x2="562.59" y2="754.92" stroke="#f9dcd5" stroke-width="0.6" opacity="0.8"/>
<line x1="565.18" y1="731.80" x2="559.75" y2="754.25" stroke="#fbe7e2" stroke-width="0.6" opacity="0.8"/>
<line x1="568.07" y1="732.48" x2="562.97" y2="755.01" stroke="#f9d7ce" stroke-width="0.6" opacity="0.8"/>
<path d="M577.05,724.64 A194.0,194.0 0 0 1 557.83,719.99 L567.22,688.35 A161.0,161.0 0 0 0 583.17,692.21Z" fill="#f3f3f4"/>
<path d="M580.78,698.54 L579.98,700.70 L579.04,703.49 L578.48,704.33 L577.56,706.90 L576.93,708.02 L576.50,708.21 L576.14,708.00 L575.41,709.54 L575.12,709.00 L574.41,710.39 L574.18,709.60 L573.63,710.27 L573.18,710.43 L572.80,710.32 L572.38,710.39 L572.19,709.45 L571.89,708.96 L571.40,709.34 L570.71,710.51 L570.80,708.45 L570.29,708.88 L569.89,708.84 L569.43,709.02 L568.82,709.83 L568.82,708.22 L568.49,707.93 L568.17,707.56 L567.64,708.03 L567.09,708.57 L566.93,707.64 L566.53,707.61 L566.34,706.78 L566.20,705.79 L565.99,705.07 L566.08,703.31 L565.47,704.06 L565.59,702.19 L566.04,699.20 L566.14,697.49 L566.04,696.47" fill="none" stroke="#7068c4" stroke-width="0.65"/>
<path d="M580.14,698.76 L578.80,701.95 L577.60,704.32 L576.52,706.02 L575.54,707.15 L574.65,707.85 L573.83,708.21 L573.07,708.32 L572.33,708.28 L571.62,708.15 L570.91,707.98 L570.21,707.81 L569.51,707.60 L568.84,707.30 L568.21,706.85 L567.64,706.15 L567.17,705.13 L566.82,703.67 L566.64,701.67 L566.65,699.01 L566.92,695.56" fill="none" stroke="#8f8ad6" stroke-width="0.5"/>
<path d="M526.92,788.01 A268.2,268.2 0 0 1 502.63,778.44 L515.47,750.00 A237.0,237.0 0 0 0 536.93,758.46Z" fill="#c070a0"/>
<path d="M523.90,796.91 L524.87,794.07 A274.6,274.6 0 0 1 500.00,784.27 M515.48,790.70 L514.88,792.29 M506.23,786.99 L505.57,788.56" fill="none" stroke="#555" stroke-width="0.7"/>
<text transform="translate(613.0,534.0) rotate(198.52) translate(0,-283.62)" font-size="12.5" fill="#222" text-anchor="middle">0</text>
<text transform="translate(613.0,534.0) rotate(202.43) translate(0,-283.59)" font-size="12.5" fill="#222" text-anchor="middle">40</text>
<circle cx="520.38" cy="769.01" r="8.9" fill="#f5f7f7"/>
<text x="520.38" y="773.41" font-size="12.3" fill="#111" text-anchor="middle">13</text>
<linearGradient id="rg1_12" gradientUnits="userSpaceOnUse" x1="543.99" y1="737.63" x2="524.52" y2="729.95"><stop offset="0" stop-color="#a82418"/><stop offset="0.042" stop-color="#d45743"/><stop offset="0.083" stop-color="#e78774"/><stop offset="0.125" stop-color="#f3b7aa"/><stop offset="0.167" stop-color="#f1b0a2"/><stop offset="0.208" stop-color="#f7cabf"/><stop offset="0.250" stop-color="#f7cec4"/><stop offset="0.292" stop-color="#f6c6ba"/><stop offset="0.333" stop-color="#f7cfc5"/><stop offset="0.375" stop-color="#f6c8bd"/><stop offset="0.417" stop-color="#f7cec3"/><stop offset="0.458" stop-color="#f8d4ca"/><stop offset="0.500" stop-color="#f6c6bb"/><stop offset="0.542" stop-color="#f8d1c8"/><stop offset="0.583" stop-color="#f7cec4"/><stop offset="0.625" stop-color="#f6c5b9"/><stop offset="0.667" stop-color="#f6c5ba"/><stop offset="0.708" stop-color="#f7cabf"/><stop offset="0.750" stop-color="#f7cfc5"/><stop offset="0.792" stop-color="#f6c9bf"/><stop offset="0.833" stop-color="#f1aea0"/><stop offset="0.875" stop-color="#efa798"/><stop offset="0.917" stop-color="#e78673"/><stop offset="0.958" stop-color="#d04d39"/><stop offset="1" stop-color="#a82418"/></linearGradient>
<path d="M540.27,748.61 A226.6,226.6 0 0 1 519.75,740.52 L529.26,719.47 A203.5,203.5 0 0 0 547.69,726.73Z" fill="url(#rg1_12)"/>
<line x1="537.37" y1="722.92" x2="528.78" y2="744.37" stroke="#f4bdb0" stroke-width="0.6" opacity="0.8"/>
<line x1="538.09" y1="723.21" x2="529.58" y2="744.69" stroke="#fae2db" stroke-width="0.6" opacity="0.8"/>
<line x1="540.00" y1="723.95" x2="531.71" y2="745.52" stroke="#efa798" stroke-width="0.6" opacity="0.8"/>
<line x1="538.14" y1="723.23" x2="529.64" y2="744.71" stroke="#fcede9" stroke-width="0.6" opacity="0.8"/>
<line x1="537.08" y1="722.81" x2="528.46" y2="744.24" stroke="#ed9e8e" stroke-width="0.6" opacity="0.8"/>
<line x1="537.22" y1="722.87" x2="528.62" y2="744.30" stroke="#f8d1c7" stroke-width="0.6" opacity="0.8"/>
<line x1="538.79" y1="723.49" x2="530.36" y2="745.00" stroke="#f6c8bd" stroke-width="0.6" opacity="0.8"/>
<path d="M550.73,717.74 A194.0,194.0 0 0 1 533.17,710.81 L546.75,680.74 A161.0,161.0 0 0 0 561.33,686.48Z" fill="#f3f3f4"/>
<path d="M557.72,693.44 L556.75,695.17 L555.48,697.70 L554.61,699.07 L553.90,700.00 L553.21,700.81 L552.56,701.53 L552.35,701.02 L551.58,702.05 L551.24,701.89 L550.82,701.96 L549.81,703.61 L549.94,702.17 L549.09,703.36 L548.70,703.34 L548.66,702.37 L548.60,701.48 L548.13,701.67 L547.40,702.50 L547.00,702.49 L546.93,701.63 L546.39,701.99 L546.39,700.96 L545.64,701.83 L545.19,701.93 L544.85,701.76 L544.70,701.13 L544.38,700.93 L544.56,699.50 L544.06,699.73 L543.70,699.63 L543.77,698.49 L543.61,697.92 L542.73,699.03 L542.92,697.65 L543.04,696.42 L543.04,695.50 L543.08,694.48 L543.60,692.39 L544.22,690.08 L544.83,687.84" fill="none" stroke="#7068c4" stroke-width="0.65"/>
<path d="M557.42,692.54 L555.68,695.52 L554.19,697.72 L552.92,699.26 L551.84,700.27 L550.90,700.85 L550.08,701.10 L549.34,701.12 L548.66,700.99 L548.00,700.78 L547.37,700.53 L546.73,700.28 L546.11,699.99 L545.52,699.62 L545.00,699.10 L544.57,698.35 L544.28,697.29 L544.17,695.81 L544.30,693.82 L544.71,691.20 L545.47,687.83" fill="none" stroke="#8f8ad6" stroke-width="0.5"/>
<path d="M461.09,755.03 A268.2,268.2 0 0 1 425.02,725.29 L446.88,703.04 A237.0,237.0 0 0 0 478.76,729.32Z" fill="#18956f"/>
<path d="M455.77,762.78 L457.46,760.31 A274.6,274.6 0 0 1 420.53,729.86 M449.35,754.51 L448.34,755.88 M441.46,748.43 L440.40,749.75 M433.79,742.06 L432.68,743.35 M426.36,735.42 L425.20,736.66" fill="none" stroke="#555" stroke-width="0.7"/>
<text transform="translate(613.0,534.0) rotate(214.30) translate(0,-283.44)" font-size="12.5" fill="#222" text-anchor="middle">0</text>
<text transform="translate(613.0,534.0) rotate(218.21) translate(0,-283.38)" font-size="12.5" fill="#222" text-anchor="middle">40</text>
<text transform="translate(613.0,534.0) rotate(221.67) translate(0,-283.32)" font-size="12.5" fill="#222" text-anchor="middle">80</text>
<circle cx="452.33" cy="728.91" r="8.9" fill="#f5f7f7"/>
<text x="452.33" y="733.31" font-size="12.3" fill="#111" text-anchor="middle">1</text>
<linearGradient id="rg2_0" gradientUnits="userSpaceOnUse" x1="491.22" y1="711.19" x2="462.30" y2="687.35"><stop offset="0" stop-color="#a82418"/><stop offset="0.042" stop-color="#d04e3a"/><stop offset="0.083" stop-color="#ec9c8c"/><stop offset="0.125" stop-color="#ed9f8f"/><stop offset="0.167" stop-color="#f2b6a9"/><stop offset="0.208" stop-color="#f6c7bc"/><stop offset="0.250" stop-color="#f6c5b9"/><stop offset="0.292" stop-color="#f7cec4"/><stop offset="0.333" stop-color="#f7cac0"/><stop offset="0.375" stop-color="#f8d4cb"/><stop offset="0.417" stop-color="#f6c5b9"/><stop offset="0.458" stop-color="#f8d1c7"/><stop offset="0.500" stop-color="#f8d4cb"/><stop offset="0.542" stop-color="#f7d0c6"/><stop offset="0.583" stop-color="#fbe5e0"/><stop offset="0.625" stop-color="#f7cdc3"/><stop offset="0.667" stop-color="#f8d1c8"/><stop offset="0.708" stop-color="#fbe5e0"/><stop offset="0.750" stop-color="#f4bcaf"/><stop offset="0.792" stop-color="#f7ccc2"/><stop offset="0.833" stop-color="#f0ad9f"/><stop offset="0.875" stop-color="#f0ad9f"/><stop offset="0.917" stop-color="#ec9d8d"/><stop offset="0.958" stop-color="#db6551"/><stop offset="1" stop-color="#a82418"/></linearGradient>
<path d="M484.65,720.75 A226.6,226.6 0 0 1 454.17,695.62 L470.36,679.15 A203.5,203.5 0 0 0 497.74,701.71Z" fill="url(#rg2_0)"/>
<line x1="489.74" y1="695.93" x2="475.75" y2="714.31" stroke="#f7cdc3" stroke-width="0.6" opacity="0.8"/>
<line x1="490.43" y1="696.44" x2="476.51" y2="714.88" stroke="#faddd5" stroke-width="0.6" opacity="0.8"/>
<line x1="480.69" y1="688.62" x2="465.67" y2="706.17" stroke="#f1b1a3" stroke-width="0.6" opacity="0.8"/>
<line x1="488.02" y1="694.60" x2="473.83" y2="712.83" stroke="#f8d6cd" stroke-width="0.6" opacity="0.8"/>
<line x1="477.53" y1="685.85" x2="462.15" y2="703.09" stroke="#f9dcd4" stroke-width="0.6" opacity="0.8"/>
<line x1="488.86" y1="695.25" x2="474.77" y2="713.56" stroke="#fae0d9" stroke-width="0.6" opacity="0.8"/>
<line x1="478.62" y1="686.82" x2="463.36" y2="704.16" stroke="#f9dad2" stroke-width="0.6" opacity="0.8"/>
<line x1="481.30" y1="689.14" x2="466.35" y2="706.75" stroke="#eea596" stroke-width="0.6" opacity="0.8"/>
<line x1="481.90" y1="689.64" x2="467.02" y2="707.31" stroke="#fbe3dd" stroke-width="0.6" opacity="0.8"/>
<line x1="483.82" y1="691.24" x2="469.16" y2="709.09" stroke="#f9dbd3" stroke-width="0.6" opacity="0.8"/>
<line x1="483.84" y1="691.26" x2="469.18" y2="709.11" stroke="#f6c9be" stroke-width="0.6" opacity="0.8"/>
<line x1="477.15" y1="685.51" x2="461.73" y2="702.71" stroke="#f6c4b8" stroke-width="0.6" opacity="0.8"/>
<line x1="483.44" y1="690.93" x2="468.73" y2="708.74" stroke="#f2b5a8" stroke-width="0.6" opacity="0.8"/>
<path d="M503.12,693.88 A194.0,194.0 0 0 1 477.02,672.37 L500.15,648.83 A161.0,161.0 0 0 0 521.81,666.68Z" fill="#f3f3f4"/>
<path d="M512.86,677.55 L512.50,676.83 L510.69,678.17 L510.52,677.19 L509.75,677.06 L508.56,677.49 L507.56,677.64 L507.65,676.32 L506.31,676.93 L504.49,678.15 L504.76,676.60 L504.49,675.77 L503.84,675.44 L502.95,675.42 L502.97,674.23 L502.85,673.22 L502.24,672.84 L502.63,671.22 L501.63,671.34 L501.99,669.78 L501.27,669.54 L501.86,667.73 L501.11,667.53 L501.87,665.55 L501.09,665.40 L500.86,664.61 L501.60,662.69 L501.07,662.27 L500.00,662.44 L498.94,662.60 L498.36,662.22 L497.74,661.87 L497.21,661.43 L496.19,661.52 L497.13,659.48 L496.45,659.20 L495.65,659.05 L493.34,660.49 L493.77,659.03 L492.56,659.29 L492.02,658.84" fill="none" stroke="#7068c4" stroke-width="0.65"/>
<path d="M417.81,717.94 A268.2,268.2 0 0 1 391.53,685.28 L417.30,667.68 A237.0,237.0 0 0 0 440.52,696.54Z" fill="#18956f"/>
<path d="M410.97,724.38 L413.15,722.33 A274.6,274.6 0 0 1 386.25,688.89 M406.45,714.95 L405.17,716.07 M400.02,707.33 L398.70,708.40 M393.87,699.49 L392.51,700.51 M388.01,691.43 L386.61,692.40" fill="none" stroke="#555" stroke-width="0.7"/>
<text transform="translate(613.0,534.0) rotate(226.50) translate(0,-283.23)" font-size="12.5" fill="#222" text-anchor="middle">0</text>
<text transform="translate(613.0,534.0) rotate(230.41) translate(0,-283.16)" font-size="12.5" fill="#222" text-anchor="middle">40</text>
<text transform="translate(613.0,534.0) rotate(233.87) translate(0,-283.08)" font-size="12.5" fill="#222" text-anchor="middle">80</text>
<circle cx="416.19" cy="692.34" r="8.9" fill="#f5f7f7"/>
<text x="416.19" y="696.74" font-size="12.3" fill="#111" text-anchor="middle">2</text>
<linearGradient id="rg2_1" gradientUnits="userSpaceOnUse" x1="456.53" y1="681.45" x2="435.46" y2="655.27"><stop offset="0" stop-color="#a82418"/><stop offset="0.042" stop-color="#df6e5a"/><stop offset="0.083" stop-color="#eb9988"/><stop offset="0.125" stop-color="#efa798"/><stop offset="0.167" stop-color="#f2b4a6"/><stop offset="0.208" stop-color="#f7cdc2"/><stop offset="0.250" stop-color="#f6c7bb"/><stop offset="0.292" stop-color="#f6c9bf"/><stop offset="0.333" stop-color="#f7cbc0"/><stop offset="0.375" stop-color="#f6c6bb"/><stop offset="0.417" stop-color="#fbe5e0"/><stop offset="0.458" stop-color="#fbe5e0"/><stop offset="0.500" stop-color="#f7cbc0"/><stop offset="0.542" stop-color="#f6c9be"/><stop offset="0.583" stop-color="#f6c9be"/><stop offset="0.625" stop-color="#f7cfc5"/><stop offset="0.667" stop-color="#f6c9be"/><stop offset="0.708" stop-color="#f6c4b8"/><stop offset="0.750" stop-color="#f6c7bc"/><stop offset="0.792" stop-color="#f7cabf"/><stop offset="0.833" stop-color="#f1afa1"/><stop offset="0.875" stop-color="#f0ab9d"/><stop offset="0.917" stop-color="#e78775"/><stop offset="0.958" stop-color="#d3533f"/><stop offset="1" stop-color="#a82418"/></linearGradient>
<path d="M448.09,689.41 A226.6,226.6 0 0 1 425.89,661.81 L444.96,648.78 A203.5,203.5 0 0 0 464.90,673.56Z" fill="url(#rg2_1)"/>
<line x1="453.60" y1="660.50" x2="435.50" y2="674.86" stroke="#f8d2c9" stroke-width="0.6" opacity="0.8"/>
<line x1="457.10" y1="664.79" x2="439.40" y2="679.64" stroke="#f3b7aa" stroke-width="0.6" opacity="0.8"/>
<line x1="450.33" y1="656.28" x2="431.87" y2="670.16" stroke="#fcede9" stroke-width="0.6" opacity="0.8"/>
<line x1="459.21" y1="667.27" x2="441.75" y2="682.40" stroke="#f8d2c9" stroke-width="0.6" opacity="0.8"/>
<line x1="458.72" y1="666.70" x2="441.21" y2="681.77" stroke="#f8d4cb" stroke-width="0.6" opacity="0.8"/>
<line x1="456.03" y1="663.52" x2="438.22" y2="678.22" stroke="#fae0da" stroke-width="0.6" opacity="0.8"/>
<line x1="451.73" y1="658.12" x2="433.43" y2="672.21" stroke="#f7cbc0" stroke-width="0.6" opacity="0.8"/>
<line x1="450.32" y1="656.26" x2="431.86" y2="670.14" stroke="#fbe3dd" stroke-width="0.6" opacity="0.8"/>
<line x1="455.64" y1="663.04" x2="437.78" y2="677.69" stroke="#f6c9be" stroke-width="0.6" opacity="0.8"/>
<line x1="451.76" y1="658.15" x2="433.46" y2="672.24" stroke="#f8d5cc" stroke-width="0.6" opacity="0.8"/>
<line x1="457.63" y1="665.42" x2="439.99" y2="680.34" stroke="#f9d7cf" stroke-width="0.6" opacity="0.8"/>
<path d="M471.81,667.05 A194.0,194.0 0 0 1 452.81,643.42 L480.05,624.81 A161.0,161.0 0 0 0 495.83,644.42Z" fill="#f3f3f4"/>
<path d="M482.76,655.03 L481.06,655.73 L481.10,654.83 L480.00,654.97 L479.45,654.61 L479.91,653.33 L479.29,653.02 L478.16,653.18 L478.14,652.34 L478.71,650.99 L479.08,649.83 L477.69,650.20 L478.73,648.48 L478.81,647.58 L478.90,646.69 L477.90,646.71 L478.09,645.75 L477.45,645.46 L478.38,643.90 L478.69,642.85 L477.70,642.85 L479.53,640.60 L478.31,640.79 L477.16,640.92 L478.58,639.02 L478.75,638.13 L478.48,637.57 L478.25,636.98 L475.94,637.98 L476.16,637.04 L474.46,637.55 L473.70,637.35 L475.01,635.62 L473.47,635.99 L472.74,635.76 L471.88,635.62 L471.62,635.04 L470.16,635.32 L469.09,635.31 L467.97,635.32 L466.99,635.24" fill="none" stroke="#7068c4" stroke-width="0.65"/>
<path d="M385.89,676.66 A268.2,268.2 0 0 1 370.86,649.33 L399.03,635.92 A237.0,237.0 0 0 0 412.31,660.07Z" fill="#18956f"/>
<path d="M377.93,681.66 L380.47,680.07 A274.6,274.6 0 0 1 365.09,652.08 M375.32,671.53 L373.85,672.38 M370.49,662.81 L368.99,663.61 M365.97,653.93 L364.44,654.67" fill="none" stroke="#555" stroke-width="0.7"/>
<text transform="translate(613.0,534.0) rotate(237.66) translate(0,-283.00)" font-size="12.5" fill="#222" text-anchor="middle">0</text>
<text transform="translate(613.0,534.0) rotate(241.57) translate(0,-282.91)" font-size="12.5" fill="#222" text-anchor="middle">40</text>
<circle cx="391.65" cy="655.70" r="8.9" fill="#f5f7f7"/>
<text x="391.65" y="660.10" font-size="12.3" fill="#111" text-anchor="middle">3</text>
<linearGradient id="rg2_2" gradientUnits="userSpaceOnUse" x1="430.94" y1="648.36" x2="418.89" y2="626.46"><stop offset="0" stop-color="#a82418"/><stop offset="0.042" stop-color="#e1725e"/><stop offset="0.083" stop-color="#ec9c8c"/><stop offset="0.125" stop-color="#ec9c8c"/><stop offset="0.167" stop-color="#f5c3b7"/><stop offset="0.208" stop-color="#f6c4b8"/><stop offset="0.250" stop-color="#f7cbc1"/><stop offset="0.292" stop-color="#f5c3b7"/><stop offset="0.333" stop-color="#fbe5e0"/><stop offset="0.375" stop-color="#f7cec4"/><stop offset="0.417" stop-color="#f7ccc1"/><stop offset="0.458" stop-color="#fbe5e0"/><stop offset="0.500" stop-color="#f7cfc5"/><stop offset="0.542" stop-color="#f7cfc5"/><stop offset="0.583" stop-color="#f8d3c9"/><stop offset="0.625" stop-color="#f7cec3"/><stop offset="0.667" stop-color="#f6c7bb"/><stop offset="0.708" stop-color="#f8d1c8"/><stop offset="0.750" stop-color="#f6c4b8"/><stop offset="0.792" stop-color="#f7ccc2"/><stop offset="0.833" stop-color="#f5c1b4"/><stop offset="0.875" stop-color="#ec9d8c"/><stop offset="0.917" stop-color="#e98f7e"/><stop offset="0.958" stop-color="#db6551"/><stop offset="1" stop-color="#a82418"/></linearGradient>
<path d="M421.12,654.53 A226.6,226.6 0 0 1 408.42,631.44 L429.28,621.51 A203.5,203.5 0 0 0 440.68,642.25Z" fill="url(#rg2_2)"/>
<line x1="435.90" y1="634.23" x2="415.79" y2="645.61" stroke="#f7cbc0" stroke-width="0.6" opacity="0.8"/>
<line x1="432.36" y1="627.71" x2="411.86" y2="638.35" stroke="#f6c6ba" stroke-width="0.6" opacity="0.8"/>
<line x1="432.07" y1="627.15" x2="411.53" y2="637.72" stroke="#f8d6cd" stroke-width="0.6" opacity="0.8"/>
<line x1="437.19" y1="636.48" x2="417.23" y2="648.12" stroke="#f9dad2" stroke-width="0.6" opacity="0.8"/>
<line x1="435.44" y1="633.43" x2="415.29" y2="644.71" stroke="#fcece7" stroke-width="0.6" opacity="0.8"/>
<line x1="437.12" y1="636.36" x2="417.15" y2="647.98" stroke="#efa99a" stroke-width="0.6" opacity="0.8"/>
<line x1="432.47" y1="627.92" x2="411.98" y2="638.58" stroke="#fbe7e2" stroke-width="0.6" opacity="0.8"/>
<line x1="437.11" y1="636.35" x2="417.15" y2="647.97" stroke="#eda090" stroke-width="0.6" opacity="0.8"/>
<path d="M448.72,637.19 A194.0,194.0 0 0 1 437.85,617.42 L467.65,603.23 A161.0,161.0 0 0 0 476.67,619.64Z" fill="#f3f3f4"/>
<path d="M461.72,627.56 L461.06,627.43 L461.07,626.89 L461.00,626.41 L461.44,625.60 L460.30,625.76 L459.55,625.68 L461.66,623.89 L460.73,623.92 L461.99,622.65 L460.48,623.02 L460.47,622.50 L460.86,621.75 L462.12,620.51 L463.49,619.22 L462.14,619.47 L464.15,617.83 L462.33,618.35 L463.74,617.06 L462.08,617.48 L463.71,616.08 L462.27,616.37 L462.71,615.63 L463.10,614.92 L461.98,615.03 L461.66,614.70 L461.88,614.09 L460.15,614.51 L459.52,614.34 L458.32,614.46 L458.60,613.81 L457.06,614.11 L457.48,613.38 L455.81,613.73 L455.89,613.19 L453.65,613.81 L454.71,612.77 L453.86,612.69 L453.99,612.11 L452.91,612.14 L451.87,612.13" fill="none" stroke="#7068c4" stroke-width="0.65"/>
<path d="M366.62,639.95 A268.2,268.2 0 0 1 355.80,610.03 L385.72,601.18 A237.0,237.0 0 0 0 395.28,627.63Z" fill="#18956f"/>
<path d="M357.98,643.67 L360.74,642.48 A274.6,274.6 0 0 1 349.66,611.84 M356.96,633.25 L355.38,633.87 M353.53,623.90 L351.92,624.45 M350.44,614.42 L348.81,614.92" fill="none" stroke="#555" stroke-width="0.7"/>
<text transform="translate(613.0,534.0) rotate(246.53) translate(0,-282.80)" font-size="12.5" fill="#222" text-anchor="middle">0</text>
<text transform="translate(613.0,534.0) rotate(250.44) translate(0,-282.70)" font-size="12.5" fill="#222" text-anchor="middle">40</text>
<circle cx="375.44" cy="619.85" r="8.9" fill="#f5f7f7"/>
<text x="375.44" y="624.25" font-size="12.3" fill="#111" text-anchor="middle">4</text>
<linearGradient id="rg2_3" gradientUnits="userSpaceOnUse" x1="415.49" y1="618.94" x2="406.82" y2="594.95"><stop offset="0" stop-color="#a82418"/><stop offset="0.042" stop-color="#e1715d"/><stop offset="0.083" stop-color="#e6826f"/><stop offset="0.125" stop-color="#f1b1a3"/><stop offset="0.167" stop-color="#f6c4b9"/><stop offset="0.208" stop-color="#f6c6bb"/><stop offset="0.250" stop-color="#f5c0b4"/><stop offset="0.292" stop-color="#f6c6ba"/><stop offset="0.333" stop-color="#f7cbc0"/><stop offset="0.375" stop-color="#fbe5e0"/><stop offset="0.417" stop-color="#f6c9bf"/><stop offset="0.458" stop-color="#f6c6ba"/><stop offset="0.500" stop-color="#f7cbc0"/><stop offset="0.542" stop-color="#f8d1c7"/><stop offset="0.583" stop-color="#f8d3c9"/><stop offset="0.625" stop-color="#f7ccc1"/><stop offset="0.667" stop-color="#f5c2b6"/><stop offset="0.708" stop-color="#f7cfc5"/><stop offset="0.750" stop-color="#f6c6ba"/><stop offset="0.792" stop-color="#f5c1b5"/><stop offset="0.833" stop-color="#f0ae9f"/><stop offset="0.875" stop-color="#f1b1a3"/><stop offset="0.917" stop-color="#eb9787"/><stop offset="0.958" stop-color="#d85f4b"/><stop offset="1" stop-color="#a82418"/></linearGradient>
<path d="M404.83,623.52 A226.6,226.6 0 0 1 395.69,598.23 L417.85,591.69 A203.5,203.5 0 0 0 426.05,614.39Z" fill="url(#rg2_3)"/>
<line x1="420.81" y1="600.90" x2="398.99" y2="608.49" stroke="#f8d2c8" stroke-width="0.6" opacity="0.8"/>
<line x1="422.87" y1="606.55" x2="401.29" y2="614.79" stroke="#fbe8e2" stroke-width="0.6" opacity="0.8"/>
<line x1="423.04" y1="606.99" x2="401.48" y2="615.27" stroke="#f7cbc1" stroke-width="0.6" opacity="0.8"/>
<line x1="419.97" y1="598.43" x2="398.06" y2="605.75" stroke="#f3b7aa" stroke-width="0.6" opacity="0.8"/>
<line x1="420.22" y1="599.19" x2="398.34" y2="606.59" stroke="#f7ccc1" stroke-width="0.6" opacity="0.8"/>
<line x1="420.41" y1="599.73" x2="398.55" y2="607.19" stroke="#f9dbd3" stroke-width="0.6" opacity="0.8"/>
<line x1="422.16" y1="604.66" x2="400.50" y2="612.68" stroke="#efaa9b" stroke-width="0.6" opacity="0.8"/>
<line x1="422.62" y1="605.90" x2="401.01" y2="614.06" stroke="#f6c8bd" stroke-width="0.6" opacity="0.8"/>
<path d="M434.78,610.64 A194.0,194.0 0 0 1 426.96,588.99 L458.60,579.64 A161.0,161.0 0 0 0 465.10,597.60Z" fill="#f3f3f4"/>
<path d="M448.38,603.44 L450.05,602.23 L448.75,602.27 L448.35,601.93 L448.41,601.40 L450.18,600.18 L449.16,600.09 L452.12,598.41 L449.95,598.78 L451.01,597.87 L450.99,597.39 L452.38,596.36 L452.23,595.94 L451.71,595.65 L453.62,594.44 L453.78,593.91 L452.02,594.09 L451.51,593.80 L453.22,592.69 L451.93,592.68 L451.64,592.31 L451.74,591.80 L449.58,592.09 L450.65,591.23 L448.47,591.51 L448.87,590.89 L448.95,590.39 L445.74,591.00 L447.47,589.93 L446.89,589.64 L446.43,589.31 L444.82,589.35 L445.23,588.73 L444.33,588.53 L441.51,588.95 L443.27,587.90 L441.62,587.93 L443.00,587.01 L443.55,586.35 L443.61,585.84 L443.38,585.43" fill="none" stroke="#7068c4" stroke-width="0.65"/>
<path d="M353.07,600.10 A268.2,268.2 0 0 1 347.30,570.52 L378.21,566.27 A237.0,237.0 0 0 0 383.31,592.41Z" fill="#18956f"/>
<path d="M343.96,602.41 L346.87,601.67 A274.6,274.6 0 0 1 340.96,571.39 M344.59,591.97 L342.93,592.33 M342.66,582.19 L340.99,582.49 M341.09,572.35 L339.41,572.58" fill="none" stroke="#555" stroke-width="0.7"/>
<text transform="translate(613.0,534.0) rotate(255.53) translate(0,-282.57)" font-size="12.5" fill="#222" text-anchor="middle">0</text>
<text transform="translate(613.0,534.0) rotate(259.44) translate(0,-282.47)" font-size="12.5" fill="#222" text-anchor="middle">40</text>
<circle cx="365.08" cy="582.40" r="8.9" fill="#f5f7f7"/>
<text x="365.08" y="586.80" font-size="12.3" fill="#111" text-anchor="middle">5</text>
<linearGradient id="rg2_4" gradientUnits="userSpaceOnUse" x1="404.63" y1="586.99" x2="400.00" y2="563.27"><stop offset="0" stop-color="#a82418"/><stop offset="0.042" stop-color="#da634f"/><stop offset="0.083" stop-color="#eb9888"/><stop offset="0.125" stop-color="#f3baad"/><stop offset="0.167" stop-color="#f2b6a9"/><stop offset="0.208" stop-color="#f6c8bd"/><stop offset="0.250" stop-color="#f7cec3"/><stop offset="0.292" stop-color="#f7cbc1"/><stop offset="0.333" stop-color="#f7cec4"/><stop offset="0.375" stop-color="#f8d2c8"/><stop offset="0.417" stop-color="#f8d5cc"/><stop offset="0.458" stop-color="#f6c5ba"/><stop offset="0.500" stop-color="#f7cec4"/><stop offset="0.542" stop-color="#f6c9be"/><stop offset="0.583" stop-color="#f6c9be"/><stop offset="0.625" stop-color="#f7cec4"/><stop offset="0.667" stop-color="#f8d1c7"/><stop offset="0.708" stop-color="#f7cfc5"/><stop offset="0.750" stop-color="#f5c0b3"/><stop offset="0.792" stop-color="#f6c8bd"/><stop offset="0.833" stop-color="#f2b3a5"/><stop offset="0.875" stop-color="#f3baad"/><stop offset="0.917" stop-color="#e6806d"/><stop offset="0.958" stop-color="#da634f"/><stop offset="1" stop-color="#a82418"/></linearGradient>
<path d="M393.39,589.84 A226.6,226.6 0 0 1 388.51,564.85 L411.40,561.71 A203.5,203.5 0 0 0 415.78,584.15Z" fill="url(#rg2_4)"/>
<line x1="414.18" y1="577.40" x2="391.61" y2="582.33" stroke="#f6cabf" stroke-width="0.6" opacity="0.8"/>
<line x1="412.62" y1="569.48" x2="389.87" y2="573.51" stroke="#faddd6" stroke-width="0.6" opacity="0.8"/>
<line x1="414.21" y1="577.55" x2="391.65" y2="582.49" stroke="#f9d7cf" stroke-width="0.6" opacity="0.8"/>
<line x1="412.70" y1="569.96" x2="389.97" y2="574.05" stroke="#f4bcaf" stroke-width="0.6" opacity="0.8"/>
<line x1="414.29" y1="577.87" x2="391.73" y2="582.85" stroke="#f9dbd3" stroke-width="0.6" opacity="0.8"/>
<line x1="412.41" y1="568.32" x2="389.65" y2="572.21" stroke="#faddd6" stroke-width="0.6" opacity="0.8"/>
<line x1="414.23" y1="577.63" x2="391.67" y2="582.58" stroke="#f0aea0" stroke-width="0.6" opacity="0.8"/>
<line x1="412.60" y1="569.39" x2="389.85" y2="573.41" stroke="#f8d3ca" stroke-width="0.6" opacity="0.8"/>
<path d="M424.98,581.81 A194.0,194.0 0 0 1 420.81,560.41 L453.50,555.92 A161.0,161.0 0 0 0 456.97,573.68Z" fill="#f3f3f4"/>
<path d="M441.19,576.41 L441.50,575.89 L441.74,575.38 L444.27,574.34 L443.08,574.18 L442.95,573.77 L443.80,573.13 L445.01,572.41 L445.73,571.81 L444.14,571.74 L444.26,571.28 L444.92,570.70 L445.82,570.07 L444.49,569.92 L444.34,569.52 L445.19,568.91 L445.97,568.32 L443.99,568.29 L444.95,567.67 L443.72,567.48 L442.34,567.32 L441.88,566.97 L440.73,566.75 L439.48,566.55 L438.40,566.30 L439.75,565.61 L437.11,565.65 L438.54,564.95 L437.97,564.60 L436.27,564.45 L435.25,564.18 L436.50,563.52 L435.45,563.25 L435.31,562.82 L436.99,562.10 L436.18,561.79 L435.41,561.46 L438.64,560.52 L438.70,560.07 L436.79,559.92 L438.26,559.26" fill="none" stroke="#7068c4" stroke-width="0.65"/>
<path d="M346.09,560.29 A268.2,268.2 0 0 1 344.82,530.60 L376.02,531.00 A237.0,237.0 0 0 0 377.14,557.23Z" fill="#18956f"/>
<path d="M336.74,561.21 L339.72,560.92 A274.6,274.6 0 0 1 338.42,530.52 M338.93,550.98 L337.23,551.09 M338.49,541.02 L336.79,541.07" fill="none" stroke="#555" stroke-width="0.7"/>
<text transform="translate(613.0,534.0) rotate(264.17) translate(0,-282.35)" font-size="12.5" fill="#222" text-anchor="middle">0</text>
<text transform="translate(613.0,534.0) rotate(268.08) translate(0,-282.25)" font-size="12.5" fill="#222" text-anchor="middle">40</text>
<circle cx="360.63" cy="544.80" r="8.9" fill="#f5f7f7"/>
<text x="360.63" y="549.20" font-size="12.3" fill="#111" text-anchor="middle">6</text>
<linearGradient id="rg2_5" gradientUnits="userSpaceOnUse" x1="399.04" y1="555.08" x2="398.02" y2="531.28"><stop offset="0" stop-color="#a82418"/><stop offset="0.042" stop-color="#d45541"/><stop offset="0.083" stop-color="#ea9180"/><stop offset="0.125" stop-color="#f3b7aa"/><stop offset="0.167" stop-color="#f5c0b4"/><stop offset="0.208" stop-color="#f4bdb0"/><stop offset="0.250" stop-color="#f6c5ba"/><stop offset="0.292" stop-color="#fbe5e0"/><stop offset="0.333" stop-color="#fbe5e0"/><stop offset="0.375" stop-color="#f7d0c6"/><stop offset="0.417" stop-color="#f6c5b9"/><stop offset="0.458" stop-color="#f7cfc5"/><stop offset="0.500" stop-color="#f7cabf"/><stop offset="0.542" stop-color="#f6c8bd"/><stop offset="0.583" stop-color="#f7ccc2"/><stop offset="0.625" stop-color="#fbe5e0"/><stop offset="0.667" stop-color="#f8d2c9"/><stop offset="0.708" stop-color="#f8d2c9"/><stop offset="0.750" stop-color="#f7cdc3"/><stop offset="0.792" stop-color="#f6c5ba"/><stop offset="0.833" stop-color="#f6c4b8"/><stop offset="0.875" stop-color="#f0ab9c"/><stop offset="0.917" stop-color="#e88b79"/><stop offset="0.958" stop-color="#df6e5a"/><stop offset="1" stop-color="#a82418"/></linearGradient>
<path d="M387.49,556.21 A226.6,226.6 0 0 1 386.42,531.13 L409.52,531.42 A203.5,203.5 0 0 0 410.48,553.95Z" fill="url(#rg2_5)"/>
<line x1="409.53" y1="537.37" x2="386.43" y2="537.75" stroke="#fbe6e0" stroke-width="0.6" opacity="0.8"/>
<line x1="409.85" y1="545.87" x2="386.79" y2="547.22" stroke="#fbe3dd" stroke-width="0.6" opacity="0.8"/>
<line x1="409.92" y1="547.13" x2="386.87" y2="548.62" stroke="#fcefeb" stroke-width="0.6" opacity="0.8"/>
<line x1="409.53" y1="537.53" x2="386.43" y2="537.93" stroke="#eea293" stroke-width="0.6" opacity="0.8"/>
<line x1="409.97" y1="547.89" x2="386.93" y2="549.47" stroke="#f2b3a5" stroke-width="0.6" opacity="0.8"/>
<line x1="409.65" y1="541.81" x2="386.57" y2="542.70" stroke="#fae2dc" stroke-width="0.6" opacity="0.8"/>
<line x1="409.55" y1="538.39" x2="386.45" y2="538.88" stroke="#fbe8e3" stroke-width="0.6" opacity="0.8"/>
<line x1="409.62" y1="541.12" x2="386.54" y2="541.93" stroke="#f6c5ba" stroke-width="0.6" opacity="0.8"/>
<path d="M419.93,553.02 A194.0,194.0 0 0 1 419.02,531.54 L452.01,531.96 A161.0,161.0 0 0 0 452.78,549.78Z" fill="#f3f3f4"/>
<path d="M439.49,549.87 L441.49,549.27 L442.25,548.78 L441.14,548.46 L442.56,547.92 L441.84,547.57 L441.59,547.17 L443.94,546.58 L441.72,546.32 L440.80,545.97 L442.44,545.44 L441.60,545.08 L442.00,544.64 L439.79,544.36 L441.38,543.84 L441.20,543.44 L439.30,543.12 L438.85,542.72 L437.80,542.35 L438.33,541.90 L435.39,541.60 L436.06,541.14 L435.99,540.71 L434.37,540.34 L436.24,539.85 L433.10,539.52 L433.15,539.08 L434.86,538.60 L434.20,538.18 L435.59,537.72 L433.35,537.33 L433.03,536.90 L434.58,536.44 L433.78,536.02 L435.89,535.57 L435.17,535.14 L435.84,534.71 L436.19,534.28 L438.31,533.85 L438.77,533.43 L440.89,533.02" fill="none" stroke="#7068c4" stroke-width="0.65"/>
<path d="M345.15,520.31 A268.2,268.2 0 0 1 348.21,491.39 L379.01,496.34 A237.0,237.0 0 0 0 376.31,521.90Z" fill="#18956f"/>
<path d="M335.76,519.83 L338.76,519.98 A274.6,274.6 0 0 1 341.89,490.37 M339.45,510.04 L337.75,509.89 M340.50,500.13 L338.81,499.92" fill="none" stroke="#555" stroke-width="0.7"/>
<text transform="translate(613.0,534.0) rotate(272.73) translate(0,-282.13)" font-size="12.5" fill="#222" text-anchor="middle">0</text>
<text transform="translate(613.0,534.0) rotate(276.64) translate(0,-282.03)" font-size="12.5" fill="#222" text-anchor="middle">40</text>
<circle cx="361.80" cy="507.45" r="8.9" fill="#f5f7f7"/>
<text x="361.80" y="511.85" font-size="12.3" fill="#111" text-anchor="middle">7</text>
<linearGradient id="rg2_6" gradientUnits="userSpaceOnUse" x1="398.28" y1="523.03" x2="400.73" y2="499.84"><stop offset="0" stop-color="#a82418"/><stop offset="0.042" stop-color="#e1735f"/><stop offset="0.083" stop-color="#e98d7b"/><stop offset="0.125" stop-color="#efa798"/><stop offset="0.167" stop-color="#f6c5b9"/><stop offset="0.208" stop-color="#f6c7bc"/><stop offset="0.250" stop-color="#f7cbc1"/><stop offset="0.292" stop-color="#f8d3c9"/><stop offset="0.333" stop-color="#f7cdc3"/><stop offset="0.375" stop-color="#f6c9be"/><stop offset="0.417" stop-color="#f6c6bb"/><stop offset="0.458" stop-color="#f7cbc0"/><stop offset="0.500" stop-color="#fbe5e0"/><stop offset="0.542" stop-color="#f7d0c6"/><stop offset="0.583" stop-color="#f7d0c6"/><stop offset="0.625" stop-color="#f7cec4"/><stop offset="0.667" stop-color="#f8d3ca"/><stop offset="0.708" stop-color="#f5c0b3"/><stop offset="0.750" stop-color="#f7cbc0"/><stop offset="0.792" stop-color="#f3baad"/><stop offset="0.833" stop-color="#efaa9b"/><stop offset="0.875" stop-color="#f3b8ab"/><stop offset="0.917" stop-color="#ed9f8f"/><stop offset="0.958" stop-color="#d65b47"/><stop offset="1" stop-color="#a82418"/></linearGradient>
<path d="M386.70,522.43 A226.6,226.6 0 0 1 389.28,498.00 L412.08,501.67 A203.5,203.5 0 0 0 409.77,523.61Z" fill="url(#rg2_6)"/>
<line x1="410.15" y1="517.77" x2="387.12" y2="515.93" stroke="#f1b2a4" stroke-width="0.6" opacity="0.8"/>
<line x1="410.82" y1="510.85" x2="387.87" y2="508.22" stroke="#f8d2c8" stroke-width="0.6" opacity="0.8"/>
<line x1="410.25" y1="516.53" x2="387.24" y2="514.55" stroke="#f7d0c6" stroke-width="0.6" opacity="0.8"/>
<line x1="410.63" y1="512.63" x2="387.65" y2="510.20" stroke="#fae3dd" stroke-width="0.6" opacity="0.8"/>
<line x1="411.14" y1="508.22" x2="388.23" y2="505.30" stroke="#f4beb2" stroke-width="0.6" opacity="0.8"/>
<line x1="410.27" y1="516.28" x2="387.26" y2="514.27" stroke="#f6c8bd" stroke-width="0.6" opacity="0.8"/>
<line x1="410.74" y1="511.53" x2="387.79" y2="508.98" stroke="#eea596" stroke-width="0.6" opacity="0.8"/>
<line x1="411.25" y1="507.33" x2="388.35" y2="504.31" stroke="#f0ab9d" stroke-width="0.6" opacity="0.8"/>
<path d="M419.25,524.10 A194.0,194.0 0 0 1 421.46,503.18 L454.05,508.42 A161.0,161.0 0 0 0 452.21,525.78Z" fill="#f3f3f4"/>
<path d="M443.20,524.13 L442.31,523.68 L443.36,523.34 L441.56,522.82 L443.70,522.55 L441.22,521.98 L441.71,521.61 L441.35,521.17 L440.03,520.66 L439.85,520.24 L439.80,519.82 L439.60,519.39 L439.29,518.95 L438.80,518.50 L439.77,518.17 L438.66,517.65 L436.54,517.03 L436.91,516.65 L436.34,516.17 L434.71,515.58 L435.86,515.28 L434.56,514.71 L434.19,514.24 L434.08,513.80 L436.05,513.60 L435.03,513.06 L435.74,512.72 L435.72,512.29 L437.74,512.12 L437.92,511.72 L438.32,511.35 L437.23,510.79 L437.88,510.45 L439.82,510.30 L439.80,509.87 L440.99,509.63 L441.32,509.26 L442.78,509.06 L443.08,508.69 L441.62,508.06 L442.26,507.75" fill="none" stroke="#7068c4" stroke-width="0.65"/>
<path d="M350.04,481.25 A268.2,268.2 0 0 1 357.23,453.29 L386.99,462.68 A237.0,237.0 0 0 0 380.63,487.39Z" fill="#18956f"/>
<path d="M340.82,479.41 L343.76,480.00 A274.6,274.6 0 0 1 351.13,451.37 M345.90,470.26 L344.25,469.86 M348.39,460.61 L346.75,460.15" fill="none" stroke="#555" stroke-width="0.7"/>
<text transform="translate(613.0,534.0) rotate(281.14) translate(0,-281.91)" font-size="12.5" fill="#222" text-anchor="middle">0</text>
<text transform="translate(613.0,534.0) rotate(285.05) translate(0,-281.81)" font-size="12.5" fill="#222" text-anchor="middle">40</text>
<circle cx="368.37" cy="471.06" r="8.9" fill="#f5f7f7"/>
<text x="368.37" y="475.46" font-size="12.3" fill="#111" text-anchor="middle">8</text>
<linearGradient id="rg2_7" gradientUnits="userSpaceOnUse" x1="402.20" y1="491.72" x2="407.97" y2="469.30"><stop offset="0" stop-color="#a82418"/><stop offset="0.042" stop-color="#e1725e"/><stop offset="0.083" stop-color="#e68370"/><stop offset="0.125" stop-color="#f0ac9e"/><stop offset="0.167" stop-color="#f2b6a9"/><stop offset="0.208" stop-color="#f5c2b6"/><stop offset="0.250" stop-color="#f6c6bb"/><stop offset="0.292" stop-color="#f5c2b6"/><stop offset="0.333" stop-color="#f6c5b9"/><stop offset="0.375" stop-color="#f8d4cb"/><stop offset="0.417" stop-color="#f7ccc2"/><stop offset="0.458" stop-color="#f7ccc1"/><stop offset="0.500" stop-color="#f8d3c9"/><stop offset="0.542" stop-color="#f7ccc1"/><stop offset="0.583" stop-color="#f6c9be"/><stop offset="0.625" stop-color="#f8d3ca"/><stop offset="0.667" stop-color="#fbe5e0"/><stop offset="0.708" stop-color="#fbe5e0"/><stop offset="0.750" stop-color="#f6c5b9"/><stop offset="0.792" stop-color="#f5c1b5"/><stop offset="0.833" stop-color="#f5c2b6"/><stop offset="0.875" stop-color="#f3b9ac"/><stop offset="0.917" stop-color="#eb9888"/><stop offset="0.958" stop-color="#d75c48"/><stop offset="1" stop-color="#a82418"/></linearGradient>
<path d="M390.83,489.44 A226.6,226.6 0 0 1 396.90,465.81 L418.93,472.76 A203.5,203.5 0 0 0 413.47,493.98Z" fill="url(#rg2_7)"/>
<line x1="416.80" y1="479.98" x2="394.53" y2="473.84" stroke="#fbe5df" stroke-width="0.6" opacity="0.8"/>
<line x1="416.25" y1="482.02" x2="393.92" y2="476.12" stroke="#f9dcd5" stroke-width="0.6" opacity="0.8"/>
<line x1="414.73" y1="488.17" x2="392.22" y2="482.96" stroke="#fbe4de" stroke-width="0.6" opacity="0.8"/>
<line x1="414.90" y1="487.44" x2="392.41" y2="482.15" stroke="#fbe5e0" stroke-width="0.6" opacity="0.8"/>
<line x1="414.72" y1="488.22" x2="392.21" y2="483.02" stroke="#eda191" stroke-width="0.6" opacity="0.8"/>
<line x1="415.54" y1="484.79" x2="393.13" y2="479.20" stroke="#f4bcaf" stroke-width="0.6" opacity="0.8"/>
<line x1="415.71" y1="484.12" x2="393.31" y2="478.46" stroke="#f7cfc6" stroke-width="0.6" opacity="0.8"/>
<line x1="415.26" y1="485.94" x2="392.81" y2="480.48" stroke="#eea595" stroke-width="0.6" opacity="0.8"/>
<path d="M422.79,495.85 A194.0,194.0 0 0 1 427.99,475.62 L459.46,485.55 A161.0,161.0 0 0 0 455.14,502.34Z" fill="#f3f3f4"/>
<path d="M446.41,499.37 L443.99,498.46 L444.39,498.13 L443.87,497.60 L445.94,497.64 L442.77,496.53 L443.37,496.25 L443.11,495.77 L442.64,495.24 L442.50,494.79 L440.40,493.88 L439.82,493.32 L439.45,492.80 L441.56,492.88 L440.00,492.08 L439.19,491.45 L440.59,491.36 L438.28,490.36 L438.69,490.02 L440.72,490.11 L440.34,489.58 L439.42,488.91 L439.15,488.40 L439.23,487.99 L441.98,488.29 L440.83,487.55 L442.24,487.50 L443.60,487.44 L444.68,487.31 L445.81,487.21 L446.74,487.05 L446.21,486.47 L447.83,486.52 L448.19,486.20 L448.38,485.84 L449.44,485.73 L449.65,485.38 L449.82,485.01 L447.85,484.00 L449.68,484.13 L449.14,483.55" fill="none" stroke="#7068c4" stroke-width="0.65"/>
<path d="M360.52,443.53 A268.2,268.2 0 0 1 371.34,417.67 L399.45,431.21 A237.0,237.0 0 0 0 389.89,454.06Z" fill="#18956f"/>
<path d="M351.67,440.36 L354.49,441.37 A274.6,274.6 0 0 1 365.57,414.90 M358.03,432.05 L356.45,431.42 M361.89,422.87 L360.34,422.18" fill="none" stroke="#555" stroke-width="0.7"/>
<text transform="translate(613.0,534.0) rotate(289.51) translate(0,-281.70)" font-size="12.5" fill="#222" text-anchor="middle">0</text>
<text transform="translate(613.0,534.0) rotate(293.42) translate(0,-281.60)" font-size="12.5" fill="#222" text-anchor="middle">40</text>
<circle cx="379.98" cy="436.48" r="8.9" fill="#f5f7f7"/>
<text x="379.98" y="440.88" font-size="12.3" fill="#111" text-anchor="middle">9</text>
<linearGradient id="rg2_8" gradientUnits="userSpaceOnUse" x1="410.60" y1="461.48" x2="419.28" y2="440.75"><stop offset="0" stop-color="#a82418"/><stop offset="0.042" stop-color="#d04e3a"/><stop offset="0.083" stop-color="#e68471"/><stop offset="0.125" stop-color="#ec9b8b"/><stop offset="0.167" stop-color="#f0aea0"/><stop offset="0.208" stop-color="#f4bdb1"/><stop offset="0.250" stop-color="#f4bfb3"/><stop offset="0.292" stop-color="#f7cdc3"/><stop offset="0.333" stop-color="#f7cec4"/><stop offset="0.375" stop-color="#f8d0c7"/><stop offset="0.417" stop-color="#f8d1c8"/><stop offset="0.458" stop-color="#f6c9be"/><stop offset="0.500" stop-color="#fbe5e0"/><stop offset="0.542" stop-color="#f6c6bb"/><stop offset="0.583" stop-color="#f7ccc2"/><stop offset="0.625" stop-color="#f7ccc2"/><stop offset="0.667" stop-color="#f8d1c8"/><stop offset="0.708" stop-color="#f6c8bd"/><stop offset="0.750" stop-color="#f7cabf"/><stop offset="0.792" stop-color="#f4beb2"/><stop offset="0.833" stop-color="#f5bfb3"/><stop offset="0.875" stop-color="#f2b6a8"/><stop offset="0.917" stop-color="#ea9584"/><stop offset="0.958" stop-color="#d45743"/><stop offset="1" stop-color="#a82418"/></linearGradient>
<path d="M399.68,457.56 A226.6,226.6 0 0 1 408.82,435.72 L429.64,445.74 A203.5,203.5 0 0 0 421.43,465.36Z" fill="url(#rg2_8)"/>
<line x1="425.33" y1="455.30" x2="404.03" y2="446.37" stroke="#f6c6ba" stroke-width="0.6" opacity="0.8"/>
<line x1="427.11" y1="451.20" x2="406.01" y2="441.80" stroke="#f6c7bb" stroke-width="0.6" opacity="0.8"/>
<line x1="427.29" y1="450.79" x2="406.21" y2="441.35" stroke="#fae0d9" stroke-width="0.6" opacity="0.8"/>
<line x1="426.84" y1="451.80" x2="405.71" y2="442.47" stroke="#f4bdb0" stroke-width="0.6" opacity="0.8"/>
<line x1="425.57" y1="454.75" x2="404.29" y2="445.75" stroke="#f7cabf" stroke-width="0.6" opacity="0.8"/>
<line x1="423.94" y1="458.71" x2="402.48" y2="450.16" stroke="#fceeea" stroke-width="0.6" opacity="0.8"/>
<line x1="423.41" y1="460.06" x2="401.89" y2="451.67" stroke="#f0ab9d" stroke-width="0.6" opacity="0.8"/>
<path d="M430.37,468.56 A194.0,194.0 0 0 1 438.20,449.86 L467.93,464.17 A161.0,161.0 0 0 0 461.44,479.69Z" fill="#f3f3f4"/>
<path d="M451.35,474.80 L450.39,474.03 L450.47,473.64 L448.74,472.58 L448.72,472.14 L449.36,471.96 L448.13,471.07 L448.99,470.97 L446.44,469.56 L448.46,469.91 L445.96,468.50 L446.90,468.43 L447.95,468.42 L445.45,466.98 L447.85,467.51 L446.59,466.57 L448.09,466.74 L448.81,466.60 L447.29,465.53 L447.51,465.18 L448.08,464.98 L449.36,465.08 L450.13,464.97 L452.26,465.45 L450.52,464.27 L453.22,465.00 L453.03,464.49 L455.53,465.15 L455.34,464.64 L455.35,464.22 L456.05,464.10 L456.71,463.97 L457.21,463.77 L458.59,463.97 L457.00,462.82 L457.99,462.85 L458.76,462.78 L457.99,462.00 L457.01,461.11 L456.61,460.49 L457.32,460.39" fill="none" stroke="#7068c4" stroke-width="0.65"/>
<path d="M375.98,408.48 A268.2,268.2 0 0 1 389.68,385.48 L415.66,402.76 A237.0,237.0 0 0 0 403.56,423.08Z" fill="#18956f"/>
<path d="M367.68,404.08 L370.33,405.49 A274.6,274.6 0 0 1 384.35,381.94 M375.15,396.76 L373.68,395.92 M380.29,388.22 L378.85,387.32" fill="none" stroke="#555" stroke-width="0.7"/>
<text transform="translate(613.0,534.0) rotate(297.70) translate(0,-281.50)" font-size="12.5" fill="#222" text-anchor="middle">0</text>
<text transform="translate(613.0,534.0) rotate(301.61) translate(0,-281.41)" font-size="12.5" fill="#222" text-anchor="middle">40</text>
<circle cx="395.95" cy="404.79" r="8.9" fill="#f5f7f7"/>
<text x="395.95" y="409.19" font-size="12.3" fill="#111" text-anchor="middle">10</text>
<linearGradient id="rg2_9" gradientUnits="userSpaceOnUse" x1="423.00" y1="433.38" x2="433.97" y2="414.94"><stop offset="0" stop-color="#a82418"/><stop offset="0.042" stop-color="#d75c48"/><stop offset="0.083" stop-color="#e88c7a"/><stop offset="0.125" stop-color="#f0ab9c"/><stop offset="0.167" stop-color="#f0aa9c"/><stop offset="0.208" stop-color="#f6c7bc"/><stop offset="0.250" stop-color="#f6c8bc"/><stop offset="0.292" stop-color="#fbe5e0"/><stop offset="0.333" stop-color="#f8d1c7"/><stop offset="0.375" stop-color="#fbe5e0"/><stop offset="0.417" stop-color="#f6c5ba"/><stop offset="0.458" stop-color="#f7cdc3"/><stop offset="0.500" stop-color="#f8d1c7"/><stop offset="0.542" stop-color="#f6c9be"/><stop offset="0.583" stop-color="#fbe5e0"/><stop offset="0.625" stop-color="#f8d4cb"/><stop offset="0.667" stop-color="#f8d4cb"/><stop offset="0.708" stop-color="#f6cabf"/><stop offset="0.750" stop-color="#f7cbc1"/><stop offset="0.792" stop-color="#f2b6a9"/><stop offset="0.833" stop-color="#f0ab9c"/><stop offset="0.875" stop-color="#eda192"/><stop offset="0.917" stop-color="#e98e7d"/><stop offset="0.958" stop-color="#d04f3b"/><stop offset="1" stop-color="#a82418"/></linearGradient>
<path d="M412.75,427.95 A226.6,226.6 0 0 1 424.32,408.52 L443.55,421.31 A203.5,203.5 0 0 0 433.16,438.76Z" fill="url(#rg2_9)"/>
<line x1="436.76" y1="432.26" x2="416.75" y2="420.72" stroke="#fbe7e1" stroke-width="0.6" opacity="0.8"/>
<line x1="436.32" y1="433.02" x2="416.27" y2="421.55" stroke="#fbe9e4" stroke-width="0.6" opacity="0.8"/>
<line x1="437.57" y1="430.87" x2="417.65" y2="419.16" stroke="#f6c9be" stroke-width="0.6" opacity="0.8"/>
<line x1="436.64" y1="432.46" x2="416.62" y2="420.94" stroke="#fceae5" stroke-width="0.6" opacity="0.8"/>
<line x1="437.30" y1="431.33" x2="417.35" y2="419.68" stroke="#f8d3c9" stroke-width="0.6" opacity="0.8"/>
<line x1="440.14" y1="426.61" x2="420.52" y2="414.42" stroke="#f0ab9d" stroke-width="0.6" opacity="0.8"/>
<line x1="439.83" y1="427.11" x2="420.18" y2="414.98" stroke="#fadfd8" stroke-width="0.6" opacity="0.8"/>
<path d="M441.56,443.21 A194.0,194.0 0 0 1 451.46,426.57 L478.94,444.85 A161.0,161.0 0 0 0 470.72,458.65Z" fill="#f3f3f4"/>
<path d="M457.95,450.50 L459.11,450.70 L457.90,449.61 L457.72,449.08 L458.28,448.96 L457.19,447.92 L457.80,447.82 L456.22,446.50 L457.77,446.93 L456.32,445.67 L458.13,446.25 L458.87,446.24 L458.00,445.30 L457.18,444.38 L458.34,444.61 L459.96,445.11 L459.86,444.61 L461.01,444.84 L460.79,444.27 L462.54,444.87 L463.60,445.06 L462.04,443.70 L465.39,445.27 L465.81,445.09 L465.95,444.74 L466.51,444.65 L466.44,444.18 L467.06,444.13 L468.38,444.51 L466.85,443.13 L467.41,443.04 L468.98,443.59 L469.08,443.22 L469.22,442.88 L468.05,441.70 L467.56,440.95 L467.13,440.23 L468.17,440.46 L466.20,438.74 L465.79,438.03 L466.62,438.12" fill="none" stroke="#7068c4" stroke-width="0.65"/>
<path d="M395.54,377.02 A268.2,268.2 0 0 1 409.36,359.46 L433.05,379.77 A237.0,237.0 0 0 0 420.84,395.28Z" fill="#18956f"/>
<path d="M387.92,371.52 L390.35,373.27 A274.6,274.6 0 0 1 404.50,355.30 M396.33,365.30 L394.99,364.25 M402.60,357.54 L401.30,356.45" fill="none" stroke="#555" stroke-width="0.7"/>
<text transform="translate(613.0,534.0) rotate(305.63) translate(0,-281.33)" font-size="12.5" fill="#222" text-anchor="middle">0</text>
<text transform="translate(613.0,534.0) rotate(309.54) translate(0,-281.25)" font-size="12.5" fill="#222" text-anchor="middle">40</text>
<circle cx="414.53" cy="377.75" r="8.9" fill="#f5f7f7"/>
<text x="414.53" y="382.15" font-size="12.3" fill="#111" text-anchor="middle">11</text>
<linearGradient id="rg2_10" gradientUnits="userSpaceOnUse" x1="438.68" y1="408.16" x2="449.76" y2="394.08"><stop offset="0" stop-color="#a82418"/><stop offset="0.042" stop-color="#e06f5b"/><stop offset="0.083" stop-color="#e78875"/><stop offset="0.125" stop-color="#f3baad"/><stop offset="0.167" stop-color="#f2b7a9"/><stop offset="0.208" stop-color="#f4beb2"/><stop offset="0.250" stop-color="#f8d0c7"/><stop offset="0.292" stop-color="#f8d0c7"/><stop offset="0.333" stop-color="#f7ccc2"/><stop offset="0.375" stop-color="#f6c7bc"/><stop offset="0.417" stop-color="#f8d5cc"/><stop offset="0.458" stop-color="#f8d2c9"/><stop offset="0.500" stop-color="#f6c6ba"/><stop offset="0.542" stop-color="#f7cfc5"/><stop offset="0.583" stop-color="#fbe5e0"/><stop offset="0.625" stop-color="#f7cbc0"/><stop offset="0.667" stop-color="#fbe5e0"/><stop offset="0.708" stop-color="#f7cdc3"/><stop offset="0.750" stop-color="#f6c4b9"/><stop offset="0.792" stop-color="#f2b5a8"/><stop offset="0.833" stop-color="#f2b5a8"/><stop offset="0.875" stop-color="#f0ad9e"/><stop offset="0.917" stop-color="#e57e6b"/><stop offset="0.958" stop-color="#d14f3b"/><stop offset="1" stop-color="#a82418"/></linearGradient>
<path d="M429.27,401.37 A226.6,226.6 0 0 1 440.95,386.53 L458.49,401.57 A203.5,203.5 0 0 0 448.00,414.89Z" fill="url(#rg2_10)"/>
<line x1="452.95" y1="408.32" x2="434.78" y2="394.05" stroke="#f7cfc5" stroke-width="0.6" opacity="0.8"/>
<line x1="451.06" y1="410.77" x2="432.67" y2="396.78" stroke="#f6c7bc" stroke-width="0.6" opacity="0.8"/>
<line x1="454.23" y1="406.71" x2="436.20" y2="392.26" stroke="#f8d2c8" stroke-width="0.6" opacity="0.8"/>
<line x1="453.55" y1="407.56" x2="435.45" y2="393.20" stroke="#efa99a" stroke-width="0.6" opacity="0.8"/>
<line x1="453.75" y1="407.31" x2="435.67" y2="392.93" stroke="#f6c4b8" stroke-width="0.6" opacity="0.8"/>
<line x1="455.14" y1="405.58" x2="437.22" y2="391.00" stroke="#f4bfb3" stroke-width="0.6" opacity="0.8"/>
<path d="M455.70,420.45 A194.0,194.0 0 0 1 465.70,407.75 L490.76,429.23 A161.0,161.0 0 0 0 482.46,439.76Z" fill="#f3f3f4"/>
<path d="M469.82,429.11 L468.36,427.65 L468.28,427.21 L470.47,428.44 L468.14,426.33 L470.39,427.61 L468.75,426.00 L469.63,426.27 L469.62,425.88 L471.15,426.64 L471.79,426.74 L472.61,426.98 L473.34,427.15 L473.99,427.27 L474.51,427.28 L473.54,426.15 L474.93,426.85 L474.80,426.36 L475.13,426.23 L477.13,427.42 L478.38,428.01 L477.10,426.63 L479.53,428.17 L478.93,427.32 L478.44,426.54 L480.49,427.81 L480.32,427.29 L479.47,426.22 L480.87,426.98 L478.93,425.02 L479.12,424.79 L479.44,424.66 L478.68,423.65 L480.02,424.36 L478.00,422.30 L478.48,422.30 L478.57,421.99 L477.23,420.47 L477.85,420.59 L478.63,420.85 L476.84,418.94" fill="none" stroke="#7068c4" stroke-width="0.65"/>
<line x1="526.23" y1="427.98" x2="516.09" y2="415.60" stroke="#1a1a1a" stroke-width="1.0"/>
<line x1="547.84" y1="413.49" x2="540.23" y2="399.41" stroke="#1a1a1a" stroke-width="1.0"/>
<line x1="570.89" y1="403.63" x2="565.97" y2="388.41" stroke="#1a1a1a" stroke-width="1.0"/>
<line x1="588.50" y1="399.21" x2="585.64" y2="383.47" stroke="#1a1a1a" stroke-width="1.0"/>
<line x1="592.99" y1="398.47" x2="590.65" y2="382.64" stroke="#1a1a1a" stroke-width="1.0"/>
<line x1="616.59" y1="397.05" x2="617.01" y2="381.05" stroke="#1a1a1a" stroke-width="1.0"/>
<line x1="656.24" y1="404.00" x2="661.29" y2="388.82" stroke="#1a1a1a" stroke-width="1.0"/>
<line x1="661.20" y1="405.76" x2="666.83" y2="390.78" stroke="#1a1a1a" stroke-width="1.0"/>
<line x1="676.47" y1="412.59" x2="683.88" y2="398.41" stroke="#1a1a1a" stroke-width="1.0"/>
<line x1="710.55" y1="437.81" x2="721.94" y2="426.57" stroke="#1a1a1a" stroke-width="1.0"/>
<line x1="727.51" y1="458.78" x2="740.88" y2="450.00" stroke="#1a1a1a" stroke-width="1.0"/>
<line x1="735.07" y1="471.80" x2="749.32" y2="464.54" stroke="#1a1a1a" stroke-width="1.0"/>
<line x1="742.92" y1="490.53" x2="758.09" y2="485.45" stroke="#1a1a1a" stroke-width="1.0"/>
<line x1="744.43" y1="495.32" x2="759.78" y2="490.80" stroke="#1a1a1a" stroke-width="1.0"/>
<line x1="747.66" y1="508.80" x2="763.39" y2="505.86" stroke="#1a1a1a" stroke-width="1.0"/>
<line x1="750.00" y1="534.72" x2="766.00" y2="534.80" stroke="#1a1a1a" stroke-width="1.0"/>
<line x1="747.75" y1="558.73" x2="763.49" y2="561.62" stroke="#1a1a1a" stroke-width="1.0"/>
<line x1="742.69" y1="578.15" x2="757.84" y2="583.31" stroke="#1a1a1a" stroke-width="1.0"/>
<line x1="741.24" y1="582.20" x2="756.22" y2="587.83" stroke="#1a1a1a" stroke-width="1.0"/>
<line x1="733.74" y1="598.74" x2="747.84" y2="606.30" stroke="#1a1a1a" stroke-width="1.0"/>
<line x1="731.29" y1="603.12" x2="745.10" y2="611.19" stroke="#1a1a1a" stroke-width="1.0"/>
<line x1="706.96" y1="633.70" x2="717.93" y2="645.35" stroke="#1a1a1a" stroke-width="1.0"/>
<line x1="702.70" y1="637.55" x2="713.18" y2="649.65" stroke="#1a1a1a" stroke-width="1.0"/>
<line x1="689.81" y1="647.44" x2="698.78" y2="660.69" stroke="#1a1a1a" stroke-width="1.0"/>
<line x1="686.00" y1="649.93" x2="694.53" y2="663.47" stroke="#1a1a1a" stroke-width="1.0"/>
<line x1="671.55" y1="657.86" x2="678.39" y2="672.32" stroke="#1a1a1a" stroke-width="1.0"/>
<line x1="645.91" y1="666.99" x2="649.75" y2="682.52" stroke="#1a1a1a" stroke-width="1.0"/>
<line x1="632.78" y1="669.57" x2="635.09" y2="685.40" stroke="#1a1a1a" stroke-width="1.0"/>
<line x1="610.13" y1="670.97" x2="609.80" y2="686.97" stroke="#1a1a1a" stroke-width="1.0"/>
<line x1="607.02" y1="670.87" x2="606.33" y2="686.85" stroke="#1a1a1a" stroke-width="1.0"/>
<line x1="590.86" y1="669.20" x2="588.27" y2="684.99" stroke="#1a1a1a" stroke-width="1.0"/>
<line x1="586.86" y1="668.48" x2="583.81" y2="684.19" stroke="#1a1a1a" stroke-width="1.0"/>
<line x1="569.08" y1="663.77" x2="563.95" y2="678.92" stroke="#1a1a1a" stroke-width="1.0"/>
<line x1="534.62" y1="646.36" x2="525.46" y2="659.48" stroke="#1a1a1a" stroke-width="1.0"/>
<line x1="523.66" y1="637.86" x2="513.23" y2="649.99" stroke="#f0a060" stroke-width="1.0"/>
<line x1="516.98" y1="631.72" x2="505.76" y2="643.13" stroke="#1a1a1a" stroke-width="1.0"/>
<line x1="512.15" y1="626.73" x2="500.38" y2="637.56" stroke="#1a1a1a" stroke-width="1.0"/>
<line x1="507.75" y1="621.70" x2="495.45" y2="631.94" stroke="#f0a060" stroke-width="1.0"/>
<line x1="498.76" y1="609.62" x2="485.42" y2="618.45" stroke="#1a1a1a" stroke-width="1.0"/>
<line x1="496.31" y1="605.79" x2="482.69" y2="614.17" stroke="#1a1a1a" stroke-width="1.0"/>
<line x1="492.37" y1="598.95" x2="478.29" y2="606.54" stroke="#f0a060" stroke-width="1.0"/>
<line x1="488.34" y1="590.81" x2="473.78" y2="597.45" stroke="#1a1a1a" stroke-width="1.0"/>
<line x1="486.25" y1="585.99" x2="471.44" y2="592.06" stroke="#1a1a1a" stroke-width="1.0"/>
<line x1="483.31" y1="578.15" x2="468.16" y2="583.31" stroke="#f0a060" stroke-width="1.0"/>
<line x1="481.31" y1="571.76" x2="465.93" y2="576.17" stroke="#1a1a1a" stroke-width="1.0"/>
<line x1="479.62" y1="565.28" x2="464.04" y2="568.94" stroke="#1a1a1a" stroke-width="1.0"/>
<line x1="478.61" y1="560.61" x2="462.91" y2="563.72" stroke="#f0a060" stroke-width="1.0"/>
<line x1="477.27" y1="552.59" x2="461.42" y2="554.76" stroke="#1a1a1a" stroke-width="1.0"/>
<line x1="476.61" y1="546.89" x2="460.68" y2="548.40" stroke="#1a1a1a" stroke-width="1.0"/>
<line x1="476.16" y1="540.69" x2="460.18" y2="541.47" stroke="#f0a060" stroke-width="1.0"/>
<line x1="476.01" y1="532.09" x2="460.01" y2="531.86" stroke="#1a1a1a" stroke-width="1.0"/>
<line x1="476.19" y1="526.83" x2="460.21" y2="525.99" stroke="#1a1a1a" stroke-width="1.0"/>
<line x1="476.88" y1="518.49" x2="460.98" y2="516.68" stroke="#f0a060" stroke-width="1.0"/>
<line x1="477.72" y1="512.33" x2="461.93" y2="509.80" stroke="#1a1a1a" stroke-width="1.0"/>
<line x1="478.85" y1="506.22" x2="463.18" y2="502.97" stroke="#1a1a1a" stroke-width="1.0"/>
<line x1="480.36" y1="499.70" x2="464.87" y2="495.69" stroke="#f0a060" stroke-width="1.0"/>
<line x1="482.06" y1="493.72" x2="466.76" y2="489.01" stroke="#1a1a1a" stroke-width="1.0"/>
<line x1="483.94" y1="488.04" x2="468.87" y2="482.68" stroke="#1a1a1a" stroke-width="1.0"/>
<line x1="486.34" y1="481.79" x2="471.54" y2="475.70" stroke="#f0a060" stroke-width="1.0"/>
<line x1="488.73" y1="476.32" x2="474.22" y2="469.58" stroke="#1a1a1a" stroke-width="1.0"/>
<line x1="491.37" y1="470.95" x2="477.16" y2="463.59" stroke="#1a1a1a" stroke-width="1.0"/>
<line x1="494.47" y1="465.29" x2="480.63" y2="457.27" stroke="#f0a060" stroke-width="1.0"/>
<line x1="501.19" y1="454.83" x2="488.13" y2="445.59" stroke="#1a1a1a" stroke-width="1.0"/>
<line x1="505.49" y1="449.09" x2="492.93" y2="439.17" stroke="#f0a060" stroke-width="1.0"/>
<line x1="508.82" y1="445.03" x2="496.66" y2="434.63" stroke="#1a1a1a" stroke-width="1.0"/>
<text x="662" y="510.8" font-size="12" font-style="italic" fill="#d9a02c" text-anchor="middle">Stephania yunnanensis</text>
<text x="552.7" y="586.7" font-size="12" font-style="italic" fill="#1f9570" text-anchor="middle">Stephania japonica</text>
<text x="654" y="625" font-size="12" font-style="italic" fill="#c070a0" text-anchor="middle">Stephania cepharantha</text>
<path d="M655.3,496.5 L654,484 L651,470 M654,484 L659,470 L660,455 M654,484 L646,478 M659,470 L668,462 M660,455 L659,446 L666,431 M657,447 L652,437" stroke="#8a3e34" stroke-width="1.3" fill="none"/>
<path d="M659,446 L666,431 M641,470 L628,466" stroke="#c0a88a" stroke-width="0.7" fill="none"/>
<ellipse cx="637" cy="461.4" rx="7" ry="8" transform="rotate(0,637,461.4)" fill="#6aa66a"/>
<ellipse cx="657.2" cy="460.5" rx="8" ry="8.5" transform="rotate(0,657.2,460.5)" fill="#6ba66c"/>
<ellipse cx="644.7" cy="458" rx="4" ry="11.7" transform="rotate(30,644.7,458)" fill="#5c9c68"/>
<ellipse cx="664.2" cy="455.5" rx="5" ry="13" transform="rotate(-43,664.2,455.5)" fill="#6aa272"/>
<ellipse cx="639.9" cy="477.8" rx="5" ry="8.5" transform="rotate(12,639.9,477.8)" fill="#4d8c5e"/>
<ellipse cx="651.4" cy="474.5" rx="5.5" ry="7.5" transform="rotate(0,651.4,474.5)" fill="#4f8e62"/>
<ellipse cx="669.8" cy="484.1" rx="10.5" ry="10" transform="rotate(0,669.8,484.1)" fill="#5b9a68"/>
<path d="M669.8,484 L669,474.5 M669.8,484 L678,480 M669.8,484 L675,492 M669.8,484 L663,491 M669.8,484 L661,480" stroke="#9cc8a0" stroke-width="0.5" fill="none"/>
<ellipse cx="624" cy="469.6" rx="1.8" ry="8.5" transform="rotate(5,624,469.6)" fill="#5a9a68"/>
<ellipse cx="653.9" cy="436.9" rx="2" ry="6" transform="rotate(15,653.9,436.9)" fill="#5a9a68"/>
<circle cx="666.9" cy="430.1" r="2" fill="#98b060"/>
<path d="M548.6,510 L548.6,517 M553.5,531 L559.5,541 M544,551 L535,558" stroke="#b8c898" stroke-width="0.7" fill="none"/>
<path d="M0,-6.80 C2.31,-8.84 8.58,-8.84 8.25,-1.36 C8.25,3.40 3.63,6.12 0,8.50 C-3.63,6.12 -8.25,3.40 -8.25,-1.36 C-8.58,-8.84 -2.31,-8.84 0,-6.80Z" transform="translate(551.6,502) rotate(25)" fill="#4f9a48" stroke="#3a7f38" stroke-width="0.8"/>
<path d="M0,-10.00 C2.94,-13.00 10.92,-13.00 10.50,-2.00 C10.50,5.00 4.62,9.00 0,12.50 C-4.62,9.00 -10.50,5.00 -10.50,-2.00 C-10.92,-13.00 -2.94,-13.00 0,-10.00Z" transform="translate(543.5,529.5) rotate(-8)" fill="#66ad5c"/>
<path d="M0,-9.60 C3.22,-12.48 11.96,-12.48 11.50,-1.92 C11.50,4.80 5.06,8.64 0,12.00 C-5.06,8.64 -11.50,4.80 -11.50,-1.92 C-11.96,-12.48 -3.22,-12.48 0,-9.60Z" transform="translate(557,552.8) rotate(-25)" fill="#56a24e"/>
<path d="M0,-6.40 C2.52,-8.32 9.36,-8.32 9.00,-1.28 C9.00,3.20 3.96,5.76 0,8.00 C-3.96,5.76 -9.00,3.20 -9.00,-1.28 C-9.36,-8.32 -2.52,-8.32 0,-6.40Z" transform="translate(533,563.2) rotate(-45)" fill="#72b660"/>
<path d="M637,571 L641,556 M641,573 L636,560 M648,580 L648,568 M652,585 L658,570 M655,588 L662,575 M665,597 L672,578 M668,600 L676,592 M672,604 L666,595 M650,560 L653,549 M658,555 L660,545" stroke="#d0c0a0" stroke-width="0.6" fill="none"/>
<path d="M631.3,576.1 L645,583 L656,590 L667,601 L676.9,611.8" stroke="#6a4050" stroke-width="1.3" fill="none"/>
<path d="M631,546.8 L646.7,552.6 L659.3,568.9 L643.1,568 L631.3,558Z" fill="#5a9a50"/>
<path d="M630.9,555.4 L639,556 L642.2,562 L636,566.2 L631,563Z" fill="#4a8a48"/>
<path d="M656.6,559.9 L664,563 L674.2,572 L670,577.9 L663,576 L658,566Z" fill="#4e8a4a"/>
<ellipse cx="651.7" cy="578.4" rx="2.4" ry="2.3" transform="rotate(0,651.7,578.4)" fill="#4aa048"/>
<ellipse cx="667" cy="581.1" rx="5" ry="2.3" transform="rotate(10,667,581.1)" fill="#6ab060"/>
<ellipse cx="650.7" cy="595.7" rx="6.7" ry="4.7" transform="rotate(-10,650.7,595.7)" fill="#8ac080"/>
<ellipse cx="675" cy="585.5" rx="2.3" ry="10" transform="rotate(0,675,585.5)" fill="#4a8a48"/>
</svg></body></html>
